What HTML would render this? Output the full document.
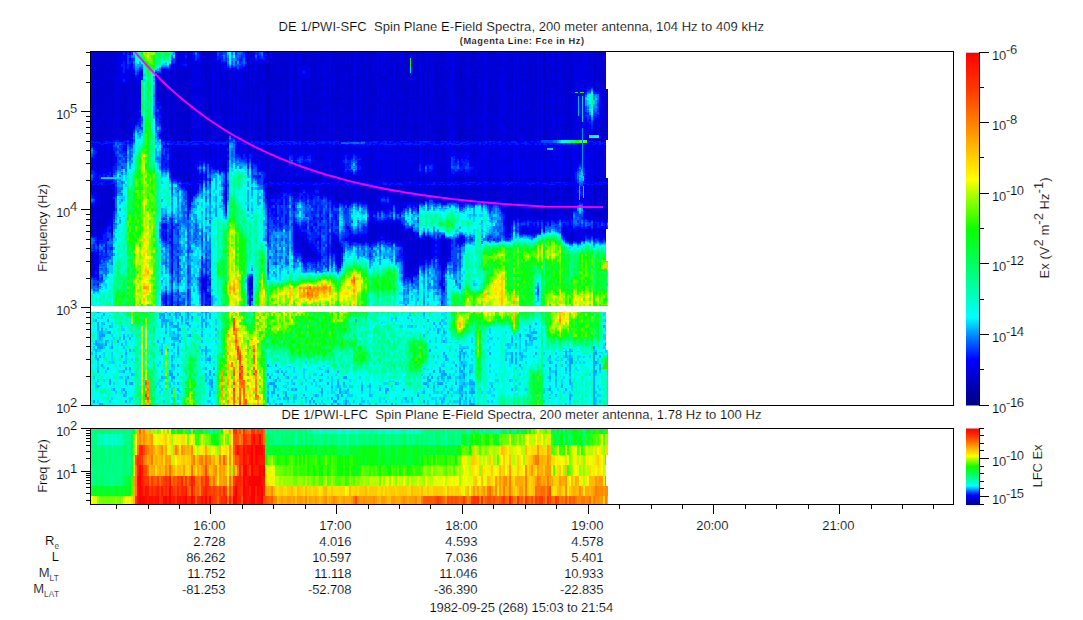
<!DOCTYPE html>
<html><head><meta charset="utf-8"><title>DE 1/PWI Spectra</title>
<style>
html,body{margin:0;padding:0;background:#fff;}
body{width:1083px;height:620px;overflow:hidden;}
svg{display:block;}
text{font-family:"Liberation Sans",sans-serif;fill:#000;stroke:#fff;stroke-width:0.16px;}
.t12{font-size:12px;}
.sup{font-size:12px;}
.ax{stroke:#000;stroke-width:1;fill:none;shape-rendering:crispEdges;}
</style></head><body>
<svg width="1083" height="620" viewBox="0 0 1083 620">
<defs>
<linearGradient id="cb" x1="0" y1="0" x2="0" y2="1">
<stop offset="0" stop-color="#ff0000"/>
<stop offset="0.1" stop-color="#ff3700"/>
<stop offset="0.2" stop-color="#ff8200"/>
<stop offset="0.3" stop-color="#ffd200"/>
<stop offset="0.36" stop-color="#ffff00"/>
<stop offset="0.4" stop-color="#afff00"/>
<stop offset="0.5" stop-color="#0aff00"/>
<stop offset="0.6" stop-color="#00ff64"/>
<stop offset="0.75" stop-color="#00ffff"/>
<stop offset="0.805" stop-color="#0080ff"/>
<stop offset="0.87" stop-color="#0000ff"/>
<stop offset="1" stop-color="#000080"/>
</linearGradient>
</defs>
<rect width="1083" height="620" fill="#fff"/>

<g fill="none" stroke-width="2" shape-rendering="crispEdges">
<path stroke="#0000a9" d="M268 52v3"/>
<path stroke="#0000bd" d="M98 64v3M98 88v6M98 103v6M98 112v3M98 127v6M98 139v2M98 187v3M98 220v12M112 193v3M112 202v3M126 97v3M162 79v9M162 91v3M164 106v1M164 108v1M172 94v3M172 119v2M172 127v6M178 85v3M178 94v3M178 112v3M178 124v3M178 139v1M184 103v3M188 73v3M188 85v3M188 91v12M188 106v9M188 119v2M188 124v12M188 139v2M188 175v6M188 185v1M206 73v3M206 106v6M206 115v3M206 121v6M206 133v3M210 67v3M210 79v3M210 85v3M210 103v6M210 121v3M210 133v3M252 64v3M252 73v3M252 85v3M252 115v3M268 58v3M268 63v16M268 82v6M268 91v50M268 154v3M268 169v3M268 175v3M268 180v2M268 185v8M270 97v3M338 52v3M338 67v3M338 88v3M338 97v3M338 119v2M338 133v3M338 196v5M350 64v3M370 109v3M370 121v3M370 193v3M392 109v3M396 76v3M418 52v6M424 52v3M424 70v3M442 55v3M442 133v3M444 130v3M460 55v6M460 64v9M460 76v3M460 91v6M460 103v3M460 119v2M460 130v10M460 190v3M460 196v3M474 58v3M474 85v3M474 94v3M474 199v1M544 52v9M544 64v9M544 79v3M544 88v9M544 100v9M544 115v3M544 119v2M544 130v10M544 185v8M544 196v9M544 208v6M544 220v3M570 178v3M594 52v6M594 61v9M594 79v3M594 132v1M594 138v1M594 187v15M594 211v6M594 229v3M594 235v3"/>
<path stroke="#0000d1" d="M94 52v9M94 67v12M94 85v15M94 103v3M94 109v3M94 115v3M94 121v3M94 130v11M94 187v5M94 207v10M94 220v3M94 226v6M94 255v1M94 259v12M96 55v24M96 82v21M96 106v12M96 119v5M96 130v11M96 185v5M96 206v5M96 220v6M96 232v1M98 52v12M98 67v21M98 94v9M98 109v3M98 115v12M98 133v6M98 145v6M98 154v18M98 178v3M98 185v2M98 190v30M98 232v3M100 52v6M100 61v45M100 109v9M100 119v2M100 124v17M100 185v14M100 205v29M102 52v30M102 85v33M102 119v22M102 154v3M102 160v3M102 185v32M102 220v6M104 55v15M104 73v9M104 85v12M104 100v18M104 119v20M104 151v6M104 166v2M104 185v5M104 193v3M104 202v25M106 52v66M106 119v22M106 145v3M106 151v3M106 157v3M106 166v2M106 185v40M108 52v12M108 67v6M108 79v18M108 100v12M108 115v3M108 119v2M108 127v6M108 136v4M108 185v35M110 52v3M110 58v48M110 109v9M110 119v20M110 151v6M110 160v6M110 185v32M112 52v88M112 152v16M112 185v8M112 196v6M112 205v13M114 55v3M114 70v6M114 85v9M114 97v12M114 112v3M114 136v3M116 52v3M116 61v3M116 70v3M116 82v3M116 94v3M116 112v3M116 119v2M116 124v3M116 130v3M118 130v3M120 83v8M120 94v24M120 119v14M120 136v3M122 85v33M122 119v20M124 86v53M126 70v3M126 85v12M126 100v40M128 85v3M128 112v6M130 71v69M132 73v60M134 82v36M134 119v2M140 94v3M158 83v2M158 92v5M160 79v20M162 70v3M162 76v3M162 88v3M162 94v12M162 109v3M162 118v6M162 136v1M164 73v33M164 107v1M164 109v9M164 119v5M164 130v6M166 72v46M166 119v21M168 82v3M168 100v6M168 112v6M170 71v5M170 79v6M170 88v3M170 94v6M170 103v15M170 119v21M172 66v1M172 69v25M172 97v22M172 121v6M172 133v8M172 145v12M172 160v6M172 172v5M174 76v3M174 85v3M174 100v3M174 121v3M174 133v3M174 139v2M176 68v50M176 121v20M176 154v3M176 163v3M176 172v3M178 52v33M178 88v6M178 97v15M178 115v9M178 127v12M178 140v1M178 145v18M178 166v12M180 67v51M180 119v22M180 145v3M180 154v6M180 163v3M180 169v3M180 174v4M182 58v3M182 70v71M182 148v3M182 154v3M182 163v3M182 172v3M184 68v2M184 71v32M184 106v35M184 148v3M184 154v3M184 160v3M184 166v3M184 172v10M186 71v47M186 119v14M186 136v5M186 157v3M186 173v2M186 179v3M188 52v21M188 76v9M188 88v3M188 103v3M188 115v4M188 121v3M188 136v3M188 145v30M188 181v1M188 186v7M190 52v9M190 67v15M190 85v33M190 119v8M190 130v11M190 157v3M190 163v3M190 172v3M190 178v4M190 185v17M192 63v1M192 88v3M192 97v3M192 103v3M194 67v3M194 79v3M194 91v3M194 103v3M194 109v3M194 127v3M194 178v3M196 88v3M196 121v3M196 130v6M198 64v3M198 85v6M198 94v3M198 119v2M198 130v3M200 76v3M200 91v3M200 103v3M202 52v89M202 145v9M202 157v3M202 176v1M202 178v2M202 277v13M204 52v3M204 61v9M204 73v3M204 88v6M204 97v3M204 106v3M204 115v3M206 52v21M206 76v30M206 112v3M206 118v3M206 127v6M206 136v5M206 145v16M206 280v3M206 298v3M208 52v21M208 76v65M208 151v3M210 52v15M210 70v9M210 82v3M210 88v15M210 109v12M210 124v9M210 136v5M210 145v15M212 52v3M212 64v3M212 91v3M212 109v3M212 115v3M214 61v3M214 97v3M216 62v14M216 79v39M216 121v15M216 139v2M216 151v3M220 63v55M220 119v11M220 133v8M220 154v3M220 163v5M220 169v3M222 76v15M222 97v3M222 103v15M222 119v2M222 124v17M224 71v2M224 79v9M224 91v3M224 100v6M224 109v9M224 119v8M224 130v3M224 136v5M226 70v71M226 151v12M226 166v2M226 185v17M228 71v20M228 94v9M228 106v12M228 124v3M228 133v3M232 71v47M232 119v13M234 82v3M234 88v3M236 71v5M236 79v21M236 103v15M236 119v17M238 112v3M240 71v2M240 91v9M240 112v6M240 121v12M240 136v5M242 76v3M242 82v3M242 88v3M242 100v6M242 109v3M242 124v6M242 136v3M244 71v8M244 88v3M244 94v3M244 100v3M244 106v3M244 112v6M244 119v2M244 130v9M246 71v5M246 79v6M246 88v12M246 103v3M246 112v3M246 119v14M246 136v4M246 148v3M248 52v3M248 58v83M248 145v3M248 151v3M250 67v3M250 94v3M250 280v3M252 52v3M252 58v6M252 67v6M252 76v9M252 88v27M252 118v23M252 145v9M252 160v3M252 283v3M254 70v3M254 76v3M254 85v21M254 109v3M254 124v6M254 133v8M256 73v3M256 82v9M256 97v3M256 115v3M256 121v9M256 133v3M256 139v1M258 62v56M258 119v22M258 148v6M258 157v5M260 64v9M260 76v30M260 112v3M260 119v11M260 136v5M262 64v3M262 79v6M262 121v3M262 127v3M264 63v28M264 94v6M264 103v12M264 121v6M264 130v9M264 151v3M266 62v79M266 148v3M266 157v3M266 163v3M266 169v3M266 185v1M268 61v2M268 79v3M268 88v3M268 145v9M268 157v12M268 172v3M268 178v2M268 193v12M268 211v1M270 62v35M270 100v18M270 119v22M270 148v9M270 175v3M270 179v3M270 185v10M272 60v31M272 94v24M272 119v17M272 154v3M272 177v5M272 185v8M274 52v39M274 94v6M274 103v15M274 119v22M274 151v3M274 172v10M274 185v8M276 52v66M276 119v22M276 145v21M276 169v13M276 185v9M278 52v6M278 61v3M278 67v3M278 73v6M278 82v12M278 97v3M278 109v3M278 115v3M278 119v14M278 166v3M278 190v2M280 52v89M280 163v6M280 172v6M280 180v2M280 185v8M282 52v18M282 73v45M282 119v22M282 163v3M282 172v3M282 178v4M282 185v2M284 58v27M284 88v3M284 100v6M284 185v1M286 52v89M286 148v3M286 154v6M286 163v3M286 175v7M288 52v39M288 94v47M288 172v3M288 181v1M292 61v3M292 70v3M292 76v6M292 100v3M292 106v6M292 181v1M292 187v5M294 52v66M294 119v22M294 145v8M294 163v3M294 169v13M294 185v11M296 55v3M296 61v21M296 85v33M296 119v22M296 178v4M296 185v9M296 235v3M298 52v6M298 64v3M298 76v3M298 88v3M298 94v15M298 115v3M298 121v6M298 130v3M298 136v3M298 175v7M298 187v6M298 231v1M298 235v6M302 52v13M302 79v9M302 91v24M302 121v9M302 133v8M302 175v6M302 238v12M304 52v13M304 79v39M304 119v22M304 169v3M304 178v4M304 238v20M306 52v14M306 79v9M306 91v50M306 145v3M306 151v2M306 167v2M306 178v4M306 185v1M306 243v15M308 52v9M308 64v1M308 79v3M308 88v3M308 94v3M308 100v12M308 115v3M308 119v2M308 124v3M308 130v6M308 178v4M308 247v3M308 256v1M310 55v3M310 61v6M310 70v6M310 79v18M310 100v27M310 130v3M310 136v5M310 181v1M310 187v6M310 247v9M312 52v66M312 119v22M312 169v3M312 174v8M312 185v1M312 187v1M312 250v9M314 52v3M314 58v42M314 103v15M314 121v20M314 164v2M314 175v7M314 253v5M316 52v45M316 100v18M316 119v22M316 148v3M316 154v6M316 172v10M316 255v3M318 58v3M318 79v3M318 85v9M318 100v12M318 115v3M318 119v5M318 136v5M318 181v1M320 52v66M320 119v22M320 148v21M320 172v10M320 185v2M320 190v3M322 55v9M322 67v3M322 76v6M322 85v6M322 97v6M322 106v3M322 112v3M322 124v3M322 130v3M322 139v2M322 157v3M322 169v3M322 175v3M322 190v3M324 55v3M324 61v3M324 73v3M324 91v3M324 97v3M324 103v3M324 112v3M324 127v6M324 185v2M324 190v3M326 58v3M326 64v3M326 76v6M326 88v3M326 100v6M326 112v3M326 121v9M326 136v5M326 151v3M326 185v8M328 52v89M328 145v6M328 163v6M328 175v7M328 185v8M330 100v3M332 52v66M332 119v8M332 130v11M332 151v3M332 160v3M332 166v6M332 175v7M332 185v12M332 247v2M334 52v15M334 70v6M334 85v6M334 94v15M334 112v3M334 133v3M334 190v3M334 241v6M336 52v89M336 145v6M336 157v6M336 169v3M336 175v7M336 185v16M336 242v8M338 55v12M338 70v18M338 91v6M338 100v19M338 121v12M338 136v5M338 145v15M338 163v19M338 185v11M338 201v1M338 244v9M338 256v2M338 259v3M340 52v6M340 61v3M340 67v6M340 76v6M340 85v6M340 94v12M340 112v3M340 119v2M340 127v14M340 181v1M340 185v5M340 196v4M340 247v3M340 253v12M342 52v21M342 79v9M342 91v9M342 103v6M342 112v6M342 121v3M342 130v3M342 136v5M342 178v4M342 185v16M344 52v30M344 88v21M344 112v6M344 119v22M344 178v4M344 185v16M346 52v6M346 64v9M346 79v12M346 94v3M346 103v9M346 115v3M346 119v8M346 139v2M346 181v1M346 190v9M348 52v66M348 119v22M348 145v3M348 176v6M348 185v16M350 52v9M350 67v51M350 119v22M350 148v3M350 176v6M350 185v17M352 52v21M352 76v15M352 94v24M352 119v22M352 176v6M352 185v16M352 239v1M354 100v3M356 76v3M356 82v6M356 119v8M356 139v2M356 199v1M358 52v89M358 148v3M358 175v7M358 187v14M358 238v3M360 52v3M360 58v3M360 67v6M360 76v3M360 103v3M360 109v3M360 119v2M360 124v6M360 181v1M360 187v6M360 196v3M360 239v2M362 52v81M362 136v5M362 177v5M362 185v16M362 239v2M364 52v3M364 58v57M364 119v22M364 154v9M364 172v3M364 181v1M364 185v8M364 196v3M364 239v2M366 64v3M366 82v3M366 88v3M366 97v3M366 109v9M366 127v3M366 139v2M366 163v3M366 178v3M366 196v3M366 239v1M368 52v89M368 157v3M368 166v3M368 175v3M368 179v3M368 185v19M368 232v9M370 52v57M370 112v6M370 119v2M370 124v17M370 145v3M370 151v31M370 185v8M370 196v15M370 219v1M370 222v22M372 52v89M372 145v6M372 154v6M372 169v3M372 173v9M372 185v11M372 199v12M372 221v21M374 52v3M374 58v6M374 73v24M374 100v12M374 115v3M374 119v5M374 127v14M374 169v3M374 181v1M374 190v12M374 222v4M374 229v12M376 55v3M376 61v15M376 79v3M376 88v15M376 106v12M376 121v3M376 127v3M376 133v3M376 139v2M376 172v3M376 178v4M376 185v8M376 196v9M376 208v2M376 223v6M376 232v3M376 238v3M378 73v3M378 97v3M378 130v3M378 190v3M378 229v3M380 52v89M380 148v3M380 163v6M380 172v10M380 185v10M380 205v5M380 223v11M382 70v9M382 82v6M382 94v3M382 103v3M382 118v3M382 124v3M382 136v3M382 185v2M382 223v3M382 229v4M384 61v6M384 76v9M384 103v6M384 112v3M384 124v6M384 136v3M384 181v1M384 187v6M384 226v3M386 55v15M386 73v21M386 97v21M386 119v14M386 136v4M386 176v6M386 185v8M386 207v2M386 223v15M388 70v9M388 82v3M388 94v6M388 109v3M388 119v8M388 136v3M388 229v3M390 52v3M390 58v6M390 67v9M390 79v3M390 85v6M390 100v6M390 112v6M390 119v8M390 130v6M390 139v2M390 187v3M390 229v11M392 52v57M392 112v6M392 119v22M392 163v3M392 173v2M392 178v4M392 185v15M392 223v18M394 58v3M394 85v3M394 91v3M394 100v3M394 106v6M394 190v3M394 232v3M396 52v24M396 79v62M396 145v9M396 157v25M396 185v19M396 220v22M398 55v3M398 61v33M398 97v21M398 124v6M398 133v8M398 145v3M398 178v3M398 185v17M398 205v1M398 223v18M400 55v3M400 64v12M400 79v12M400 97v6M400 106v3M400 112v21M400 136v5M400 169v6M400 179v3M400 185v8M400 199v6M400 208v1M400 226v9M400 238v3M402 61v6M402 70v3M402 76v18M402 97v3M402 103v3M402 112v3M402 121v15M402 177v1M402 181v1M402 185v2M402 196v3M402 232v6M404 52v51M404 106v35M404 145v6M404 157v12M404 178v4M404 185v18M404 231v13M404 250v3M406 52v66M406 119v22M406 173v2M406 185v16M406 232v24M406 262v11M408 52v6M408 61v57M408 119v2M408 124v6M408 139v2M408 151v3M408 172v3M408 178v4M408 185v8M408 199v3M408 231v25M408 259v14M410 58v6M410 73v3M410 79v3M410 85v3M410 97v3M410 103v3M410 121v3M410 133v3M410 179v2M410 187v3M410 232v3M410 265v3M412 52v89M412 148v3M412 154v6M412 163v3M412 169v3M412 175v7M412 185v17M412 231v43M414 58v6M414 67v9M414 85v15M414 103v12M414 119v22M414 145v3M414 163v3M414 175v7M414 185v16M414 237v1M414 241v6M414 250v18M416 52v18M416 73v33M416 109v9M416 119v22M416 145v6M416 176v2M416 181v1M416 187v3M416 193v8M416 238v3M416 244v18M418 58v83M418 145v37M418 185v18M418 239v29M422 52v18M422 73v12M422 88v30M422 119v14M422 136v5M422 178v4M422 185v5M422 193v8M422 239v2M422 244v13M424 55v15M424 73v68M424 145v16M424 172v10M424 185v16M424 239v20M426 97v3M428 52v89M428 148v9M428 160v1M428 174v1M428 176v6M428 185v11M428 238v21M430 55v3M430 61v3M430 67v6M430 76v3M430 85v3M430 91v3M430 106v12M430 119v5M430 133v8M430 185v2M430 240v7M430 253v3M432 79v3M432 85v3M432 97v6M432 112v3M432 119v5M432 130v6M432 190v3M434 52v89M434 148v3M434 157v3M434 175v7M434 185v11M436 52v63M436 119v22M436 151v3M436 157v3M436 169v3M436 177v5M436 185v16M438 52v39M438 94v24M438 119v22M438 148v3M438 154v3M438 163v6M438 172v3M438 178v4M438 185v16M440 52v6M440 61v3M440 67v12M440 82v6M440 91v12M440 106v12M440 119v22M440 181v1M440 185v11M440 199v1M442 52v3M442 58v75M442 136v5M442 145v15M442 163v19M442 185v16M442 239v28M442 268v1M444 52v12M444 67v63M444 133v8M444 148v3M444 154v28M444 185v16M444 240v21M444 262v1M446 52v3M446 58v9M446 70v15M446 88v9M446 100v9M446 112v6M446 119v22M446 174v1M446 178v4M446 185v16M446 241v3M446 247v3M446 253v4M446 259v2M448 70v3M448 97v3M448 103v3M448 112v3M448 130v3M448 187v3M448 193v3M448 240v1M448 250v6M450 55v3M450 61v3M450 67v3M450 73v6M450 88v3M450 94v3M450 100v3M450 106v12M450 124v3M450 187v9M454 61v3M454 67v3M454 73v3M454 79v15M454 97v3M454 109v9M454 119v2M454 124v3M454 139v2M454 180v2M454 190v3M454 196v3M456 52v89M456 145v3M456 175v7M456 185v16M458 55v3M458 61v3M458 67v33M458 103v15M458 121v20M458 148v4M458 176v2M458 179v3M458 185v2M458 190v11M460 52v3M460 61v3M460 73v3M460 79v12M460 97v6M460 106v13M460 121v9M460 140v1M460 145v6M460 154v2M460 157v3M460 174v8M460 185v5M460 193v3M460 199v6M460 239v2M462 52v89M462 145v3M462 175v7M462 185v16M464 52v89M464 151v1M464 175v7M464 185v17M466 52v18M466 73v6M466 82v3M466 88v3M466 94v9M466 106v3M466 112v6M466 119v5M466 127v14M466 187v3M466 193v8M468 79v3M468 88v3M468 97v12M468 112v3M468 130v11M468 181v1M468 196v4M470 52v39M470 94v47M470 151v1M470 176v6M470 185v16M472 52v15M472 70v48M472 119v2M472 124v17M472 145v3M472 151v6M472 175v7M472 185v16M474 52v6M474 61v24M474 88v6M474 97v21M474 119v22M474 145v17M474 172v10M474 185v14M474 200v2M476 52v12M476 67v6M476 76v42M476 119v11M476 133v8M476 178v3M476 185v5M476 199v2M478 61v12M478 76v6M478 88v9M478 100v6M478 109v3M478 115v3M478 119v5M478 127v3M478 133v3M478 174v1M478 181v1M478 185v14M480 58v12M480 73v6M480 97v6M480 109v9M480 124v6M480 133v8M480 181v1M480 187v6M480 199v2M482 52v39M482 94v24M482 119v22M482 145v3M482 154v3M482 169v3M482 175v7M482 185v16M486 67v6M486 97v3M486 106v3M486 119v2M488 52v18M488 76v21M488 100v12M488 115v3M488 119v2M488 124v17M488 160v3M488 166v3M488 175v7M488 185v16M490 52v27M490 82v36M490 119v22M490 148v3M490 154v3M490 166v3M490 173v9M490 185v16M492 52v78M492 133v8M492 151v3M492 172v3M492 178v4M492 185v16M494 52v6M494 61v3M494 67v3M494 73v3M494 79v9M494 91v24M494 119v20M494 178v4M494 185v2M494 190v10M496 55v42M496 100v18M496 119v2M496 124v15M496 148v3M496 154v6M496 175v3M496 185v16M498 52v3M498 58v9M498 70v6M498 79v3M498 85v3M498 91v12M498 106v9M498 119v2M498 130v3M498 136v5M498 178v4M498 185v5M498 193v8M500 55v3M500 64v3M500 70v3M500 91v3M500 97v3M500 121v3M500 136v5M500 185v5M500 193v6M502 64v3M502 73v3M502 97v3M502 119v2M504 106v3M504 115v3M504 119v5M504 187v3M506 55v21M506 79v15M506 97v6M506 109v9M506 119v11M506 133v8M506 151v3M506 160v3M506 173v2M506 178v4M506 185v23M506 211v3M508 55v3M508 61v9M508 73v12M508 88v6M508 106v3M508 115v3M508 124v17M508 174v1M508 178v4M508 187v3M508 199v6M508 208v24M510 52v12M510 67v63M510 133v8M510 145v3M510 157v6M510 169v3M510 175v7M510 185v23M510 211v6M510 220v1M512 52v42M512 97v21M512 119v22M512 148v3M512 154v3M512 173v9M512 185v34M514 199v3M516 52v9M516 64v63M516 130v11M516 173v9M516 185v5M516 193v24M520 52v36M520 91v27M520 119v14M520 136v3M520 145v3M520 151v6M520 177v5M520 185v33M520 231v2M522 52v30M522 88v6M522 100v3M522 106v3M522 112v6M522 119v14M522 139v1M522 154v3M522 177v1M522 180v2M522 187v3M522 193v3M522 199v3M522 208v9M522 230v2M524 73v3M524 79v3M524 100v3M524 127v3M526 52v6M526 64v12M526 79v27M526 109v15M526 127v3M526 133v3M526 139v2M526 178v4M526 187v21M526 214v3M526 231v1M528 52v3M528 58v9M528 70v9M528 82v3M528 91v3M528 97v3M528 106v12M528 119v2M528 124v17M528 185v8M528 196v3M528 205v3M528 231v1M530 52v54M530 109v9M530 119v22M530 145v3M530 154v3M530 166v3M530 177v5M530 187v3M530 193v25M530 231v1M532 52v66M532 119v22M532 151v3M532 166v3M532 178v4M532 185v32M532 230v3M534 52v6M534 61v27M534 91v18M534 115v3M534 119v2M534 124v6M534 154v3M534 175v6M534 185v20M534 208v10M534 230v2M536 52v89M536 145v3M536 151v3M536 157v6M536 174v1M536 177v5M536 185v32M536 231v2M538 88v3M538 109v3M538 193v3M538 208v6M540 52v9M540 64v66M540 133v6M540 151v6M540 163v3M540 172v3M540 181v1M540 185v5M540 193v25M542 58v3M544 61v3M544 73v6M544 82v6M544 97v3M544 109v6M544 118v1M544 121v9M544 145v37M544 193v3M544 205v3M544 214v6M544 223v1M546 58v3M546 64v3M546 70v30M546 103v9M546 115v3M546 119v21M546 175v7M546 185v2M546 190v6M546 202v15M548 55v6M548 64v6M548 76v3M548 82v3M548 91v3M548 106v3M548 112v3M548 121v3M548 136v4M548 190v3M548 196v9M550 52v6M550 64v30M550 97v3M550 103v15M550 119v14M550 136v4M550 151v3M550 163v3M550 175v7M550 185v2M550 193v24M552 61v3M552 70v3M552 82v3M552 91v3M552 136v3M552 187v3M552 202v3M554 55v3M554 61v12M554 79v6M554 97v3M554 106v12M554 127v3M554 136v4M554 185v2M554 196v3M554 208v3M554 214v3M556 52v63M556 119v21M556 174v8M556 185v29M558 61v3M558 67v6M558 82v3M558 88v3M558 94v3M558 103v15M558 127v3M558 133v3M558 173v2M558 179v3M558 187v12M558 217v1M562 52v3M562 58v24M562 85v12M562 100v6M562 109v6M562 119v2M562 124v12M562 139v1M562 174v1M562 178v4M562 185v5M562 193v21M562 231v1M564 55v9M564 67v15M564 85v9M564 103v12M564 119v2M564 124v6M564 133v3M564 139v1M564 178v3M564 187v6M564 196v15M564 231v2M566 52v57M566 112v28M566 148v3M566 154v6M566 169v3M566 178v4M566 185v32M566 231v4M568 52v6M568 61v6M568 70v9M568 82v9M568 94v3M568 100v6M568 109v9M568 119v11M568 136v4M568 178v3M568 185v14M568 202v3M568 208v3M568 214v4M568 231v1M568 235v6M570 52v88M570 148v3M570 154v21M570 181v1M570 185v26M570 214v2M570 229v12M572 52v36M572 91v18M572 112v28M572 181v1M572 185v24M572 231v10M576 55v3M576 61v3M576 67v3M576 112v3M576 127v3M576 232v3M578 55v12M578 79v3M578 91v6M578 100v6M578 112v3M578 119v2M578 133v6M578 231v1M578 235v5M580 55v3M580 61v3M580 121v3M580 199v2M584 67v9M584 82v6M584 120v1M584 130v3M584 136v3M584 197v2M584 231v2M588 55v3M588 61v6M588 70v3M588 79v3M588 199v3M588 208v6M588 231v2M590 52v15M590 70v3M590 76v8M590 131v4M590 138v1M590 178v4M590 185v8M590 196v3M590 202v15M590 231v2M594 58v3M594 70v9M594 82v8M594 91v1M594 121v11M594 133v2M594 139v2M594 145v37M594 185v2M594 202v9M594 217v6M594 226v3M594 232v2M596 52v32M596 127v8M596 138v3M596 151v3M596 157v6M596 169v3M596 176v6M596 185v33M598 52v3M598 61v3M598 67v19M598 130v3M598 138v3M598 163v3M598 173v2M598 178v3M598 185v8M598 196v3M598 211v6M598 232v2M600 52v9M600 64v15M600 82v7M600 116v2M600 120v21M600 151v6M600 160v3M600 166v16M600 185v34M600 230v3M602 52v6M602 61v6M602 70v23M602 100v3M602 110v2M602 121v20M602 154v3M602 175v3M602 181v1M602 185v8M602 196v21M602 230v3M604 52v66M604 119v22M604 157v3M604 166v3M604 174v1M604 176v6M604 185v34M604 230v3M606 52v18M606 73v45M606 119v22M606 145v3M606 157v9M606 172v10M606 185v32M606 228v1M606 230v3"/>
<path stroke="#0000e6" d="M92 52v89M92 163v5M92 185v8M92 206v14M92 223v11M92 254v21M94 61v6M94 79v6M94 100v3M94 106v3M94 112v3M94 118v3M94 124v6M94 160v8M94 185v2M94 192v2M94 205v2M94 217v3M94 223v3M94 232v3M94 253v2M94 256v3M94 271v4M96 52v3M96 79v3M96 103v3M96 118v1M96 124v6M96 145v3M96 159v13M96 180v2M96 190v6M96 199v7M96 211v9M96 226v6M96 233v2M96 254v15M96 274v2M98 151v3M98 172v2M98 175v3M98 181v1M98 235v6M98 251v15M98 268v6M100 58v3M100 106v3M100 118v1M100 121v3M100 145v26M100 181v1M100 199v6M100 234v2M102 82v3M102 118v1M102 145v9M102 157v3M102 163v7M102 181v1M102 217v3M102 226v8M104 52v3M104 70v3M104 82v3M104 97v3M104 118v1M104 139v2M104 145v6M104 157v9M104 168v1M104 190v3M104 196v6M104 227v3M106 118v1M106 148v3M106 154v3M106 160v6M106 168v4M106 179v3M106 225v3M106 244v3M108 64v3M108 73v6M108 97v3M108 112v3M108 118v1M108 121v6M108 133v3M108 140v1M108 146v2M108 149v21M108 181v1M108 220v6M110 55v3M110 106v3M110 118v1M110 139v1M110 145v6M110 157v3M110 166v6M110 179v3M110 217v4M110 229v3M112 140v1M112 148v4M112 168v9M112 179v3M112 218v4M112 223v3M112 229v5M114 52v3M114 58v12M114 76v9M114 94v3M114 109v3M114 115v21M114 139v1M114 190v3M116 55v6M116 64v6M116 73v9M116 85v9M116 97v15M116 115v4M116 121v3M116 127v3M116 133v7M118 52v78M118 133v6M120 52v3M120 58v9M120 70v13M120 91v3M120 118v1M120 133v3M120 139v2M122 67v3M122 80v2M122 83v2M122 118v1M122 139v1M124 83v3M124 139v2M126 61v3M126 76v9M126 140v1M126 145v1M128 79v6M128 88v24M128 118v21M130 64v7M130 140v1M132 71v2M132 133v2M134 74v8M134 118v1M134 121v6M136 79v45M138 80v29M140 75v1M140 78v1M140 84v4M140 91v3M140 97v6M156 82v9M156 92v14M158 74v2M158 78v5M158 85v7M158 97v3M160 75v4M160 99v2M160 109v3M162 69v1M162 73v3M162 106v3M162 112v6M162 124v3M162 131v5M162 137v4M164 72v1M164 118v1M164 124v6M164 136v2M164 139v1M166 71v1M166 118v1M166 140v1M166 226v3M166 294v1M166 296v5M166 304v2M168 71v11M168 85v15M168 106v6M168 118v22M170 70v1M170 76v3M170 85v3M170 91v3M170 100v3M170 118v1M170 140v1M170 145v3M170 151v3M170 160v12M172 63v3M172 67v2M172 157v3M172 166v6M172 177v4M172 223v3M172 232v3M172 244v6M172 256v3M172 265v6M172 296v5M172 304v3M174 66v1M174 69v7M174 79v6M174 88v12M174 103v18M174 124v9M174 136v3M174 145v32M176 55v3M176 60v8M176 118v3M176 145v9M176 157v6M176 166v6M176 175v2M178 163v3M178 178v1M180 52v15M180 118v1M180 148v6M180 160v3M180 166v3M180 172v2M180 178v3M182 52v3M182 65v5M182 145v3M182 151v3M182 157v6M182 166v6M182 175v7M184 52v3M184 58v6M184 67v1M184 70v1M184 145v3M184 151v3M184 157v3M184 163v3M184 169v3M184 185v2M186 68v3M186 118v1M186 133v3M186 145v12M186 160v13M186 175v4M186 185v1M186 187v1M188 193v15M190 61v6M190 82v3M190 118v1M190 127v3M190 145v12M190 160v3M190 166v6M190 175v3M190 202v2M192 59v4M192 64v24M192 91v6M192 100v3M192 106v35M192 145v27M192 175v7M192 185v9M194 58v9M194 70v9M194 82v9M194 94v9M194 106v3M194 112v15M194 130v11M194 145v33M194 181v1M194 185v9M196 62v26M196 91v30M196 124v6M196 136v5M196 145v15M196 166v16M196 185v8M198 61v3M198 67v18M198 91v3M198 97v22M198 121v9M198 133v8M198 145v16M198 174v7M200 59v17M200 79v12M200 94v9M200 106v35M200 145v15M200 175v3M202 154v3M202 160v5M202 170v2M202 173v3M202 177v1M202 180v1M202 272v2M202 275v2M202 290v4M202 295v3M204 55v6M204 70v3M204 76v12M204 94v3M204 100v6M204 109v6M204 118v23M204 145v15M206 161v5M206 175v3M206 275v5M206 283v6M206 295v3M206 304v2M208 73v3M208 145v6M208 154v9M210 160v7M210 295v3M210 301v3M212 55v9M212 67v24M212 94v15M212 112v3M212 118v23M212 145v16M214 52v9M214 64v33M214 100v41M214 145v23M216 52v10M216 76v3M216 118v3M216 136v3M216 145v6M216 154v15M218 61v80M218 148v3M218 154v3M218 166v3M220 61v2M220 118v1M220 130v3M220 145v9M220 157v6M220 168v1M222 65v11M222 91v6M222 100v3M222 118v1M222 121v3M222 145v23M224 68v3M224 73v6M224 88v3M224 94v6M224 106v3M224 118v1M224 127v3M224 133v3M224 145v24M226 69v1M226 145v6M226 163v3M226 168v3M226 178v4M226 202v5M226 208v2M228 70v1M228 91v3M228 103v3M228 118v6M228 127v6M228 136v4M230 70v24M230 97v37M232 70v1M232 118v1M232 132v2M234 71v11M234 85v3M234 91v27M234 119v16M236 68v3M236 76v3M236 100v3M236 118v1M236 136v4M236 148v3M238 71v41M238 115v26M238 145v3M238 151v1M240 69v2M240 73v18M240 100v12M240 118v3M240 133v3M240 145v8M242 70v6M242 79v3M242 85v3M242 91v9M242 106v3M242 112v12M242 130v6M242 139v2M242 145v8M244 69v2M244 79v9M244 91v3M244 97v3M244 103v3M244 109v3M244 118v1M244 121v9M244 139v2M244 145v8M246 64v7M246 76v3M246 85v3M246 100v3M246 106v6M246 115v4M246 133v3M246 140v1M246 145v3M246 151v3M248 55v3M248 148v3M248 154v2M248 283v3M250 52v15M250 70v24M250 97v44M250 145v8M250 279v1M250 283v22M252 55v3M252 154v4M252 163v1M254 58v12M254 73v3M254 79v6M254 106v3M254 112v12M254 130v3M254 145v9M254 157v3M256 62v11M256 76v6M256 91v6M256 100v15M256 118v3M256 130v3M256 136v3M256 140v1M256 145v17M258 60v2M258 118v1M258 145v3M258 154v3M258 162v7M260 62v2M260 73v3M260 106v6M260 115v4M260 130v6M260 145v20M262 61v3M262 67v12M262 85v36M262 124v3M262 130v11M262 145v23M264 61v2M264 91v3M264 100v3M264 115v6M264 127v3M264 139v2M264 145v6M264 154v17M266 58v4M266 145v3M266 151v6M266 160v3M266 166v3M266 172v10M266 186v4M266 193v1M266 196v3M268 55v3M268 205v4M268 212v5M268 223v3M270 57v5M270 118v1M270 145v3M270 157v18M270 178v1M270 195v3M272 52v8M272 91v3M272 118v1M272 136v5M272 145v9M272 157v20M272 193v2M272 196v2M272 202v3M274 91v3M274 100v3M274 118v1M274 145v6M274 154v18M274 193v3M276 118v1M276 166v3M276 194v5M278 58v3M278 64v3M278 70v3M278 79v3M278 94v3M278 100v9M278 112v3M278 118v1M278 133v8M278 148v18M278 169v13M278 185v5M278 192v3M278 196v3M280 145v18M280 169v3M280 178v2M280 193v3M282 70v3M282 118v1M282 145v18M282 166v6M282 175v3M282 187v6M284 52v6M284 85v3M284 91v9M284 106v35M284 145v3M284 151v31M284 186v2M286 145v3M286 151v3M286 160v3M286 166v9M286 185v4M286 190v2M286 220v3M288 91v3M288 145v15M288 163v9M288 175v6M288 185v2M290 52v39M290 94v15M290 112v6M290 119v5M290 130v11M290 145v3M290 168v14M290 185v2M292 52v9M292 64v6M292 73v3M292 82v18M292 103v3M292 112v29M292 145v8M292 166v15M292 185v2M292 192v3M294 118v1M294 153v7M294 161v2M294 166v3M294 196v1M294 199v3M294 226v3M294 231v7M294 241v6M296 52v3M296 58v3M296 82v3M296 118v1M296 145v9M296 165v13M296 194v2M296 230v5M296 238v11M298 58v6M298 67v9M298 79v9M298 91v3M298 109v6M298 118v3M298 127v3M298 133v3M298 139v2M298 145v9M298 167v8M298 185v2M298 193v1M298 228v3M298 232v3M298 241v10M300 52v15M300 70v3M300 76v65M300 145v8M300 167v15M300 185v5M300 231v4M300 237v14M302 65v4M302 76v3M302 88v3M302 115v6M302 130v3M302 145v9M302 165v1M302 167v8M302 181v1M302 185v2M302 235v3M302 250v6M304 65v5M304 75v4M304 118v1M304 145v11M304 163v6M304 172v6M304 185v5M304 234v1M304 236v2M304 258v4M306 66v3M306 70v9M306 88v3M306 148v3M306 153v4M306 163v4M306 169v9M306 186v5M306 202v1M306 238v5M306 258v3M308 61v3M308 65v4M308 70v9M308 82v6M308 91v3M308 97v3M308 112v3M308 118v1M308 121v3M308 127v3M308 136v5M308 145v8M308 167v11M308 185v5M308 243v4M308 250v6M308 257v2M310 52v3M310 58v3M310 67v3M310 76v3M310 97v3M310 127v3M310 133v3M310 145v8M310 168v13M310 185v2M310 193v2M310 245v2M310 256v3M312 118v1M312 145v11M312 160v9M312 172v2M312 186v1M312 188v5M312 196v1M312 245v5M312 259v1M314 55v3M314 100v3M314 118v3M314 145v9M314 157v3M314 162v2M314 166v9M314 185v3M314 190v3M314 217v3M314 223v3M314 251v2M314 258v1M316 97v3M316 118v1M316 145v3M316 151v3M316 160v12M316 185v3M316 249v6M316 258v2M318 52v6M318 61v18M318 82v3M318 94v6M318 112v3M318 118v1M318 124v12M318 145v24M318 172v9M318 185v2M318 256v1M320 118v1M320 145v3M320 169v3M320 187v3M320 193v3M320 244v3M322 52v3M322 64v3M322 70v6M322 82v3M322 91v6M322 103v3M322 109v3M322 115v9M322 127v3M322 133v6M322 145v12M322 160v9M322 172v3M322 178v4M322 185v5M322 193v2M322 196v1M324 52v3M324 58v3M324 64v9M324 76v15M324 94v3M324 100v3M324 106v6M324 115v12M324 133v8M324 145v37M324 187v3M324 193v1M326 52v6M326 61v3M326 67v9M326 82v6M326 91v9M326 106v6M326 115v6M326 130v6M326 145v6M326 154v28M326 193v1M328 151v12M328 169v6M328 193v6M328 244v3M330 52v48M330 103v38M330 148v12M330 166v16M330 185v10M332 118v1M332 127v3M332 145v6M332 154v6M332 163v3M332 172v3M332 197v4M332 202v2M332 236v11M332 249v1M334 67v3M334 76v9M334 91v3M334 109v3M334 115v18M334 136v5M334 145v37M334 185v5M334 193v10M334 236v5M334 247v5M336 151v6M336 163v6M336 172v3M336 201v3M336 235v7M336 250v4M336 256v3M338 160v3M338 202v4M338 239v5M338 253v3M338 258v1M338 262v5M340 58v3M340 64v3M340 73v3M340 82v3M340 91v3M340 106v6M340 115v4M340 121v6M340 145v36M340 190v6M340 200v2M340 244v3M340 250v3M340 265v2M342 73v6M342 88v3M342 100v3M342 109v3M342 118v3M342 124v6M342 133v3M342 145v12M342 169v9M342 201v1M344 82v6M344 109v3M344 118v1M344 145v9M344 174v4M344 201v2M346 58v6M346 73v6M346 91v3M346 97v6M346 112v3M346 118v1M346 127v12M346 145v9M346 175v6M346 185v5M346 199v5M348 118v1M348 148v8M348 157v1M348 174v2M348 201v6M348 236v2M350 61v3M350 118v1M350 145v3M350 151v5M350 157v2M350 173v3M350 202v1M350 235v7M352 73v3M352 91v3M352 118v1M352 145v10M352 174v2M352 201v1M352 237v2M352 240v2M354 52v21M354 76v24M354 103v15M354 119v22M354 145v3M354 151v1M354 176v6M354 185v16M354 238v3M356 52v24M356 79v3M356 88v31M356 127v12M356 145v8M356 176v6M356 185v14M356 200v2M356 237v4M358 145v3M358 151v4M358 173v2M358 185v2M358 201v1M358 235v3M358 241v1M360 55v3M360 61v6M360 73v3M360 79v24M360 106v3M360 112v7M360 121v3M360 130v11M360 145v8M360 175v6M360 185v2M360 193v3M360 199v3M360 238v1M360 241v1M362 133v3M362 145v8M362 154v12M362 169v8M362 201v1M362 236v3M362 241v1M364 55v3M364 115v4M364 145v9M364 163v9M364 175v6M364 193v3M364 199v4M364 236v3M364 241v2M366 52v12M366 67v15M366 85v3M366 91v6M366 100v9M366 118v9M366 130v9M366 145v18M366 166v12M366 181v1M366 185v11M366 199v3M366 237v2M366 240v1M368 145v12M368 160v6M368 169v6M368 178v1M368 204v4M368 226v6M368 241v1M370 118v1M370 148v3M370 211v8M370 220v2M370 244v1M372 151v3M372 160v9M372 172v1M372 196v3M372 211v4M372 217v4M372 242v2M374 55v3M374 64v9M374 97v3M374 112v3M374 118v1M374 124v3M374 145v24M374 172v9M374 185v5M374 202v10M374 220v2M374 226v3M374 241v1M376 52v3M376 58v3M376 76v3M376 82v6M376 103v3M376 118v3M376 124v3M376 130v3M376 136v3M376 145v27M376 175v3M376 193v3M376 205v3M376 210v2M376 221v2M376 229v3M376 235v3M376 241v1M378 52v21M378 76v21M378 100v30M378 133v8M378 145v3M378 151v3M378 157v9M378 169v3M378 173v9M378 185v5M378 193v16M378 223v6M378 232v7M380 145v3M380 151v12M380 169v3M380 195v3M380 199v6M380 210v1M380 222v1M380 234v5M382 52v18M382 79v3M382 88v6M382 97v6M382 106v12M382 121v3M382 127v9M382 139v2M382 145v37M382 187v7M382 205v4M382 222v1M382 226v3M382 233v2M384 52v9M384 67v9M384 85v18M384 109v3M384 115v9M384 130v6M384 139v2M384 145v36M384 185v2M384 193v3M384 203v7M384 222v4M384 229v8M386 52v3M386 70v3M386 94v3M386 118v1M386 133v3M386 140v1M386 145v31M386 193v4M386 202v5M386 209v1M386 221v2M386 238v3M388 52v18M388 79v3M388 85v9M388 100v9M388 112v7M388 127v9M388 139v2M388 145v37M388 185v10M388 205v5M388 220v9M388 232v9M390 55v3M390 64v3M390 76v3M390 82v3M390 91v9M390 106v6M390 118v1M390 127v3M390 136v3M390 145v37M390 185v2M390 190v7M390 222v7M390 240v1M392 118v1M392 145v18M392 166v7M392 175v3M392 200v6M392 208v1M392 218v2M392 221v2M392 241v1M394 52v6M394 61v24M394 88v3M394 94v6M394 103v3M394 112v29M394 145v38M394 185v5M394 193v10M394 222v10M394 235v6M396 154v3M396 204v2M396 208v2M396 211v1M396 242v2M398 52v3M398 58v3M398 94v3M398 118v6M398 130v3M398 148v30M398 181v1M398 202v3M398 206v4M398 211v1M398 222v1M398 241v2M400 52v3M400 58v6M400 76v3M400 91v6M400 103v3M400 109v3M400 133v3M400 145v24M400 175v4M400 193v6M400 205v3M400 209v2M400 221v5M400 235v3M400 241v3M402 52v9M402 67v3M402 73v3M402 94v3M402 100v3M402 106v6M402 115v6M402 136v5M402 145v32M402 178v3M402 187v9M402 199v11M402 227v5M402 238v6M404 103v3M404 151v6M404 169v9M404 203v5M404 228v3M404 244v6M404 253v6M404 262v3M406 118v1M406 145v28M406 175v7M406 201v3M406 231v1M406 256v6M406 273v3M408 58v3M408 118v1M408 121v3M408 130v9M408 142v1M408 145v6M408 154v18M408 175v3M408 193v6M408 202v2M408 230v1M408 256v3M408 273v4M410 52v6M410 64v9M410 76v3M410 82v3M410 88v9M410 100v3M410 106v15M410 124v9M410 136v5M410 145v15M410 163v16M410 181v1M410 185v2M410 190v12M410 231v1M410 235v30M410 268v7M412 145v3M412 151v3M412 160v3M412 166v3M412 172v3M412 202v4M412 229v2M412 274v6M414 52v6M414 64v3M414 76v9M414 100v3M414 115v4M414 148v15M414 166v9M414 184v1M414 201v3M414 233v4M414 238v3M414 247v3M414 268v6M416 70v3M416 106v3M416 118v1M416 151v25M416 178v3M416 185v2M416 190v3M416 201v4M416 237v1M416 241v3M416 262v8M418 203v2M418 236v3M418 268v3M420 52v12M420 67v24M420 94v24M420 119v22M420 177v5M420 185v16M420 239v11M420 253v9M422 70v3M422 85v3M422 118v1M422 133v3M422 145v18M422 172v6M422 182v1M422 190v3M422 201v1M422 237v2M422 241v3M422 257v6M424 161v8M424 171v1M424 201v2M424 236v3M424 259v6M426 52v45M426 100v41M426 145v16M426 176v6M426 185v11M426 239v19M428 145v3M428 157v3M428 161v2M428 169v5M428 175v1M428 196v6M428 235v3M428 259v3M430 52v3M430 58v3M430 64v3M430 73v3M430 79v6M430 88v3M430 94v12M430 118v1M430 124v9M430 145v15M430 174v8M430 187v9M430 238v2M430 247v6M430 256v4M432 52v27M432 82v3M432 88v9M432 103v9M432 115v4M432 124v6M432 136v5M432 145v17M432 175v7M432 185v5M432 193v6M432 244v3M432 256v1M434 145v3M434 151v6M434 160v7M434 169v6M434 196v4M436 115v4M436 145v6M436 154v3M436 160v9M436 172v5M436 201v1M438 91v3M438 118v1M438 145v3M438 151v3M438 157v6M438 169v3M438 175v3M438 201v1M438 250v7M440 58v3M440 64v3M440 79v3M440 88v3M440 103v3M440 118v1M440 145v36M440 196v3M440 200v1M440 240v10M440 253v6M442 160v3M442 201v2M442 236v3M442 267v1M442 269v5M442 277v12M444 64v3M444 145v3M444 151v3M444 201v2M444 239v1M444 261v1M444 263v5M446 55v3M446 67v3M446 85v3M446 97v3M446 109v3M446 118v1M446 145v29M446 175v3M446 201v1M446 239v2M446 244v3M446 250v3M446 257v2M446 261v1M448 52v18M448 73v24M448 100v3M448 106v6M448 115v15M448 133v8M448 145v15M448 163v19M448 185v2M448 190v3M448 196v6M448 239v1M448 241v9M448 256v2M450 52v3M450 58v3M450 64v3M450 70v3M450 79v9M450 91v3M450 97v3M450 103v3M450 118v6M450 127v14M450 145v10M450 160v3M450 171v11M450 185v2M450 196v5M450 240v4M450 247v9M452 52v89M452 175v7M452 185v16M454 52v9M454 64v3M454 70v3M454 76v3M454 94v3M454 100v9M454 118v1M454 121v3M454 127v12M454 145v8M454 175v5M454 185v5M454 193v3M454 199v2M456 148v8M456 173v2M456 201v1M458 52v3M458 58v3M458 64v3M458 100v3M458 118v3M458 145v3M458 152v2M458 174v2M458 178v1M458 187v3M458 201v1M458 240v2M460 151v3M460 156v1M460 171v3M460 205v1M460 236v3M460 241v2M460 244v2M462 148v9M462 172v3M462 201v1M462 239v3M464 145v6M464 152v2M464 170v2M464 173v2M466 70v3M466 79v3M466 85v3M466 91v3M466 103v3M466 109v3M466 118v1M466 124v3M466 145v8M466 173v9M466 185v2M466 190v3M466 201v1M468 52v27M468 82v6M468 91v6M468 109v3M468 115v15M468 148v5M468 175v6M468 185v11M468 200v2M470 91v3M470 145v6M470 152v14M470 173v3M470 201v1M472 67v3M472 118v1M472 121v3M472 148v3M472 157v6M472 172v3M472 201v2M474 118v1M474 162v4M474 169v3M474 202v1M476 64v3M476 73v3M476 118v1M476 130v3M476 145v24M476 173v5M476 181v1M476 190v9M476 201v1M478 52v9M478 73v3M478 82v6M478 97v3M478 106v3M478 112v3M478 118v1M478 124v3M478 130v3M478 136v5M478 145v29M478 175v6M478 199v2M480 52v6M480 70v3M480 79v18M480 103v6M480 118v6M480 130v3M480 145v36M480 185v2M480 193v6M480 201v1M482 91v3M482 118v1M482 148v6M482 157v12M482 172v3M482 201v1M484 52v66M484 119v22M484 145v3M484 151v3M484 160v3M484 169v3M484 174v1M484 178v4M484 185v16M486 52v15M486 73v24M486 100v6M486 109v10M486 121v20M486 145v37M486 185v17M488 70v6M488 97v3M488 112v3M488 118v1M488 121v3M488 145v15M488 163v3M488 169v6M488 201v2M490 79v3M490 118v1M490 145v3M490 151v3M490 157v9M490 169v4M490 201v4M492 130v3M492 145v6M492 154v18M492 175v3M492 201v1M494 58v3M494 64v3M494 70v3M494 76v3M494 88v3M494 115v4M494 139v2M494 145v33M494 187v3M494 200v2M496 52v3M496 97v3M496 118v1M496 121v3M496 139v2M496 145v3M496 151v3M496 160v15M496 178v4M496 201v1M498 55v3M498 67v3M498 76v3M498 82v3M498 88v3M498 103v3M498 115v4M498 121v9M498 133v3M498 145v33M498 190v3M498 201v1M500 52v3M500 58v6M500 67v3M500 73v18M500 94v3M500 100v21M500 124v12M500 145v9M500 157v25M500 190v3M500 199v5M502 52v12M502 67v6M502 76v21M502 100v19M502 121v20M502 148v21M502 172v10M502 185v25M504 52v54M504 109v6M504 118v1M504 124v17M504 145v21M504 172v10M504 185v2M504 190v20M506 52v3M506 76v3M506 94v3M506 103v6M506 118v1M506 130v3M506 145v6M506 154v6M506 163v10M506 175v3M506 184v1M506 208v3M506 214v21M508 52v3M508 58v3M508 70v3M508 85v3M508 94v12M508 109v6M508 118v6M508 145v29M508 175v3M508 185v2M508 190v9M508 205v3M508 232v3M510 64v3M510 130v3M510 148v9M510 163v6M510 172v3M510 208v3M510 217v3M510 221v11M512 94v3M512 118v1M512 145v3M512 151v3M512 157v16M512 219v6M514 52v89M514 151v3M514 157v3M514 163v3M514 169v3M514 175v3M514 181v1M514 185v14M514 202v16M516 61v3M516 127v3M516 145v28M516 190v3M516 217v3M518 52v89M518 145v12M518 173v5M518 179v3M518 185v32M520 88v3M520 118v1M520 133v3M520 139v2M520 148v3M520 157v20M520 182v1M520 218v3M520 228v3M520 233v1M522 82v6M522 94v6M522 103v3M522 109v3M522 118v1M522 133v6M522 140v1M522 145v9M522 157v20M522 178v2M522 185v2M522 190v3M522 196v3M522 202v6M522 217v2M522 228v2M522 232v1M524 52v21M524 76v3M524 82v18M524 103v24M524 130v11M524 145v37M524 185v34M524 228v5M526 58v6M526 76v3M526 106v3M526 124v3M526 130v3M526 136v3M526 145v33M526 185v2M526 208v6M526 217v3M526 227v4M526 232v1M528 55v3M528 67v3M528 79v3M528 85v6M528 94v3M528 100v6M528 118v1M528 121v3M528 145v37M528 193v3M528 199v6M528 208v11M528 229v2M528 232v1M530 106v3M530 118v1M530 148v6M530 157v9M530 169v8M530 185v2M530 190v3M530 218v2M530 225v1M530 229v2M530 232v1M532 118v1M532 145v6M532 154v12M532 169v9M532 217v3M532 226v4M532 233v1M534 58v3M534 88v3M534 109v6M534 118v1M534 121v3M534 130v11M534 145v9M534 157v18M534 181v1M534 205v3M534 218v2M534 226v4M534 232v1M536 148v3M536 154v3M536 163v11M536 175v2M536 217v3M536 227v4M538 52v36M538 91v18M538 112v29M538 145v21M538 169v13M538 185v8M538 196v12M538 214v5M538 230v3M540 61v3M540 130v3M540 139v2M540 145v6M540 157v6M540 166v6M540 175v6M540 190v3M540 218v2M540 227v5M542 52v6M542 61v79M542 148v6M542 157v3M542 169v3M542 175v7M542 185v34M544 224v3M546 52v6M546 61v3M546 67v3M546 100v3M546 112v3M546 118v1M546 145v30M546 187v3M546 196v6M546 217v2M548 52v3M548 61v3M548 70v6M548 79v3M548 85v6M548 94v12M548 109v3M548 115v6M548 124v12M548 145v3M548 150v32M548 185v5M548 193v3M548 205v13M550 58v6M550 94v3M550 100v3M550 118v1M550 133v3M550 145v3M550 150v1M550 154v9M550 166v9M550 187v6M550 217v6M552 52v9M552 64v6M552 73v9M552 85v6M552 94v42M552 139v1M552 145v3M552 150v32M552 185v2M552 190v12M552 205v13M554 52v3M554 58v3M554 73v6M554 85v12M554 100v6M554 118v9M554 130v6M554 145v37M554 187v9M554 199v9M554 211v3M554 217v2M556 115v4M556 145v29M556 214v5M558 52v9M558 64v3M558 73v9M558 85v3M558 91v3M558 97v6M558 118v9M558 130v3M558 136v4M558 145v28M558 175v4M558 185v2M558 199v18M558 218v2M560 52v88M560 163v3M560 174v1M560 177v5M560 185v32M562 55v3M562 82v3M562 97v3M562 106v3M562 115v4M562 121v3M562 136v3M562 145v29M562 175v3M562 190v3M562 214v6M562 229v2M562 232v2M564 52v3M564 64v3M564 82v3M564 94v9M564 115v4M564 121v3M564 130v3M564 136v3M564 145v33M564 181v1M564 185v2M564 193v3M564 211v8M564 228v3M564 233v2M566 109v3M566 145v3M566 151v3M566 160v9M566 172v6M566 217v3M566 227v4M566 235v3M568 58v3M568 67v3M568 79v3M568 91v3M568 97v3M568 106v3M568 118v1M568 130v6M568 145v33M568 181v1M568 199v3M568 205v3M568 211v3M568 218v2M568 229v2M568 232v3M570 145v3M570 151v3M570 175v3M570 211v3M570 216v5M570 225v4M570 241v1M572 88v3M572 109v3M572 145v36M572 209v4M572 214v3M572 227v4M572 241v1M574 55v48M574 106v6M574 115v21M574 139v1M574 163v3M574 178v3M574 185v5M574 193v16M574 231v10M576 52v3M576 58v3M576 64v3M576 70v42M576 115v12M576 130v10M576 145v24M576 185v5M576 194v10M576 231v1M576 235v6M578 52v3M578 67v12M578 82v9M578 97v3M578 106v6M578 115v4M578 121v12M578 139v1M578 145v20M578 195v8M578 229v2M578 232v3M578 240v2M580 52v3M580 58v3M580 64v54M580 119v2M580 124v16M580 145v18M580 197v2M580 201v1M580 229v12M582 52v54M582 107v33M582 151v3M582 197v5M582 229v9M584 52v15M584 76v6M584 88v6M584 100v3M584 108v1M584 112v8M584 121v9M584 133v3M584 139v1M584 145v6M584 157v8M584 186v5M584 194v3M584 199v5M584 229v2M584 233v3M584 238v2M586 52v35M586 88v1M586 123v1M586 127v13M586 148v3M586 154v3M586 166v3M586 185v23M586 211v7M586 230v3M588 52v3M588 58v3M588 67v3M588 73v6M588 82v5M588 125v16M588 145v24M588 172v10M588 185v14M588 202v6M588 214v5M588 228v3M588 233v3M590 67v3M590 73v3M590 84v3M590 128v3M590 139v2M590 145v33M590 193v3M590 199v3M590 217v3M590 227v4M590 233v2M592 52v33M592 130v5M592 138v3M592 145v3M592 160v9M592 175v7M592 185v34M592 230v4M594 90v1M594 92v1M594 116v2M594 223v3M594 234v1M594 238v3M596 84v5M596 121v6M596 145v6M596 154v3M596 163v6M596 172v4M596 218v2M596 230v8M598 55v6M598 64v3M598 86v5M598 118v3M598 124v6M598 133v2M598 145v18M598 166v7M598 175v3M598 181v1M598 193v3M598 199v12M598 217v3M598 229v3M598 234v2M600 61v3M600 79v3M600 89v6M600 97v3M600 103v13M600 118v2M600 145v6M600 157v3M600 163v3M600 219v2M600 229v1M600 233v5M602 58v3M602 67v3M602 93v7M602 103v7M602 112v9M602 145v9M602 157v18M602 178v3M602 193v3M602 217v3M602 228v2M602 233v4M604 118v1M604 145v12M604 160v6M604 169v5M604 175v1M604 219v2M604 228v2M604 233v5M606 70v3M606 118v1M606 148v9M606 166v6M606 217v4M606 226v2M606 229v1M606 233v4M606 238v1M608 52v15M608 76v24M608 103v12M608 119v2M608 124v17M608 145v3M608 175v3M608 180v2M608 185v14M608 202v3M608 208v3M608 231v3"/>
<path stroke="#0000fa" d="M92 143v1M92 145v1M92 158v5M92 168v2M92 181v4M92 193v2M92 204v2M92 220v3M92 234v2M92 252v2M92 275v2M94 141v1M94 143v7M94 155v2M94 158v2M94 168v3M94 178v6M94 194v5M94 203v2M94 235v2M94 249v1M94 251v2M94 275v3M96 141v1M96 143v2M96 148v3M96 154v5M96 172v2M96 175v5M96 183v2M96 196v3M96 235v2M96 241v2M96 252v2M96 269v2M96 276v1M98 141v1M98 143v2M98 174v1M98 182v2M98 241v5M98 249v2M98 266v2M98 274v6M98 283v2M100 141v2M100 144v1M100 171v4M100 179v2M100 182v1M100 184v1M100 236v4M100 241v1M102 141v3M102 170v7M102 179v2M102 234v6M102 241v1M104 141v2M104 144v1M104 169v5M104 179v3M104 183v2M104 230v4M106 144v1M106 172v2M106 175v2M106 182v3M106 228v4M106 247v6M108 142v1M108 144v2M108 148v1M108 170v5M108 179v2M108 182v3M108 226v1M108 238v3M110 140v2M110 143v2M110 182v3M110 221v5M112 141v1M112 143v5M112 182v1M112 184v1M112 222v1M112 226v3M112 234v1M114 140v1M114 151v15M114 184v6M114 193v4M114 199v12M116 157v6M118 139v1M120 55v3M120 67v3M120 141v1M122 52v12M122 70v10M122 82v1M122 140v2M124 55v6M124 73v6M124 82v1M124 145v6M126 52v9M126 64v6M126 73v3M126 142v2M126 146v5M128 69v10M128 139v1M130 52v3M130 58v3M130 141v3M132 63v8M132 135v3M132 139v2M134 70v4M134 127v2M136 77v2M136 124v1M138 75v5M138 109v13M140 71v4M140 76v2M140 79v5M140 88v3M140 103v7M140 112v6M142 70v6M142 79v1M156 76v6M156 91v1M156 112v5M156 118v3M158 73v1M158 76v2M158 100v2M158 103v6M160 73v2M160 101v5M160 112v3M160 118v2M160 121v2M160 132v1M160 134v3M162 68v1M162 127v4M162 141v1M162 143v1M162 154v3M162 160v9M162 224v5M162 232v3M162 298v3M164 69v3M164 138v1M164 140v1M164 145v3M164 159v1M164 223v6M164 235v4M166 69v2M166 142v1M166 144v4M166 151v6M166 163v3M166 223v3M166 232v9M166 293v1M166 295v1M166 301v3M166 306v1M168 69v2M168 140v1M168 145v3M170 66v1M170 68v2M170 142v1M170 148v3M170 154v6M170 172v2M170 175v2M170 235v3M170 241v3M170 307v2M172 61v2M172 141v2M172 226v6M172 235v9M172 250v6M172 262v3M172 271v3M172 292v4M172 301v3M174 64v2M174 67v2M174 141v1M174 143v2M174 177v2M176 52v3M176 58v2M176 141v3M176 177v2M178 179v3M178 262v6M178 304v3M180 142v1M182 55v3M182 61v4M182 141v3M182 182v1M182 185v3M184 55v3M184 65v2M184 143v1M184 182v1M184 184v1M186 52v3M186 58v6M186 66v2M186 142v1M186 183v2M186 186v1M186 188v2M188 141v1M188 182v1M188 184v1M188 208v8M188 289v6M190 141v1M190 143v2M190 182v2M190 204v3M192 52v7M192 143v1M192 172v3M192 182v3M192 194v5M194 55v3M194 142v1M194 182v3M194 194v2M196 61v1M196 142v1M196 160v6M196 182v3M196 193v1M198 58v3M198 142v1M198 161v5M198 170v4M198 181v2M198 184v6M200 52v7M200 142v3M200 160v1M200 163v1M200 178v2M200 181v2M202 142v3M202 165v1M202 169v1M202 172v1M202 181v5M202 258v1M202 262v3M202 271v1M202 274v1M202 294v1M202 298v8M204 142v1M204 144v1M204 160v1M204 278v12M206 141v2M206 166v1M206 170v5M206 178v3M206 184v3M206 274v1M206 289v6M206 306v1M208 141v1M208 143v1M208 279v1M208 294v4M210 142v3M210 167v5M210 178v3M210 283v2M210 304v1M212 141v1M212 144v1M212 161v6M214 143v2M214 168v1M216 141v2M216 144v1M216 169v1M218 60v1M218 141v1M218 145v3M218 151v3M218 157v9M220 58v3M220 142v1M220 144v1M220 172v1M222 62v3M222 141v1M222 144v1M222 168v3M224 63v5M224 141v1M224 169v2M224 193v3M226 62v7M226 171v7M226 182v1M226 207v1M226 210v1M228 68v2M228 140v2M228 143v5M228 151v3M228 157v3M230 94v3M230 134v1M232 66v1M232 68v2M232 134v4M234 68v3M234 118v1M234 135v1M236 67v1M236 140v1M236 145v3M236 151v3M238 70v1M238 142v3M238 148v3M238 152v2M240 67v2M240 142v3M240 153v3M242 66v1M242 68v2M242 142v1M242 144v1M242 153v6M244 67v2M244 153v1M246 52v9M246 141v2M246 154v3M248 141v1M248 156v7M248 166v2M248 289v1M250 141v2M250 153v1M250 278v1M252 143v1M252 158v2M252 164v4M252 277v6M252 286v3M252 292v2M254 52v6M254 141v2M254 154v3M254 160v3M256 60v2M256 143v2M256 162v2M258 56v4M258 142v1M258 144v1M258 169v3M258 178v1M260 59v3M260 141v1M260 143v2M260 165v7M260 175v3M262 59v2M262 141v1M262 168v3M264 52v6M264 60v1M264 141v2M264 144v1M264 171v1M264 178v6M266 52v3M266 56v2M266 142v3M266 182v1M266 190v3M266 194v2M268 141v1M268 143v1M268 182v3M268 209v2M268 217v3M268 226v3M268 232v11M270 52v5M270 141v2M270 183v2M270 198v10M272 141v2M272 144v1M272 182v1M272 184v1M272 195v1M272 198v1M272 208v6M274 141v1M274 143v1M274 182v3M274 196v3M274 202v3M274 208v3M274 214v3M274 220v3M276 142v1M276 182v3M276 199v3M276 205v12M276 223v1M278 141v1M278 143v1M278 145v3M278 182v1M278 184v1M278 195v1M280 144v1M280 182v2M280 196v3M280 202v3M280 217v3M280 223v4M282 142v2M282 182v3M282 193v4M282 199v6M282 211v3M282 223v1M284 142v3M284 148v3M284 183v2M284 188v5M286 141v1M286 143v2M286 182v3M286 189v1M286 192v1M286 196v9M286 214v6M288 142v1M288 144v1M288 160v3M288 182v1M288 184v1M288 187v7M290 91v3M290 109v3M290 118v1M290 124v6M290 142v1M290 148v7M290 166v2M290 182v3M290 187v6M292 143v2M292 153v2M292 182v3M292 195v1M294 160v1M294 182v1M294 184v1M294 197v2M294 205v6M294 217v9M294 229v2M294 238v3M294 247v3M294 253v3M296 141v1M296 144v1M296 154v6M296 161v4M296 182v3M296 196v3M296 224v6M296 249v4M298 141v2M298 144v1M298 154v4M298 163v4M298 182v2M298 194v3M298 226v2M298 251v2M300 67v3M300 73v3M300 153v3M300 166v1M300 182v3M300 190v3M300 229v2M300 235v2M300 251v2M302 69v7M302 141v4M302 154v2M302 163v2M302 166v1M302 182v1M302 184v1M302 187v6M302 196v3M302 225v4M302 232v3M302 256v2M302 259v2M304 70v1M304 73v2M304 141v2M304 144v1M304 156v4M304 161v2M304 182v3M304 193v3M304 226v3M304 232v2M304 235v1M304 262v2M306 69v1M306 142v3M306 157v2M306 161v2M306 182v3M306 191v7M306 199v2M306 203v2M306 224v5M306 232v6M306 261v2M308 69v1M308 142v1M308 144v1M308 153v3M308 162v5M308 182v3M308 190v4M308 239v4M308 259v3M310 141v2M310 153v2M310 163v5M310 182v3M310 195v4M310 220v3M310 226v3M310 243v2M310 259v2M312 142v1M312 144v1M312 156v4M312 182v3M312 193v3M312 197v3M312 211v3M312 226v6M312 241v4M312 260v2M314 141v1M314 154v3M314 160v2M314 182v2M314 188v2M314 193v2M314 196v1M314 244v7M314 259v3M316 141v4M316 182v1M316 188v2M316 193v3M316 205v3M316 223v3M316 238v6M316 247v2M316 260v4M316 265v2M318 142v1M318 144v1M318 169v3M318 182v3M318 187v3M318 193v3M318 238v3M318 252v1M318 254v2M318 257v3M320 141v1M320 143v2M320 182v2M320 196v3M320 211v6M320 220v3M320 226v6M320 235v9M320 247v3M320 253v9M322 144v1M322 182v1M322 184v1M322 195v1M322 197v2M322 217v3M324 144v1M324 182v1M324 184v1M324 194v2M326 141v1M326 143v2M326 182v3M326 194v3M328 142v3M328 182v1M328 184v1M328 199v3M328 205v3M328 214v3M328 220v3M328 226v3M328 235v9M328 247v12M330 144v4M330 160v6M330 182v3M330 195v5M332 141v1M332 143v2M332 182v3M332 201v1M332 204v7M332 217v3M332 223v3M332 229v7M332 250v8M334 182v3M334 203v2M334 234v2M334 252v1M336 143v2M336 182v3M336 204v4M336 214v6M336 229v3M336 254v2M336 259v6M338 142v1M338 144v1M338 183v2M338 206v2M338 237v2M338 267v1M340 141v3M340 182v3M340 202v1M340 243v1M340 267v1M342 141v1M342 144v1M342 157v12M342 182v3M342 202v2M342 247v6M344 141v1M344 144v1M344 154v6M344 163v11M344 182v3M344 203v3M346 141v1M346 154v1M346 172v3M346 182v1M346 184v1M346 204v1M346 238v3M348 156v1M348 158v2M348 163v3M348 170v4M348 183v1M348 207v1M348 226v3M348 235v1M348 238v3M350 144v1M350 156v1M350 159v1M350 171v2M350 183v2M350 203v2M350 230v5M350 242v3M352 141v1M352 144v1M352 155v3M352 172v2M352 182v3M352 202v1M352 234v3M352 242v1M354 73v3M354 118v1M354 148v3M354 152v2M354 175v1M354 182v1M354 184v1M354 201v1M354 236v2M354 241v1M356 153v3M356 172v4M356 182v3M356 235v2M356 241v1M358 141v1M358 144v1M358 155v4M358 160v13M358 183v2M358 202v2M358 234v1M358 242v1M360 141v1M360 153v5M360 160v6M360 170v5M360 182v1M360 184v1M360 234v1M360 236v2M360 242v1M362 153v1M362 166v3M362 182v1M362 184v1M362 202v2M362 234v2M362 242v1M364 182v1M364 184v1M364 203v2M364 233v3M364 243v1M366 141v1M366 143v2M366 182v3M366 202v2M366 234v3M366 241v1M368 141v3M368 182v2M368 208v5M368 217v3M368 221v5M368 242v1M370 141v1M370 182v3M370 245v2M372 141v1M372 143v2M372 182v2M372 215v2M374 143v1M374 182v3M374 212v2M374 217v3M374 242v1M376 144v1M376 182v3M376 212v3M376 218v3M376 242v1M378 142v3M378 148v3M378 154v3M378 166v3M378 172v1M378 182v3M378 209v2M378 221v2M378 239v2M380 141v2M380 182v3M380 198v1M380 211v2M380 214v1M380 221v1M380 239v2M382 141v1M382 144v1M382 182v3M382 194v4M382 203v2M382 209v1M382 221v1M382 235v2M382 238v2M384 142v1M384 196v1M384 202v1M384 210v2M384 220v2M384 237v3M386 182v1M386 197v2M386 210v4M386 220v1M386 241v2M388 141v3M388 182v3M388 195v2M388 203v2M388 210v3M388 217v3M388 241v1M390 143v1M390 182v2M390 197v13M390 219v3M390 241v1M392 142v2M392 182v1M392 184v1M392 206v2M392 209v2M392 217v1M392 220v1M392 242v2M394 141v2M394 183v2M394 203v2M394 221v1M394 241v1M396 141v2M396 182v2M396 206v2M396 210v1M396 212v2M396 218v2M396 244v2M398 141v1M398 143v2M398 182v1M398 184v1M398 210v1M398 212v2M398 220v2M398 243v3M400 141v2M400 182v1M400 211v2M400 214v3M400 220v1M400 244v2M400 250v3M402 142v3M402 182v2M402 210v1M402 224v3M402 244v3M402 253v3M404 142v1M404 144v1M404 182v3M404 226v2M404 259v3M404 265v14M404 280v1M406 142v1M406 182v3M406 204v4M406 230v1M406 276v1M408 141v1M408 182v3M408 204v1M408 229v1M410 141v1M410 160v3M410 183v2M410 202v2M410 229v2M410 275v3M412 141v2M412 144v1M412 182v3M412 206v3M412 227v2M412 280v3M414 141v3M414 182v2M414 204v1M414 232v1M414 274v2M416 142v1M416 182v3M416 205v2M416 234v3M416 270v5M418 141v3M418 182v3M418 205v6M418 233v3M418 271v3M420 64v3M420 91v3M420 118v1M420 145v19M420 172v5M420 182v2M420 201v2M420 238v1M420 250v3M420 262v3M422 142v1M422 144v1M422 163v9M422 183v2M422 202v1M422 235v2M422 263v2M424 143v1M424 169v2M424 182v3M424 203v1M424 233v3M424 268v1M426 143v2M426 161v4M426 174v2M426 182v3M426 196v5M426 237v2M426 258v2M428 143v2M428 163v2M428 166v3M428 182v2M428 262v3M430 142v1M430 144v1M430 160v5M430 172v2M430 182v3M430 196v1M430 237v1M430 260v2M432 141v4M432 162v2M432 170v5M432 182v2M432 239v5M432 247v9M432 257v2M434 142v1M434 167v2M434 200v2M434 239v19M434 259v1M436 141v3M436 182v3M436 202v1M436 241v3M436 247v3M436 253v3M438 141v3M438 182v3M438 236v14M438 257v2M438 262v1M440 141v4M440 182v2M440 201v1M440 239v1M440 250v3M440 259v6M440 283v3M442 142v1M442 183v2M442 203v2M442 235v1M442 274v3M442 301v3M444 142v1M444 144v1M444 182v2M444 203v2M444 236v3M444 268v3M444 286v4M446 143v2M446 182v3M446 202v2M446 262v5M448 141v2M448 160v3M448 182v2M448 238v1M448 258v4M450 144v1M450 155v5M450 163v8M450 182v2M450 201v1M450 239v1M450 244v3M450 256v2M450 259v1M452 141v2M452 145v12M452 173v2M452 182v1M452 184v1M454 142v1M454 153v3M454 171v1M454 174v1M454 182v2M454 201v1M456 141v1M456 143v1M456 156v7M456 172v1M456 183v2M456 238v4M456 244v3M458 142v2M458 154v5M458 171v3M458 182v2M458 202v1M458 238v2M458 242v2M460 141v2M460 160v7M460 170v1M460 182v3M460 206v1M460 235v1M460 243v1M460 246v1M462 141v1M462 144v1M462 157v2M462 163v3M462 171v1M462 182v3M462 202v2M462 205v1M462 236v3M462 242v2M464 141v1M464 143v1M464 154v7M464 169v1M464 172v1M464 182v1M464 184v1M464 202v2M464 237v1M464 239v3M466 141v1M466 143v1M466 153v6M466 172v1M466 183v2M466 202v1M468 142v1M468 145v3M468 153v3M468 157v3M468 171v4M468 182v2M468 202v1M470 141v2M470 144v1M470 166v1M470 170v3M470 183v1M470 202v1M472 141v1M472 143v2M472 163v4M472 169v3M472 183v2M472 203v1M474 141v2M474 144v1M474 166v3M474 183v2M474 203v1M476 141v1M476 143v2M476 169v4M476 182v3M476 202v1M478 141v4M478 182v2M478 201v1M480 141v1M480 182v1M480 184v1M482 141v4M482 182v3M482 202v1M484 118v1M484 141v1M484 143v1M484 148v3M484 154v6M484 163v6M484 172v2M484 175v3M484 182v3M484 201v1M486 144v1M486 183v2M486 202v1M488 141v4M488 182v3M488 203v2M490 143v1M490 182v3M490 205v1M492 142v3M492 182v3M492 202v2M492 205v1M494 142v1M494 144v1M494 182v1M494 184v1M494 202v2M494 239v1M496 141v4M496 182v3M496 202v1M498 141v1M498 143v2M498 182v3M498 202v2M500 143v1M500 154v3M500 182v3M500 204v3M502 141v7M502 169v3M502 182v3M502 210v2M504 141v2M504 144v1M504 166v6M504 182v1M504 184v1M504 210v4M504 220v6M506 141v4M506 183v1M506 235v3M508 141v1M508 143v2M508 182v2M508 235v2M510 141v2M510 182v1M510 184v1M510 232v2M510 235v3M512 143v2M512 183v2M512 225v1M514 143v8M514 154v3M514 160v3M514 166v3M514 172v3M514 178v3M514 182v3M514 218v2M516 183v2M516 220v3M516 229v2M518 141v2M518 157v16M518 178v1M518 182v3M518 217v2M520 141v4M520 183v2M520 221v2M520 226v2M520 234v1M522 141v2M522 144v1M522 182v3M522 219v3M522 226v2M522 233v1M524 141v1M524 144v1M524 182v3M524 219v2M524 226v2M524 233v1M526 182v3M526 220v2M526 225v2M526 233v1M528 141v2M528 144v1M528 182v1M528 184v1M528 219v1M528 227v2M528 233v1M530 141v3M530 182v2M530 220v1M530 223v2M530 226v3M530 233v1M532 142v3M532 182v1M532 184v1M532 220v2M532 223v3M532 234v1M534 141v4M534 182v1M534 184v1M534 220v2M534 233v1M534 235v1M536 141v2M536 182v3M536 220v2M536 223v4M536 233v1M538 143v2M538 166v3M538 183v2M538 219v1M538 228v2M540 142v1M540 182v3M540 220v7M540 232v1M542 143v5M542 154v3M542 160v9M542 172v3M542 182v3M542 219v1M544 182v1M544 184v1M544 227v5M546 143v1M546 182v1M546 184v1M546 219v3M546 223v2M548 143v2M548 182v3M548 218v3M550 182v2M550 223v3M552 183v1M552 218v2M554 143v2M554 182v2M554 219v2M556 143v1M556 183v2M556 219v4M558 183v2M558 220v1M560 144v19M560 166v8M560 175v2M560 183v2M560 217v2M562 144v1M562 182v3M562 220v2M562 227v2M562 234v1M564 183v2M564 219v1M564 223v5M564 235v2M566 143v2M566 182v2M566 220v2M566 225v2M566 238v2M568 182v3M568 220v1M568 226v3M568 241v1M570 182v3M570 221v4M570 242v1M572 143v2M572 182v3M572 213v1M572 217v3M572 225v2M572 242v1M574 52v3M574 103v3M574 112v3M574 136v3M574 145v18M574 166v12M574 181v4M574 190v3M574 209v2M574 229v2M576 143v1M576 169v3M576 180v1M576 182v3M576 190v4M576 204v3M576 208v2M576 228v3M576 241v1M578 144v1M578 165v3M578 184v6M578 193v2M578 203v2M578 226v3M578 242v1M580 118v1M580 144v1M580 163v1M580 187v2M580 196v1M580 227v2M580 241v1M582 106v1M582 143v8M582 154v10M582 187v2M582 190v1M582 196v1M582 202v1M582 238v2M584 94v6M584 103v5M584 109v3M584 143v1M584 151v6M584 165v3M584 175v3M584 180v1M584 184v2M584 191v3M584 204v16M584 227v2M584 236v2M584 240v1M586 87v1M586 89v3M586 118v5M586 124v3M586 143v1M586 145v3M586 151v3M586 157v9M586 169v9M586 179v4M586 184v1M586 208v3M586 218v1M586 229v1M586 233v3M588 87v2M588 122v3M588 141v1M588 143v2M588 169v3M588 182v2M588 219v1M588 226v2M588 236v2M590 87v2M590 119v2M590 124v4M590 142v3M590 182v3M590 220v2M590 226v1M590 235v3M592 85v2M592 129v1M592 142v3M592 148v12M592 169v6M592 182v2M592 219v1M592 229v1M592 234v2M594 93v1M594 115v1M594 120v1M594 141v1M594 143v1M594 182v3M596 89v3M596 118v3M596 141v2M596 144v1M596 182v1M596 184v1M596 220v2M596 223v7M598 91v3M598 111v1M598 115v3M598 121v3M598 142v3M598 182v3M598 220v2M598 228v1M598 236v2M600 95v2M600 100v3M600 183v1M600 221v5M600 227v2M600 238v3M602 141v2M602 144v1M602 182v3M602 220v1M602 226v2M602 237v3M604 141v1M604 143v2M604 183v2M604 221v2M604 226v2M606 141v1M606 143v1M606 182v3M606 221v5M606 237v1M606 239v2M608 67v9M608 100v3M608 115v4M608 121v3M608 141v1M608 148v27M608 178v2M608 182v1M608 184v1M608 199v3M608 205v3M608 211v8M608 229v2M608 234v1"/>
<path stroke="#001fff" d="M92 141v2M92 144v1M92 146v2M92 157v1M92 170v4M92 180v1M92 195v3M92 202v2M92 236v2M92 249v1M92 251v1M92 277v1M94 142v1M94 150v5M94 157v1M94 171v7M94 184v1M94 201v2M94 237v1M94 244v5M94 250v1M94 278v2M94 283v3M96 142v1M96 151v3M96 174v1M96 182v1M96 237v4M96 243v1M96 249v3M96 271v3M96 277v3M98 142v1M98 184v1M98 246v3M98 280v1M98 285v1M100 143v1M100 175v4M100 183v1M100 240v1M100 242v2M100 252v1M100 255v9M102 144v1M102 182v3M102 240v1M102 242v4M102 250v9M102 277v3M104 143v1M104 174v3M104 182v1M104 234v10M104 247v3M104 256v2M104 259v2M106 141v3M106 174v1M106 232v12M106 253v5M108 141v1M108 143v1M108 227v5M108 256v1M110 142v1M110 172v5M110 226v3M110 232v1M110 247v3M112 142v1M112 183v1M112 235v3M112 247v3M114 141v4M114 147v4M114 166v7M114 180v1M114 182v2M114 197v2M114 211v8M116 140v2M116 148v3M116 154v3M116 163v7M116 183v1M116 187v9M118 140v2M120 145v3M120 151v3M120 157v3M122 64v3M122 142v1M122 145v9M122 166v3M124 52v3M124 61v12M124 79v3M124 141v4M124 151v2M124 154v3M126 141v1M126 144v1M126 151v5M126 157v6M128 52v3M128 64v5M128 140v1M128 142v2M130 55v3M130 61v3M130 144v3M132 52v3M132 58v5M132 138v1M132 141v3M134 68v2M134 129v3M136 75v2M136 125v1M138 72v3M138 122v3M140 68v3M140 110v2M140 118v9M142 69v1M142 76v3M156 72v1M156 74v2M156 106v6M156 117v1M156 121v3M158 102v1M158 112v6M160 72v1M160 106v3M160 115v3M160 120v1M160 123v2M160 130v2M160 133v1M160 137v2M162 67v1M162 142v1M162 144v1M162 148v6M162 157v3M162 169v1M162 223v1M162 229v3M162 235v6M162 295v3M164 68v1M164 141v1M164 155v4M164 160v8M164 219v1M164 229v6M164 239v2M164 295v9M166 68v1M166 141v1M166 143v1M166 148v3M166 157v6M166 166v4M166 229v3M166 241v2M166 244v1M166 292v1M168 68v1M168 141v2M168 148v6M168 160v8M170 65v1M170 67v1M170 141v1M170 143v2M170 174v1M170 177v1M170 218v2M170 229v6M170 250v3M170 295v12M170 309v1M172 60v1M172 143v2M172 181v2M172 218v5M172 259v3M172 274v4M172 280v3M172 289v3M172 307v3M174 63v1M174 142v1M174 179v2M174 226v3M176 144v1M176 179v2M176 224v2M176 294v1M178 141v4M178 182v1M178 184v1M178 223v3M178 229v6M178 250v3M178 256v6M178 271v3M178 277v6M178 290v2M178 298v6M178 310v2M180 141v1M180 143v2M180 181v1M180 184v2M182 144v1M182 183v2M182 188v2M184 64v1M184 141v2M184 144v1M184 183v1M184 187v2M184 190v1M186 55v3M186 64v2M186 141v1M186 143v2M186 182v1M186 190v1M188 142v3M188 183v1M188 216v4M188 229v3M188 235v3M188 241v3M188 250v3M188 265v9M188 280v3M188 295v6M188 304v3M188 310v2M190 142v1M190 184v1M190 207v3M192 141v2M192 144v1M192 199v3M194 52v3M194 141v1M194 143v2M196 57v1M196 59v2M196 141v1M196 143v2M196 194v1M198 52v6M198 141v1M198 143v2M198 166v1M198 169v1M198 183v1M198 190v3M200 141v1M200 161v2M200 164v2M200 173v2M200 180v1M200 183v1M200 277v6M202 141v1M202 166v1M202 186v3M202 238v3M202 256v2M202 260v2M202 265v6M202 306v1M204 141v1M204 143v1M204 161v2M204 174v6M204 276v2M204 290v3M206 143v2M206 167v3M206 181v3M206 253v3M206 258v4M206 263v11M206 301v3M206 310v1M208 142v1M208 144v1M208 163v1M208 276v3M208 280v2M208 283v3M208 292v2M208 298v7M208 310v1M210 141v1M210 172v2M210 181v3M210 273v1M210 275v2M210 280v3M210 285v1M210 292v3M210 298v3M210 305v2M212 142v2M212 167v2M214 141v2M214 169v1M216 143v1M216 170v2M218 56v4M218 142v3M218 169v1M220 52v6M220 141v1M220 143v1M220 173v1M222 52v3M222 56v6M222 142v2M222 171v1M224 61v2M224 142v3M224 171v2M224 184v3M224 190v3M224 196v8M226 57v5M226 141v4M226 183v2M226 211v2M228 66v2M228 142v1M228 148v3M228 154v3M228 160v8M228 169v2M230 68v2M230 135v1M232 65v1M232 67v1M232 138v3M234 67v1M234 136v3M236 52v3M236 61v3M236 66v1M236 141v4M236 154v4M238 69v1M238 141v1M238 154v3M240 58v6M240 65v2M240 141v1M240 156v2M242 55v6M242 64v2M242 67v1M242 141v1M242 143v1M242 159v1M244 52v3M244 66v1M244 141v4M244 154v6M246 61v3M246 143v2M246 157v2M246 160v1M248 142v3M248 163v3M248 168v1M248 278v5M248 286v3M248 290v2M250 143v2M250 154v5M250 276v2M250 305v1M252 141v2M252 144v1M252 168v7M252 276v1M252 289v3M252 294v1M252 298v3M254 143v2M254 163v2M254 175v2M256 52v3M256 58v2M256 141v2M256 164v3M256 175v3M258 52v4M258 141v1M258 143v1M258 172v6M258 179v5M260 55v4M260 142v1M262 58v1M262 142v3M262 171v3M264 58v2M264 143v1M264 172v6M264 184v8M266 55v1M266 141v1M266 183v2M266 199v5M268 142v1M268 144v1M268 220v3M268 229v3M268 243v1M268 262v3M268 268v3M270 143v2M270 182v1M270 208v5M270 214v3M272 143v1M272 183v1M272 199v3M272 205v3M272 214v6M274 142v1M274 144v1M274 199v3M274 211v3M274 217v3M274 223v2M274 226v2M276 141v1M276 143v2M276 202v3M276 217v6M276 224v2M276 229v2M276 250v3M278 142v1M278 144v1M278 183v1M278 199v6M278 214v3M278 220v3M280 141v3M280 184v1M280 199v3M280 205v12M280 220v3M280 227v2M282 141v1M282 144v1M282 197v2M282 208v3M282 214v3M282 224v4M282 229v1M284 141v1M284 182v1M284 193v2M284 196v3M286 142v1M286 193v3M286 205v6M286 223v2M286 229v2M288 141v1M288 143v1M288 183v1M288 194v11M288 208v18M290 141v1M290 143v2M290 155v2M290 161v5M290 193v3M292 141v2M292 155v5M292 163v3M292 196v2M292 199v3M292 205v3M292 223v3M292 247v1M294 141v4M294 183v1M294 202v3M294 214v3M294 250v3M294 259v3M296 142v2M296 160v1M296 199v3M296 222v2M296 253v6M298 143v1M298 158v2M298 161v2M298 184v1M298 197v5M298 224v2M298 253v3M300 141v4M300 156v2M300 163v3M300 193v6M300 226v3M300 253v3M302 156v3M302 160v3M302 183v1M302 193v3M302 199v3M302 222v3M302 229v3M302 258v1M302 261v1M304 71v2M304 143v1M304 160v1M304 190v2M304 196v6M304 222v4M304 229v3M304 264v3M306 141v1M306 159v2M306 198v1M306 201v1M306 214v3M306 221v3M306 229v3M306 263v4M306 268v1M308 141v1M308 143v1M308 156v3M308 160v2M308 194v5M308 234v5M310 143v2M310 155v4M310 161v2M310 199v6M310 223v3M310 229v3M310 235v3M310 240v3M310 261v2M312 141v1M312 143v1M312 200v8M312 214v3M312 220v3M312 232v9M312 262v2M314 142v3M314 184v1M314 195v1M314 197v2M314 205v12M314 220v3M314 229v15M314 262v2M314 265v3M316 183v2M316 190v3M316 196v9M316 208v6M316 217v6M316 226v3M316 232v6M316 244v3M316 264v1M316 267v1M318 141v1M318 143v1M318 190v3M318 202v3M318 217v3M318 229v3M318 235v3M318 244v3M318 249v3M318 253v1M318 260v2M320 142v1M320 184v1M320 199v12M320 217v3M320 232v3M320 250v3M320 262v4M322 141v3M322 183v1M322 199v1M322 205v9M322 226v3M322 256v3M324 141v3M324 183v1M324 196v2M324 226v3M324 232v3M324 244v3M324 253v3M324 262v3M326 142v1M326 197v2M326 211v9M326 241v3M326 247v9M326 265v2M328 141v1M328 183v1M328 202v3M328 208v6M328 217v3M328 223v3M328 229v6M328 259v12M330 141v3M330 200v2M330 233v2M330 244v9M332 142v1M332 211v3M332 220v3M332 226v3M332 258v8M334 141v4M334 205v2M334 211v9M334 232v2M334 253v2M336 141v2M336 211v3M336 220v6M336 233v2M338 141v1M338 143v1M338 182v1M338 211v3M338 220v6M338 229v8M338 268v2M340 144v1M340 203v1M340 241v2M342 204v1M342 236v5M342 243v4M342 253v9M344 160v3M344 206v2M344 211v3M344 235v7M346 144v1M346 155v4M346 163v6M346 170v2M346 183v1M346 208v6M346 223v15M348 141v1M348 144v1M348 160v3M348 166v4M348 182v1M348 184v1M348 229v6M348 241v2M350 141v1M350 160v5M350 166v3M350 170v1M350 182v1M350 205v1M350 227v3M350 245v1M352 158v2M352 170v2M352 203v1M352 231v3M352 243v2M354 141v1M354 144v1M354 154v2M354 174v1M354 183v1M354 202v1M354 234v2M354 242v1M356 141v1M356 144v1M356 156v4M356 163v2M356 171v1M356 202v1M356 234v1M356 242v1M356 244v1M358 159v1M358 182v1M358 204v2M358 228v6M358 243v1M360 144v1M360 158v2M360 166v4M360 183v1M360 202v2M360 232v2M360 235v1M360 243v1M362 141v1M362 144v1M362 183v1M362 204v3M362 228v1M362 231v3M362 243v3M364 141v1M364 144v1M364 183v1M364 226v7M364 244v1M366 142v1M366 204v1M366 227v7M366 242v1M368 144v1M368 184v1M368 213v1M368 220v1M368 243v2M370 142v3M370 253v4M372 142v1M372 184v1M372 244v2M372 247v3M374 141v2M374 144v1M374 214v1M374 243v2M376 141v3M376 215v3M376 243v2M378 141v1M378 211v1M378 220v1M378 241v1M380 143v2M380 213v1M380 215v2M380 219v2M380 241v4M382 142v2M382 198v1M382 201v2M382 210v1M382 220v1M382 237v1M382 240v1M384 141v1M384 143v2M384 182v3M384 197v2M384 201v1M384 212v2M384 218v2M384 240v2M386 141v4M386 183v2M386 199v3M386 214v3M386 218v2M386 243v1M388 144v1M388 197v2M388 202v1M388 213v2M388 242v1M388 244v1M390 141v2M390 144v1M390 184v1M390 210v2M390 217v2M390 242v1M390 244v1M392 141v1M392 144v1M392 183v1M392 211v1M392 214v3M392 244v2M394 143v2M394 220v1M394 242v1M396 143v2M396 184v1M396 214v4M396 246v1M396 259v3M398 142v1M398 183v1M398 219v1M398 246v1M398 256v2M398 259v1M400 143v2M400 183v2M400 213v1M400 218v2M400 246v1M400 253v6M402 141v1M402 184v1M402 211v1M402 222v2M402 247v6M402 256v5M404 141v1M404 143v1M404 208v2M404 225v1M404 279v1M404 281v2M406 141v1M406 143v2M406 228v2M406 277v2M408 143v2M408 205v2M408 208v1M408 228v1M408 277v5M410 142v3M410 182v1M410 204v3M410 228v1M410 278v2M412 143v1M412 209v4M412 226v1M414 144v1M414 205v2M414 208v1M414 276v1M416 141v1M416 143v2M416 207v1M416 232v2M416 275v2M418 144v1M418 211v1M418 232v1M418 274v1M420 141v4M420 164v5M420 170v2M420 184v1M420 203v1M420 265v1M422 141v1M422 143v1M422 203v1M422 265v1M424 141v2M424 144v1M424 204v1M424 232v1M424 265v3M424 269v2M426 141v2M426 165v1M426 172v2M426 236v1M426 260v3M428 141v2M428 165v1M428 184v1M428 202v2M428 233v2M428 265v2M430 141v1M430 143v1M430 165v1M430 169v3M430 197v3M430 236v1M430 262v3M432 164v6M432 184v1M432 199v1M432 237v2M434 141v1M434 143v2M434 182v3M434 202v1M434 234v5M434 258v1M434 260v8M436 144v1M436 203v1M436 239v2M436 244v3M436 250v3M436 256v3M438 144v1M438 202v2M438 235v1M438 259v3M438 263v6M440 184v1M440 202v1M440 238v1M440 265v6M440 280v3M442 141v1M442 143v2M442 182v1M442 289v6M444 141v1M444 143v1M444 184v1M444 235v1M444 271v4M444 277v6M444 290v2M446 141v2M446 204v1M446 238v1M446 267v3M448 143v2M448 184v1M448 202v1M450 141v3M450 184v1M450 202v1M450 258v1M450 260v2M452 143v2M452 169v4M452 183v1M452 201v2M452 240v4M452 247v3M452 256v1M454 141v1M454 143v2M454 156v3M454 160v6M454 169v2M454 172v2M454 184v1M454 202v1M454 262v9M456 142v1M456 144v1M456 163v3M456 171v1M456 182v1M456 202v1M456 242v2M456 265v2M458 141v1M458 144v1M458 159v2M458 163v1M458 169v2M458 184v1M458 203v1M460 143v2M460 167v3M460 207v3M460 234v1M460 247v1M460 250v3M460 256v3M462 142v2M462 159v4M462 166v5M462 204v1M462 206v1M462 235v1M462 244v1M464 142v1M464 144v1M464 161v8M464 183v1M464 204v3M464 236v1M464 238v1M464 242v1M466 142v1M466 144v1M466 159v7M466 169v3M466 182v1M466 203v1M468 141v1M468 143v2M468 156v1M468 160v3M468 169v2M468 184v1M468 203v1M470 143v1M470 167v3M470 182v1M470 184v1M470 203v1M470 237v1M470 239v1M472 142v1M472 167v2M472 182v1M472 204v1M472 239v1M474 143v1M474 182v1M474 204v2M476 142v1M476 203v1M478 184v1M478 202v1M480 142v3M480 183v1M480 202v1M482 203v2M484 142v1M484 144v1M484 202v1M486 141v3M486 182v1M486 203v1M488 205v1M488 238v3M490 141v2M490 144v1M490 206v7M490 236v2M492 141v1M492 204v1M492 206v2M494 141v1M494 143v1M494 183v1M494 204v1M494 238v1M494 240v1M496 203v2M498 142v1M498 204v2M498 238v2M500 141v2M500 144v1M500 207v3M502 212v3M504 143v1M504 183v1M504 214v6M504 226v10M506 182v1M506 238v2M508 142v1M508 184v1M508 237v3M510 143v2M510 183v1M510 234v1M512 141v2M512 182v1M512 226v7M514 141v2M514 220v1M516 141v4M516 182v1M516 223v6M516 231v1M518 143v2M518 219v3M520 223v3M522 143v1M522 222v1M522 225v1M522 234v1M524 142v2M524 221v2M524 225v1M526 141v4M526 222v3M526 234v1M528 143v1M528 183v1M528 220v2M528 225v2M528 234v1M530 144v1M530 184v1M530 221v2M530 234v1M532 141v1M532 183v1M532 222v1M532 235v1M534 183v1M534 222v4M534 234v1M534 236v1M536 143v2M536 222v1M536 234v1M538 141v2M538 182v1M538 220v2M538 225v3M538 233v1M540 141v1M540 143v2M540 233v1M542 220v2M544 143v2M544 183v1M546 144v1M546 183v1M546 222v1M546 225v1M548 221v2M550 143v2M550 184v1M552 143v2M552 182v1M552 184v1M552 220v2M554 184v1M554 221v2M556 144v1M556 182v1M556 223v1M556 226v1M558 143v2M558 182v1M558 221v3M560 143v1M560 182v1M560 219v1M562 143v1M562 222v5M562 235v1M564 143v2M564 182v1M564 220v2M564 237v2M566 184v1M566 222v3M566 240v2M568 143v2M568 221v5M570 143v2M570 243v1M572 220v5M572 243v1M574 143v2M574 211v1M574 227v2M574 241v1M576 144v1M576 172v8M576 181v1M576 207v1M576 210v3M576 226v2M578 143v1M578 168v3M578 183v1M578 190v3M578 220v3M578 243v1M580 143v1M580 164v2M580 186v1M580 189v2M580 194v2M580 202v2M580 216v1M580 223v4M580 242v1M582 164v4M582 186v1M582 189v1M582 191v5M582 203v1M582 217v2M582 227v2M582 240v1M584 144v1M584 168v6M584 178v2M584 181v3M584 220v7M586 92v2M586 112v3M586 116v2M586 144v1M586 178v1M586 183v1M586 219v1M586 227v2M586 236v2M588 89v2M588 113v2M588 117v1M588 119v3M588 142v1M588 184v1M588 220v2M588 238v1M590 89v1M590 116v3M590 121v3M590 141v1M590 222v1M590 238v2M592 87v1M592 123v1M592 125v4M592 141v1M592 184v1M592 220v1M592 225v1M592 228v1M592 236v1M594 111v1M594 113v2M594 118v2M594 142v1M594 144v1M594 241v1M596 92v2M596 114v1M596 116v2M596 143v1M596 183v1M596 222v1M596 238v1M598 103v3M598 109v2M598 114v1M598 141v1M598 222v6M598 238v2M600 141v4M600 182v1M600 184v1M600 226v1M600 241v1M602 143v1M602 221v2M602 240v2M604 142v1M604 182v1M604 223v3M604 238v2M606 142v1M606 144v1M608 142v3M608 183v1M608 219v3M608 228v1M608 235v2"/>
<path stroke="#0048ff" d="M92 154v3M92 174v1M92 177v3M92 198v1M92 244v5M92 250v1M92 278v2M94 199v2M94 238v2M94 241v3M94 280v3M94 289v1M96 244v5M96 280v6M98 281v2M98 286v2M100 250v2M100 253v2M100 264v1M100 268v1M100 278v4M102 246v1M102 259v1M102 262v2M102 265v1M102 268v2M102 274v3M102 280v1M104 252v4M104 258v1M104 261v2M104 265v1M106 258v3M106 268v3M108 175v2M108 232v6M108 244v6M108 253v3M108 257v3M110 233v6M110 244v3M110 250v3M110 256v3M112 238v3M112 244v3M112 253v3M114 145v2M114 173v2M114 179v1M114 181v1M114 219v3M114 223v1M116 146v2M116 151v3M116 170v2M116 180v3M116 184v3M116 196v2M116 208v3M118 142v3M118 148v3M118 154v12M120 142v2M120 148v3M120 163v3M122 143v2M122 154v2M122 157v6M122 172v1M124 153v1M124 157v1M124 160v3M126 156v1M126 169v2M128 55v9M128 141v1M128 144v1M130 147v3M130 151v9M132 144v4M134 58v3M134 64v4M134 132v2M134 136v1M134 139v3M136 72v1M136 74v1M136 126v2M138 70v2M138 125v2M138 130v2M140 67v1M140 127v2M142 67v2M142 118v3M142 127v3M156 71v1M156 73v1M156 124v6M158 71v2M158 109v3M158 118v8M158 132v5M160 69v1M160 71v1M160 125v2M160 129v1M160 229v3M160 235v1M162 145v3M162 170v2M162 218v2M162 221v2M162 294v1M162 301v4M164 67v1M164 142v3M164 148v7M164 168v2M164 217v2M164 241v2M164 293v2M164 304v3M166 67v1M166 170v2M166 215v2M166 218v2M166 221v2M166 243v1M166 245v2M166 262v2M166 265v1M166 291v1M166 307v1M166 310v1M168 67v1M168 143v2M168 154v6M168 168v2M168 224v5M168 232v12M168 295v6M168 304v3M170 64v1M170 178v1M170 217v1M170 220v9M170 238v3M170 244v6M170 253v20M170 293v2M172 57v3M172 183v12M172 212v6M172 278v2M172 283v6M174 59v4M174 181v1M174 244v6M174 253v3M174 259v3M174 301v3M176 181v2M176 223v1M176 226v9M176 244v9M176 256v3M176 271v3M176 292v2M176 301v5M176 307v5M178 183v1M178 185v2M178 190v2M178 216v1M178 220v3M178 235v12M178 268v3M178 274v3M178 289v1M178 292v6M180 182v1M180 186v2M180 295v3M180 301v6M182 205v3M182 301v3M184 189v1M184 191v2M184 196v3M184 211v12M184 294v1M184 298v7M186 191v9M186 202v3M186 211v3M188 223v6M188 232v3M188 238v3M188 244v6M188 253v6M188 274v6M188 283v3M188 301v3M190 210v3M190 247v3M192 205v1M194 196v1M194 232v3M194 238v2M196 55v2M196 58v1M196 195v2M196 223v9M196 235v3M196 241v1M198 167v2M198 193v1M198 278v2M200 170v3M200 184v3M200 190v1M200 283v8M200 292v1M202 167v2M202 189v2M202 230v8M202 241v6M202 259v1M202 307v4M204 163v1M204 172v2M204 180v1M204 264v4M204 274v2M204 293v12M206 187v3M206 196v3M206 217v3M206 235v6M206 246v4M206 256v2M206 262v1M206 307v3M206 311v1M208 164v1M208 166v1M208 178v3M208 259v3M208 268v3M208 274v2M208 282v1M208 286v3M208 305v2M208 311v1M210 174v4M210 184v3M210 193v3M210 220v3M210 250v3M210 259v9M210 271v2M210 274v1M210 278v2M210 286v6M210 307v3M212 169v2M212 172v1M214 170v3M218 52v4M218 170v1M220 174v1M222 55v1M224 52v3M224 59v2M224 173v2M224 178v3M224 182v2M224 187v3M224 204v1M226 52v5M226 213v3M228 64v2M228 168v1M228 171v1M228 184v3M230 67v1M230 139v3M232 61v4M232 141v1M232 151v6M232 160v1M234 66v1M234 139v1M234 142v1M236 55v3M236 64v2M236 158v3M238 58v3M238 65v4M238 157v2M240 55v3M240 64v1M240 158v4M242 52v3M242 61v3M242 160v2M244 55v3M244 64v2M244 160v2M246 159v1M246 161v2M248 277v1M248 292v3M248 298v6M250 159v3M250 275v1M252 175v5M252 274v2M252 295v1M254 165v4M254 177v1M256 57v1M256 167v5M256 178v2M260 52v3M260 178v7M262 56v2M262 174v11M264 192v4M264 199v3M266 204v4M268 244v3M268 250v3M268 259v3M268 265v3M268 271v3M270 213v1M270 217v8M270 226v3M270 232v3M270 241v1M270 244v3M270 256v3M272 220v12M274 205v3M274 225v1M274 228v1M274 244v3M274 262v3M276 226v3M276 231v1M276 238v3M276 262v3M278 205v9M278 223v5M280 229v2M280 244v3M280 256v6M282 205v3M282 217v6M282 228v1M282 230v2M282 238v3M284 195v1M284 199v27M286 211v3M286 225v4M286 231v1M286 238v6M286 256v9M288 205v3M288 226v5M288 247v4M288 253v2M288 262v2M290 157v4M292 161v2M292 198v1M292 202v3M292 208v6M292 217v3M292 232v9M292 248v2M294 211v3M294 256v3M294 265v3M296 202v3M296 208v3M296 218v4M296 259v3M298 160v1M298 222v2M298 256v2M300 158v5M300 199v1M300 225v1M300 256v2M300 259v2M302 159v1M302 220v2M302 262v1M304 192v1M304 202v2M304 205v1M304 211v3M304 218v4M304 267v2M306 205v2M306 208v6M306 220v1M306 267v1M306 269v2M308 159v1M308 199v1M308 202v2M308 205v3M308 211v6M308 223v3M308 229v5M308 262v2M308 265v3M310 159v2M310 208v12M310 232v3M310 238v2M310 263v2M312 217v3M312 223v3M312 264v6M314 199v6M314 226v3M314 264v1M316 214v3M316 229v3M316 268v4M318 196v6M318 205v9M318 220v9M318 232v3M318 241v3M318 247v2M318 262v2M318 268v3M320 223v3M320 266v5M322 200v5M322 214v3M322 220v6M322 229v6M322 238v18M322 259v5M322 265v4M324 198v2M324 202v6M324 214v6M324 223v3M324 229v3M324 241v3M324 250v3M324 256v3M326 199v6M326 208v3M326 220v21M326 256v8M326 267v1M330 202v6M330 223v6M330 232v1M330 235v9M330 253v3M332 214v3M332 266v2M334 207v4M334 220v12M334 255v3M334 259v2M336 208v3M336 226v3M336 232v1M336 265v2M336 268v3M338 208v3M338 214v6M338 226v3M338 270v2M340 204v2M340 239v2M340 268v1M342 142v1M342 205v2M342 232v4M342 241v2M342 262v2M344 208v3M344 214v6M344 226v3M344 232v3M344 242v11M346 142v1M346 159v4M346 169v1M346 205v2M346 214v9M346 241v2M348 142v1M348 208v18M348 243v2M348 247v1M350 142v2M350 165v1M350 169v1M350 206v2M350 223v4M350 246v2M352 143v1M352 160v2M352 163v1M352 169v1M352 204v3M352 221v2M352 228v3M352 245v1M354 156v3M354 160v1M354 172v2M354 203v1M354 233v1M354 243v2M356 160v2M356 165v1M356 170v1M356 203v1M356 229v5M356 243v1M356 245v1M358 206v1M358 222v1M358 226v2M358 244v2M358 247v3M360 142v2M360 204v1M360 231v1M360 244v1M362 207v1M362 223v5M362 229v2M362 246v4M364 143v1M364 205v2M364 224v2M364 245v1M364 253v3M366 205v2M366 226v1M366 243v2M368 214v1M368 245v2M370 247v1M370 250v3M370 257v3M372 246v1M372 256v1M374 215v2M374 245v2M376 245v1M378 212v1M378 218v2M378 242v1M380 217v2M380 245v2M380 250v3M382 199v2M382 211v1M382 219v1M382 241v3M384 199v2M384 214v4M384 242v3M386 217v1M386 244v1M388 199v3M388 215v2M388 243v1M388 245v1M390 212v3M390 243v1M390 245v2M392 212v2M392 246v4M392 259v1M394 205v2M394 243v1M396 250v9M398 218v1M398 250v6M398 258v1M398 260v2M400 217v1M400 247v3M400 259v3M402 212v2M402 218v4M402 261v4M402 271v3M404 210v3M404 217v8M404 283v3M406 208v1M406 226v2M406 279v2M408 207v1M408 209v2M408 225v3M408 282v2M408 289v2M410 207v1M410 226v2M410 280v1M412 213v1M412 225v1M412 283v3M414 207v1M414 209v2M414 231v1M414 277v1M414 280v3M416 208v3M416 231v1M416 277v2M416 280v1M416 283v2M418 212v2M418 217v2M418 220v3M418 275v5M418 283v3M420 169v1M420 204v1M420 237v1M420 266v1M422 204v2M422 266v5M424 271v3M426 166v1M426 169v3M426 201v1M426 235v1M426 263v2M428 204v3M428 208v1M428 232v1M428 267v2M428 271v3M430 166v3M430 200v3M430 235v1M432 200v3M432 235v2M432 259v2M432 262v1M434 203v1M434 205v1M434 232v2M436 204v2M436 238v1M436 262v2M436 268v6M438 233v2M438 269v2M438 274v15M440 203v1M440 233v2M440 236v2M440 271v9M440 286v3M442 205v2M442 234v1M442 295v6M442 304v3M444 234v1M444 275v2M444 283v3M444 292v1M444 295v3M446 270v3M448 203v1M448 262v2M450 203v1M450 205v1M450 238v1M450 262v3M450 268v1M452 157v9M452 168v1M452 203v1M452 239v1M452 244v3M452 250v6M452 257v5M454 159v1M454 166v3M454 203v1M454 239v23M454 271v3M456 166v5M456 203v1M456 205v1M456 247v18M456 267v4M456 280v3M458 161v2M458 164v2M458 204v1M458 236v2M458 244v2M458 247v1M458 250v3M458 259v3M460 210v1M460 233v1M460 248v2M460 253v3M460 259v9M462 207v2M462 234v1M462 245v2M464 207v1M464 235v1M464 243v3M466 166v3M466 204v2M466 238v3M468 163v6M468 204v1M470 204v2M470 236v1M470 238v1M470 240v2M472 205v1M472 238v1M472 240v1M474 206v1M476 204v1M478 203v1M480 203v1M482 205v2M482 241v1M484 203v1M486 204v1M488 206v3M488 236v2M490 213v1M490 235v1M490 238v2M492 208v3M492 235v3M492 239v1M494 205v2M496 205v1M496 238v3M498 206v2M498 211v1M498 220v3M498 229v3M498 236v2M498 240v2M500 210v2M500 214v2M500 226v3M500 232v9M502 215v8M502 232v3M504 236v4M506 240v1M508 240v1M510 238v2M512 233v4M514 221v2M516 232v2M518 222v1M518 226v3M518 230v2M520 235v1M522 223v2M522 235v1M524 223v2M524 234v1M528 222v3M528 235v1M530 235v1M532 236v1M534 237v1M536 235v1M538 222v3M538 289v6M540 234v1M542 140v3M542 222v7M544 140v3M544 232v1M546 140v3M546 226v1M548 140v3M548 223v5M550 140v3M550 226v1M552 140v3M552 222v3M554 223v2M554 226v1M556 224v2M556 227v2M558 224v8M560 220v2M560 227v2M560 231v2M562 236v2M564 222v1M564 239v1M566 242v1M568 242v1M574 212v1M574 224v3M574 242v1M576 213v7M576 225v1M576 242v1M578 171v2M578 179v4M578 205v2M578 211v6M578 224v2M580 166v1M580 169v1M580 185v1M580 191v3M580 204v1M580 214v2M580 217v6M580 243v1M582 168v1M582 183v3M582 204v1M582 213v4M582 219v1M582 224v3M584 174v1M584 241v1M586 94v1M586 106v6M586 115v1M586 220v2M586 226v1M586 238v2M588 91v1M588 112v1M588 115v2M588 118v1M588 222v4M588 239v1M590 90v2M590 115v1M590 223v3M590 240v1M592 88v1M592 121v2M592 124v1M592 221v1M592 223v2M592 226v2M592 237v2M594 109v2M594 112v1M594 242v1M596 112v2M596 115v1M596 239v3M598 100v3M598 106v3M598 112v2M598 240v1M600 242v1M602 223v3M602 242v1M604 240v2M606 241v1M608 222v1M608 226v2M608 237v2"/>
<path stroke="#0071ff" d="M92 148v2M92 151v3M92 175v2M92 199v3M92 238v6M92 280v9M94 240v1M94 286v3M94 290v1M96 286v2M96 289v2M98 288v3M98 311v1M100 244v2M100 247v3M100 265v2M100 269v2M100 274v4M100 282v1M100 286v1M102 247v3M102 260v2M102 264v1M102 266v2M102 270v1M102 281v2M104 244v3M104 250v2M104 263v2M104 266v8M106 261v7M106 271v4M108 241v3M108 250v3M108 260v2M108 271v1M110 239v5M110 253v3M112 241v3M112 250v3M112 262v3M114 222v1M114 224v5M116 142v4M116 172v3M116 179v1M116 198v10M116 211v3M116 223v2M118 145v3M118 151v3M118 166v4M118 187v6M120 144v1M120 154v3M120 160v3M120 166v5M120 175v2M120 180v1M120 187v5M120 193v1M120 220v1M122 156v1M122 163v3M122 173v2M122 181v3M122 187v3M122 193v3M122 199v2M124 158v2M124 163v6M126 163v6M126 171v1M128 145v2M128 148v1M130 150v1M130 160v2M130 163v3M132 55v3M132 148v1M132 151v2M132 154v3M134 57v1M134 61v3M134 134v2M134 137v2M134 142v1M136 70v2M136 73v1M136 128v2M138 68v2M138 127v3M138 132v1M140 66v1M140 129v1M140 133v1M142 65v2M142 116v2M142 121v3M154 94v3M154 106v9M156 70v1M156 130v3M156 136v2M156 158v2M158 126v1M158 130v2M158 137v3M158 157v3M160 68v1M160 70v1M160 127v2M160 157v6M160 166v3M160 224v2M160 232v3M160 236v2M162 66v1M162 172v2M162 216v2M162 220v1M162 241v2M162 244v1M162 250v3M162 262v3M162 292v2M162 305v2M164 66v1M164 170v2M164 221v2M164 243v4M164 262v2M164 292v1M164 307v3M166 66v1M166 172v1M166 214v1M166 217v1M166 220v1M166 247v15M166 264v1M166 266v4M166 286v3M166 290v1M166 308v2M166 311v1M168 170v2M168 222v2M168 229v3M168 244v1M168 247v1M168 301v3M168 307v3M170 179v1M170 273v3M170 280v3M170 291v2M172 55v2M172 195v2M172 199v1M172 202v3M172 211v1M172 310v2M174 58v1M174 182v1M174 218v2M174 221v5M174 229v15M174 250v3M174 256v3M174 262v9M174 277v3M174 293v2M174 296v5M174 304v2M176 183v1M176 187v3M176 235v9M176 253v3M176 259v12M176 274v3M176 295v6M176 306v1M178 187v2M178 192v1M178 196v9M178 208v3M178 214v2M178 217v3M178 226v3M178 247v3M178 253v3M178 283v3M180 183v1M180 188v2M180 220v10M180 235v3M180 244v12M180 259v3M180 265v6M180 274v3M180 280v2M180 307v1M182 190v1M182 193v3M182 202v3M182 208v6M182 217v6M182 250v3M182 292v3M182 298v3M182 304v3M184 193v3M184 199v3M184 205v6M184 223v2M184 292v2M184 305v2M186 200v2M186 205v3M186 217v10M188 220v3M188 259v6M188 286v3M188 307v3M190 213v1M190 217v3M190 223v6M190 232v9M190 244v3M190 250v3M190 265v18M190 289v18M192 202v2M192 206v2M192 250v3M194 197v4M194 205v3M194 214v1M194 223v3M194 229v3M194 235v3M194 240v3M196 52v3M196 197v1M196 219v4M196 232v3M196 238v2M196 242v3M198 194v2M198 225v1M198 229v6M198 238v2M198 277v1M198 283v3M200 166v1M200 169v1M200 187v3M200 191v2M200 235v3M200 268v9M200 291v1M200 293v2M200 298v3M200 307v3M202 191v2M202 196v1M202 228v2M202 247v6M202 311v1M204 164v2M204 171v1M204 181v2M204 262v2M204 273v1M204 305v3M204 310v1M206 190v1M206 199v3M206 208v3M206 227v2M206 232v3M206 241v5M206 250v3M208 165v1M208 167v8M208 187v1M208 242v2M208 250v6M208 262v6M208 290v2M210 187v6M210 196v9M210 211v3M210 229v3M210 238v12M210 253v6M210 268v3M210 277v1M212 171v1M212 173v2M214 173v1M216 172v1M216 175v1M216 214v2M218 171v2M222 172v1M222 181v6M222 193v3M222 199v3M224 56v3M224 175v3M224 181v1M224 205v2M224 208v6M226 216v1M228 58v3M228 62v2M228 172v1M228 180v4M228 187v8M228 196v4M230 66v1M230 136v2M230 142v1M232 52v3M232 58v3M232 142v1M232 148v3M232 157v3M232 161v3M234 65v1M234 140v2M234 143v15M236 58v3M236 161v4M236 166v1M238 52v6M238 64v1M238 159v2M238 163v1M240 52v3M240 162v2M240 166v3M242 162v1M244 58v6M244 162v2M246 163v1M248 169v6M248 208v3M248 275v2M248 295v3M250 162v2M250 274v1M250 306v1M252 180v4M252 187v3M252 269v2M252 296v2M252 304v1M254 169v6M254 178v1M256 55v2M256 172v3M256 180v1M258 184v2M258 187v3M260 172v3M260 185v4M262 52v4M262 185v4M264 196v3M264 238v3M266 208v7M266 223v3M266 229v3M266 235v6M268 247v3M268 253v6M268 274v2M270 225v1M270 229v3M270 235v6M270 242v2M270 247v3M272 232v3M274 229v2M274 235v6M274 247v3M274 253v6M274 271v3M276 241v3M276 247v3M276 253v9M278 217v3M278 228v4M280 231v1M280 238v6M280 250v3M280 268v1M282 235v3M282 247v6M282 256v3M282 265v3M284 226v3M286 232v3M286 247v6M288 231v16M288 251v2M288 255v1M288 259v3M288 264v1M290 196v2M290 202v3M290 208v3M290 217v3M290 226v3M292 160v1M292 214v3M292 220v3M292 226v6M292 241v6M292 250v2M294 262v3M296 205v3M296 211v3M296 217v1M296 262v1M298 202v1M298 211v3M298 219v3M298 258v1M298 262v1M300 200v2M300 222v3M300 258v1M300 261v1M302 202v4M302 263v4M304 204v1M304 206v5M304 217v1M304 269v3M306 207v1M306 218v2M306 271v1M308 200v2M308 204v1M308 208v3M308 219v4M308 226v3M308 264v1M308 268v1M310 205v3M310 265v2M310 268v1M312 208v3M312 270v1M314 268v2M316 272v1M318 214v3M318 264v4M320 271v1M322 235v3M322 264v1M322 269v3M324 200v2M324 208v6M324 220v3M324 235v6M324 247v3M324 259v3M324 265v1M326 205v3M326 244v3M326 264v1M330 208v6M330 217v6M330 256v3M334 258v1M334 261v1M336 267v1M338 272v1M340 206v1M340 234v5M340 269v2M342 143v1M342 207v4M342 230v2M342 264v2M344 142v2M344 220v6M344 229v3M346 143v1M346 207v1M346 243v4M348 143v1M348 245v2M348 248v2M350 208v2M350 211v2M350 214v9M350 248v2M352 142v1M352 162v1M352 164v2M352 207v1M352 220v1M352 226v2M352 246v3M354 142v2M354 159v1M354 161v2M354 166v1M354 168v1M354 171v1M354 230v3M354 245v1M356 142v2M356 162v1M356 166v4M356 204v3M356 246v1M358 142v2M358 207v3M358 220v2M358 224v2M358 246v1M358 250v8M360 205v1M360 229v2M360 245v1M362 142v2M362 211v2M364 142v1M364 207v3M364 223v1M364 246v7M366 207v2M366 223v3M366 245v1M368 215v2M368 247v10M370 248v2M370 260v4M370 265v1M372 250v6M372 257v2M374 250v3M376 246v1M376 253v3M378 213v5M378 243v1M378 247v1M380 247v3M380 253v3M380 259v1M382 212v1M382 214v1M382 217v2M384 245v2M384 256v3M386 245v5M388 246v1M390 215v2M390 256v2M392 250v3M392 256v1M392 260v2M394 207v5M394 219v1M396 247v3M396 262v2M398 214v4M398 247v3M402 214v1M402 217v1M402 265v6M402 277v4M404 213v3M404 289v6M404 298v3M406 209v2M406 221v2M406 225v1M406 281v4M406 304v1M408 211v2M408 223v2M408 284v5M408 291v3M410 281v2M412 224v1M412 286v1M414 214v1M414 224v2M414 228v1M414 230v1M414 278v2M414 283v1M414 286v3M416 211v2M416 229v2M416 279v1M416 281v2M416 285v1M418 219v1M418 227v5M418 280v3M418 286v4M418 292v1M420 236v1M420 267v1M422 206v1M422 234v1M422 271v2M424 205v1M424 231v1M424 274v4M424 301v3M426 167v2M426 202v1M426 265v3M428 207v1M428 209v2M428 231v1M428 269v2M428 274v3M428 280v3M428 286v3M430 203v2M430 234v1M430 265v3M430 283v3M432 203v2M432 261v1M432 263v3M434 204v1M434 206v1M434 208v1M434 230v2M434 268v2M434 277v12M436 206v1M436 232v6M436 259v1M436 264v4M436 274v3M436 280v3M436 286v3M436 292v1M438 204v2M438 230v3M438 271v3M438 289v2M438 292v3M440 204v1M440 232v1M440 235v1M442 207v1M442 233v1M442 307v3M444 205v1M444 233v1M444 293v2M444 298v8M446 205v1M446 237v1M446 273v1M446 283v3M446 292v3M446 307v2M448 204v1M448 237v1M448 264v1M448 268v1M450 204v1M450 206v1M450 237v1M450 265v1M450 269v5M452 166v2M452 204v1M452 238v1M452 262v3M452 268v3M454 204v1M454 237v2M454 274v4M456 204v1M456 206v1M456 237v1M456 271v3M458 166v3M458 205v2M458 235v1M458 246v1M458 248v2M458 262v4M460 232v1M460 268v3M460 277v3M460 283v6M462 209v2M462 233v1M464 246v1M466 206v1M466 237v1M466 241v2M468 237v1M468 239v3M470 206v1M470 235v1M470 242v2M472 206v2M472 237v1M472 241v1M474 207v1M474 235v3M474 239v2M478 204v1M480 204v1M482 207v1M482 236v2M482 242v2M484 204v1M484 238v3M486 205v2M486 235v5M488 209v2M488 235v1M490 214v3M490 234v1M490 240v2M492 217v3M492 232v3M492 238v1M492 240v1M494 207v7M494 226v6M494 233v5M496 206v2M496 223v6M496 236v2M496 241v1M498 208v3M498 212v2M498 226v3M498 235v1M500 212v2M500 216v1M500 220v6M500 229v3M502 223v9M502 235v3M504 240v1M510 240v1M512 237v2M514 223v2M516 234v2M518 223v3M518 229v1M518 232v1M520 236v1M522 236v1M524 235v1M526 235v1M528 236v1M530 236v1M532 237v2M536 236v1M538 234v1M538 286v3M546 227v4M548 228v2M550 227v5M552 225v4M554 140v3M554 225v1M554 227v2M556 140v3M556 229v3M560 222v1M560 225v2M560 229v2M562 238v1M564 240v1M568 243v1M570 244v1M572 244v1M574 213v2M574 217v7M576 220v5M576 243v1M578 173v6M578 207v1M578 217v3M578 223v1M578 244v1M580 167v1M580 170v2M580 182v3M582 181v2M582 205v2M582 211v2M582 220v2M582 223v1M582 241v1M584 242v1M586 95v2M586 222v4M586 240v1M588 92v1M588 107v2M588 110v2M588 240v1M590 92v1M590 241v1M592 89v1M592 120v1M592 222v1M592 239v1M594 94v2M594 97v3M594 106v3M594 243v2M596 94v1M596 104v2M596 108v4M596 242v1M598 94v6M598 241v1M600 243v1M602 243v1M604 242v1M606 242v1M608 225v1M608 239v1"/>
<path stroke="#009fff" d="M92 150v1M94 291v2M94 400v3M96 288v1M96 291v1M96 319v3M96 340v6M96 349v3M96 355v3M98 291v1M98 310v1M98 312v1M98 322v9M98 343v6M98 358v3M98 370v3M98 381v1M98 385v3M100 246v1M100 267v1M100 271v3M100 283v2M100 287v2M100 331v9M100 343v6M100 355v3M100 403v2M102 271v3M102 328v9M102 343v6M102 364v3M102 403v2M104 280v2M104 313v3M104 324v1M104 334v3M106 275v2M106 340v6M108 262v1M108 268v3M108 272v2M108 319v3M108 331v3M108 340v1M108 367v3M110 259v1M110 262v3M110 325v3M110 331v3M110 379v6M112 256v6M112 346v3M114 175v2M114 229v3M114 235v3M114 247v3M114 253v3M114 388v3M116 175v2M116 214v6M116 225v4M118 170v2M118 179v2M118 182v5M118 193v3M118 340v3M120 171v3M120 179v1M120 181v6M120 192v1M120 194v2M120 202v1M120 208v3M120 217v1M120 221v2M122 169v2M122 184v3M122 201v1M122 343v3M122 355v3M124 181v3M124 334v6M124 361v3M124 370v3M124 388v3M124 394v3M126 172v3M126 352v3M126 367v3M126 379v6M126 391v3M126 400v3M128 147v1M128 149v2M128 154v5M128 160v1M128 376v3M130 162v1M130 166v3M130 337v3M130 349v3M130 367v3M130 382v3M132 149v2M132 153v1M132 157v1M132 160v3M132 373v3M132 382v3M134 55v2M134 143v2M136 66v4M136 130v1M138 64v4M138 133v2M140 62v4M140 130v2M140 134v3M142 64v1M142 124v3M142 130v3M154 76v3M154 80v2M154 85v9M154 97v9M154 115v3M156 133v3M156 138v2M156 142v1M156 148v10M156 160v2M158 69v2M158 140v2M158 156v1M158 160v3M158 340v3M160 67v1M160 139v1M160 142v1M160 151v6M160 163v3M160 169v1M160 222v2M160 226v3M160 238v1M160 241v1M160 313v6M162 65v1M162 174v2M162 199v3M162 208v8M162 243v1M162 245v3M162 256v6M162 271v3M162 280v3M162 290v2M162 307v3M162 313v3M162 319v9M162 349v2M162 352v3M162 376v3M164 65v1M164 172v1M164 214v3M164 220v1M164 253v3M164 259v3M164 264v1M164 291v1M164 313v9M164 337v3M166 63v1M166 65v1M166 173v2M166 209v5M166 270v4M166 289v1M166 312v1M166 319v9M166 331v3M168 66v1M168 216v1M168 220v2M168 245v2M168 248v5M168 256v3M168 262v2M168 265v3M168 293v2M168 310v1M168 319v3M168 349v1M170 180v2M170 216v1M170 276v4M170 283v8M170 310v2M170 313v3M170 322v4M170 370v6M172 197v2M172 200v2M172 205v6M172 322v3M172 337v3M172 343v3M172 355v6M172 364v3M172 373v9M172 391v3M174 52v3M174 183v1M174 214v4M174 220v1M174 271v6M174 280v1M174 292v1M174 295v1M174 306v3M174 325v3M174 331v3M174 337v3M174 343v3M174 376v3M176 190v3M176 217v3M176 277v9M176 289v3M176 312v7M176 325v3M176 337v3M178 189v1M178 193v3M178 205v3M178 211v3M178 286v3M178 312v1M178 322v9M178 334v6M178 346v9M178 364v3M178 373v3M178 382v3M178 388v3M180 211v3M180 217v3M180 230v5M180 238v3M180 271v3M180 277v3M180 282v1M180 292v3M180 298v3M180 308v4M180 313v3M180 328v3M180 340v3M182 191v2M182 196v6M182 214v3M182 223v4M182 232v3M182 247v3M182 253v3M182 268v3M182 274v6M182 295v3M182 316v6M184 202v3M184 225v3M184 229v9M184 244v6M184 253v3M184 262v6M184 271v6M184 296v2M184 307v1M186 208v3M186 214v3M186 227v2M186 241v3M186 250v3M186 256v6M186 292v9M186 310v2M186 319v2M186 322v2M188 312v7M188 322v3M190 214v3M190 220v3M190 229v3M190 241v3M190 256v9M190 283v6M190 307v3M190 325v2M190 334v3M192 204v1M192 208v2M192 211v3M192 220v3M192 226v3M192 235v9M192 259v3M192 277v3M192 283v3M192 310v2M192 316v3M194 201v4M194 215v5M194 226v3M194 243v1M194 274v3M194 289v3M196 198v1M196 205v3M196 214v5M196 240v1M196 245v2M196 277v3M198 196v1M198 202v3M198 223v2M198 226v3M198 235v3M198 240v7M198 261v4M198 280v3M198 286v5M198 292v1M200 167v2M200 193v2M200 229v3M200 238v6M200 259v3M200 295v3M200 301v3M202 193v3M202 197v2M202 211v3M202 223v5M202 253v3M202 312v1M202 316v12M202 331v2M202 334v3M202 340v3M202 349v3M204 166v1M204 169v2M204 183v1M204 250v3M204 259v3M204 268v5M204 308v2M204 311v1M204 319v3M206 191v5M206 211v6M206 226v1M206 312v7M206 322v6M206 346v9M206 359v2M206 367v3M206 373v3M206 379v3M208 175v3M208 181v6M208 188v2M208 226v3M208 241v1M208 244v6M208 256v3M208 271v3M208 289v1M208 307v3M208 312v1M208 358v3M210 205v6M210 214v5M210 223v1M210 226v3M210 235v3M210 313v6M210 355v6M210 370v6M210 379v6M210 391v6M212 175v6M212 296v10M212 307v3M212 379v9M214 174v4M214 307v1M214 367v3M214 373v3M216 173v1M216 176v14M216 196v6M216 205v9M216 216v1M216 328v3M218 173v1M220 175v1M220 205v3M222 173v1M222 175v6M222 190v3M222 205v2M224 55v1M224 207v1M224 214v2M226 217v2M228 55v3M228 61v1M228 173v7M228 195v1M228 200v2M230 65v1M230 138v1M230 143v2M230 148v12M232 55v3M232 143v5M232 164v4M234 58v7M234 158v5M236 165v1M236 167v2M238 61v3M238 161v2M238 164v2M240 164v2M242 163v5M244 164v2M246 164v2M248 175v3M248 181v6M248 190v12M248 205v3M248 274v1M248 304v1M250 164v3M252 190v6M252 208v3M252 268v1M252 301v3M254 179v2M256 181v3M256 187v2M258 186v1M258 193v12M260 189v1M260 196v3M260 202v2M262 189v1M264 202v8M264 220v6M266 215v8M266 232v3M266 244v2M268 276v4M268 364v3M268 373v3M268 385v3M268 391v3M268 397v6M270 376v3M270 382v3M272 235v9M272 247v6M272 256v9M272 382v3M272 391v3M274 231v4M274 241v3M274 250v3M274 259v3M274 382v12M276 232v6M276 244v3M276 265v3M276 274v3M276 364v3M276 379v3M276 385v3M276 403v2M278 232v3M278 238v6M278 250v3M278 256v3M278 262v3M278 370v3M278 378v1M278 394v3M280 232v6M280 253v3M280 262v3M280 269v5M280 403v2M282 232v3M282 241v6M282 253v3M282 371v2M282 403v2M284 232v9M284 244v3M284 262v2M284 373v3M284 397v3M286 235v3M286 244v3M286 253v3M286 265v2M286 372v1M286 387v1M286 391v6M288 256v3M288 265v1M288 271v3M288 376v3M288 397v3M290 198v4M290 211v6M290 220v6M290 229v2M290 241v3M292 252v3M292 265v1M292 388v3M294 268v3M294 383v2M294 397v3M296 214v3M296 263v5M296 388v3M298 203v2M298 208v3M298 217v2M298 259v1M298 263v4M300 202v1M300 208v3M300 217v5M302 206v11M302 218v2M302 267v5M304 214v3M304 272v1M304 394v2M306 217v1M306 272v1M306 397v1M308 217v2M308 269v3M310 267v1M310 269v3M310 400v3M312 271v1M312 397v3M314 270v2M314 379v3M314 400v3M316 394v3M316 403v2M320 272v1M320 379v3M322 272v1M322 374v2M322 388v6M324 266v4M324 271v1M326 268v1M326 271v1M328 271v1M328 370v3M328 382v3M330 214v3M330 229v3M330 259v6M332 268v4M332 386v2M332 397v3M332 403v2M334 262v2M334 400v3M336 271v1M336 400v3M338 273v1M338 371v2M338 379v9M338 394v6M338 403v2M340 207v1M340 211v3M340 232v2M340 388v6M342 211v5M342 217v1M342 226v4M342 266v2M342 394v3M344 253v3M344 259v1M344 376v3M344 382v3M346 247v2M346 376v3M346 391v3M346 400v5M348 250v1M348 389v2M350 210v1M350 213v1M350 250v2M350 253v1M352 166v3M352 208v2M352 211v2M352 219v1M352 249v2M354 167v1M354 170v1M354 204v2M354 229v1M354 246v1M356 207v3M356 226v3M356 247v1M356 250v3M356 319v3M358 210v1M358 223v1M358 258v1M360 206v1M360 222v7M360 246v2M360 250v6M360 403v2M362 208v3M362 213v1M362 220v3M362 250v7M362 385v6M364 210v4M364 220v3M366 209v2M366 221v2M366 246v2M366 250v3M366 256v2M368 257v2M370 264v1M370 266v2M370 385v3M370 394v3M372 259v2M372 262v1M374 247v1M374 256v2M374 259v3M376 247v1M376 250v3M378 244v2M378 248v2M380 256v3M380 260v5M380 388v3M382 213v1M382 215v2M382 244v1M384 247v1M384 253v3M386 250v6M386 388v6M388 247v3M388 253v4M388 388v3M390 247v1M390 250v6M390 258v1M392 253v3M392 257v2M392 403v2M394 212v2M394 217v2M394 244v1M394 247v3M396 264v1M396 318v1M396 382v3M398 262v1M400 262v12M400 277v3M402 215v2M402 274v3M402 281v2M404 216v1M404 286v2M404 295v3M404 301v3M404 389v2M406 211v1M406 220v1M406 223v2M406 285v3M406 289v6M406 298v3M406 305v2M406 397v3M408 213v2M408 294v1M408 298v6M408 318v1M410 208v1M410 283v1M410 286v1M410 315v1M412 217v3M412 223v1M412 287v4M412 295v3M412 325v3M412 397v3M414 211v1M414 215v2M414 220v4M414 226v2M414 229v1M414 284v2M416 213v2M416 220v3M416 227v2M416 286v3M418 214v2M418 223v4M418 290v2M418 293v2M418 298v3M418 394v3M420 205v1M420 235v1M420 268v2M422 207v1M422 233v1M422 273v3M424 206v1M424 208v1M424 228v3M424 278v11M424 292v9M424 304v3M424 313v3M424 334v2M424 382v3M424 391v3M424 400v3M426 203v1M426 233v2M426 268v2M426 382v3M428 229v2M428 277v3M428 283v3M428 289v2M428 295v3M428 304v1M428 319v3M428 376v6M428 385v3M430 205v4M430 232v2M430 268v1M430 274v3M430 286v3M430 349v3M430 379v3M432 233v2M432 266v8M432 277v3M432 286v3M432 376v3M434 207v1M434 209v2M434 227v3M434 270v7M434 289v1M434 292v6M434 322v3M434 370v3M434 385v3M436 207v1M436 260v2M436 277v3M436 283v3M436 293v2M438 206v1M438 229v1M438 291v1M438 328v6M438 378v1M438 382v3M440 205v1M440 208v1M440 289v6M440 298v3M440 322v3M440 367v6M440 382v3M442 208v1M442 232v1M442 319v3M442 373v6M442 382v3M442 400v3M444 206v1M444 208v1M444 232v1M444 306v2M444 331v3M444 340v3M444 352v3M444 370v6M444 397v3M446 206v1M446 208v1M446 236v1M446 277v2M446 280v3M446 286v6M446 295v12M446 309v1M446 355v6M446 373v3M446 385v3M448 205v1M448 265v1M448 269v2M448 376v3M448 391v3M450 207v1M450 236v1M450 266v2M450 274v1M450 376v3M452 237v1M452 265v3M452 271v3M454 205v1M454 235v2M454 278v2M456 207v1M456 231v1M456 234v1M456 236v1M456 274v6M456 283v3M456 364v3M456 382v3M458 207v1M458 234v1M458 253v6M458 266v5M458 283v3M460 211v1M460 227v2M460 271v6M460 348v1M460 351v10M460 367v6M460 376v3M460 385v9M460 397v8M462 232v1M462 247v6M462 256v3M462 265v1M462 349v3M462 361v3M462 370v3M462 385v6M462 394v3M464 208v2M464 211v1M464 234v1M464 247v5M464 348v1M464 352v6M464 364v6M464 373v6M464 382v3M466 207v2M466 234v1M466 236v1M466 243v1M466 391v3M466 397v3M468 205v2M468 236v1M468 238v1M468 242v1M470 207v1M470 214v2M470 217v1M470 234v1M470 370v3M470 379v6M470 391v3M470 400v5M472 235v2M472 242v1M472 381v1M472 383v2M472 388v6M472 403v2M474 208v8M474 238v1M474 241v1M474 283v3M474 382v3M474 391v3M474 403v2M478 205v1M482 208v3M482 220v3M482 229v3M482 234v2M482 239v1M484 205v1M486 207v2M486 240v1M488 211v3M488 233v2M488 241v1M490 217v2M490 220v2M490 229v5M490 242v1M490 352v3M492 211v6M492 220v3M492 226v6M492 385v3M494 217v3M494 232v1M496 208v6M496 217v3M496 229v7M496 242v1M498 214v6M498 223v3M498 232v3M498 242v1M500 217v3M500 241v1M502 238v2M506 241v1M506 358v3M508 241v1M508 343v3M510 241v1M510 379v3M512 239v1M512 337v6M512 352v11M512 388v3M514 225v2M514 229v3M516 236v2M516 343v3M516 352v3M516 358v6M518 233v1M520 237v1M520 334v3M520 352v3M520 364v3M522 237v1M522 355v3M524 236v1M526 236v1M526 340v6M528 237v1M528 334v3M530 237v2M530 325v3M530 335v6M532 239v1M532 332v2M532 340v1M534 331v3M534 337v3M536 237v1M536 287v2M536 292v3M536 323v2M536 331v3M536 337v3M536 352v3M538 283v3M538 295v2M538 298v3M542 229v3M544 233v1M546 231v2M548 230v2M550 232v1M550 355v3M550 361v3M550 367v3M550 376v3M550 388v3M554 229v2M556 364v3M556 370v6M556 379v3M556 394v1M558 140v3M558 232v1M560 223v2M560 233v1M562 239v1M562 385v3M564 241v1M566 243v1M566 351v7M566 361v3M566 367v4M566 388v3M570 245v1M570 349v3M570 355v17M570 373v3M570 379v6M570 394v6M572 245v1M572 351v1M572 358v6M574 215v2M574 243v1M578 208v3M578 245v1M580 168v1M580 172v3M580 177v1M580 180v2M580 205v2M580 213v1M580 244v1M582 169v2M582 178v3M582 207v4M582 222v1M584 243v1M586 100v6M588 93v1M588 105v2M588 109v1M588 241v1M590 93v1M590 112v3M590 242v1M592 90v1M592 117v3M592 240v1M594 96v1M594 104v2M594 245v1M594 346v3M594 352v53M596 95v3M596 100v4M596 106v2M596 243v1M596 352v3M596 361v3M596 370v3M598 242v1M600 244v1M600 355v3M600 364v6M604 243v1M604 325v3M606 243v1M606 343v3M608 223v2M608 240v1"/>
<path stroke="#00cfff" d="M92 289v2M92 352v3M94 293v1M94 319v3M94 343v2M94 346v5M94 376v3M96 310v3M96 352v3M96 358v2M96 382v6M98 292v2M98 317v2M98 331v12M98 349v3M98 361v9M98 379v2M98 400v3M100 285v1M100 311v2M100 340v3M100 349v3M100 385v2M102 177v2M102 283v1M102 286v2M102 289v1M102 315v4M102 322v6M102 337v6M104 177v2M104 274v6M104 282v4M104 322v2M104 331v3M104 343v6M104 352v6M104 367v2M104 379v3M106 177v2M106 277v3M106 283v6M106 328v6M106 370v3M108 177v2M108 263v5M108 277v1M108 341v2M110 177v2M110 260v2M110 265v8M110 315v1M110 346v3M110 361v3M110 400v3M112 177v2M112 265v9M112 322v6M112 334v3M112 340v6M112 352v12M112 388v3M112 397v3M114 177v2M114 232v3M114 238v6M114 337v3M114 361v3M114 382v3M116 177v2M116 220v3M116 232v1M116 238v3M116 391v3M118 172v2M118 178v1M118 181v1M118 199v1M118 214v3M118 223v2M120 174v1M120 177v2M120 196v6M120 203v2M120 218v2M120 223v1M120 337v3M120 364v3M120 370v3M120 376v3M122 171v1M122 175v6M122 190v3M122 196v3M122 325v6M122 370v3M122 376v3M122 388v6M124 172v3M124 196v5M124 215v2M124 328v3M124 346v3M126 175v6M126 184v3M126 340v6M126 349v3M126 355v9M126 376v3M126 394v3M128 151v3M128 159v1M128 161v2M128 334v3M130 370v3M130 397v6M132 158v2M132 163v1M132 334v3M132 358v3M132 397v3M134 52v3M134 145v9M134 349v3M134 373v3M136 63v3M136 131v2M138 135v4M140 61v1M140 132v1M140 137v2M142 133v3M144 74v2M144 79v3M154 79v1M154 82v3M154 118v1M156 69v1M156 140v2M156 143v2M156 162v1M156 385v3M158 68v1M158 127v3M158 142v6M158 151v5M158 163v6M158 364v3M158 382v3M160 140v2M160 143v2M160 148v3M160 170v1M160 221v1M160 239v2M160 242v2M160 294v1M160 346v6M160 361v3M160 379v3M160 385v3M160 391v3M162 64v1M162 176v2M162 181v3M162 248v2M162 253v3M162 265v6M162 274v3M162 283v3M162 289v1M162 310v2M162 316v3M162 343v6M162 351v1M162 370v3M162 379v3M162 388v3M164 63v2M164 173v4M164 208v6M164 247v1M164 250v3M164 256v3M164 277v3M164 286v5M164 310v1M164 322v3M164 340v4M164 376v3M164 400v3M166 62v1M166 64v1M166 175v2M166 206v3M166 277v9M166 328v3M168 65v1M168 172v2M168 214v2M168 218v2M168 253v3M168 259v3M168 264v1M168 268v6M168 290v3M168 311v1M168 313v6M168 350v2M170 60v1M170 63v1M170 182v2M170 187v3M170 213v3M170 319v3M170 326v11M170 382v6M172 52v3M172 312v1M172 316v6M172 325v3M172 331v6M172 349v3M172 361v3M172 367v6M172 388v3M172 397v3M172 403v2M174 56v2M174 187v3M174 193v3M174 281v2M174 289v3M174 309v3M174 313v3M174 334v3M174 340v3M174 346v3M174 352v6M174 364v6M174 382v3M176 184v1M176 193v4M176 208v9M176 221v2M176 286v3M176 319v3M176 334v3M176 340v2M178 307v3M178 313v6M178 331v3M178 340v2M178 343v3M178 355v3M178 394v6M178 403v2M180 190v1M180 196v3M180 202v9M180 214v3M180 241v3M180 256v3M180 262v3M180 283v3M180 312v1M180 334v3M180 391v2M182 227v5M182 235v6M182 244v3M182 256v9M182 283v3M182 307v2M182 322v3M182 337v3M184 228v1M184 238v6M184 250v3M184 268v3M184 280v3M184 289v3M184 295v1M184 308v2M186 229v3M186 235v3M186 247v3M186 262v3M186 268v24M186 301v6M186 312v7M186 321v1M186 324v1M188 319v2M188 325v1M188 328v3M188 334v3M190 253v3M190 310v2M190 313v3M190 327v1M192 210v1M192 214v3M192 223v3M192 229v6M192 244v1M192 247v3M192 253v6M192 265v3M192 274v3M192 280v3M192 298v3M192 304v3M192 312v1M192 319v3M194 208v6M194 220v3M194 244v2M194 247v6M194 256v18M194 277v6M194 286v3M194 304v3M196 199v6M196 208v3M196 247v3M196 256v9M196 268v6M196 280v6M196 331v1M198 197v2M198 219v4M198 250v11M198 265v3M198 272v5M198 291v1M198 293v2M198 307v3M198 313v3M198 325v3M200 195v3M200 220v3M200 228v1M200 244v6M200 262v6M200 304v3M200 310v2M200 313v3M200 346v3M202 202v6M202 214v9M202 313v3M202 328v3M202 333v1M202 352v3M202 358v3M204 167v2M204 184v4M204 193v3M204 232v6M204 241v9M204 253v3M204 257v2M204 312v1M204 349v3M204 367v3M206 202v6M206 220v6M206 229v3M206 319v3M206 355v4M206 361v3M206 376v3M208 193v6M208 205v9M208 217v3M208 229v6M208 322v3M208 349v3M208 357v1M208 376v3M208 382v3M208 400v3M210 219v1M210 224v2M210 232v3M210 310v2M210 325v3M210 334v3M210 349v3M210 361v3M210 385v6M210 400v3M212 205v3M212 211v3M212 217v3M212 279v1M212 289v3M212 295v1M212 306v1M212 376v3M212 388v3M212 403v2M214 190v3M214 196v6M214 208v6M214 295v9M214 308v2M214 361v3M214 391v3M216 174v1M216 193v3M216 202v3M216 298v3M216 319v6M216 334v3M216 340v3M218 174v1M220 176v5M220 184v3M220 190v6M220 202v3M222 174v1M222 187v3M222 196v3M222 202v3M222 207v3M224 216v3M226 219v1M228 52v3M228 202v3M230 64v1M230 145v3M230 160v7M232 168v4M234 52v3M242 168v1M244 166v3M246 166v5M246 172v1M246 202v3M246 279v4M248 202v3M248 214v3M248 273v1M248 305v2M250 167v2M250 175v3M250 273v1M250 307v1M252 184v3M252 196v3M252 202v6M252 211v3M252 217v2M252 265v3M252 273v1M252 305v1M254 181v2M254 187v3M256 184v2M256 189v1M258 190v3M258 205v1M258 208v1M260 190v3M260 204v1M262 193v6M264 210v7M264 226v12M266 226v3M266 241v1M266 246v1M268 382v3M268 388v3M268 394v3M270 250v6M270 259v10M270 271v3M270 277v3M270 366v1M270 403v2M272 244v3M272 253v3M272 265v6M272 274v3M272 373v3M272 394v4M274 265v2M274 268v1M274 274v3M274 379v3M274 400v3M276 268v6M276 277v3M276 370v3M278 235v3M278 244v6M278 253v3M278 259v3M278 376v2M278 388v3M278 398v2M280 247v3M280 265v3M280 274v7M280 368v2M280 379v3M280 398v2M282 259v6M282 268v3M282 370v1M284 229v1M284 241v3M284 250v12M284 264v4M284 385v3M284 391v3M286 267v3M286 370v2M286 376v3M286 382v1M286 385v2M286 397v3M288 266v5M288 366v1M288 382v3M288 388v3M288 400v3M290 205v3M290 231v10M290 244v5M290 250v1M290 366v1M292 255v1M292 259v3M292 266v2M292 379v6M294 271v2M294 367v6M294 376v3M294 382v1M294 388v3M294 394v3M294 400v3M296 268v2M296 376v3M296 394v6M298 205v2M298 214v3M298 260v2M298 267v1M300 203v2M300 262v1M300 265v2M302 217v1M302 272v1M302 382v3M302 397v2M304 273v1M304 368v11M304 396v1M306 361v3M306 369v1M306 379v3M306 385v6M306 398v5M308 272v1M310 272v1M310 376v3M310 403v2M312 272v1M312 382v3M314 272v1M314 373v3M314 394v3M316 273v1M316 373v3M316 382v5M318 394v3M320 367v3M320 375v1M320 385v3M320 391v2M320 403v2M322 369v1M322 373v1M322 379v2M322 394v3M322 400v3M324 270v1M324 365v2M324 403v2M326 269v2M326 272v1M326 370v3M328 363v1M328 367v3M328 376v3M328 391v3M328 397v3M330 265v2M330 268v1M332 272v1M332 376v10M332 388v6M334 264v3M334 268v2M334 271v1M334 391v3M336 272v1M336 374v2M336 385v6M336 394v3M338 274v1M338 370v1M340 208v3M340 214v3M340 220v1M340 226v3M340 230v2M340 271v1M340 385v3M340 403v2M342 216v1M342 218v4M342 223v3M342 391v3M344 256v2M344 260v2M344 385v3M344 389v5M344 400v5M346 249v3M346 385v3M346 390v1M346 397v3M348 251v7M348 388v1M348 391v6M348 400v3M350 252v1M350 254v2M350 379v3M350 385v3M350 394v3M350 403v2M352 210v1M352 213v2M352 217v2M352 223v3M352 251v2M352 385v3M352 394v3M354 163v3M354 169v1M354 206v1M354 208v1M354 226v3M354 400v3M356 210v3M356 214v1M356 248v2M356 253v3M358 211v1M358 217v3M358 259v1M360 207v1M360 211v3M360 220v2M360 248v2M360 256v1M360 376v3M362 214v6M362 257v1M362 259v1M362 382v3M362 391v3M362 397v8M364 214v1M364 218v2M364 256v2M364 400v3M366 211v3M366 220v1M366 248v2M366 253v3M366 258v1M368 259v1M368 385v3M368 400v3M370 268v1M370 383v2M370 388v6M370 403v2M372 261v1M372 263v3M372 394v3M374 248v2M374 253v3M374 258v1M376 248v2M376 256v2M376 403v2M378 246v1M378 253v4M378 259v3M380 385v3M380 397v6M382 245v2M382 250v6M382 259v1M382 322v2M384 248v5M384 322v1M384 382v3M384 397v3M386 256v3M386 382v3M386 400v3M388 250v3M388 257v2M390 248v2M390 259v2M390 380v2M392 262v2M392 317v5M392 381v1M392 385v3M394 214v3M394 245v2M394 250v6M394 381v1M396 265v1M396 316v2M396 319v3M396 397v3M396 403v2M398 263v5M398 382v3M400 274v3M400 280v2M400 292v3M400 301v3M400 325v3M402 283v3M402 292v3M402 301v3M402 325v3M402 400v3M404 288v1M404 304v2M404 388v1M404 397v3M406 212v1M406 214v1M406 288v1M406 295v3M406 301v3M406 400v3M408 215v2M408 219v1M408 222v1M408 295v3M408 316v2M408 325v3M408 400v3M410 209v1M410 211v1M410 222v1M410 225v1M410 284v2M410 287v4M410 307v2M410 313v2M410 325v3M412 214v3M412 220v3M412 291v2M412 298v3M412 319v3M412 400v3M414 212v2M414 217v3M414 292v3M416 215v2M416 223v4M416 289v1M416 292v15M416 325v3M418 216v1M418 295v3M418 318v1M418 392v2M420 206v2M420 270v1M420 274v1M422 208v2M422 230v3M422 276v1M422 280v3M422 374v2M422 391v3M424 207v1M424 209v2M424 225v1M424 227v1M424 289v3M424 307v6M424 316v3M424 325v3M424 336v2M424 366v1M424 368v2M424 376v3M424 388v3M426 204v1M426 232v1M426 270v4M428 228v1M428 291v4M428 301v3M428 305v4M428 331v3M428 369v1M428 382v3M428 400v5M430 209v1M430 231v1M430 269v3M430 277v6M430 289v3M430 328v3M430 340v3M430 373v3M430 394v3M432 205v2M432 232v1M432 274v3M432 397v3M434 226v1M434 290v2M434 298v3M434 328v3M434 355v3M434 382v3M434 388v6M434 397v3M436 208v2M436 231v1M436 289v3M436 325v3M436 337v6M436 346v3M436 361v3M436 381v1M436 391v3M436 397v8M438 207v2M438 295v6M438 304v2M438 307v3M438 355v3M438 376v2M438 379v3M438 385v3M438 391v3M438 403v2M440 206v1M440 209v2M440 295v3M440 301v6M440 310v2M440 328v3M440 376v1M440 397v3M442 209v2M442 310v1M442 313v3M442 325v3M442 334v9M442 363v4M442 370v3M442 379v2M442 391v3M442 397v3M442 403v2M444 207v1M444 209v3M444 308v4M444 313v3M444 319v6M444 328v3M444 334v3M444 355v3M444 361v6M444 376v6M444 388v3M444 394v3M444 400v3M446 207v1M446 209v1M446 274v3M446 279v1M446 310v3M446 316v3M446 322v3M446 331v3M446 337v6M446 382v2M446 394v3M448 206v1M448 208v1M448 236v1M448 266v2M448 274v1M448 298v3M448 304v3M448 358v3M448 379v3M448 403v2M450 275v4M450 342v1M450 349v3M450 373v3M450 388v3M450 400v3M452 205v1M452 236v1M452 277v3M452 367v3M452 385v6M452 394v3M454 206v1M454 234v1M454 286v2M454 361v3M454 373v3M454 391v3M454 400v3M456 208v2M456 211v2M456 229v2M456 232v2M456 235v1M456 342v1M456 349v3M456 370v3M456 376v6M456 391v3M456 400v3M458 208v1M458 229v3M458 233v1M458 271v12M458 286v3M458 355v3M458 376v3M458 388v6M458 400v3M460 212v1M460 226v1M460 231v1M460 280v3M460 289v1M460 344v4M460 349v2M460 361v6M460 373v3M460 379v6M460 394v3M462 211v2M462 253v3M462 259v6M462 266v2M462 274v3M462 280v2M462 346v3M462 352v3M462 364v3M462 373v12M462 391v3M462 397v3M464 210v1M464 212v2M464 233v1M464 252v3M464 271v3M464 346v2M464 358v6M464 370v3M464 379v3M464 385v3M464 391v3M464 400v5M466 209v2M466 232v2M466 235v1M466 244v1M466 346v3M466 351v4M466 361v6M466 373v3M466 382v6M466 394v3M466 400v5M468 207v1M468 214v3M468 235v1M468 243v1M468 346v3M468 355v3M468 382v3M470 208v3M470 216v1M470 218v2M470 232v2M470 244v1M470 364v6M470 373v3M470 385v6M470 397v3M472 214v3M472 234v1M472 243v2M472 337v6M472 349v6M472 358v3M472 364v9M472 379v2M472 382v1M472 385v3M472 394v3M474 216v6M474 229v6M474 242v4M474 280v3M474 381v1M474 385v6M474 397v6M476 205v1M476 214v3M476 283v3M478 206v1M480 205v1M480 214v3M480 223v2M482 211v2M482 214v3M482 223v6M482 232v2M482 238v1M482 240v1M482 391v3M484 206v2M484 231v1M486 209v2M486 232v3M488 214v3M488 220v1M488 225v1M488 227v6M488 335v2M488 340v3M488 349v3M488 391v3M488 400v3M490 219v1M490 222v1M490 226v3M490 328v6M490 337v3M490 346v3M490 364v3M490 370v3M490 382v3M490 388v6M492 223v3M492 241v1M492 337v3M492 382v3M492 394v3M492 400v3M494 214v3M494 220v3M494 241v1M494 343v3M494 388v3M494 394v3M496 214v3M496 220v3M496 373v3M496 379v3M498 337v3M498 379v3M502 240v2M506 331v3M506 343v3M506 349v9M508 346v3M508 352v3M510 343v6M510 352v3M510 358v9M512 240v1M512 335v2M512 343v3M512 363v1M512 379v3M514 227v2M516 238v1M516 335v5M516 346v3M516 355v3M516 364v1M516 367v3M516 379v3M516 385v6M516 394v1M518 234v3M520 238v1M520 333v1M520 337v15M520 355v6M520 373v3M520 382v3M522 352v3M522 358v3M522 367v3M524 237v2M524 349v3M524 355v3M526 237v2M526 329v2M526 334v3M526 346v6M526 355v3M526 361v3M526 388v3M528 238v1M528 343v3M530 239v1M530 328v7M530 341v5M532 240v1M532 331v1M532 334v6M532 341v5M534 238v1M534 328v3M534 355v3M534 361v1M536 286v1M536 301v2M536 322v1M536 346v3M538 235v1M538 282v1M538 297v1M538 301v1M542 232v1M544 234v1M544 352v3M544 364v3M544 388v6M544 400v3M548 148v2M548 358v3M548 376v3M548 388v3M550 148v2M550 358v3M550 370v6M550 379v3M550 385v3M550 394v2M550 397v2M552 148v2M552 229v2M552 361v3M552 370v3M552 391v3M554 231v1M554 370v3M556 232v1M556 352v3M556 358v3M556 367v3M556 376v3M556 382v6M556 395v2M558 233v1M558 356v2M558 360v1M558 388v3M560 140v3M560 234v1M562 240v1M562 358v3M562 364v3M562 379v6M564 242v1M564 348v1M564 351v1M564 355v3M564 376v3M564 391v3M566 349v2M566 371v3M566 403v2M568 244v1M568 351v1M568 355v6M568 364v3M570 247v2M570 348v1M570 352v3M570 372v1M570 376v3M570 391v3M570 400v5M572 246v1M572 349v2M572 355v3M572 382v9M572 394v3M576 244v1M576 361v3M576 367v3M578 246v2M578 351v1M578 355v6M578 370v1M580 175v2M580 178v2M580 207v1M580 210v3M580 245v1M580 355v3M580 361v3M582 171v7M582 242v1M582 244v1M584 356v2M584 361v3M586 97v3M586 241v1M588 94v1M588 97v1M588 100v5M588 242v1M590 104v5M590 110v2M590 243v1M590 355v3M590 373v3M592 91v1M592 115v2M592 241v1M594 100v4M594 246v2M594 349v3M596 98v2M596 350v2M596 364v2M596 373v3M596 391v3M596 397v8M598 243v1M598 358v6M598 385v3M598 394v3M600 245v1M600 352v1M600 370v3M600 388v3M600 394v3M600 400v3M602 244v1M602 352v2M604 244v1M604 313v3M604 319v3M604 334v6M604 343v6M606 244v1M606 312v1M606 319v3M606 325v6M606 334v6M606 349v4"/>
<path stroke="#00ffff" d="M92 291v2M92 325v6M92 343v3M92 364v3M92 385v3M92 397v3M94 294v1M94 298v6M94 322v3M94 328v3M94 337v3M94 345v1M94 351v1M94 364v6M94 385v3M94 391v3M94 397v3M96 292v1M96 315v1M96 322v9M96 337v3M96 346v3M96 360v1M96 393v4M96 400v3M98 294v10M98 306v1M98 313v4M98 319v3M98 355v3M98 382v3M98 391v9M98 403v2M100 310v1M100 313v3M100 319v6M100 352v3M100 358v6M100 387v1M100 398v5M102 284v2M102 288v1M102 290v2M102 313v2M102 319v3M102 349v3M102 358v6M102 373v3M104 286v5M104 310v3M104 316v6M104 337v2M104 361v3M104 369v2M104 376v3M104 385v3M104 394v3M106 280v3M106 289v3M106 295v3M106 311v2M106 322v6M106 337v3M106 361v6M108 274v1M108 278v5M108 310v3M108 326v2M108 346v3M108 370v6M108 382v6M110 273v3M110 307v3M110 313v2M110 317v5M110 324v1M110 328v3M110 343v3M110 355v3M110 364v3M110 385v3M110 397v3M112 274v2M112 277v1M112 295v3M112 301v3M112 313v3M112 319v3M112 331v3M112 337v3M112 364v9M112 376v3M112 382v3M112 394v3M114 244v3M114 250v3M114 256v3M114 352v3M114 370v3M114 391v3M114 400v3M116 229v3M116 233v5M116 244v3M116 250v3M116 328v6M116 355v3M116 388v3M116 400v3M118 174v4M118 196v1M118 200v5M118 208v6M118 225v2M118 326v2M118 361v6M118 397v6M120 205v3M120 211v6M120 224v2M120 232v3M120 343v6M120 361v3M120 367v3M120 373v3M120 388v3M120 397v3M120 403v2M122 202v4M122 209v2M122 212v8M122 334v6M122 349v3M122 358v3M122 364v3M122 373v3M122 379v9M122 394v3M124 169v3M124 175v3M124 184v3M124 190v6M124 201v2M124 212v3M124 217v2M124 331v3M124 352v9M124 367v3M124 373v3M124 382v6M124 397v3M126 181v3M126 190v1M126 199v2M126 328v3M126 335v5M126 385v3M126 397v3M126 403v2M128 163v2M128 166v1M128 333v1M128 370v3M130 169v2M130 172v2M130 175v3M130 319v3M130 340v9M130 355v3M130 385v12M130 403v2M132 164v2M132 169v1M132 361v3M132 385v9M134 154v2M134 355v6M134 385v3M136 61v2M136 133v4M138 60v1M138 63v1M140 60v1M140 139v1M140 142v1M142 136v1M144 73v1M144 82v3M150 355v3M152 106v3M154 72v1M154 74v2M154 119v10M156 68v1M156 145v3M156 163v1M156 166v2M156 328v12M156 361v3M156 388v3M156 400v3M158 67v1M158 169v2M158 226v3M158 235v2M158 322v3M158 367v6M160 66v1M160 145v3M160 171v2M160 219v2M160 244v1M160 262v3M160 292v2M160 295v15M160 319v3M160 328v3M160 334v3M160 340v3M160 355v3M160 367v9M162 63v1M162 178v1M162 184v3M162 190v3M162 196v3M162 277v3M162 286v3M162 312v1M162 328v3M162 334v9M162 358v3M162 367v3M162 382v6M162 397v2M164 62v1M164 177v4M164 204v1M164 248v2M164 265v2M164 311v1M164 325v3M164 344v3M164 349v3M164 382v3M166 61v1M166 177v3M166 204v2M166 313v6M166 340v5M168 64v1M168 174v3M168 178v1M168 211v3M168 217v1M168 274v3M168 289v1M168 312v1M168 331v3M168 337v3M170 59v1M170 62v1M170 184v3M170 193v2M170 206v7M170 312v1M170 340v3M170 346v3M170 352v3M170 376v3M170 400v3M172 313v3M172 328v3M172 340v3M172 346v3M172 352v3M172 382v3M172 394v3M172 400v3M174 55v1M174 184v3M174 190v3M174 196v3M174 209v2M174 283v6M174 316v3M174 328v3M174 361v3M174 373v3M174 385v2M176 185v2M176 197v2M176 202v3M176 220v1M176 322v3M176 328v6M176 342v10M176 367v6M176 379v15M176 397v3M178 319v3M178 342v1M178 358v3M178 367v6M178 379v3M178 385v3M178 391v3M178 400v3M180 191v5M180 199v3M180 286v3M180 291v1M180 316v6M180 325v3M180 331v3M180 337v3M180 346v3M180 358v6M180 367v9M180 379v3M180 393v1M182 241v3M182 265v3M182 271v3M182 280v3M182 286v3M182 309v3M182 343v3M184 277v3M184 283v6M184 319v2M186 232v3M186 238v3M186 244v3M186 265v3M186 307v3M188 321v1M188 326v2M188 331v3M188 340v6M190 322v3M190 331v3M192 217v3M192 245v2M192 262v3M192 268v3M192 286v9M192 301v3M192 313v3M192 325v2M194 246v1M194 253v3M194 283v3M194 292v9M194 307v3M194 322v3M196 211v3M196 250v6M196 274v3M196 286v4M196 313v3M196 322v6M196 332v2M198 199v3M198 205v14M198 247v3M198 268v4M198 295v12M198 310v2M198 331v3M200 198v1M200 211v3M200 223v5M200 232v3M200 250v6M200 258v1M200 312v1M200 319v3M200 325v3M200 331v3M200 349v3M202 199v3M202 355v3M202 361v6M202 370v1M204 188v3M204 202v3M204 230v2M204 256v1M204 313v6M204 322v3M204 340v3M206 328v3M206 334v3M206 340v3M206 364v3M206 370v3M206 385v6M206 394v3M206 400v3M208 190v3M208 199v6M208 214v3M208 220v3M208 238v3M208 313v3M208 319v3M208 325v8M208 355v2M208 361v15M208 391v3M208 403v2M210 312v1M210 319v3M210 328v3M210 340v9M210 352v3M210 364v6M210 376v3M210 397v3M210 403v2M212 181v8M212 199v6M212 208v3M212 214v3M212 250v3M212 262v3M212 274v5M212 283v6M212 292v3M212 316v3M212 322v6M212 334v6M212 343v3M212 352v3M212 361v3M212 367v3M212 391v12M214 178v9M214 193v3M214 202v6M214 214v4M214 232v3M214 259v3M214 292v3M214 340v6M214 370v3M214 403v2M216 190v3M216 217v2M216 223v3M216 229v6M216 241v3M216 288v1M216 290v2M216 295v3M216 301v4M216 310v1M216 331v3M216 346v3M216 367v2M218 175v1M218 190v3M220 181v3M220 187v3M220 196v6M220 208v9M222 210v9M224 219v1M228 205v1M228 208v3M230 52v12M230 167v2M232 172v2M234 55v3M234 163v1M236 169v1M236 191v3M238 166v2M240 169v1M240 199v2M242 169v2M242 196v3M244 169v1M244 184v3M246 171v1M246 173v2M246 180v1M246 187v3M246 205v3M246 278v1M246 283v3M248 178v3M248 187v3M248 211v3M248 217v2M248 270v1M248 272v1M248 307v1M250 169v6M250 178v2M250 205v3M250 271v2M250 308v1M252 199v3M252 214v2M252 219v2M252 261v1M252 264v1M252 271v2M252 306v1M254 183v4M254 208v1M254 276v1M254 280v9M256 186v1M256 190v3M258 206v2M258 209v4M258 220v6M260 193v3M260 199v2M260 208v1M260 211v2M260 232v6M262 190v1M262 199v1M262 202v1M262 232v3M264 217v3M264 241v1M266 242v2M266 247v3M268 280v1M268 351v1M268 358v3M268 362v2M268 367v6M268 376v6M270 269v2M270 364v2M270 367v9M270 379v3M270 385v3M270 391v9M272 271v2M272 370v3M272 385v6M272 398v2M274 267v1M274 269v2M274 277v4M274 366v1M274 373v3M274 394v6M274 403v2M276 280v1M276 373v3M276 378v1M276 391v7M278 265v5M278 271v3M278 385v3M278 397v1M278 400v3M280 366v2M280 373v6M280 394v4M282 277v3M282 368v2M282 373v3M282 379v6M282 388v3M282 394v9M284 230v2M284 247v3M284 271v3M284 365v2M284 403v2M286 270v2M286 274v2M286 373v3M286 383v2M286 388v3M288 364v2M288 369v7M288 385v3M288 391v2M290 249v1M290 251v11M290 364v2M290 383v2M290 400v3M292 256v3M292 262v3M292 268v2M292 368v11M292 385v1M292 391v3M292 403v2M294 273v7M294 373v3M294 385v3M296 270v2M296 382v6M296 403v2M298 207v1M298 382v3M298 394v3M298 403v2M300 205v2M300 211v6M300 263v2M300 267v1M300 373v6M300 388v3M302 273v1M302 367v3M302 394v3M302 399v1M304 274v1M304 365v3M304 382v3M304 388v6M304 400v5M306 273v1M306 365v4M306 373v3M306 382v3M306 391v3M308 385v6M308 394v3M310 367v3M310 388v3M310 398v2M312 273v1M312 379v3M312 385v3M312 400v5M314 273v1M314 366v1M314 376v3M314 382v3M314 388v3M314 403v2M316 364v3M316 370v3M316 380v2M316 387v4M316 400v3M318 271v1M318 403v2M320 273v2M320 370v5M320 382v3M320 388v3M320 393v5M320 400v3M322 367v2M322 370v3M322 381v4M324 272v1M324 364v1M324 376v2M324 379v1M324 382v3M324 388v3M324 394v3M326 365v2M326 373v3M326 391v6M328 272v1M328 361v2M328 366v1M328 379v3M328 385v6M328 403v2M330 267v1M330 269v2M330 382v3M330 388v12M332 370v3M332 394v3M332 400v3M334 267v1M334 270v1M334 272v1M334 382v3M334 386v5M334 394v6M336 273v1M336 373v1M336 382v3M336 391v3M336 397v3M336 403v2M338 388v6M338 400v3M340 217v3M340 221v2M340 229v1M340 272v1M340 394v3M342 222v1M342 385v3M342 400v5M344 258v1M344 262v1M344 388v1M344 394v3M346 252v4M346 375v1M346 379v3M346 388v2M346 394v3M348 258v1M348 376v6M348 385v3M350 256v4M350 368v2M350 376v3M350 400v3M352 215v2M352 253v2M352 256v3M352 373v6M352 403v2M354 207v1M354 209v2M354 225v1M354 247v3M356 213v1M356 215v2M356 219v1M356 223v3M356 256v1M356 373v3M356 382v3M356 388v6M358 212v5M358 260v1M358 328v3M358 372v1M358 374v2M358 379v3M358 394v3M358 400v5M360 208v3M360 257v1M360 337v3M360 382v3M360 391v6M362 258v1M362 260v2M362 394v3M364 215v3M364 258v1M364 372v1M364 376v3M364 382v3M364 388v12M366 214v6M366 259v1M366 391v3M366 400v5M368 260v3M368 316v3M368 382v3M368 388v3M368 397v3M370 269v2M370 322v3M370 328v3M370 340v3M370 378v1M370 382v1M370 397v3M372 266v2M372 334v3M372 355v3M372 376v3M372 380v5M372 388v3M372 403v2M374 262v3M374 325v3M374 385v6M374 394v3M374 403v2M376 258v5M376 379v3M376 397v3M378 250v3M378 257v2M378 262v1M378 394v3M380 265v3M380 378v1M380 391v3M380 403v2M382 247v3M382 256v3M382 260v2M382 317v2M382 324v1M382 382v3M382 400v3M384 259v2M384 262v2M384 316v3M384 323v2M384 377v2M384 388v9M386 259v5M386 319v2M386 379v3M388 259v3M388 379v3M388 400v5M390 261v1M390 314v2M390 318v1M390 379v1M390 388v3M390 394v6M392 264v2M392 316v1M392 340v3M392 379v2M392 391v9M394 256v2M394 319v3M394 379v2M394 394v3M394 403v2M396 266v2M396 298v6M396 322v2M396 385v9M398 268v1M398 301v3M398 318v6M398 367v3M398 385v9M400 282v3M400 286v3M400 295v6M400 310v3M400 379v3M400 385v9M400 400v3M402 286v6M402 298v3M402 304v2M402 318v4M402 374v2M402 382v3M402 394v3M404 306v3M404 318v1M404 322v3M404 328v2M404 373v3M404 382v3M404 394v3M404 403v2M406 213v1M406 215v5M406 307v1M406 317v2M406 325v3M406 390v1M406 403v2M408 217v2M408 220v2M408 304v1M408 322v3M408 334v2M408 391v3M408 403v2M410 210v1M410 212v4M410 220v2M410 223v2M410 291v3M410 304v1M410 309v1M410 328v3M410 403v2M412 293v2M412 301v5M412 322v3M412 328v1M412 390v7M412 403v2M414 289v3M414 295v1M414 298v6M414 318v1M414 320v2M414 331v1M416 217v3M416 290v2M416 328v1M416 394v6M416 403v2M418 304v2M418 316v2M418 325v4M418 337v1M418 389v3M418 403v2M420 233v2M420 271v1M420 275v2M420 318v1M422 210v3M422 228v2M422 277v3M422 283v15M422 304v2M422 307v3M422 325v6M422 373v1M422 376v6M422 388v3M424 223v2M424 226v1M424 319v6M424 328v6M424 367v1M424 372v1M424 379v3M426 205v1M426 230v2M426 277v2M426 313v3M426 373v3M426 379v3M428 211v1M428 226v2M428 298v3M428 309v1M428 316v3M428 325v3M428 337v2M428 340v2M428 365v4M428 372v1M428 388v6M430 210v2M430 230v1M430 272v2M430 295v1M430 298v6M430 331v3M430 337v3M430 358v3M430 364v9M430 376v3M430 382v2M430 391v3M432 207v1M432 231v1M432 280v6M432 292v3M432 328v3M432 334v3M432 343v3M432 349v3M432 391v6M434 211v1M434 225v1M434 301v6M434 325v3M434 367v3M434 373v3M434 379v3M434 394v3M434 400v5M436 210v1M436 229v2M436 298v9M436 310v2M436 322v3M436 334v3M436 349v3M436 355v6M436 367v6M436 379v2M436 385v3M436 394v3M438 209v4M438 228v1M438 301v3M438 306v1M438 310v3M438 322v3M438 334v3M438 343v6M438 361v3M438 370v6M438 388v1M438 394v3M440 207v1M440 231v1M440 312v4M440 346v3M440 352v3M440 361v6M440 377v2M440 385v3M440 394v3M440 400v3M442 211v3M442 231v1M442 311v2M442 322v3M442 343v3M442 352v3M442 358v5M442 367v3M442 381v1M442 388v3M442 394v3M444 212v3M444 231v1M444 312v1M444 325v3M444 337v3M444 346v3M444 358v3M444 382v3M446 210v1M446 234v2M446 349v6M446 361v3M446 370v3M446 384v1M446 391v3M446 397v3M446 403v2M448 207v1M448 209v1M448 235v1M448 271v3M448 275v2M448 290v2M448 293v5M448 301v3M448 307v6M448 331v6M448 343v3M448 349v3M448 355v3M448 364v3M448 371v5M448 382v6M450 208v1M450 234v2M450 279v1M450 283v3M450 340v2M450 353v2M450 358v3M450 370v3M450 382v3M450 397v3M450 403v2M452 206v1M452 235v1M452 274v2M452 358v3M452 364v3M454 232v2M454 280v6M454 288v1M454 358v3M454 364v9M454 379v6M454 397v3M456 210v1M456 213v1M456 225v1M456 286v4M456 340v2M456 346v3M456 355v3M456 361v3M456 373v3M456 385v6M456 397v1M458 209v1M458 232v1M458 349v3M458 361v3M458 367v6M458 379v9M458 394v3M458 403v2M460 213v3M460 217v3M460 224v2M460 229v2M460 343v1M462 213v1M462 230v2M462 268v6M462 277v3M462 282v1M462 355v6M462 367v3M462 400v5M464 214v2M464 217v3M464 227v2M464 230v3M464 255v1M464 262v3M464 274v3M464 349v3M464 388v3M464 394v6M466 211v6M466 231v1M466 245v4M466 250v1M466 349v2M466 355v6M466 367v6M466 376v6M468 208v6M468 244v2M468 343v3M468 349v3M468 358v3M468 370v3M468 379v3M468 385v12M468 403v2M470 211v3M470 227v2M470 230v2M470 245v1M470 336v28M470 394v3M472 211v3M472 231v3M472 245v1M472 343v3M472 355v3M472 361v3M472 373v6M472 397v6M474 222v1M474 226v3M474 246v1M474 256v3M474 272v2M474 379v2M474 394v3M476 206v1M476 208v6M476 217v3M476 226v3M476 279v1M476 388v3M476 400v3M478 214v3M480 206v1M480 211v3M480 225v1M482 213v1M482 217v3M482 244v2M482 385v6M482 397v3M484 208v3M484 229v2M484 232v6M484 241v1M486 211v3M486 241v1M486 340v3M486 388v3M488 217v3M488 221v4M488 226v1M488 242v1M488 331v4M488 343v6M488 352v3M488 361v9M488 373v3M488 382v3M488 388v3M488 394v6M488 403v2M490 243v1M490 334v3M490 340v6M490 349v3M490 358v3M490 373v9M490 394v11M492 242v1M492 331v6M492 340v15M492 364v3M492 370v12M492 388v3M492 397v3M494 223v3M494 331v3M494 340v3M494 346v3M494 352v3M494 361v6M494 373v3M494 400v3M496 243v1M496 328v3M496 337v3M496 343v6M496 352v6M496 364v3M496 370v3M496 391v6M498 243v1M498 334v3M498 352v18M500 242v1M500 385v3M502 385v3M504 328v3M504 343v3M506 242v1M506 327v4M506 334v3M506 346v3M506 364v3M506 373v3M506 388v8M508 242v1M508 340v3M508 355v15M508 391v3M510 242v1M510 333v1M510 335v8M510 349v3M510 355v3M510 367v3M510 376v3M510 382v3M510 388v6M512 241v1M512 334v1M512 346v6M512 364v12M512 382v6M512 391v5M514 352v3M516 239v2M516 334v1M516 340v3M516 349v3M516 365v2M516 370v9M516 382v3M516 395v2M518 237v1M518 355v3M520 239v1M520 324v1M520 329v4M520 361v3M520 379v3M520 391v2M522 238v1M522 332v2M522 337v9M522 349v3M522 361v3M522 391v2M524 239v1M524 340v9M524 352v3M524 358v3M526 239v1M526 326v3M526 337v3M526 358v3M526 370v3M526 382v3M528 239v1M528 327v4M528 337v6M528 352v11M528 364v3M530 240v1M530 349v6M530 361v2M532 328v3M532 346v3M532 358v3M534 239v1M534 321v1M534 325v3M534 334v3M534 343v12M534 358v3M534 362v2M536 238v1M536 289v3M536 295v2M536 298v3M536 303v1M536 319v3M536 325v6M536 334v3M536 340v6M536 349v3M536 358v3M538 280v2M538 302v4M538 325v3M540 235v1M540 325v7M540 343v3M540 355v3M542 233v1M544 327v1M544 331v6M544 343v6M544 361v3M544 367v6M544 379v9M544 394v3M546 233v1M546 376v3M548 232v1M548 385v3M550 233v1M550 350v5M550 364v3M550 382v3M550 391v3M550 396v1M550 399v1M550 403v2M552 231v2M552 364v6M552 373v3M552 379v3M554 352v6M554 361v9M554 373v3M554 379v18M554 400v3M556 233v1M556 350v2M556 355v3M556 361v3M556 388v6M556 397v8M558 234v1M558 352v4M558 358v2M558 364v12M558 382v6M558 391v5M558 397v3M562 140v3M562 352v6M562 367v12M562 388v6M564 346v2M564 349v2M564 352v3M564 358v6M564 367v6M564 385v3M564 394v3M564 403v2M566 360v1M566 364v3M566 374v14M566 391v3M566 400v3M568 245v1M568 349v2M568 352v3M568 370v3M568 382v9M568 397v3M570 246v1M570 249v1M570 347v1M570 385v6M572 247v2M572 364v4M572 370v2M572 373v6M572 397v6M574 244v1M576 364v3M578 248v1M578 347v4M578 352v3M578 361v8M578 371v2M578 376v3M578 385v3M580 208v2M580 246v1M580 358v3M580 367v2M580 370v3M580 394v3M580 403v2M582 243v1M584 244v1M584 355v1M584 358v3M584 364v1M584 382v3M584 397v3M586 242v1M586 364v2M588 95v2M588 98v2M588 243v1M588 356v5M588 364v2M590 94v1M590 103v1M590 109v1M590 135v3M590 244v1M590 352v3M590 361v1M590 364v6M590 376v3M590 385v6M590 394v6M590 403v2M592 92v1M592 110v2M592 113v2M592 135v3M592 242v1M594 135v3M594 248v1M594 344v2M596 135v3M596 244v1M596 348v2M596 355v6M596 366v4M596 376v15M598 135v3M598 244v1M598 350v2M598 355v3M598 364v3M598 370v3M600 246v1M600 344v2M600 353v2M600 382v3M600 391v3M602 245v1M602 349v3M602 354v1M604 245v1M604 312v1M604 316v3M604 322v3M604 340v3M604 349v3M606 245v1M606 311v1M606 313v3M606 322v3M606 331v3M606 353v1M608 241v1"/>
<path stroke="#00ffe9" d="M92 293v1M92 307v3M92 316v3M92 341v2M92 346v6M92 355v3M92 373v3M92 388v3M92 394v3M92 403v2M94 295v3M94 304v9M94 316v3M94 325v3M94 331v3M94 340v3M94 352v12M94 370v3M94 388v3M94 394v3M94 403v2M96 293v5M96 307v3M96 313v2M96 316v3M96 331v6M96 364v3M96 377v5M96 391v2M96 397v3M96 403v2M98 304v2M98 307v3M98 352v3M100 289v2M100 328v3M100 367v1M100 370v1M100 378v1M100 381v1M100 397v1M102 292v2M102 307v6M102 352v5M102 367v4M102 382v5M102 396v1M102 400v3M104 291v2M104 306v1M104 325v6M104 339v1M104 349v3M104 364v3M104 371v2M104 400v3M106 309v2M106 313v9M106 346v3M106 352v3M106 376v3M106 382v3M106 388v2M106 394v3M108 275v2M108 283v9M108 314v2M108 325v1M108 328v3M108 337v3M108 343v3M108 349v6M108 358v3M108 364v3M108 376v6M110 276v1M110 286v3M110 316v1M110 322v2M110 334v9M110 358v3M110 370v9M110 391v3M112 276v1M112 278v5M112 286v3M112 298v3M112 328v3M112 373v3M112 379v3M112 385v3M112 403v2M114 259v6M114 321v1M114 324v1M114 334v3M114 343v6M114 364v6M114 379v3M116 241v3M116 247v3M116 256v1M116 327v1M116 343v6M116 358v6M116 367v3M116 379v3M116 385v3M116 394v6M118 197v2M118 205v3M118 220v3M118 227v2M118 238v3M118 325v1M118 331v6M118 346v3M118 352v6M118 373v9M118 385v6M118 394v3M118 403v2M120 229v2M120 238v3M120 253v5M120 312v1M120 328v6M120 340v3M120 349v3M120 379v9M120 394v3M122 206v3M122 211v1M122 223v9M122 235v3M122 313v3M122 331v3M122 340v3M122 346v3M122 352v3M122 361v3M122 367v3M122 403v2M124 178v3M124 203v2M124 211v1M124 219v3M124 324v1M124 340v6M124 349v3M124 376v6M124 391v3M124 400v5M126 187v3M126 191v2M126 196v3M126 201v1M126 326v2M126 334v1M126 364v3M126 370v6M126 388v3M128 165v1M128 167v4M128 331v2M128 349v3M128 355v3M128 364v6M128 379v3M128 388v9M130 171v1M130 174v1M130 322v3M130 331v3M130 358v3M130 364v3M130 373v9M132 166v3M132 170v2M132 337v3M132 343v6M132 352v6M132 370v3M132 376v3M132 403v2M134 156v1M134 160v3M134 166v3M134 340v3M136 57v1M136 137v8M136 148v5M138 59v1M138 61v2M138 139v2M140 59v1M140 140v2M140 143v2M140 355v3M140 382v3M142 63v1M142 137v4M144 76v3M144 85v9M144 97v3M150 343v3M152 76v3M152 84v1M152 88v3M152 97v9M152 109v3M154 71v1M154 73v1M154 129v7M156 67v1M156 164v2M156 168v1M156 325v3M156 340v3M156 349v3M156 355v6M156 367v3M156 391v3M158 148v3M158 171v1M158 223v3M158 229v3M158 237v1M158 304v3M158 309v1M158 312v1M158 316v6M158 343v6M158 355v9M158 373v6M158 385v9M160 65v1M160 173v1M160 218v1M160 245v2M160 274v6M160 291v1M160 322v3M160 358v3M160 397v2M162 62v1M162 179v2M162 187v3M162 193v3M162 202v6M162 331v3M162 355v3M162 361v6M162 373v3M162 391v3M162 399v1M162 403v2M164 61v1M164 184v3M164 193v3M164 199v5M164 205v3M164 267v1M164 271v6M164 280v6M164 312v1M164 328v3M164 334v3M164 347v2M164 352v3M164 379v3M164 388v3M166 180v2M166 184v6M166 200v4M166 274v3M166 337v3M168 63v1M168 177v1M168 179v2M168 277v9M168 288v1M168 322v4M168 328v3M168 340v3M168 346v3M168 352v3M168 385v3M170 57v2M170 61v1M170 190v2M170 195v1M170 199v3M170 205v1M170 337v3M170 343v3M170 349v3M170 355v12M170 379v3M170 391v3M170 397v3M170 403v2M174 202v7M174 211v3M174 312v1M174 322v3M174 349v3M176 199v3M176 205v3M176 352v3M176 361v6M176 373v3M176 400v3M178 361v3M178 376v3M180 289v2M180 322v3M180 343v3M180 352v6M180 388v3M180 400v5M182 289v3M182 312v4M182 325v3M182 340v3M182 346v3M182 352v3M182 361v3M182 373v3M182 388v3M184 256v6M184 310v1M184 316v3M184 321v3M184 355v3M186 253v3M186 325v3M188 337v3M190 312v1M190 316v3M190 337v2M192 271v3M192 295v3M192 307v3M192 327v4M194 310v2M194 313v3M194 319v3M196 265v3M196 290v3M196 298v9M198 312v1M198 328v3M200 217v3M200 256v2M200 316v3M200 334v2M200 358v3M200 364v3M200 373v3M202 208v3M202 343v6M202 367v3M202 371v3M202 403v2M204 191v2M204 205v9M204 223v7M204 238v3M204 325v3M204 331v6M204 343v3M204 352v3M204 358v6M204 370v3M204 400v3M206 331v3M206 337v3M206 343v3M206 382v3M206 397v3M208 223v3M208 235v3M208 316v3M208 333v4M208 343v6M208 354v1M208 385v6M208 397v3M210 322v3M210 331v3M210 337v3M212 189v1M212 193v6M212 220v3M212 235v3M212 244v6M212 253v9M212 265v9M212 280v3M212 310v2M212 313v3M212 328v6M212 346v3M214 187v3M214 218v5M214 226v3M214 250v6M214 271v3M214 277v3M214 304v2M214 310v2M214 313v9M214 331v6M214 346v6M214 358v3M214 364v3M214 379v9M214 397v6M216 219v1M216 226v3M216 235v3M216 244v3M216 253v6M216 275v2M216 280v3M216 286v2M216 289v1M216 305v5M216 311v5M216 325v3M216 352v3M216 358v3M216 363v1M216 369v1M218 176v2M218 199v3M218 205v3M220 217v1M220 256v1M220 280v3M220 286v3M220 298v3M222 219v1M226 220v1M228 206v2M228 211v3M230 169v3M230 190v3M232 174v1M234 164v2M234 169v2M236 170v2M236 190v1M236 194v2M238 168v1M238 196v3M240 170v1M240 188v5M240 196v3M240 201v1M242 171v1M242 187v3M242 199v3M244 170v1M244 180v1M244 187v6M246 178v2M246 184v3M246 190v12M246 208v1M246 277v1M246 286v3M248 219v2M248 250v3M248 268v2M248 271v1M248 308v1M250 180v1M250 184v3M250 196v3M250 208v6M250 263v2M250 269v2M252 216v1M252 221v5M252 232v3M252 238v9M252 253v3M252 259v2M252 262v2M254 190v18M254 209v2M254 258v1M254 271v5M254 279v1M254 289v1M256 196v3M258 213v1M258 235v9M260 201v1M260 205v3M260 209v2M260 213v4M260 226v3M260 238v3M262 191v2M262 200v2M262 203v5M262 223v3M262 238v2M264 242v3M264 247v2M266 250v2M266 253v1M268 281v1M268 350v1M268 355v3M268 361v1M268 403v2M270 388v3M270 400v3M272 273v1M272 277v3M272 367v3M272 376v6M272 400v3M274 364v2M274 367v6M276 281v1M276 367v3M276 376v2M276 398v5M278 270v1M278 274v7M278 355v3M278 362v5M278 373v3M278 382v3M278 391v3M278 403v2M280 281v1M280 364v2M280 370v3M280 382v6M280 392v2M280 400v3M282 271v2M282 274v3M282 367v1M282 385v3M284 268v2M284 274v1M284 364v1M284 367v6M284 376v3M284 382v3M284 388v3M284 400v3M286 272v2M286 276v1M286 366v1M286 379v1M286 403v2M288 361v3M288 367v2M288 379v3M288 393v2M290 262v4M290 370v3M290 379v4M290 385v6M292 270v3M292 365v3M292 386v2M292 397v3M294 379v3M296 272v2M296 365v8M296 379v3M296 391v3M296 400v3M298 268v3M298 274v2M298 367v6M298 376v3M298 385v6M298 397v6M300 207v1M300 268v4M300 370v3M300 397v6M302 362v2M302 370v3M302 375v4M302 385v6M304 362v3M304 385v3M306 274v1M306 360v1M306 364v1M306 371v2M306 376v3M306 394v3M308 273v1M308 367v9M308 379v3M308 391v3M308 399v6M310 273v1M310 379v6M310 391v7M312 359v2M312 366v7M312 376v3M312 391v6M314 274v1M314 364v2M314 367v6M314 391v3M314 397v3M316 274v1M316 367v3M316 376v4M316 391v3M316 397v3M318 272v1M318 363v1M318 366v1M318 370v6M318 379v6M318 388v6M320 366v1M320 376v3M320 398v2M322 273v1M322 363v1M322 366v1M322 376v3M322 403v2M324 363v1M324 368v2M324 373v3M324 378v1M324 380v2M324 391v3M324 400v3M326 364v1M326 376v5M326 382v3M326 386v5M326 397v2M328 364v2M328 373v3M328 394v3M328 400v3M330 271v1M330 369v1M330 373v6M330 386v2M330 403v2M332 273v1M332 374v2M334 273v1M334 371v2M334 376v3M334 385v1M336 376v6M338 275v1M338 364v3M338 373v6M340 223v3M340 273v1M340 374v2M340 382v3M340 400v3M342 268v1M342 376v6M342 397v3M344 263v3M344 379v3M344 397v3M346 256v2M346 358v3M346 373v2M348 259v2M348 372v1M348 374v2M348 382v3M348 397v3M348 403v2M350 260v2M350 351v1M350 367v1M350 371v2M350 388v6M350 397v3M352 255v1M352 259v3M352 364v3M352 382v3M352 388v6M354 211v2M354 218v2M354 222v3M354 250v2M354 253v3M354 382v3M354 388v12M356 217v2M356 220v3M356 257v1M356 385v3M356 400v5M358 261v1M358 337v3M358 370v2M358 373v1M358 376v3M358 382v3M358 388v6M358 397v3M360 214v3M360 258v1M360 373v3M360 379v3M360 385v6M360 397v3M362 325v3M362 373v3M364 259v1M364 262v1M364 370v2M364 375v1M364 379v3M364 385v3M364 403v2M366 260v1M366 371v2M366 374v2M366 382v9M366 394v6M368 263v2M368 319v3M368 334v3M368 391v6M370 271v2M370 295v3M370 301v6M370 310v3M370 334v3M370 364v3M370 376v2M370 381v1M370 400v3M372 268v2M372 325v3M372 349v3M372 374v2M372 379v1M372 397v3M374 379v6M374 397v3M376 263v3M376 322v3M376 373v6M376 382v3M376 388v6M378 263v2M378 318v1M378 379v6M378 388v3M378 400v5M380 268v1M380 310v6M380 319v3M380 376v2M380 382v3M382 265v2M382 316v1M382 325v2M382 388v3M384 261v1M384 264v1M384 376v1M384 381v1M384 403v2M386 264v1M386 321v1M386 378v1M386 385v3M386 403v2M388 262v2M388 334v3M388 372v4M388 385v3M390 262v1M390 313v1M390 316v2M390 322v1M390 337v3M390 373v3M390 391v3M390 403v2M392 266v1M392 296v2M392 301v6M392 325v1M392 378v1M392 400v3M394 258v1M394 262v2M394 385v3M394 391v3M394 397v3M396 324v1M396 328v3M396 337v3M396 367v3M396 377v2M396 381v1M396 394v3M398 269v2M398 280v2M398 316v2M398 324v5M398 394v3M398 400v5M400 285v1M400 289v3M400 304v1M400 307v2M400 315v7M400 334v2M400 346v3M400 355v3M400 369v1M400 375v1M402 306v1M402 316v2M402 322v3M402 331v2M402 373v1M402 376v3M402 386v2M402 403v2M404 309v2M404 314v4M404 325v3M404 330v3M404 386v2M404 400v3M406 308v1M406 310v1M406 315v2M406 319v3M406 388v2M406 391v6M408 305v1M408 307v2M408 310v2M408 314v2M408 319v3M408 328v3M408 336v1M408 394v3M410 216v1M410 218v2M410 294v4M410 301v3M410 305v2M410 319v3M412 306v1M412 318v1M412 329v2M412 387v3M414 296v2M414 304v3M414 316v2M414 319v1M414 332v2M414 394v3M414 400v3M416 307v1M416 310v1M416 315v1M416 322v3M416 329v2M416 376v3M416 391v3M416 400v3M418 301v3M418 306v1M418 319v6M418 329v3M418 338v1M418 388v1M418 397v6M420 208v4M420 231v2M420 272v2M420 286v3M420 316v2M420 325v6M420 391v3M420 397v3M422 213v1M422 217v3M422 226v2M422 298v3M422 306v1M422 310v3M422 319v6M422 331v2M422 334v2M422 382v6M422 400v5M424 211v4M424 338v1M424 365v1M424 370v2M424 385v2M424 394v3M426 206v3M426 229v1M426 274v3M426 279v1M426 283v3M426 289v2M426 292v1M426 370v3M426 388v6M426 397v8M428 212v2M428 217v6M428 310v1M428 322v3M428 328v3M428 334v3M428 339v1M428 342v1M428 363v2M428 370v2M428 374v2M428 394v6M430 212v1M430 227v3M430 292v3M430 296v2M430 304v1M430 307v1M430 320v2M430 343v6M430 352v3M430 361v3M430 384v1M430 388v3M430 397v8M432 230v1M432 289v2M432 295v9M432 314v2M432 319v9M432 361v3M432 370v3M432 379v9M432 400v5M434 212v2M434 223v2M434 307v15M434 331v9M434 343v12M434 358v9M434 376v3M436 211v2M436 227v2M436 295v3M436 312v1M436 316v6M436 328v3M436 343v3M436 364v3M436 373v3M436 378v1M436 383v2M438 213v1M438 226v2M438 337v6M438 349v3M438 364v6M438 389v2M438 397v3M440 211v2M440 230v1M440 307v2M440 316v6M440 325v3M440 331v12M440 349v3M440 358v3M440 379v3M440 388v3M440 403v2M442 214v2M442 230v1M442 316v3M442 331v3M442 346v6M442 355v3M442 385v3M444 215v2M444 228v1M444 230v1M444 343v3M444 349v3M444 367v3M444 385v3M444 403v2M446 211v1M446 233v1M446 325v3M446 334v3M446 343v6M446 364v3M446 376v6M446 388v3M448 210v2M448 234v1M448 277v1M448 286v4M448 292v1M448 325v3M448 337v3M448 361v3M448 367v4M450 209v1M450 233v1M450 280v3M450 286v6M450 301v3M450 334v6M450 343v3M450 352v1M450 364v3M452 207v1M452 234v1M452 276v1M452 286v3M452 349v6M452 370v3M452 376v6M452 391v3M454 207v2M454 289v1M454 341v8M454 352v3M454 385v6M454 394v3M456 223v2M456 290v1M456 344v2M456 352v3M456 358v3M456 398v2M458 210v2M458 289v1M458 345v1M458 347v2M458 358v3M458 364v3M458 373v3M458 397v3M460 216v1M460 223v1M460 290v1M460 342v1M462 214v1M462 217v3M462 229v1M462 345v1M464 216v1M464 220v1M464 225v2M464 229v1M464 256v3M464 265v5M464 344v2M466 217v2M466 227v4M466 249v1M466 251v2M466 341v2M466 388v3M468 231v1M468 233v2M468 246v2M468 338v5M468 352v3M468 364v3M468 376v3M468 397v6M470 226v1M470 229v1M470 246v1M470 250v3M470 334v2M470 376v3M472 208v3M472 217v1M472 227v4M472 246v1M472 334v3M472 346v3M474 223v3M474 250v3M474 262v3M474 268v4M474 277v3M474 359v2M474 367v3M474 373v3M474 378v1M476 207v1M476 239v1M476 241v3M476 277v2M476 280v3M476 385v3M476 391v3M476 397v3M476 403v2M478 207v7M478 217v8M478 226v1M478 278v5M478 286v2M480 207v4M480 220v3M480 229v3M480 397v3M482 246v1M482 361v3M482 378v1M482 384v1M482 394v3M482 400v5M484 211v1M484 223v6M484 242v1M484 346v3M486 214v2M486 217v3M486 227v5M486 242v1M486 337v3M486 343v3M486 361v3M486 370v6M486 400v3M488 330v1M488 358v3M488 370v3M488 379v3M490 223v3M490 327v1M490 355v3M490 367v3M490 385v3M492 327v4M492 355v9M492 367v3M492 403v2M494 242v1M494 328v3M494 334v6M494 349v3M494 355v6M494 367v3M494 376v6M494 385v3M494 391v3M494 403v2M496 331v6M496 340v3M496 349v3M496 361v3M496 367v3M496 382v9M496 397v8M498 327v1M498 331v3M498 340v6M498 349v3M498 370v3M498 376v3M498 385v9M500 328v9M500 340v3M500 349v6M500 358v9M500 370v3M500 376v3M500 382v3M500 388v3M502 242v1M502 337v3M502 370v3M504 241v1M504 331v3M504 337v6M504 346v3M504 355v3M504 361v6M504 376v3M504 382v3M504 391v3M506 326v1M506 340v3M506 361v3M506 367v3M506 376v6M506 385v3M506 396v1M508 327v10M508 349v3M508 370v6M508 379v12M510 243v1M510 332v1M510 334v1M510 370v6M510 385v3M510 394v1M512 333v1M512 376v3M512 396v1M514 232v4M514 337v3M514 349v3M514 355v6M514 364v2M516 333v1M516 391v1M518 340v3M518 346v6M520 240v1M520 322v2M520 328v1M520 367v6M520 376v3M520 385v6M520 393v2M522 239v1M522 324v1M522 328v4M522 334v3M522 346v3M522 364v3M522 370v6M522 385v6M522 393v1M524 240v1M524 325v3M524 331v9M524 361v2M524 373v3M526 240v1M526 325v1M526 331v3M526 352v3M526 364v6M526 373v9M526 391v4M528 241v1M528 325v2M528 331v3M528 346v6M528 363v1M530 346v3M530 355v6M530 363v3M532 349v9M532 361v1M534 240v1M534 319v2M534 322v3M534 340v3M536 283v3M536 297v1M536 315v1M536 317v2M536 355v3M536 361v2M538 236v1M538 279v1M538 306v1M538 319v6M538 328v3M538 334v2M538 340v3M538 349v3M540 236v1M540 282v7M540 295v2M540 322v3M540 332v2M540 340v3M540 349v3M544 235v1M544 325v2M544 328v3M544 337v6M544 349v3M544 355v6M544 376v3M544 403v2M546 358v3M546 364v6M546 382v6M546 400v5M548 233v1M548 353v2M548 361v6M548 370v6M548 379v6M550 234v1M550 346v4M552 233v1M552 357v4M552 376v3M552 382v9M552 403v2M554 232v1M554 359v2M554 376v3M554 397v3M554 403v2M556 349v1M558 235v1M558 348v1M558 350v2M558 376v3M558 396v1M558 400v3M560 382v3M562 241v1M562 361v3M562 394v4M564 140v3M564 243v1M564 364v3M564 373v3M564 379v6M564 388v3M564 397v6M566 244v1M566 348v1M566 358v2M566 394v3M568 347v2M568 361v3M568 367v3M568 376v6M568 394v3M568 400v5M570 344v3M572 249v1M572 352v3M572 368v2M572 372v1M572 391v3M572 403v2M574 245v1M574 355v3M576 245v1M576 247v2M576 347v2M576 352v9M576 370v3M576 376v6M578 249v1M578 346v1M578 369v1M578 382v3M578 388v3M578 397v3M580 247v1M580 352v3M580 364v3M580 369v1M580 373v2M580 376v6M580 400v3M582 245v1M582 355v3M582 373v3M584 245v1M584 349v3M584 365v5M584 376v6M584 385v3M584 391v6M584 403v2M586 243v1M586 358v5M586 366v1M588 355v1M588 366v13M588 382v3M588 391v3M588 397v6M590 95v1M590 97v1M590 347v2M590 358v3M590 362v2M590 370v3M590 379v3M590 400v3M592 93v1M592 109v1M592 112v1M592 361v4M592 397v3M594 249v1M594 342v2M596 245v1M596 247v1M596 346v2M596 394v3M598 245v1M598 347v3M598 352v3M598 376v9M598 388v3M598 397v8M600 343v1M600 346v6M600 358v3M600 373v9M600 385v3M600 397v3M602 246v1M602 355v1M602 391v3M602 403v2M604 246v1M604 311v1M604 328v6M604 379v3M606 246v1M606 316v3M606 340v3M606 346v3M606 354v1M608 242v1"/>
<path stroke="#00ffd4" d="M92 294v1M92 304v3M92 313v3M92 319v3M92 331v3M92 337v4M92 358v3M92 367v3M92 379v6M92 391v3M92 400v3M94 334v3M94 382v3M96 301v6M96 361v3M96 367v10M98 373v1M98 376v3M98 388v3M100 291v1M100 295v1M100 306v1M100 308v2M100 316v3M100 325v3M100 364v3M100 368v2M100 371v2M100 376v2M100 379v2M100 382v3M100 394v3M102 294v1M102 306v1M102 357v1M102 371v2M102 381v1M102 387v1M102 394v2M102 397v3M104 293v2M104 304v2M104 307v3M104 340v3M104 373v3M104 382v3M104 391v1M104 393v1M106 292v2M106 298v3M106 305v4M106 334v3M106 349v3M106 355v3M106 367v3M106 373v3M106 385v3M106 390v1M106 403v2M108 313v1M108 322v3M108 334v3M108 355v3M108 388v2M108 391v3M108 400v5M110 277v6M110 298v3M110 312v1M110 352v3M110 367v3M110 388v2M110 394v3M112 289v6M112 304v6M112 318v1M112 349v3M112 391v3M112 400v3M114 319v2M114 322v2M114 328v3M114 349v3M114 394v6M114 403v2M116 253v3M116 257v5M116 325v2M116 334v6M116 349v6M116 370v6M116 382v3M116 403v2M118 217v3M118 229v1M118 232v3M118 241v3M118 247v3M118 321v1M118 358v3M118 367v3M118 382v3M118 391v3M120 226v3M120 231v1M120 244v3M120 258v1M120 310v2M120 327v1M120 355v3M120 391v3M120 400v3M122 220v3M122 238v3M122 247v3M122 253v3M122 259v3M122 268v5M122 324v1M122 397v6M124 187v3M124 205v1M124 222v2M124 229v3M124 235v3M124 241v3M124 250v3M124 265v3M124 316v3M124 321v3M124 327v1M126 193v3M126 202v1M126 211v3M126 247v3M126 262v3M126 325v1M126 331v3M126 346v3M128 171v1M128 328v3M128 337v9M128 352v3M128 361v3M128 382v6M128 400v5M130 178v7M130 335v2M130 352v3M132 333v1M132 340v3M132 364v6M132 379v3M132 394v3M132 400v3M134 326v2M134 330v1M134 334v6M134 343v3M134 352v3M134 364v3M134 370v3M134 376v3M134 382v3M134 388v3M134 397v3M134 403v2M136 52v5M136 58v3M136 145v3M136 153v1M138 58v1M138 141v3M138 145v2M138 355v3M138 361v3M138 373v3M140 58v1M140 343v6M140 358v3M140 367v3M140 373v6M142 62v1M142 141v1M144 69v1M144 71v2M144 94v3M144 103v3M144 112v3M144 349v3M148 331v6M148 343v3M148 364v3M150 340v3M150 364v3M152 79v5M152 86v2M152 94v3M152 112v3M152 121v3M152 127v2M152 157v3M154 154v3M154 349v3M156 66v1M156 169v2M156 311v2M156 319v3M156 343v3M156 352v3M156 364v3M156 373v3M156 379v3M156 397v3M158 66v1M158 221v2M158 241v1M158 293v2M158 298v6M158 307v2M158 310v2M158 328v12M158 352v3M158 379v3M158 394v1M158 400v3M160 64v1M160 174v1M160 190v6M160 208v10M160 268v3M160 280v3M160 286v5M160 310v2M160 325v3M160 331v3M160 343v3M160 376v3M160 382v3M160 388v3M160 394v1M160 399v1M160 403v2M162 59v3M162 394v1M164 181v3M164 187v3M164 268v3M164 331v3M164 385v3M164 397v3M166 60v1M166 182v2M166 193v3M166 199v1M166 334v3M166 390v1M168 62v1M168 181v1M168 190v3M168 206v5M168 286v2M168 326v2M168 334v3M168 361v12M168 376v2M168 379v3M168 388v3M170 55v2M170 192v1M170 196v2M170 202v3M170 367v3M170 388v3M170 394v3M174 199v3M174 319v3M174 358v3M174 370v3M174 379v3M176 376v3M176 394v3M180 349v3M180 385v3M182 331v6M182 370v3M182 379v3M182 385v3M184 311v5M184 324v3M184 343v6M184 352v3M184 373v3M186 328v3M186 340v1M186 376v2M188 346v6M190 319v3M190 328v3M190 339v3M190 343v1M190 346v3M192 322v3M192 337v3M194 301v3M194 312v1M194 331v2M194 340v3M196 293v5M196 328v2M196 343v3M198 316v3M198 322v3M198 340v3M198 346v3M198 355v3M198 361v3M198 382v3M198 394v3M200 199v9M200 214v3M200 322v3M200 328v3M200 336v1M200 361v3M202 374v2M202 388v3M202 394v3M202 400v3M204 196v6M204 214v9M204 328v2M204 337v3M204 346v3M204 355v3M204 379v3M206 391v3M206 403v2M208 337v6M208 352v2M208 379v3M208 394v3M212 190v3M212 229v6M212 238v6M212 312v1M212 319v3M212 340v3M212 349v3M212 355v3M212 359v2M212 370v6M214 229v3M214 256v3M214 265v6M214 280v6M214 291v1M214 306v1M214 312v1M214 322v3M214 328v3M214 352v3M214 376v3M216 220v1M216 238v3M216 247v6M216 259v3M216 268v3M216 274v1M216 278v2M216 283v3M216 292v3M216 316v3M216 337v3M216 349v3M216 355v3M216 361v2M218 178v12M218 193v6M218 202v3M218 211v5M218 217v1M218 325v3M218 340v3M220 218v5M220 226v3M220 232v3M220 238v3M220 244v3M220 253v3M220 257v1M220 289v6M220 301v3M220 319v6M220 328v3M220 340v6M220 349v3M224 220v1M226 221v1M226 223v1M230 187v3M232 175v6M232 187v6M234 166v3M234 171v2M236 172v1M236 186v1M236 188v2M238 169v1M238 191v2M240 171v1M240 187v1M240 193v3M240 202v2M240 220v3M242 172v1M242 181v3M242 190v6M242 202v5M242 208v2M244 171v2M244 178v2M244 183v1M244 193v17M246 181v3M246 209v7M246 289v2M248 221v2M248 226v8M248 244v3M248 259v3M248 263v5M248 309v2M250 181v3M250 187v9M250 199v6M250 262v1M250 265v4M250 309v2M252 229v3M252 235v3M252 247v6M252 256v3M254 211v3M254 217v3M254 256v2M254 277v2M254 290v2M256 193v3M256 202v6M256 211v2M258 214v6M258 226v6M258 244v2M260 217v3M260 223v3M260 229v3M262 214v3M262 220v3M262 226v6M262 235v3M262 240v3M264 245v2M264 249v1M266 252v1M266 254v14M266 271v2M266 391v2M268 282v2M268 349v1M268 352v3M270 274v3M270 350v2M270 358v3M270 363v1M272 280v1M272 365v2M272 403v2M274 281v1M274 355v3M274 362v2M274 376v3M276 355v3M276 362v2M276 382v3M276 388v3M278 361v1M278 367v3M280 362v2M280 388v4M282 273v1M282 361v3M282 376v3M282 391v3M284 270v1M284 275v5M284 358v3M284 379v3M284 394v2M286 352v3M286 364v2M286 380v2M286 400v3M288 274v4M288 358v3M288 395v2M288 403v2M290 266v2M290 391v2M290 394v3M290 403v2M292 273v1M292 364v1M292 400v3M294 363v1M294 365v2M294 391v3M294 403v2M296 362v3M296 373v3M298 271v2M298 276v1M298 359v2M298 362v2M298 365v2M298 379v3M298 391v3M300 272v2M300 366v1M300 385v3M300 391v6M302 274v1M302 361v1M302 373v2M302 379v3M302 391v3M304 275v1M304 361v1M304 379v3M304 397v3M306 275v1M306 358v2M306 370v1M306 403v2M308 362v2M308 376v3M308 382v3M308 397v2M310 274v1M310 365v2M310 370v3M310 385v3M312 274v1M312 358v1M312 362v4M312 373v3M312 388v3M314 275v1M314 385v3M316 357v1M318 274v1M318 361v2M318 364v2M318 376v3M318 385v3M318 397v3M320 275v1M320 362v4M322 361v2M322 364v2M322 387v1M322 397v3M324 273v1M324 361v2M324 367v1M324 370v3M324 387v1M324 397v3M326 273v1M326 362v2M326 367v3M326 381v1M326 385v1M326 399v4M328 273v1M330 272v1M330 367v2M330 370v3M330 379v3M330 385v1M330 400v3M332 368v2M332 373v1M334 370v1M334 373v3M334 403v2M336 274v1M336 358v3M336 369v1M336 371v2M338 276v2M338 361v3M338 369v1M340 274v1M340 352v3M340 369v1M340 372v2M340 379v3M340 397v3M342 269v1M342 271v1M342 361v3M342 369v1M342 375v1M342 382v3M342 388v3M344 266v1M344 355v3M344 364v3M344 371v2M344 374v2M346 258v3M346 361v3M346 382v3M348 261v3M348 367v5M348 373v1M350 350v1M350 358v3M350 370v1M350 373v3M350 382v3M352 318v1M352 355v3M352 369v1M352 371v2M352 379v3M352 397v6M354 213v1M354 217v1M354 220v2M354 252v1M354 374v8M354 385v3M354 403v2M356 258v1M356 376v6M356 394v3M358 262v1M358 331v3M360 217v3M360 372v1M360 400v3M362 319v3M362 328v3M362 371v2M362 376v6M364 260v2M364 263v1M364 366v1M364 373v2M366 261v1M366 343v1M366 370v1M366 373v1M366 379v3M368 265v2M368 268v1M368 340v3M368 373v3M368 379v3M370 273v1M370 294v1M370 298v3M370 319v3M370 325v3M370 346v3M370 361v3M370 373v3M370 379v2M372 270v1M372 301v6M372 310v3M372 328v3M372 337v3M372 343v3M372 364v3M372 371v3M372 385v3M372 391v3M374 322v3M374 369v1M374 400v3M376 266v4M376 334v3M376 340v3M376 349v3M376 358v3M376 364v3M376 385v3M376 394v3M376 400v3M378 316v2M378 355v3M378 361v3M378 374v2M378 385v3M378 391v3M378 397v3M380 269v2M380 298v6M380 307v3M380 318v1M380 322v3M380 337v3M380 364v12M380 394v3M382 262v2M382 267v1M382 319v2M382 327v1M382 361v3M382 385v3M382 391v9M382 403v2M384 265v2M384 304v3M384 314v2M384 319v3M384 379v2M384 385v3M384 400v3M386 265v1M386 312v1M386 318v1M386 322v2M386 331v3M386 337v3M386 367v3M386 373v5M386 397v3M388 264v1M388 317v5M388 358v3M388 367v5M388 391v9M390 263v3M390 319v3M390 323v2M390 352v3M390 385v3M392 267v1M392 295v1M392 298v3M392 322v2M392 326v2M392 352v3M392 370v8M392 382v3M394 259v2M394 264v1M394 325v2M394 358v3M394 382v3M394 400v3M396 268v1M396 294v4M396 304v3M396 331v3M396 340v3M396 349v3M396 364v3M396 376v1M396 379v2M396 400v3M398 277v3M398 282v2M398 292v9M398 304v2M398 310v3M398 329v8M398 349v3M398 376v6M398 397v3M400 305v2M400 309v1M400 313v2M400 322v3M400 336v1M400 367v2M400 371v4M400 376v3M400 394v6M402 295v3M402 328v2M402 333v4M402 358v3M402 372v1M402 379v3M402 385v1M402 388v3M402 397v3M404 311v3M404 319v3M404 333v1M404 340v3M404 346v3M404 352v3M404 367v3M404 376v3M404 385v1M404 391v3M406 309v1M406 311v4M406 322v3M406 328v3M406 337v3M406 373v3M406 385v3M408 306v1M408 309v1M408 312v2M408 331v1M408 387v1M408 389v2M410 217v1M410 298v3M410 317v2M410 322v3M410 390v10M412 307v1M412 310v1M412 316v2M412 334v1M412 379v3M412 385v2M414 307v2M414 328v3M414 390v1M414 397v3M414 403v2M416 308v2M416 311v4M416 318v1M416 331v1M416 334v2M416 379v6M416 387v1M418 307v2M418 332v3M418 339v1M418 375v1M418 379v3M420 212v2M420 229v2M420 277v9M420 315v1M420 394v3M420 403v2M422 214v1M422 220v2M422 301v3M422 316v3M422 333v1M422 336v1M422 369v1M422 394v6M424 215v8M424 339v1M424 364v1M424 387v1M424 403v2M426 209v1M426 211v1M426 228v1M426 280v3M426 286v3M426 291v1M426 293v2M426 298v6M426 316v3M426 366v1M426 385v3M426 394v3M428 214v1M428 224v2M428 311v2M428 343v3M428 358v5M428 373v1M430 213v1M430 226v1M430 305v2M430 308v2M430 316v4M430 322v3M430 334v3M432 208v2M432 211v2M432 228v2M432 291v1M432 304v2M432 310v1M432 313v1M432 317v2M432 331v3M432 340v3M432 364v6M432 388v3M434 340v3M436 213v1M436 225v2M436 307v3M436 313v3M436 331v3M436 376v2M436 382v1M436 388v3M438 214v4M438 313v6M438 325v3M438 352v3M438 400v3M440 213v1M440 229v1M440 309v1M440 343v3M440 355v3M440 373v3M442 216v2M442 228v2M444 217v1M444 227v1M444 229v1M444 391v3M446 212v3M446 232v1M446 319v3M446 328v3M446 367v3M446 400v3M448 212v2M448 233v1M448 278v8M448 313v3M448 319v6M448 328v3M448 340v3M448 352v3M448 388v3M448 397v6M450 210v3M450 231v1M450 292v6M450 307v3M450 333v1M450 355v3M450 361v3M450 367v3M450 379v3M450 394v3M452 208v1M452 232v2M452 280v6M452 289v1M452 340v9M452 355v3M452 373v3M452 382v3M452 397v3M454 209v2M454 230v2M454 290v1M454 339v2M454 349v3M454 376v3M454 403v2M456 214v3M456 227v2M456 343v1M456 367v3M456 394v3M456 403v2M458 212v1M458 224v2M458 290v1M458 343v2M458 346v1M458 352v3M460 220v3M460 291v2M460 341v1M462 215v2M462 223v3M462 227v2M462 283v3M462 341v4M464 221v4M464 259v3M464 270v1M464 277v4M464 339v1M464 342v2M466 219v1M466 225v2M466 271v3M466 338v3M466 343v3M468 217v3M468 229v2M468 232v1M468 248v2M468 336v2M468 367v3M468 373v3M470 247v3M470 253v6M470 268v3M472 218v2M472 225v2M472 250v3M472 283v5M472 333v1M474 247v3M474 253v3M474 259v3M474 289v1M474 340v3M474 346v3M474 352v3M474 358v1M474 361v6M474 376v2M476 220v6M476 232v3M476 238v1M476 240v1M476 256v6M476 268v3M476 274v3M476 286v3M476 394v3M478 225v1M478 227v2M478 277v1M478 283v3M478 288v1M480 217v3M480 226v3M480 238v3M480 280v3M480 400v3M482 247v1M482 274v3M482 280v2M482 334v3M482 359v2M482 367v6M482 376v2M482 379v5M484 212v2M484 243v1M484 343v3M484 367v3M484 373v3M484 391v3M486 216v1M486 220v3M486 225v2M486 335v2M486 346v3M486 352v3M486 358v3M486 364v3M486 376v3M486 382v6M486 394v6M486 403v2M488 243v2M488 328v2M488 337v3M488 355v3M488 376v3M490 244v1M490 361v3M492 243v1M492 391v3M494 327v1M494 370v3M494 397v3M496 327v1M496 358v3M496 376v3M498 326v1M498 328v3M498 346v3M498 373v3M498 382v3M498 394v3M500 243v1M500 327v1M500 337v3M500 343v6M500 355v3M500 373v3M500 379v3M500 391v4M502 327v10M502 343v3M502 355v6M502 364v6M502 382v3M502 391v1M504 327v1M504 352v3M504 358v3M504 367v9M504 379v3M504 388v3M506 243v2M506 325v1M506 337v3M506 370v3M506 382v3M506 400v5M508 243v1M508 326v1M508 337v3M508 376v3M508 394v1M510 329v3M510 395v2M512 242v1M512 332v1M512 397v1M514 236v4M514 336v1M514 340v3M514 346v3M514 361v3M514 366v1M514 391v2M516 332v1M516 392v2M518 332v5M518 352v3M518 358v6M518 367v3M518 391v2M520 325v3M520 395v2M522 240v2M522 322v2M522 326v2M522 376v9M522 394v2M524 324v1M524 328v3M524 363v3M524 370v3M524 379v9M524 391v3M526 323v2M526 385v3M526 395v2M528 240v1M528 242v1M528 324v1M528 367v5M530 322v3M530 366v1M532 241v1M532 323v5M532 362v2M534 241v1M534 364v1M536 239v1M536 279v4M536 304v1M536 307v2M536 314v1M536 316v1M536 363v2M536 367v2M538 237v1M538 276v1M538 278v1M538 331v1M538 336v1M538 343v6M538 355v5M538 361v1M540 238v1M540 278v4M540 292v3M540 297v3M540 301v4M540 317v2M540 334v6M540 346v3M540 352v3M540 358v5M540 364v1M542 234v1M544 236v1M544 397v3M546 234v1M546 350v8M546 373v3M546 391v3M548 350v3M548 367v3M548 391v6M548 403v2M550 345v1M550 400v3M552 351v1M552 355v2M552 394v5M552 400v3M554 233v1M554 358v1M556 234v1M556 348v1M558 236v1M558 346v2M558 349v1M558 361v3M558 379v3M558 403v2M560 235v1M560 361v3M560 367v6M560 379v3M560 388v3M560 400v3M562 345v1M562 348v1M562 350v2M562 398v7M566 140v3M566 245v1M566 345v3M566 397v3M568 246v1M568 346v1M568 373v3M568 391v3M570 343v1M572 345v1M572 348v1M572 379v3M574 246v1M574 347v2M574 352v3M574 358v3M574 367v3M574 373v3M574 394v6M576 246v1M576 249v1M576 346v1M576 350v2M576 388v3M576 394v6M576 403v2M578 379v3M578 391v3M578 403v2M580 248v1M580 347v2M580 350v2M580 375v1M580 385v6M582 246v1M582 351v4M582 361v2M582 367v6M582 388v6M584 246v1M584 370v3M584 388v3M584 400v3M586 355v3M586 363v1M586 376v6M586 388v3M586 397v8M588 349v3M588 353v2M588 361v3M588 379v3M588 385v3M588 394v3M588 403v2M590 96v1M590 98v5M590 245v1M590 346v1M590 351v1M590 391v3M592 94v1M592 243v2M592 357v1M592 365v5M592 373v6M594 340v2M596 246v1M596 248v2M598 246v1M598 346v1M598 367v3M598 373v3M598 391v3M600 247v1M600 341v2M600 361v3M600 403v2M602 312v4M602 342v1M602 345v4M602 356v1M602 365v2M602 370v3M602 379v3M602 385v3M604 247v1M604 352v1M604 370v6M604 385v3M604 391v3M604 397v3M606 310v1M606 376v3M606 388v3M608 312v1M608 319v3"/>
<path stroke="#00ffbe" d="M92 295v9M92 310v3M92 322v3M92 336v1M92 370v3M92 376v3M94 313v3M94 379v3M98 374v2M100 292v1M100 296v2M100 301v5M100 307v1M100 373v2M100 388v2M100 393v1M102 295v11M102 377v4M102 388v2M104 298v6M104 358v3M104 392v1M104 398v2M106 294v1M106 304v1M106 379v3M106 397v6M108 292v2M108 298v3M108 306v4M108 316v3M108 361v3M108 390v1M110 283v3M110 289v1M110 292v3M110 310v2M110 349v3M110 390v1M110 403v2M112 283v3M112 316v2M114 265v3M114 271v4M114 314v2M114 325v3M114 355v3M114 373v6M114 385v3M116 268v3M116 315v1M116 340v3M116 364v3M116 376v3M118 230v2M118 235v3M118 250v6M118 316v5M118 337v3M118 349v3M118 370v3M120 235v3M120 241v3M120 247v6M120 259v2M120 325v2M120 334v3M120 352v3M122 232v3M122 241v6M122 250v3M122 256v3M122 262v6M122 273v1M122 321v3M124 206v2M124 209v2M124 224v2M124 232v3M124 253v9M124 268v3M124 319v2M124 325v2M126 203v3M126 208v3M126 214v3M126 226v3M126 246v1M126 253v6M126 323v2M128 175v3M128 317v2M128 322v6M128 358v3M128 373v3M128 397v3M130 185v1M130 317v2M130 334v1M130 361v3M132 172v2M132 175v1M132 181v3M132 331v2M132 349v3M134 157v3M134 163v3M134 325v1M134 328v2M134 346v3M134 367v3M134 379v3M134 391v6M136 331v3M136 337v9M136 400v3M138 57v1M138 144v1M138 147v1M138 349v6M138 370v3M138 397v6M140 327v1M140 331v3M140 337v6M140 349v3M140 364v3M140 370v3M142 61v1M142 142v1M144 67v2M144 70v1M144 100v3M144 109v3M144 115v3M144 334v3M146 76v3M148 340v3M148 346v3M148 352v9M150 334v6M150 361v3M152 85v1M152 91v3M152 115v1M152 124v3M152 129v3M152 358v6M152 367v3M154 70v1M154 139v3M154 157v3M154 322v3M154 340v3M154 358v3M156 65v1M156 171v3M156 223v6M156 232v3M156 310v1M156 316v3M156 376v3M156 394v2M158 65v1M158 220v1M158 232v3M158 238v3M158 242v3M158 271v3M158 292v1M158 313v3M158 325v3M158 395v4M160 63v1M160 178v12M160 196v6M160 205v3M160 250v3M160 259v3M160 271v3M160 283v3M160 312v1M160 337v3M160 364v3M160 395v2M162 58v1M162 395v2M164 196v3M164 355v9M164 367v9M164 394v3M164 403v2M166 190v3M166 196v3M166 391v6M166 400v3M168 61v1M168 182v1M168 187v3M168 193v3M168 205v1M168 343v3M168 355v6M168 378v1M170 198v1M170 316v3M172 385v3M176 355v6M180 364v3M180 376v3M180 382v3M180 394v3M182 328v3M182 355v3M182 367v3M182 391v5M184 327v10M184 349v3M184 364v3M184 376v3M186 331v9M186 341v2M186 352v3M186 358v2M186 378v1M188 355v1M190 342v1M190 344v2M192 343v1M192 352v2M194 316v3M194 325v6M194 333v4M194 352v1M196 307v5M196 316v6M196 330v1M196 361v3M196 376v3M196 397v3M198 319v3M198 334v2M198 352v3M198 364v6M198 373v6M198 403v2M200 208v3M200 337v6M200 355v3M200 370v3M200 400v3M202 337v3M202 397v3M204 330v1M204 364v3M204 373v2M204 376v3M204 385v3M204 394v6M204 403v2M212 223v6M212 358v1M212 364v3M214 235v15M214 274v3M214 286v5M214 325v3M214 355v3M214 388v3M214 394v3M216 221v2M216 262v3M216 273v1M216 277v1M216 343v3M216 364v3M216 370v3M216 376v3M216 382v3M216 388v3M216 394v11M218 208v3M218 216v1M218 218v3M218 295v3M218 307v3M218 319v6M218 328v3M220 223v3M220 235v3M220 241v3M220 247v6M220 258v1M220 283v3M220 295v3M220 304v3M220 310v6M220 325v3M220 331v6M222 220v2M224 221v2M226 222v1M226 224v1M226 226v1M228 214v1M228 217v1M230 172v1M230 175v1M230 177v1M230 179v2M230 184v3M232 184v3M232 193v1M234 173v2M236 173v5M236 181v5M236 187v1M236 196v5M236 202v2M238 170v1M238 190v1M238 193v3M240 172v1M240 181v3M240 185v2M240 204v2M242 173v1M242 184v3M242 207v1M242 210v1M244 173v1M244 181v2M244 210v1M244 226v3M244 283v3M246 175v3M246 216v1M246 223v3M246 291v2M246 298v3M246 304v1M248 223v3M248 234v4M248 256v3M248 262v1M248 311v2M250 214v4M250 311v1M252 226v3M252 307v1M254 223v3M254 250v3M254 265v3M254 269v2M256 199v3M256 208v2M256 213v1M256 226v3M256 244v3M256 271v3M256 277v3M258 232v3M258 246v4M258 256v3M260 220v3M260 241v1M260 247v2M262 208v3M262 217v3M262 243v2M266 268v3M266 273v3M266 350v2M266 370v3M266 393v1M266 403v2M268 284v1M270 280v1M270 349v1M270 361v2M272 281v1M272 360v1M272 363v2M274 283v1M274 361v1M276 282v1M276 361v1M278 281v1M278 352v3M278 379v3M280 282v1M280 351v1M280 355v7M282 280v1M282 352v3M282 358v3M282 365v2M284 280v1M284 355v3M284 396v1M286 277v2M286 280v1M286 362v2M286 367v3M288 278v2M288 356v2M290 268v3M290 368v2M290 373v6M290 393v1M292 277v2M292 363v1M292 394v3M294 361v2M294 364v1M296 274v2M296 277v2M296 359v3M298 273v1M298 358v1M298 361v1M298 364v1M298 373v3M300 363v3M300 367v3M300 379v6M300 403v2M302 275v1M302 366v1M304 276v1M306 276v1M308 274v1M308 361v1M308 365v2M310 363v2M310 373v3M312 275v1M312 361v1M316 275v1M316 356v1M318 273v1M318 368v2M318 400v3M320 359v3M322 385v2M324 360v1M324 385v2M326 361v1M326 403v2M328 274v1M330 365v2M332 274v1M332 360v1M332 363v1M332 367v1M334 369v1M336 275v1M336 355v3M336 361v3M336 367v2M336 370v1M338 278v1M338 351v1M338 355v3M338 367v2M340 355v3M340 361v8M340 370v2M340 376v3M342 270v1M342 272v1M342 358v3M342 367v2M342 373v2M344 267v1M344 370v1M344 373v1M346 261v1M346 337v1M346 355v3M346 369v1M348 264v1M348 337v1M350 262v2M350 319v3M350 333v4M350 349v1M350 355v3M350 364v3M352 262v2M352 316v2M352 325v6M352 337v1M352 351v1M352 367v2M352 370v1M354 214v3M354 256v1M354 373v1M356 259v2M356 371v2M356 397v3M358 263v1M358 334v3M358 343v2M358 385v3M360 259v2M360 262v1M360 317v2M360 370v2M362 337v7M362 369v2M364 264v1M364 319v3M364 328v3M364 334v6M364 343v1M364 365v1M366 265v1M366 322v3M366 344v2M366 376v3M368 267v1M368 269v2M368 322v3M368 328v3M368 337v3M368 343v9M368 377v2M368 403v2M370 293v1M370 307v3M370 313v3M370 331v3M370 337v3M370 349v3M370 367v3M372 271v1M372 294v7M372 319v6M372 352v3M372 358v6M372 369v2M372 400v3M374 265v2M374 268v1M374 346v3M374 358v3M374 364v5M374 376v3M374 391v3M376 270v1M376 298v3M376 316v3M376 355v3M376 371v2M378 265v2M378 268v1M378 319v2M378 322v3M378 349v3M378 364v3M378 371v3M378 377v2M380 271v1M380 294v1M380 304v3M380 316v2M380 325v1M380 349v3M380 379v3M382 264v1M382 268v1M382 321v1M382 331v3M382 352v3M382 364v3M382 378v1M384 267v1M384 301v3M384 313v1M384 343v3M384 358v3M384 374v2M386 266v1M386 295v3M386 301v3M386 307v5M386 315v3M386 324v2M386 328v3M386 334v3M386 346v18M386 394v3M388 265v1M388 315v2M388 322v2M388 331v3M390 266v1M390 310v3M390 331v3M390 349v3M390 355v3M390 382v3M390 400v3M392 314v2M392 324v1M392 328v3M392 349v3M392 355v3M392 369v1M392 388v3M394 261v1M394 312v1M394 327v4M394 337v3M394 361v3M396 269v2M396 283v3M396 292v2M396 310v3M396 315v1M396 325v1M396 334v1M396 355v6M396 370v3M398 271v6M398 284v3M398 290v2M398 306v2M398 314v2M398 346v3M398 352v3M398 358v3M398 373v3M400 331v1M400 370v1M400 382v3M400 403v2M402 310v1M402 330v1M402 340v9M402 352v3M402 361v3M402 370v2M402 391v3M404 334v1M404 337v3M404 343v3M404 349v3M404 355v3M404 372v1M404 379v3M406 331v1M406 334v3M406 340v3M408 332v2M408 337v1M408 385v2M408 388v1M408 397v3M410 316v1M410 334v2M410 337v1M410 379v3M410 387v3M410 400v3M412 308v2M412 311v2M412 331v2M412 335v2M412 375v4M412 382v3M414 309v1M414 322v6M414 382v3M414 388v2M416 316v2M416 319v3M416 332v2M416 336v1M416 385v2M418 309v1M418 315v1M418 335v2M418 373v2M420 227v2M420 289v3M420 295v6M420 310v5M420 319v6M420 331v2M420 375v1M420 382v3M420 388v3M422 215v2M422 222v1M422 368v1M422 371v2M424 375v1M424 397v3M426 210v1M426 212v1M426 227v1M426 295v3M426 304v5M426 310v3M426 319v15M426 337v1M426 340v1M426 365v1M426 376v3M428 215v2M428 223v1M428 313v3M428 346v9M430 214v1M430 314v2M430 325v3M430 355v3M430 385v3M432 210v1M432 213v3M432 227v1M432 306v1M432 311v2M432 316v1M432 337v3M432 346v3M432 352v9M432 373v3M434 214v2M434 217v3M436 217v8M436 352v3M438 218v4M438 225v1M438 319v3M438 358v3M440 214v1M440 228v1M440 391v3M442 218v1M442 227v1M442 328v3M444 218v2M444 226v1M444 316v3M446 215v1M446 231v1M448 316v3M448 346v3M448 394v3M450 213v1M450 229v2M450 232v1M450 298v3M450 304v3M450 316v6M450 331v2M450 346v3M450 385v3M450 391v3M452 209v2M452 230v2M452 290v1M452 338v2M452 400v5M454 211v2M454 224v2M454 228v2M454 337v2M454 356v2M456 226v1M456 291v1M458 213v2M458 220v4M458 227v2M458 342v1M460 293v1M460 340v1M462 226v1M462 286v2M462 338v3M464 281v4M464 286v2M464 336v1M464 338v1M464 341v1M466 220v2M466 223v2M466 337v1M468 227v2M468 334v2M468 361v3M470 220v2M470 223v3M470 259v6M470 271v3M470 280v3M470 333v1M472 220v2M472 223v2M472 247v3M472 256v9M472 271v3M472 277v6M472 288v1M472 329v4M474 265v3M474 274v3M474 286v3M474 290v1M474 327v1M474 334v6M474 370v3M476 235v3M476 244v2M476 271v3M476 289v1M476 381v1M478 235v3M478 244v6M478 262v3M478 273v1M478 289v1M478 385v3M478 394v3M480 232v6M480 247v2M480 271v3M480 275v2M480 278v2M480 382v6M480 391v6M480 403v2M482 248v2M482 269v2M482 273v1M482 277v3M482 282v1M482 340v12M482 357v2M482 364v3M482 373v3M484 217v3M484 244v1M484 335v2M484 352v3M484 364v3M484 385v6M484 394v9M486 223v2M486 243v1M486 329v6M486 349v3M486 355v3M486 367v3M486 391v3M488 327v1M488 385v3M490 326v1M492 244v1M492 326v1M494 243v2M494 382v3M496 326v1M498 325v1M498 397v8M500 326v1M500 367v3M500 395v4M502 243v1M502 326v1M502 340v3M502 349v6M502 361v3M502 376v6M502 388v3M502 392v2M504 242v1M504 326v1M504 334v3M504 349v3M504 385v3M504 394v1M506 397v2M508 325v1M508 395v4M510 328v1M510 400v3M512 243v2M512 398v2M512 403v2M514 240v2M514 335v1M514 343v3M514 367v3M514 373v3M514 379v12M514 393v1M516 241v1M516 403v2M518 238v1M518 331v1M518 337v3M518 343v3M518 364v3M518 373v3M518 382v6M518 393v1M520 241v1M520 321v1M520 397v2M522 242v1M522 325v1M522 396v1M522 400v3M524 320v4M524 366v4M524 376v3M524 388v3M526 241v1M526 322v1M526 403v2M528 322v2M528 372v1M530 241v1M530 318v1M530 320v2M530 367v2M532 244v1M532 320v3M532 364v4M534 289v3M534 318v1M534 365v3M536 240v2M536 277v2M536 305v2M536 309v2M536 313v1M536 365v2M536 369v1M538 275v1M538 277v1M538 318v1M538 332v2M538 337v3M538 352v3M538 360v1M538 362v2M540 237v1M540 275v3M540 289v3M540 300v1M540 305v2M540 316v1M540 320v2M540 363v1M540 365v3M544 373v3M546 235v1M546 340v3M546 349v1M546 361v3M546 370v3M546 379v3M546 394v6M548 234v1M548 349v1M548 355v3M548 397v6M550 235v1M550 343v2M552 234v1M552 347v4M552 354v1M552 399v1M554 344v2M554 348v1M554 350v2M556 235v1M556 342v1M556 344v4M560 236v1M560 352v6M560 364v3M560 373v6M560 391v3M560 397v1M562 242v1M562 342v3M562 346v2M562 349v1M564 345v1M566 344v1M570 250v1M570 341v2M572 250v1M572 344v1M572 347v1M574 247v1M574 346v1M574 349v3M574 370v3M574 376v3M574 382v9M574 403v2M576 250v1M576 349v1M576 373v3M576 382v6M576 400v3M578 373v3M578 394v3M578 400v3M580 249v1M580 346v1M580 349v1M580 382v3M580 391v3M580 397v3M582 349v2M582 358v3M582 363v4M582 379v9M582 400v3M584 247v1M584 348v1M584 352v3M584 373v3M586 244v1M586 347v5M586 353v2M586 367v6M588 352v1M588 388v3M590 246v1M590 349v2M590 382v3M592 95v1M592 105v1M592 108v1M592 245v1M592 351v1M592 353v4M592 358v3M592 370v3M592 379v9M592 391v3M592 400v3M594 253v2M594 339v1M596 345v1M600 248v2M600 340v1M602 311v1M602 319v6M602 328v3M602 337v5M602 343v2M602 357v1M602 364v1M602 367v3M602 373v6M602 382v3M602 388v3M602 394v6M604 248v1M604 310v1M604 353v1M604 367v3M604 376v3M604 394v3M604 400v3M606 247v1M606 309v1M606 367v9M606 385v3M606 394v11M608 243v2M608 311v1M608 322v3M608 331v3M608 346v3"/>
<path stroke="#00ffa9" d="M92 334v2M94 373v3M96 298v3M96 388v1M100 293v2M100 375v1M100 390v3M102 376v1M102 390v1M104 388v2M104 397v1M104 403v2M106 301v3M106 391v3M108 294v4M108 301v5M108 394v3M110 290v2M110 295v1M110 301v3M112 310v3M114 268v3M114 275v4M114 280v3M114 312v2M114 317v2M114 331v3M114 340v3M114 358v3M116 262v1M116 265v3M116 311v4M116 319v3M116 323v2M118 244v3M118 256v2M118 313v3M118 323v2M118 343v3M120 261v1M120 265v8M120 313v9M120 324v1M122 311v2M122 319v2M124 208v1M124 226v3M124 238v3M124 244v3M124 262v3M124 271v2M124 311v5M124 364v3M126 206v2M126 217v1M126 223v1M126 229v3M126 244v2M126 250v3M126 259v3M126 265v6M126 274v1M126 311v2M126 316v3M126 320v3M128 172v1M128 316v1M128 319v3M128 346v3M130 186v1M130 316v1M130 325v3M130 329v2M132 174v1M132 176v5M132 325v6M134 169v2M134 333v1M134 400v3M136 154v1M136 364v3M136 379v6M136 391v3M136 403v2M138 52v5M138 148v2M138 337v12M138 376v3M138 388v3M138 403v2M140 52v3M140 56v2M140 145v1M140 326v1M140 328v3M140 352v3M140 361v3M140 379v3M140 385v1M142 60v1M142 143v1M142 324v2M144 63v1M144 106v3M144 124v1M144 326v8M144 346v3M144 358v6M144 367v3M148 327v4M148 349v3M150 321v1M150 324v1M150 327v1M150 346v3M150 358v3M152 72v1M152 74v2M152 116v3M152 132v4M152 139v3M152 151v6M152 160v3M152 313v3M152 323v2M152 328v3M152 334v3M152 346v3M152 364v3M154 136v3M154 142v12M154 160v2M154 163v1M154 316v3M154 334v3M154 346v3M154 370v3M154 379v3M154 391v3M156 64v1M156 174v1M156 190v6M156 214v9M156 229v3M156 235v3M156 295v3M156 301v3M156 305v2M156 309v1M156 322v3M156 346v3M156 382v3M156 396v1M158 172v1M158 178v3M158 196v3M158 214v3M158 218v2M158 245v3M158 283v3M158 289v3M158 295v3M158 349v3M158 399v1M158 403v2M160 61v2M160 175v3M160 202v3M160 247v3M160 253v6M160 265v3M160 352v3M160 400v3M162 400v3M164 190v3M164 391v3M166 59v1M166 403v2M168 60v1M168 183v4M168 196v3M168 200v2M168 391v9M168 403v2M176 403v2M180 397v3M182 358v3M182 364v3M182 376v3M182 382v3M182 396v2M184 337v6M184 358v6M184 379v6M186 360v1M188 352v2M188 356v2M188 361v3M190 349v3M192 331v5M192 340v2M192 344v8M192 354v1M194 337v3M194 346v6M194 353v2M196 312v1M196 337v3M196 367v3M196 379v3M196 388v6M198 336v1M198 343v3M198 358v3M198 370v3M198 379v3M198 388v6M198 400v3M200 343v3M200 352v3M200 367v3M200 379v3M200 385v3M202 379v9M202 391v3M204 375v1M204 382v3M214 223v3M214 262v3M214 337v3M216 265v3M216 271v2M216 373v1M218 221v2M218 304v3M218 313v6M218 346v8M220 229v3M220 337v3M220 346v3M222 222v6M222 232v3M222 247v3M226 225v1M226 227v1M228 215v2M228 218v1M230 173v2M230 176v1M230 178v1M230 181v3M232 181v3M232 194v1M234 175v3M234 188v2M234 193v1M236 201v1M236 204v1M238 171v2M238 199v4M238 205v1M240 173v1M240 180v1M240 184v1M240 206v4M240 214v6M240 223v1M242 174v1M242 178v3M242 217v3M242 223v2M244 174v2M244 177v1M244 211v1M244 214v2M244 229v3M244 286v2M246 217v5M246 235v1M246 275v2M246 293v2M246 305v2M246 319v2M248 238v2M248 241v3M248 247v3M248 253v3M250 218v3M250 247v3M250 261v1M250 312v4M250 319v2M252 308v1M252 313v3M254 214v2M254 226v3M254 232v18M254 259v3M254 263v2M254 268v1M254 292v2M254 295v3M254 301v3M256 210v1M256 214v1M256 232v3M256 247v3M256 268v3M256 280v3M258 265v3M258 271v3M260 242v5M260 249v1M262 211v3M262 245v2M264 250v1M266 276v1M266 349v1M266 360v1M266 379v9M266 397v1M268 285v1M268 340v3M270 281v1M270 355v3M272 358v2M272 361v2M274 282v1M276 283v1M276 351v4M276 358v3M280 350v1M282 355v3M282 364v1M284 363v1M286 279v1M286 355v7M288 355v1M290 271v3M290 367v1M290 397v3M292 274v2M292 279v1M292 361v2M296 276v1M296 279v2M296 358v1M298 277v1M300 274v1M300 359v4M302 276v1M302 364v2M302 400v5M304 277v1M308 360v1M308 364v1M310 275v1M310 361v2M314 276v1M314 359v2M314 363v1M316 276v2M316 355v1M316 360v1M316 363v1M318 275v1M318 367v1M320 276v1M320 357v2M324 359v1M326 274v1M326 357v1M326 360v1M330 273v1M330 361v4M332 358v2M332 361v2M332 365v2M334 274v1M334 350v2M334 367v2M334 379v3M336 351v4M338 348v3M338 352v3M338 358v3M340 275v1M342 273v1M342 351v4M342 371v2M344 268v1M344 351v4M344 358v3M344 367v3M346 262v2M346 333v4M346 338v1M346 367v2M348 338v2M348 348v1M348 352v15M350 264v1M350 331v2M350 361v3M352 264v1M352 319v3M352 334v2M352 338v1M352 350v1M352 352v3M352 361v3M354 257v3M354 319v3M354 331v3M354 371v2M356 261v1M356 325v12M356 370v1M358 264v1M358 322v6M358 340v3M358 345v1M358 369v1M360 261v1M360 263v1M360 316v1M360 320v2M360 325v12M360 343v1M360 368v2M362 262v2M362 265v1M362 322v3M362 344v1M362 365v2M362 368v1M364 265v1M364 318v1M364 325v3M364 331v3M364 344v2M364 364v1M364 368v2M366 266v1M366 328v3M366 337v6M368 325v3M368 331v3M368 364v3M368 370v3M368 376v1M370 274v1M370 292v1M370 343v3M370 352v3M370 370v3M372 272v2M372 293v1M372 307v3M372 313v6M372 331v3M372 340v3M372 367v2M374 267v1M374 269v4M374 295v3M374 301v3M374 307v9M374 334v3M374 343v3M374 355v3M374 370v6M376 271v1M376 296v2M376 301v3M376 307v3M376 313v3M376 343v3M376 361v3M376 368v3M378 267v1M378 269v2M378 304v3M378 314v2M378 321v1M378 337v3M378 367v4M378 376v1M380 272v3M380 292v2M380 295v3M380 326v11M380 343v6M380 355v3M382 269v2M382 298v3M382 304v3M382 314v2M382 328v3M382 358v3M382 367v3M382 373v5M382 380v2M384 268v1M384 307v3M384 328v3M384 337v3M384 346v6M384 364v3M384 370v4M386 267v2M386 304v3M386 313v2M386 326v2M386 340v6M386 364v3M386 370v3M388 296v2M388 301v3M388 307v3M388 313v2M388 324v1M388 337v3M388 346v3M388 376v3M390 267v1M390 304v6M390 328v3M390 340v3M390 358v3M390 364v3M390 369v4M390 376v3M392 268v1M392 291v1M392 294v1M392 307v7M392 331v3M392 343v3M392 367v2M394 265v1M394 310v2M394 315v1M394 317v2M394 322v3M394 334v3M394 349v6M394 370v6M394 388v3M396 271v3M396 277v6M396 291v1M396 307v3M396 313v2M396 326v2M396 335v2M396 343v6M396 352v3M396 361v3M396 373v3M398 287v3M398 308v2M398 313v1M398 337v3M398 343v3M398 355v3M398 361v3M398 371v2M400 328v3M400 332v2M400 340v6M400 352v3M402 307v2M402 311v2M402 314v2M402 337v3M402 349v3M404 335v2M404 358v3M404 364v3M404 370v2M406 332v2M406 343v3M406 355v3M406 361v3M406 370v3M406 379v3M408 338v2M408 358v3M408 367v3M408 379v3M410 331v2M410 336v1M410 338v2M410 375v4M410 385v2M412 333v1M412 374v1M414 334v2M414 379v3M414 386v2M414 391v3M416 337v2M416 375v1M416 389v2M418 310v5M418 372v1M418 376v3M418 387v1M420 214v1M420 217v3M420 225v2M420 292v3M420 304v6M420 333v1M420 374v1M420 376v6M420 387v1M420 400v3M422 223v3M422 313v3M422 367v1M422 370v1M424 373v2M426 213v1M426 226v1M426 309v1M426 334v3M426 338v1M426 341v1M426 363v2M426 367v3M428 355v3M430 215v8M430 225v1M430 313v1M432 216v1M432 226v1M434 216v1M438 222v3M440 215v2M440 227v1M442 219v2M442 226v1M446 216v2M446 230v1M446 313v3M448 214v1M448 232v1M450 214v1M450 228v1M450 310v1M450 313v3M450 322v6M452 211v1M452 229v1M452 291v1M452 337v1M452 361v3M454 213v4M454 223v1M454 226v2M454 291v1M454 355v1M456 217v6M456 338v2M458 215v2M458 226v1M458 291v1M458 340v2M462 220v3M462 288v2M462 337v1M464 285v1M464 288v1M464 335v1M464 337v1M464 340v1M466 222v1M466 253v2M466 259v3M466 268v3M466 274v6M466 335v2M468 220v2M468 226v1M468 250v4M468 256v9M468 268v3M468 277v5M470 222v1M470 265v3M470 274v3M470 283v5M470 331v2M472 222v1M472 253v3M472 268v3M472 274v3M472 328v1M474 325v2M474 331v3M474 343v3M474 355v3M476 229v3M476 246v10M476 265v3M476 380v1M476 383v2M478 229v1M478 232v3M478 241v3M478 253v9M478 265v8M478 275v2M478 383v2M478 397v6M480 241v5M480 249v1M480 259v3M480 274v1M480 277v1M480 283v1M480 286v2M482 250v1M482 268v1M482 271v2M482 286v1M482 331v3M482 355v2M484 214v3M484 220v3M484 245v1M484 334v1M484 337v6M484 349v3M484 361v3M484 370v3M484 376v9M484 403v2M486 244v1M486 328v1M486 379v3M488 245v1M490 245v1M494 326v1M496 244v1M496 324v2M500 325v1M500 399v6M502 325v1M502 346v3M502 373v3M502 394v1M504 325v1M504 395v4M506 245v1M506 399v1M508 244v1M508 399v1M508 403v2M510 244v1M510 327v1M510 397v3M510 403v2M512 331v1M512 400v3M514 334v1M514 370v3M514 394v2M516 242v1M516 331v1M516 397v2M516 400v3M518 239v1M518 370v3M518 376v6M518 388v3M518 394v2M518 397v1M520 242v1M520 318v3M520 399v6M522 321v1M522 397v2M522 403v2M524 241v1M524 319v1M524 394v1M526 242v1M526 321v1M526 397v1M528 243v1M528 320v2M528 376v12M528 391v1M530 242v1M530 316v2M530 319v1M530 369v1M532 242v1M532 245v1M532 319v1M532 368v2M534 242v1M534 292v3M534 316v2M534 368v2M536 275v2M536 311v2M538 238v1M538 274v1M538 307v1M538 310v1M538 315v3M538 364v2M540 239v1M540 274v1M540 307v2M540 314v2M540 319v1M540 368v2M540 373v1M542 235v1M542 326v2M542 349v3M542 361v3M544 237v2M544 268v6M544 321v1M544 323v2M546 337v3M546 343v6M546 388v3M548 235v1M548 347v2M550 236v1M552 235v1M552 346v1M552 352v2M554 234v1M554 343v1M554 346v2M554 349v1M556 340v2M556 343v1M558 237v1M558 342v1M558 345v1M560 237v1M560 350v2M560 359v2M560 385v3M560 394v1M560 398v2M560 403v2M562 243v1M562 341v1M564 244v1M564 343v2M566 246v2M566 342v2M568 140v3M568 247v1M568 342v1M570 251v2M570 340v1M572 251v1M572 343v1M572 346v1M574 248v1M574 250v1M574 361v6M574 391v3M576 251v2M576 391v3M580 250v1M582 247v1M582 348v1M582 394v3M582 403v2M584 248v2M584 342v1M584 346v2M586 245v1M586 346v1M586 352v1M586 382v6M586 391v3M588 244v1M588 347v2M590 247v1M592 96v1M592 103v2M592 106v2M592 246v1M592 349v2M592 352v1M592 388v3M592 394v3M592 403v2M594 250v1M594 255v1M594 337v2M596 341v2M596 344v1M598 247v1M600 322v3M600 328v3M600 334v3M600 338v2M602 316v3M602 325v3M602 331v6M604 249v2M604 309v1M604 354v2M604 363v1M604 366v1M604 382v3M604 388v3M606 248v1M606 308v1M606 379v6M606 391v3M608 245v1M608 313v3M608 328v3M608 334v9M608 349v4"/>
<path stroke="#00ff93" d="M92 361v3M96 389v2M100 298v3M102 391v3M104 295v3M104 390v1M106 358v3M108 397v3M110 296v2M110 304v3M114 279v1M114 283v3M114 310v2M114 316v1M116 263v2M116 271v6M116 283v3M116 310v1M116 316v3M116 322v1M118 258v1M118 262v3M118 322v1M118 328v3M120 262v3M120 273v1M120 286v3M120 322v2M120 358v3M122 274v1M122 310v1M122 316v3M124 247v3M124 273v2M124 310v1M126 218v3M126 224v2M126 232v3M126 240v1M126 271v3M126 275v2M126 310v1M126 319v1M128 173v2M128 178v8M130 187v1M130 312v1M130 328v1M132 184v1M132 193v3M134 171v2M134 331v2M134 361v3M136 155v2M136 328v3M136 355v3M136 361v3M136 367v6M136 385v3M138 150v1M138 328v9M138 358v3M138 364v6M138 379v6M138 391v1M140 55v1M140 146v1M140 148v1M140 325v1M140 334v3M140 386v4M140 394v3M142 59v1M142 144v2M142 323v1M144 62v1M144 65v2M144 118v6M144 125v5M144 325v1M144 340v6M144 355v3M144 364v3M144 382v2M146 79v6M146 88v3M148 326v1M148 337v3M148 361v3M150 76v6M150 91v6M150 118v3M150 146v2M150 157v3M150 319v2M150 322v2M150 325v2M150 328v6M150 349v6M150 367v2M150 373v2M152 71v1M152 73v1M152 119v2M152 136v3M152 142v3M152 148v3M152 163v1M152 322v1M152 331v3M152 337v6M152 349v3M154 162v1M154 164v2M154 313v3M154 319v3M154 325v3M154 337v3M154 352v3M154 373v6M154 394v3M154 400v3M156 58v3M156 63v1M156 178v3M156 199v3M156 238v3M156 247v3M156 253v9M156 274v6M156 289v6M156 304v1M156 308v1M156 313v3M156 370v3M158 64v1M158 173v1M158 175v3M158 184v12M158 199v3M158 205v9M158 217v1M158 248v8M158 280v3M158 288v1M160 60v1M162 52v3M162 57v1M164 60v1M164 364v3M166 58v1M166 397v3M168 59v1M168 199v1M168 202v3M168 373v3M168 400v3M170 52v3M182 349v3M182 398v7M184 367v6M184 385v8M184 394v1M186 343v3M186 349v3M186 355v1M186 361v6M186 373v3M188 354v1M188 370v3M190 352v1M192 336v1M192 342v1M192 373v3M194 355v1M194 367v6M194 376v3M194 388v3M196 334v3M196 340v3M196 346v3M196 352v6M196 370v3M196 385v3M198 337v3M198 397v3M200 376v3M200 382v3M200 388v3M200 397v3M200 403v2M202 376v3M204 388v6M216 374v2M216 379v3M216 391v3M218 223v3M218 241v12M218 256v1M218 259v1M218 279v1M218 292v3M218 298v6M218 310v3M218 334v6M218 354v1M220 278v2M220 307v3M220 316v3M220 355v1M222 228v1M222 310v3M222 322v3M224 223v2M224 226v1M224 310v3M226 228v1M228 219v1M230 193v2M230 196v1M232 195v1M234 181v3M234 187v1M234 190v2M234 194v2M236 178v3M236 214v3M238 173v1M238 188v2M238 203v2M238 206v2M240 174v6M240 210v4M240 224v2M242 175v1M242 177v1M242 211v1M242 214v3M242 225v1M244 176v1M244 212v2M244 216v1M244 223v3M244 232v1M244 280v3M244 288v1M246 222v1M246 226v7M246 236v2M246 273v2M246 295v1M246 307v1M246 321v1M248 240v1M248 319v1M250 221v2M250 226v6M250 253v3M250 258v3M250 321v2M252 309v2M254 216v1M254 220v3M254 229v3M254 262v1M254 294v1M254 298v3M256 215v8M256 229v3M256 235v3M256 241v3M256 253v6M256 262v6M256 274v3M256 283v3M258 250v6M258 259v3M258 268v3M258 274v2M264 251v1M264 253v2M266 280v1M266 355v5M266 361v3M266 376v3M266 388v3M266 394v3M266 398v2M268 286v1M268 348v1M270 282v2M270 352v3M272 282v1M272 351v7M274 284v1M274 350v5M276 350v1M278 282v1M278 351v1M280 283v1M280 349v1M280 352v3M282 281v1M282 340v3M282 351v1M284 281v1M284 361v2M286 281v1M286 351v1M288 280v1M288 351v1M288 354v1M290 274v1M290 360v1M290 363v1M292 276v1M292 360v1M294 280v1M294 359v2M296 357v1M298 278v2M300 275v2M300 358v1M302 354v1M302 357v1M302 360v1M304 359v2M306 277v1M308 275v1M308 359v1M310 360v1M312 276v2M314 358v1M314 361v2M316 278v1M316 358v2M316 361v2M318 360v1M320 355v2M322 274v1M324 274v1M324 358v1M326 356v1M326 358v2M328 275v1M328 357v1M328 360v1M330 359v2M332 275v1M332 351v1M332 357v1M332 364v1M334 275v1M334 349v1M334 352v6M334 361v3M336 276v2M336 350v1M336 364v3M338 279v1M338 346v2M340 276v1M340 351v1M340 358v3M342 350v1M342 370v1M344 269v1M344 271v1M344 334v4M344 349v2M344 361v3M346 264v3M346 332v1M346 339v1M346 350v5M346 364v3M346 371v2M348 265v1M348 335v2M348 347v1M348 350v2M350 265v1M350 322v6M350 340v1M350 348v1M350 352v3M352 322v3M352 331v3M352 336v1M352 339v1M352 349v1M352 358v3M354 260v2M354 318v1M354 337v2M354 370v1M356 262v2M356 318v1M356 365v2M358 368v1M360 264v1M360 319v1M360 322v3M360 340v3M360 344v2M360 365v3M362 264v1M362 266v1M362 317v2M362 331v6M362 345v2M362 364v1M362 367v1M364 266v2M364 317v1M364 322v3M364 340v3M364 362v2M364 367v1M366 262v1M366 267v1M366 325v3M366 331v6M366 346v2M366 366v1M366 368v2M368 271v2M368 296v2M368 310v3M368 314v2M368 361v3M368 367v3M370 275v1M370 280v3M370 291v1M370 316v3M370 358v3M372 274v1M372 292v1M372 346v3M374 273v1M374 298v3M374 316v6M374 340v3M374 361v3M376 272v4M376 294v2M376 304v3M376 319v3M376 325v3M376 331v3M376 337v3M376 346v3M376 352v3M376 367v1M378 271v2M378 313v1M378 325v6M378 334v3M378 343v6M378 352v3M380 275v1M380 290v2M380 340v3M382 301v3M382 313v1M382 334v3M382 340v9M382 355v3M382 379v1M384 269v1M384 271v1M384 294v1M384 296v5M384 312v1M384 325v1M384 331v6M384 340v3M384 355v3M384 369v1M386 269v1M386 298v3M388 266v1M388 295v1M388 304v3M388 325v1M388 328v3M388 343v3M388 349v6M388 361v6M390 295v9M390 325v1M390 334v3M390 346v3M390 367v2M392 269v1M392 290v1M392 293v1M392 334v6M392 358v9M394 266v1M394 298v3M394 304v3M394 313v2M394 316v1M394 331v3M394 378v1M396 274v3M396 286v3M396 290v1M398 364v3M398 370v1M400 337v3M400 358v9M402 309v1M402 313v1M402 355v3M402 364v3M406 346v6M406 358v3M406 364v3M406 376v3M406 382v3M408 346v9M408 373v3M408 382v3M410 310v1M410 333v1M410 373v2M412 314v2M412 373v1M414 310v3M414 314v2M414 336v1M414 374v5M414 385v1M416 339v1M416 374v1M416 388v1M418 371v1M418 382v5M420 215v2M420 220v1M420 223v2M420 301v3M420 373v1M420 385v2M422 337v1M422 366v1M424 340v1M424 363v1M426 214v2M426 217v3M426 225v1M426 339v1M426 342v1M426 362v1M430 223v2M432 217v3M432 224v2M432 307v2M434 220v3M436 214v1M440 217v1M442 221v1M444 220v2M446 218v1M446 229v1M448 215v1M450 215v1M450 217v1M450 227v1M450 311v2M452 212v1M452 292v1M452 335v2M454 217v3M454 292v1M454 336v1M456 292v1M456 336v2M458 217v3M458 292v1M458 339v1M460 294v1M460 336v1M460 339v1M462 290v1M464 334v1M466 255v1M466 262v6M466 280v1M466 334v1M468 222v1M468 254v2M468 265v3M468 271v6M468 282v2M468 332v2M470 277v3M470 288v1M470 327v1M470 330v1M472 265v3M472 289v1M472 327v1M474 291v1M474 324v1M474 349v3M476 262v3M476 290v1M476 377v3M476 382v1M478 230v2M478 238v3M478 250v3M478 274v1M478 290v1M478 382v1M478 388v6M478 403v2M480 246v1M480 250v3M480 270v1M480 284v2M480 288v1M480 380v2M480 388v3M482 251v3M482 287v1M482 328v3M482 337v3M484 246v1M484 272v2M484 330v1M484 333v1M484 355v6M486 245v1M486 327v1M488 247v1M488 326v1M490 325v1M492 245v1M492 325v1M494 245v1M494 325v1M496 245v1M496 323v1M498 244v1M498 324v1M500 324v1M502 244v1M502 395v2M502 400v3M504 243v2M504 399v1M504 403v2M506 324v1M508 324v1M508 400v3M510 245v1M510 326v1M512 245v1M514 242v1M514 376v3M514 396v2M516 243v2M516 330v1M516 399v1M518 240v2M518 396v1M518 398v2M520 244v1M520 317v1M522 243v1M522 318v3M522 399v1M524 242v1M524 395v2M524 403v2M526 243v1M526 319v2M526 398v2M528 318v2M528 373v3M528 392v4M530 243v2M532 243v1M532 318v1M534 243v1M534 282v1M534 287v2M534 295v3M534 301v2M534 315v1M534 370v1M536 242v1M536 269v2M536 274v1M536 370v1M538 308v1M538 311v2M538 314v1M538 366v1M540 240v1M540 309v5M540 374v2M540 394v3M542 236v1M542 324v2M542 328v3M542 334v3M542 346v3M542 352v6M544 263v5M544 283v3M544 312v1M544 319v2M544 322v1M546 236v1M546 331v3M546 335v2M548 236v1M548 341v2M548 345v2M550 339v1M552 344v2M554 235v1M556 236v1M558 238v1M558 341v1M558 343v2M560 238v1M560 348v2M560 358v1M560 395v2M562 244v1M562 340v1M564 245v1M566 248v1M566 341v1M568 248v1M568 341v1M570 140v3M570 253v1M570 262v13M572 252v3M572 259v3M572 339v1M572 342v1M574 249v1M574 251v2M574 345v1M574 379v3M574 400v3M576 344v2M578 250v1M578 345v1M580 251v1M580 345v1M582 248v1M582 346v2M582 376v3M582 397v3M584 340v2M584 344v2M586 246v1M586 373v3M586 394v3M588 245v1M588 247v1M588 346v1M590 248v1M590 342v1M590 344v2M592 97v6M592 247v1M592 344v2M594 251v1M594 265v3M594 280v3M594 316v3M594 334v3M596 250v1M596 340v1M596 343v1M598 248v1M598 344v2M600 250v2M600 312v4M600 337v1M602 247v1M602 250v1M602 310v1M602 400v3M604 251v1M604 356v1M604 362v1M604 364v2M604 403v2M606 249v3M606 355v1M608 246v1M608 310v1M608 316v3M608 325v3M608 343v3"/>
<path stroke="#00ff7e" d="M114 289v3M114 295v3M114 306v4M116 280v3M116 289v1M116 309v1M118 259v2M118 277v12M120 274v3M120 280v6M120 308v2M122 275v2M122 280v3M122 309v1M124 275v2M124 309v1M126 221v2M126 235v5M126 241v3M126 286v6M126 309v1M126 315v1M128 186v1M130 188v2M130 310v2M130 315v1M132 185v3M132 324v1M134 173v2M134 324v1M136 157v2M136 163v3M136 327v1M136 334v3M136 349v6M136 373v6M136 394v6M138 151v1M138 326v2M138 385v1M138 392v2M140 147v1M140 149v1M140 151v1M140 324v1M140 390v1M142 58v1M142 146v1M142 322v1M144 61v1M144 64v1M144 133v3M144 139v3M144 337v3M144 352v3M144 376v6M144 384v1M146 68v8M146 94v9M146 106v3M148 325v1M148 367v2M148 370v2M150 73v3M150 82v3M150 102v11M150 121v1M150 145v1M150 151v3M150 160v6M150 316v3M150 369v1M150 375v1M152 69v2M152 145v3M152 164v2M152 352v6M152 373v1M152 376v3M152 388v3M152 394v1M152 400v3M154 69v1M154 309v1M154 311v2M154 331v3M154 343v3M154 364v3M154 382v6M154 403v2M156 57v1M156 61v2M156 175v3M156 181v6M156 196v3M156 202v6M156 211v3M156 241v3M156 262v12M156 280v6M156 298v3M156 307v1M158 63v1M158 174v1M158 181v3M158 202v3M158 256v15M158 274v6M158 286v2M160 56v4M162 56v1M164 59v1M166 57v1M168 57v2M168 382v3M184 393v1M184 395v2M186 356v2M186 367v3M186 379v2M186 385v3M188 373v3M190 353v2M192 355v2M194 356v2M194 361v3M196 364v3M196 373v3M196 394v3M196 403v2M198 385v3M200 391v6M216 385v3M218 226v9M218 238v3M218 253v3M218 257v1M218 260v2M218 277v2M218 280v12M218 343v3M220 262v1M220 277v1M220 352v1M220 356v1M222 229v2M222 235v3M222 241v3M222 280v3M222 295v3M222 301v6M222 325v4M222 349v3M224 225v1M224 227v1M224 244v3M226 277v3M228 220v1M230 195v1M230 197v2M232 196v1M232 208v3M234 178v3M234 184v3M234 192v1M234 196v2M236 205v1M236 208v6M236 217v3M236 223v2M238 174v1M238 181v3M238 186v2M238 211v3M240 226v2M242 176v1M242 212v2M242 220v3M244 217v3M244 233v1M244 279v1M246 233v2M246 267v1M246 269v4M246 296v2M246 301v3M246 308v2M248 320v2M250 223v1M250 235v6M250 256v2M250 323v1M252 311v2M254 253v3M254 304v1M256 223v3M256 238v3M256 250v3M256 259v3M256 286v5M258 262v3M258 276v4M260 250v1M262 247v2M262 250v1M264 252v1M264 255v7M264 265v6M266 277v2M266 281v1M266 352v3M266 364v6M266 373v3M268 287v1M268 292v1M268 346v2M270 284v1M270 345v1M270 348v1M272 348v1M272 350v1M274 349v1M274 358v3M276 284v1M276 347v3M278 347v2M278 350v1M278 358v3M282 282v1M282 345v1M282 348v3M284 348v1M284 350v5M286 348v3M288 349v2M288 352v2M290 275v3M290 354v1M290 357v3M290 361v2M292 357v3M294 358v1M296 281v1M296 354v1M296 356v1M298 280v1M300 277v1M302 277v1M302 353v1M302 355v2M302 358v2M304 278v1M304 356v3M306 278v1M306 357v1M308 276v1M308 358v1M310 276v2M310 358v2M314 277v1M314 357v1M318 276v1M318 357v1M318 359v1M322 356v2M322 360v1M326 355v1M328 356v1M328 358v2M330 358v1M332 276v1M332 349v2M332 355v2M334 276v1M336 348v2M338 280v2M338 337v3M340 277v1M340 350v1M342 274v1M342 349v1M342 355v3M344 270v1M344 272v1M344 338v2M346 267v1M346 331v1M346 340v1M346 348v2M346 370v1M348 266v1M348 334v1M348 343v4M348 349v1M350 266v1M350 318v1M350 341v1M350 347v1M352 265v1M354 317v1M354 328v3M354 339v1M354 365v2M354 368v2M356 264v1M356 317v1M356 346v3M356 362v3M356 368v2M358 265v1M358 317v2M358 349v1M358 366v2M360 364v1M362 267v1M362 316v1M362 347v1M364 316v1M364 349v1M364 361v1M366 263v2M366 315v1M366 318v1M366 348v3M366 365v1M366 367v1M368 273v2M368 294v2M368 298v9M368 313v1M368 352v3M368 358v3M370 276v1M370 283v3M370 289v2M370 355v3M372 275v1M374 294v1M374 304v3M374 328v6M374 337v3M374 349v6M376 276v1M376 293v1M376 310v3M376 328v3M378 273v1M378 301v3M378 307v3M378 340v3M380 276v1M380 289v1M380 352v3M380 358v6M382 271v2M382 294v1M382 296v2M382 307v6M382 349v3M382 370v3M384 270v1M384 272v1M384 293v1M384 295v1M384 310v2M384 326v2M384 361v3M384 367v2M386 270v1M386 293v2M388 267v1M388 298v3M388 326v2M388 355v3M390 268v1M390 294v1M390 326v2M390 343v3M390 361v3M392 270v1M392 289v1M392 292v1M392 346v3M394 267v1M394 294v1M394 301v3M394 307v3M394 340v6M394 367v3M394 376v2M396 289v1M398 340v3M400 349v3M402 367v3M404 361v3M406 352v3M406 367v3M408 340v2M408 343v3M408 361v3M408 371v2M408 376v3M410 311v2M410 340v1M410 371v2M412 313v1M412 337v2M412 372v1M414 313v1M414 371v3M416 343v3M416 373v1M418 370v1M420 221v2M420 334v2M420 337v1M422 338v1M422 365v1M424 341v1M424 349v3M424 358v3M424 362v1M426 216v1M426 223v2M426 361v1M430 310v3M432 220v4M432 309v1M436 215v2M440 218v2M440 226v1M442 222v1M444 222v1M446 219v1M446 228v1M448 216v2M450 216v1M450 218v2M450 226v1M452 213v3M452 220v2M452 227v2M452 293v1M452 332v3M454 220v3M454 333v1M454 335v1M456 293v1M456 335v1M458 293v1M458 337v2M460 295v1M460 298v3M460 337v2M462 291v1M464 289v1M466 256v3M466 281v1M468 223v3M468 284v2M468 331v1M470 326v1M470 328v2M472 290v1M472 326v1M474 322v2M474 328v3M476 291v1M476 359v2M476 364v3M476 376v1M478 380v2M480 256v3M480 268v2M480 289v1M480 373v3M480 379v1M482 254v2M482 283v2M482 288v1M482 324v1M482 352v3M484 271v1M484 274v6M484 327v3M484 331v2M488 246v1M488 248v1M490 246v1M492 324v1M494 324v1M496 321v2M500 244v1M500 323v1M502 397v2M504 324v1M506 246v1M506 323v1M508 245v1M508 323v1M510 325v1M512 246v1M514 243v1M514 398v5M516 245v1M518 242v1M518 330v1M520 243v1M520 245v1M520 316v1M522 244v1M522 317v1M524 243v1M524 397v2M524 400v3M526 400v3M528 317v1M528 388v3M528 396v3M528 400v5M530 245v1M530 370v1M530 373v2M530 376v6M530 388v3M530 394v2M532 246v1M532 317v1M534 274v8M534 283v4M534 298v3M534 303v2M534 307v3M534 314v1M534 371v1M536 243v1M536 267v2M536 273v1M536 371v1M538 239v1M538 273v1M538 309v1M538 313v1M538 367v2M540 269v2M540 273v1M542 322v2M542 331v3M542 337v9M542 358v3M542 367v2M542 370v1M544 239v1M544 241v1M544 261v2M544 280v3M544 309v3M546 237v1M546 334v1M548 340v1M548 343v2M550 237v1M550 338v1M550 342v1M552 236v1M552 342v2M556 237v1M556 338v2M558 239v1M558 340v1M560 239v1M560 346v2M562 245v1M564 342v1M566 249v1M566 340v1M568 249v2M568 340v1M568 344v2M570 254v1M570 256v6M570 275v2M570 339v1M572 255v1M572 262v6M572 274v2M572 338v1M572 341v1M574 253v2M574 344v1M576 253v1M576 342v2M578 251v1M578 342v1M578 344v1M580 252v1M580 344v1M584 250v1M584 343v1M588 246v1M588 248v1M588 342v1M588 344v2M590 249v2M590 340v2M590 343v1M592 248v1M592 343v1M594 252v1M594 256v3M594 271v3M594 277v3M594 283v3M594 289v1M594 313v3M594 328v6M596 251v1M596 339v1M598 249v1M598 342v2M600 252v2M600 311v1M600 316v3M600 325v3M602 248v2M602 251v1M602 358v1M602 361v3M604 252v1M604 308v1M604 357v1M604 361v1M606 252v1M606 307v1M606 356v1M606 366v1M608 353v1M608 376v3M608 394v6"/>
<path stroke="#00ff68" d="M114 286v3M114 298v3M114 304v2M116 286v3M116 290v2M116 306v3M118 261v1M118 265v6M118 274v3M118 308v2M118 312v1M120 277v1M120 292v1M120 307v1M122 283v3M122 289v3M122 306v3M124 277v2M124 286v3M124 301v3M124 306v3M126 277v2M126 280v6M126 298v3M126 307v2M126 313v2M128 187v1M128 256v3M130 190v2M130 196v3M130 205v3M130 248v2M130 256v3M130 262v6M130 280v3M130 286v3M130 295v3M130 313v2M132 188v3M132 208v1M132 277v3M134 187v2M134 316v3M134 321v3M136 159v4M136 166v4M136 326v1M136 358v3M136 388v3M138 152v4M138 325v1M138 386v2M138 394v3M140 150v1M140 152v1M140 323v1M140 391v1M140 400v3M142 316v3M144 130v3M144 136v3M144 142v3M146 67v1M146 85v3M146 91v3M146 112v1M148 100v3M148 106v3M148 311v2M148 324v1M148 369v1M148 372v1M150 71v2M150 85v3M150 97v5M150 113v5M150 122v2M150 139v6M150 154v3M150 313v3M150 370v2M150 379v3M152 166v4M152 316v6M152 343v3M152 370v1M152 374v2M152 382v6M152 395v2M154 68v1M154 166v2M154 308v1M154 310v1M154 355v3M156 52v5M156 187v3M156 244v3M156 250v3M156 286v3M156 403v2M158 57v1M158 61v2M160 55v1M162 55v1M164 52v3M164 57v2M166 56v1M168 56v1M184 397v1M186 346v3M186 370v3M186 381v1M188 358v1M190 355v2M192 357v1M192 361v6M192 376v1M194 343v3M194 358v1M194 364v3M196 349v3M196 358v3M196 400v3M198 349v3M218 235v3M218 258v1M218 355v1M218 358v2M218 364v3M218 370v2M220 259v1M220 263v2M220 275v2M220 353v1M220 357v1M222 231v1M222 238v3M222 244v3M222 250v7M222 279v1M222 283v3M222 292v3M222 307v3M222 313v6M222 329v2M222 340v6M222 352v2M222 355v2M224 228v1M224 253v6M224 307v3M226 229v1M226 262v9M226 274v3M226 304v3M228 221v2M230 199v5M232 197v1M234 198v1M236 206v2M236 220v3M236 225v1M238 178v3M238 184v2M238 208v3M238 214v9M240 228v3M242 226v6M244 220v3M244 234v1M244 276v3M244 289v1M246 241v6M246 256v3M246 265v2M246 268v1M246 313v3M248 316v3M248 322v2M250 224v2M250 241v6M250 250v3M250 316v3M250 324v1M254 305v1M254 307v1M256 291v1M258 280v2M260 251v4M260 262v3M262 249v1M262 251v1M262 346v3M264 271v2M264 346v6M264 355v3M264 361v2M266 279v1M266 282v1M266 400v3M268 288v3M268 293v1M268 337v3M270 285v1M270 343v2M270 346v2M272 283v1M272 346v2M272 349v1M274 285v1M276 285v1M276 344v3M278 283v1M278 346v1M278 349v1M280 284v1M280 348v1M282 343v2M282 347v1M284 282v1M284 336v1M284 347v1M284 349v1M286 282v1M286 347v1M288 281v1M288 336v1M290 278v2M290 352v2M290 355v2M292 280v1M292 356v1M294 281v1M294 328v6M294 343v3M294 354v1M294 357v1M296 353v1M296 355v1M298 356v2M300 278v1M302 278v1M302 352v1M304 279v1M304 325v6M304 355v1M306 354v3M308 277v1M308 334v3M310 354v1M310 357v1M312 278v1M312 313v3M312 354v1M314 343v3M314 356v1M316 279v1M316 322v3M318 356v1M318 358v1M320 277v1M320 319v3M322 275v1M322 346v3M322 355v1M322 359v1M324 275v1M326 275v1M326 311v2M326 346v3M328 276v1M328 312v1M328 353v3M330 274v1M330 354v1M330 357v1M332 277v1M332 352v3M334 327v1M334 358v3M336 278v1M336 328v3M336 347v1M338 282v2M338 331v6M338 345v1M340 340v3M340 347v3M342 275v1M342 364v3M344 348v1M346 341v1M346 345v1M346 347v1M348 267v2M348 322v3M348 329v2M350 317v1M350 337v1M350 342v1M350 346v1M352 348v1M354 262v2M354 316v1M354 322v6M354 352v3M354 362v3M354 367v1M356 265v1M356 316v1M356 322v3M356 337v2M356 340v3M356 355v3M356 361v1M356 367v1M358 316v1M358 319v3M358 350v1M358 364v2M362 268v1M362 348v1M364 346v2M364 350v1M366 313v2M366 317v1M366 320v2M366 351v1M366 355v3M366 362v3M368 275v2M368 292v2M368 355v3M370 277v1M372 276v1M372 291v1M374 274v1M374 293v1M376 292v1M378 298v3M378 310v3M378 331v3M380 283v3M382 273v2M382 292v2M382 295v1M382 337v3M384 273v1M384 291v2M384 352v3M386 291v2M388 294v1M388 310v3M388 340v3M388 382v3M390 269v1M390 291v3M392 271v3M392 280v6M394 293v1M394 295v3M394 346v3M408 342v1M408 355v3M408 364v3M408 370v1M410 341v2M410 355v6M410 370v1M410 382v3M412 339v2M412 352v6M412 371v1M414 337v1M414 370v1M416 372v1M418 340v1M418 369v1M420 336v1M420 338v1M420 368v2M420 372v1M422 339v1M422 364v1M424 342v2M424 361v1M426 220v3M440 220v2M444 225v1M446 220v1M446 227v1M448 218v1M448 231v1M450 220v1M450 328v3M452 216v3M452 222v1M452 226v1M452 294v1M452 298v3M452 316v6M452 329v3M454 293v1M454 330v1M454 332v1M454 334v1M456 333v2M458 294v1M460 296v2M460 304v1M460 335v1M462 292v1M464 290v2M464 333v1M466 282v2M466 333v1M468 329v2M470 325v1M472 325v1M476 346v3M476 356v3M476 361v3M476 367v9M478 291v1M478 379v1M480 253v3M480 264v4M480 326v4M480 360v1M480 377v2M482 256v3M482 264v1M482 267v1M482 285v1M482 322v2M482 327v1M484 326v1M486 246v1M486 271v3M486 326v1M488 249v1M488 271v3M488 325v1M490 247v1M492 246v2M494 246v1M496 246v1M496 320v1M498 245v1M498 323v1M500 322v1M502 245v1M502 324v1M502 399v1M502 403v2M504 245v1M504 323v1M504 400v3M506 322v1M508 322v1M510 246v1M514 403v2M516 246v1M516 329v1M518 329v1M518 400v3M520 246v1M520 315v1M522 245v1M522 316v1M524 318v1M524 399v1M526 244v1M526 318v1M528 244v1M528 316v1M528 399v1M530 246v2M530 371v2M530 375v1M530 391v3M530 396v4M530 403v2M532 316v1M532 370v2M532 373v1M534 268v3M534 305v2M534 313v1M534 372v1M536 265v2M536 271v2M536 372v3M536 394v3M538 240v1M538 270v1M538 272v1M538 369v2M540 268v1M540 271v2M540 370v2M540 385v3M540 391v3M540 397v3M540 403v2M542 237v1M542 320v2M542 369v1M542 371v4M542 376v3M544 240v1M544 242v3M544 260v1M544 274v6M544 286v3M544 305v2M544 308v1M544 313v6M546 325v6M548 237v1M548 338v2M550 316v3M550 337v1M550 341v1M552 237v1M552 341v1M554 236v1M554 342v1M556 238v1M556 337v1M558 338v2M562 339v1M564 246v1M564 340v2M566 250v1M566 256v3M566 280v3M568 251v2M568 343v1M570 255v1M570 277v1M570 283v3M570 289v2M570 335v2M570 338v1M572 140v3M572 268v6M572 276v1M572 337v1M572 340v1M574 255v1M574 259v3M574 265v3M574 343v1M576 254v1M576 256v6M576 265v3M576 271v2M576 340v2M578 252v1M578 341v1M578 343v1M580 342v2M582 249v1M582 342v1M582 344v2M584 251v1M584 338v2M586 247v1M586 339v1M586 342v1M588 249v1M588 340v2M588 343v1M590 251v1M590 339v1M592 249v1M592 347v2M594 259v6M594 268v3M594 274v3M594 286v3M594 290v2M596 252v2M596 338v1M598 250v1M598 341v1M600 254v3M600 309v2M600 319v3M600 331v3M602 252v2M602 309v1M602 359v2M604 272v2M604 307v1M604 358v1M606 253v1M606 286v2M606 357v1M606 365v1M608 354v1M608 379v6M608 388v6M608 400v3"/>
<path stroke="#02ff53" d="M114 292v3M114 301v3M116 277v3M116 292v2M116 304v2M118 271v3M118 307v1M118 310v2M120 278v2M120 289v2M120 293v2M120 298v3M120 306v1M122 277v1M122 286v3M122 305v1M124 279v4M124 298v3M124 305v1M126 279v1M126 292v3M126 306v1M128 188v2M128 193v6M128 265v3M128 309v1M128 312v1M130 192v4M130 199v6M130 208v2M130 246v2M130 268v6M130 289v6M130 304v3M132 191v2M132 196v6M132 209v3M132 223v3M132 253v3M132 268v6M132 310v2M134 178v6M134 189v1M134 314v2M134 319v2M136 170v1M136 323v3M136 346v3M138 156v2M138 313v3M140 153v1M140 316v3M140 321v2M140 392v2M140 397v3M140 403v2M142 57v1M142 109v3M142 147v2M144 60v1M144 145v1M144 370v2M144 373v3M146 66v1M146 103v3M146 109v3M146 113v4M146 312v1M148 74v8M148 88v3M148 94v6M148 103v3M148 112v1M148 310v1M148 313v6M148 322v2M148 376v3M150 70v1M150 88v3M150 124v6M150 148v3M150 166v2M150 169v1M150 372v1M150 376v3M150 382v9M150 397v2M152 68v1M152 170v1M152 325v3M152 371v2M152 379v3M152 397v1M154 168v1M154 307v1M154 361v3M154 367v3M154 397v3M156 208v3M158 52v5M158 60v1M160 52v3M164 56v1M166 55v1M168 52v4M184 398v1M188 359v2M188 364v3M188 376v3M190 357v1M190 361v3M192 367v3M192 377v2M194 359v2M194 397v3M196 382v3M218 275v2M218 331v3M218 356v2M218 360v4M218 372v1M218 388v3M218 400v3M220 260v2M220 268v3M220 274v1M220 354v1M220 361v3M222 257v1M222 275v4M222 286v6M222 298v3M222 319v3M222 337v3M222 346v3M222 354v1M222 357v1M224 229v2M224 232v3M224 241v3M224 247v3M224 259v1M224 280v1M224 295v9M224 319v3M224 325v3M224 349v3M226 230v1M226 232v9M226 247v3M226 253v6M226 271v3M226 296v2M226 310v3M230 204v1M230 208v3M230 214v2M232 198v7M232 217v1M234 199v2M236 226v2M238 175v3M238 223v2M238 226v1M240 231v1M242 232v2M242 310v3M244 235v1M244 275v1M244 290v2M246 238v2M246 247v9M246 260v5M246 310v1M248 313v3M248 324v1M250 232v3M250 325v2M252 316v3M254 306v1M254 308v2M256 292v1M258 282v7M260 255v4M260 265v6M262 252v1M262 343v3M264 262v3M264 273v2M264 363v1M266 283v1M266 340v3M266 344v2M266 347v2M268 291v1M268 294v7M268 330v1M268 336v1M270 337v6M272 344v2M274 347v2M276 343v1M280 340v3M280 347v1M282 283v1M282 346v1M284 334v2M284 346v1M286 340v3M286 345v2M288 334v2M288 347v2M290 280v1M290 351v1M292 355v1M294 334v3M294 352v2M294 356v1M296 282v1M296 349v4M298 281v1M298 318v1M298 322v3M298 355v1M300 279v1M300 357v1M302 279v1M302 340v3M302 349v3M304 337v3M304 349v3M304 354v1M306 279v1M306 331v6M306 353v1M308 278v1M308 322v3M310 278v1M310 337v3M310 352v2M310 356v1M312 279v1M312 353v1M312 357v1M314 278v1M314 322v3M314 337v3M314 355v1M316 313v6M316 353v2M318 355v1M320 316v3M320 325v3M320 354v1M322 334v3M322 358v1M324 357v1M326 310v1M326 337v3M326 354v1M328 310v2M328 328v3M328 340v3M328 346v3M328 352v1M330 337v3M330 352v2M330 355v2M332 340v3M332 347v2M334 326v1M334 347v2M334 364v3M336 279v1M336 345v2M338 284v2M338 343v2M340 278v1M340 337v3M340 346v1M342 324v1M342 327v1M342 333v4M344 273v1M344 345v3M346 268v1M346 342v3M346 346v1M348 269v1M348 318v4M348 325v4M348 332v2M350 267v1M350 316v1M350 328v3M350 338v1M352 266v1M352 315v1M352 340v2M352 347v1M354 264v1M354 315v1M354 334v2M354 348v1M354 351v1M354 358v4M356 266v1M356 339v1M356 343v3M356 349v2M358 266v1M358 314v2M358 351v1M358 363v1M360 265v1M360 311v2M360 315v1M360 352v3M360 363v1M362 269v1M362 315v1M362 349v1M362 362v2M364 268v1M364 315v1M364 348v1M364 351v1M366 268v2M366 316v1M366 319v1M366 358v4M368 277v1M368 307v3M370 278v1M372 277v1M372 290v1M374 275v2M374 292v1M376 291v1M378 294v4M378 358v3M380 277v1M380 280v3M382 275v1M384 290v1M386 271v1M386 277v2M386 290v1M388 268v1M388 291v1M388 293v1M390 270v1M390 277v3M390 290v1M392 286v3M394 268v1M394 292v1M394 355v3M394 364v3M410 352v3M412 341v1M412 343v1M412 361v6M412 370v1M414 338v3M414 368v2M416 340v1M416 352v6M416 370v2M418 341v1M418 343v1M418 346v3M418 367v2M420 339v1M420 367v1M420 371v1M422 340v1M422 343v1M422 346v3M422 363v1M424 344v2M424 352v3M426 346v3M426 352v3M440 222v1M440 225v1M442 225v1M444 223v2M446 221v1M446 225v2M448 219v1M448 228v1M448 230v1M450 221v2M450 224v2M452 219v1M452 301v9M452 328v1M454 294v1M454 329v1M454 331v1M456 294v2M456 332v1M458 295v3M458 336v1M460 301v3M460 305v1M460 334v1M462 293v1M462 336v1M464 292v1M464 332v1M466 284v2M466 332v1M468 286v2M468 328v1M470 289v1M472 291v1M472 323v2M476 292v1M476 321v4M476 355v1M478 377v2M480 262v2M480 290v1M480 325v1M480 330v1M480 340v3M480 358v2M480 361v6M480 370v3M480 376v1M482 259v5M482 265v2M482 289v1M482 321v1M482 325v2M484 247v1M484 280v2M484 283v1M484 325v1M486 247v1M486 274v2M486 277v3M486 325v1M488 264v1M490 248v1M490 268v3M490 324v1M492 248v1M492 323v1M494 323v1M496 319v1M498 322v1M500 245v1M502 323v1M506 247v1M508 246v1M508 321v1M512 274v12M512 330v1M516 247v6M516 328v1M518 243v1M518 327v2M518 403v2M520 262v3M520 277v3M520 314v1M522 246v1M522 289v3M522 295v3M522 312v1M524 244v1M524 315v1M524 317v1M526 245v1M526 247v1M526 265v3M526 317v1M528 245v1M528 314v2M530 248v2M530 277v3M530 312v1M530 314v2M530 382v6M530 400v3M532 289v3M532 304v3M532 315v1M532 372v1M532 374v1M532 379v3M532 397v6M534 244v1M534 310v3M536 244v1M536 375v1M536 379v6M536 388v3M536 397v3M538 269v1M538 271v1M538 371v1M540 372v1M540 379v3M540 388v3M542 238v1M542 283v3M542 318v2M542 364v3M542 375v1M542 382v3M542 388v3M542 394v6M544 245v2M544 257v3M544 289v1M544 292v1M544 304v1M544 307v1M546 313v3M548 337v1M550 274v3M550 340v1M552 340v1M554 237v2M554 341v1M556 239v1M556 286v3M558 240v3M558 337v1M560 240v2M560 344v2M562 246v1M562 337v2M564 247v1M564 250v2M564 339v1M566 251v2M566 339v1M568 338v2M570 278v5M570 291v1M570 333v2M570 337v1M572 256v3M574 140v3M574 256v3M574 262v3M574 271v2M576 255v1M576 262v3M576 268v3M576 273v1M576 322v3M578 253v1M578 256v6M578 271v2M578 340v1M580 341v1M582 250v1M582 341v1M582 343v1M584 252v1M584 337v1M586 248v1M586 250v1M586 338v1M586 341v1M586 344v2M590 252v2M590 268v3M590 328v3M590 338v1M592 342v1M592 346v1M594 308v2M594 311v2M594 319v3M596 254v1M596 274v3M596 331v3M596 337v1M598 251v1M598 340v1M600 257v5M600 270v4M600 277v3M600 289v1M600 308v1M602 254v2M602 308v1M604 253v2M604 271v1M604 283v3M604 359v2M606 254v1M606 274v3M606 280v3M606 288v2M606 363v2M608 367v3M608 385v3M608 403v2"/>
<path stroke="#04ff3f" d="M116 294v4M116 301v3M118 289v1M120 291v1M120 304v2M122 278v2M122 292v1M122 301v4M124 304v1M126 295v3M126 301v5M128 190v1M128 199v6M128 208v3M128 243v1M128 253v3M128 274v2M128 307v2M128 310v2M128 315v1M130 210v3M130 244v2M130 253v3M130 259v3M130 274v6M130 283v3M132 202v3M132 212v2M132 250v3M132 256v3M132 267v1M132 274v2M132 298v3M132 307v3M134 175v3M134 184v3M134 271v4M134 313v1M136 171v1M136 313v3M136 322v1M138 158v5M138 166v2M138 324v1M140 175v3M140 208v3M140 311v2M140 319v2M142 55v2M142 100v3M142 112v3M142 149v1M142 313v3M144 59v1M144 146v1M144 313v6M144 321v1M144 372v1M144 385v2M144 388v1M144 397v1M146 63v3M146 117v1M146 127v3M146 311v1M146 316v2M148 72v2M148 82v3M148 91v3M148 113v2M148 154v6M148 162v1M148 166v3M148 321v1M148 373v1M148 379v1M150 130v9M150 168v1M150 170v1M150 311v2M150 391v2M150 399v1M152 67v1M152 171v1M152 311v2M152 391v3M152 398v2M154 67v1M154 388v3M158 58v2M164 55v1M166 52v3M184 399v1M186 394v1M188 367v3M188 379v12M190 358v2M190 370v3M194 373v3M194 382v2M194 394v1M218 262v1M218 273v2M218 373v1M220 265v3M222 258v3M222 265v3M222 274v1M222 331v6M224 231v1M224 238v3M224 260v5M224 275v2M224 278v2M224 281v3M224 294v1M224 304v3M224 313v3M224 322v3M224 331v1M226 231v1M226 241v6M226 259v3M226 280v1M226 295v1M226 301v3M226 316v3M226 325v3M228 223v2M228 226v2M230 211v3M230 216v1M232 211v6M232 218v2M234 201v1M234 214v2M236 228v1M238 225v1M238 227v1M240 232v2M240 238v1M242 234v2M244 236v1M244 238v1M244 274v1M244 292v1M244 304v3M244 313v3M246 240v1M246 259v1M246 311v2M248 340v3M250 327v1M252 319v3M256 293v2M258 289v2M258 295v3M260 271v4M262 253v1M262 349v3M264 275v3M264 338v2M264 342v4M264 352v3M264 364v3M264 379v3M264 394v1M266 284v2M266 337v3M266 343v1M266 346v1M268 329v1M268 334v2M270 286v1M270 336v1M272 284v1M272 286v1M272 337v3M272 343v1M274 346v1M276 340v3M278 284v1M278 345v1M280 285v1M280 332v2M280 346v1M282 335v2M284 283v1M286 333v1M286 343v2M288 282v1M288 329v2M288 340v3M288 345v2M290 349v2M292 281v1M292 327v1M292 334v3M294 282v1M294 327v1M294 337v3M294 346v3M294 355v1M296 283v1M296 340v3M298 317v1M298 331v3M298 340v3M300 280v1M300 322v6M300 356v1M302 319v6M302 328v3M302 337v3M302 346v3M304 343v3M304 353v1M306 319v3M306 337v3M306 343v6M306 352v1M310 279v1M310 312v1M310 349v3M310 355v1M312 311v2M312 319v6M312 343v3M312 352v1M312 355v2M314 279v1M314 346v3M314 354v1M316 308v2M316 311v2M316 328v15M316 349v4M318 277v1M318 313v3M318 328v3M320 278v1M320 311v2M320 328v3M320 337v3M320 343v3M320 353v1M322 276v1M322 313v9M322 354v1M324 322v3M324 328v3M324 356v1M326 276v1M326 353v1M328 277v1M328 316v3M328 331v3M328 343v3M330 275v1M330 322v3M332 278v1M332 343v4M334 277v1M334 325v1M334 345v2M336 327v1M336 334v3M336 340v5M338 326v2M338 340v3M340 279v1M340 327v1M340 331v6M342 276v1M342 322v2M342 325v2M342 329v4M342 347v2M344 333v1M344 343v2M346 269v1M346 271v1M346 322v6M348 270v1M348 317v1M348 331v1M348 340v1M350 312v1M350 339v1M352 267v2M352 314v1M352 342v1M352 346v1M354 265v1M354 314v1M354 336v1M354 343v5M354 349v2M356 315v1M356 351v4M358 267v2M358 311v3M358 346v1M358 358v5M360 266v1M360 310v1M360 313v2M360 361v2M362 270v1M362 314v1M362 350v2M362 361v1M364 269v1M364 295v3M364 307v6M364 314v1M366 270v2M366 296v2M366 307v3M366 352v3M368 278v2M370 279v1M370 286v3M372 278v1M372 280v6M372 288v2M374 277v1M374 286v3M374 291v1M376 277v1M376 288v1M376 290v1M378 274v2M378 293v1M380 278v2M380 286v3M382 276v1M384 274v2M384 288v2M386 272v5M386 279v1M386 289v1M388 269v1M388 290v1M388 292v1M390 274v3M390 289v1M392 277v3M394 269v1M394 290v2M410 346v3M412 342v1M412 344v8M412 369v1M414 341v1M414 343v1M414 367v1M416 341v2M416 346v3M416 364v3M418 342v1M418 344v2M418 349v3M418 355v3M418 361v3M420 340v1M420 366v1M420 370v1M422 341v1M422 344v2M422 362v1M440 224v1M442 223v2M446 222v3M448 220v1M448 226v2M448 229v1M450 223v1M452 225v1M452 295v1M452 310v6M454 316v3M454 328v1M456 296v2M456 301v3M458 301v3M458 335v1M460 306v1M462 294v1M462 298v3M462 304v1M462 333v1M462 335v1M464 293v1M466 327v1M466 330v2M468 288v1M470 290v1M470 292v1M470 318v1M470 323v2M472 321v2M474 292v1M474 318v1M474 320v2M476 319v2M476 325v6M476 340v6M478 292v1M478 319v3M478 376v1M480 291v1M482 290v1M482 319v2M484 248v3M484 282v1M484 284v1M486 248v1M486 250v1M486 270v1M486 276v1M486 280v2M486 324v1M488 262v2M488 265v3M490 249v1M490 265v3M490 271v2M492 249v1M494 247v1M494 322v1M496 247v1M498 246v2M498 318v1M500 246v1M502 246v1M502 322v1M504 246v1M504 322v1M506 248v2M506 321v1M508 250v3M510 247v1M510 256v3M510 262v9M510 274v12M510 321v1M510 324v1M512 247v1M512 250v3M512 259v3M512 268v3M512 286v3M512 329v1M514 244v1M514 333v1M516 253v3M516 259v9M516 271v3M516 277v3M518 244v1M518 325v2M520 247v1M520 265v3M520 289v3M520 298v9M520 310v4M522 247v1M522 292v3M522 310v2M522 315v1M524 245v1M524 314v1M524 316v1M526 246v1M526 248v2M526 286v3M526 298v3M526 304v9M526 315v2M528 246v1M528 304v6M528 313v1M530 264v1M530 268v3M530 280v3M530 286v6M530 310v2M530 313v1M532 268v3M532 286v3M532 301v3M532 310v3M532 314v1M532 375v4M532 385v6M532 394v3M534 245v1M534 265v3M534 273v1M534 373v1M534 379v3M534 391v3M534 397v8M536 245v1M536 376v3M536 385v3M536 403v2M538 241v1M538 268v1M538 372v1M540 241v1M540 267v1M540 400v3M542 280v3M542 286v5M542 292v1M542 313v5M542 379v3M542 385v3M542 403v2M544 247v3M544 256v1M544 290v2M544 293v1M544 295v6M546 238v1M546 241v1M546 311v2M548 277v3M550 238v1M550 268v3M550 277v3M552 339v1M554 239v1M554 283v3M554 339v2M556 263v5M556 280v3M558 243v1M560 342v2M562 247v3M562 256v3M562 274v3M564 248v2M564 252v1M564 280v3M564 338v1M566 253v1M566 259v3M566 268v3M566 274v6M566 286v2M566 338v1M568 253v1M568 277v3M568 336v2M570 286v3M570 331v2M572 277v2M572 331v3M574 268v3M574 273v2M574 341v2M578 254v1M578 265v6M578 273v3M578 280v3M578 286v2M578 339v1M580 253v1M580 340v1M582 251v1M582 340v1M584 253v1M586 249v1M586 251v1M586 337v1M586 340v1M586 343v1M588 250v1M588 339v1M590 254v2M590 271v3M590 277v3M590 283v6M590 316v12M590 337v1M592 250v1M592 340v2M594 292v2M594 307v1M594 310v1M594 322v6M596 255v4M596 271v3M596 277v6M596 289v1M596 312v4M596 328v3M598 252v1M598 265v3M598 331v3M598 338v2M600 267v3M600 280v9M600 290v2M600 307v1M602 271v3M602 286v2M604 255v1M604 277v6M604 286v3M606 255v2M606 270v1M606 272v2M606 277v3M606 290v2M606 362v1M608 247v1M608 373v3"/>
<path stroke="#06ff2a" d="M118 290v1M122 293v2M122 298v3M124 283v3M124 289v3M128 191v2M128 205v3M128 241v2M128 247v3M128 262v3M128 271v2M128 276v1M128 313v2M130 213v1M130 243v1M130 250v3M130 298v6M132 205v3M132 214v3M132 232v3M132 243v1M132 247v3M132 259v3M132 265v2M132 276v1M132 280v3M132 286v3M132 292v6M132 301v6M134 190v1M134 199v3M134 205v6M134 214v3M134 223v3M134 275v2M134 308v2M136 172v1M136 321v1M138 163v3M138 168v3M138 311v2M138 321v3M140 154v3M140 163v3M140 190v3M140 199v3M140 217v3M140 310v1M140 313v3M142 80v5M142 91v3M142 97v3M142 150v1M142 312v1M142 321v1M144 58v1M144 147v1M144 312v1M144 319v2M144 324v1M144 387v1M144 389v1M144 394v3M144 398v2M146 62v1M146 118v4M146 310v1M148 70v2M148 85v3M148 109v3M148 115v3M148 121v1M148 139v3M148 148v3M148 160v2M148 169v2M148 319v2M148 374v2M150 66v1M150 68v2M150 171v1M150 310v1M150 393v3M152 309v2M152 403v2M154 66v1M154 169v1M154 328v3M186 382v3M186 388v4M186 395v2M188 391v1M190 360v1M190 367v3M190 376v2M192 358v2M192 370v3M192 379v2M194 379v2M194 384v1M194 391v3M194 395v2M218 263v5M218 271v2M218 367v2M218 374v2M218 397v3M218 403v2M220 272v2M220 367v3M222 261v3M222 268v3M224 235v3M224 250v3M224 271v4M224 277v1M224 284v2M224 292v2M224 316v3M224 328v2M224 332v4M224 358v3M226 250v3M226 281v2M226 293v2M226 298v3M226 307v3M226 313v3M226 319v3M226 331v1M228 225v1M228 228v1M228 328v1M230 205v3M230 217v1M232 205v3M234 202v12M234 216v1M238 228v3M240 234v2M240 239v2M240 244v3M240 262v2M242 236v2M242 262v3M242 280v6M242 289v1M244 237v1M244 239v2M244 247v9M244 265v3M244 293v1M244 295v3M244 310v3M244 319v2M244 322v1M246 316v3M246 322v2M248 325v1M248 328v2M250 328v1M252 322v2M252 325v2M252 331v2M254 319v2M258 291v1M260 259v3M260 275v4M260 331v3M262 254v1M262 352v3M262 361v1M264 278v2M264 337v1M264 340v2M264 367v12M264 395v2M264 403v2M266 329v2M268 301v6M268 328v1M268 332v2M268 345v1M270 287v1M270 334v2M272 333v1M274 286v1M274 335v5M274 345v1M276 286v1M276 336v4M278 336v1M278 343v2M280 331v1M280 345v1M282 284v1M282 334v1M284 345v1M286 332v1M286 337v3M288 328v1M288 343v2M290 281v1M290 334v9M292 283v1M292 325v2M292 331v3M292 337v3M292 343v3M292 354v1M294 283v1M294 325v2M296 328v3M296 337v3M296 343v6M298 282v2M298 316v1M298 325v6M298 354v1M300 318v1M300 337v3M300 354v2M302 280v1M302 325v3M304 280v1M304 318v1M304 331v3M304 340v3M304 346v3M304 352v1M306 280v1M306 325v3M308 279v1M308 319v3M308 328v3M308 346v6M308 356v2M310 280v1M310 310v2M310 313v3M310 322v3M310 340v6M312 280v1M312 310v1M312 325v6M312 349v3M314 280v1M314 316v6M314 325v6M314 349v3M314 353v1M316 307v1M316 310v1M316 325v3M316 343v3M318 322v6M318 331v3M318 337v6M318 346v3M320 309v2M320 313v3M320 340v3M320 349v4M322 352v2M324 276v2M324 343v9M324 355v1M326 325v3M326 334v3M326 340v3M326 349v4M328 309v1M328 313v3M328 319v9M328 349v3M330 328v3M330 343v3M332 279v1M332 337v3M334 278v1M334 331v3M334 343v2M336 280v1M336 325v2M336 337v3M338 286v1M338 313v3M338 325v1M340 326v1M340 328v3M340 345v1M342 328v1M342 337v3M342 345v2M344 274v1M344 325v3M344 331v2M346 270v1M346 272v1M346 319v3M346 330v1M348 316v1M348 341v1M350 268v1M350 310v2M352 312v2M354 312v2M354 340v2M354 355v3M356 267v1M356 314v1M358 269v1M358 308v3M358 347v1M358 355v3M360 267v2M360 349v2M360 358v3M362 271v1M362 298v3M362 312v2M362 360v1M364 270v3M364 294v1M364 301v3M364 313v1M364 352v3M364 358v3M366 272v3M366 295v1M366 298v6M368 283v3M368 290v2M372 279v1M372 286v2M374 278v1M374 283v3M374 289v2M376 278v1M376 280v3M376 286v2M376 289v1M378 276v1M378 290v3M382 277v2M382 291v1M384 276v2M384 283v5M386 280v3M386 286v3M388 283v3M388 289v1M390 280v3M392 274v3M394 283v3M394 289v1M410 343v3M410 364v3M412 358v3M412 367v2M414 342v1M414 344v2M414 355v3M414 364v3M416 349v3M418 352v3M420 341v5M420 358v3M420 364v2M422 342v1M422 361v1M424 346v3M426 343v3M426 349v3M426 355v6M440 223v1M448 221v1M452 223v2M452 296v2M454 301v3M454 310v3M456 298v3M456 307v3M456 331v1M458 298v3M458 304v1M458 334v1M462 305v2M462 334v1M464 294v1M464 307v2M464 330v2M466 286v2M466 326v1M466 328v2M468 289v1M468 326v2M470 291v1M470 316v2M470 322v1M472 292v1M472 318v1M472 320v1M474 293v1M474 310v3M474 315v1M474 317v1M474 319v1M476 293v1M476 334v1M476 337v3M476 349v3M476 353v2M478 325v3M478 364v3M478 370v3M480 320v2M480 324v1M480 354v4M480 367v3M482 317v2M484 251v1M484 269v2M484 285v2M484 324v1M486 249v1M486 251v2M486 267v1M486 269v1M486 282v1M486 323v1M488 250v1M488 253v1M488 269v2M488 324v1M490 250v1M490 253v1M490 263v2M490 273v1M490 323v1M492 260v2M492 263v2M492 268v4M492 322v1M494 250v1M494 265v2M496 248v2M496 262v3M498 248v1M498 316v2M500 247v1M500 321v1M502 321v1M504 321v1M506 256v3M506 262v3M506 318v1M506 320v1M508 247v1M508 256v3M508 262v6M508 271v3M508 280v3M508 318v1M508 320v1M510 248v5M510 259v3M510 286v3M510 320v1M510 323v1M512 248v2M512 253v6M512 262v6M512 271v3M514 245v1M516 256v3M516 280v3M516 286v2M516 323v2M518 245v1M518 318v1M518 320v2M520 248v5M520 256v6M520 268v9M520 280v3M520 286v3M520 292v6M520 307v3M522 248v3M522 253v3M522 304v6M522 314v1M524 246v1M524 263v2M524 310v4M526 277v3M526 283v3M526 289v9M526 301v3M526 313v2M528 247v1M528 264v1M528 274v3M528 283v3M528 295v3M528 301v3M528 310v3M530 262v2M530 265v3M530 283v3M530 292v9M530 304v3M532 247v1M532 263v5M532 271v6M532 283v3M532 292v9M532 307v3M532 313v1M532 382v3M532 391v3M534 246v1M534 260v2M534 263v2M534 271v2M534 374v2M534 382v9M534 394v3M536 261v1M536 263v2M538 267v1M540 242v1M540 263v4M540 376v3M540 382v3M542 239v1M542 274v6M542 291v1M542 293v2M542 310v3M544 253v3M544 294v1M546 239v1M546 242v2M546 261v1M546 264v1M546 268v3M546 277v6M546 310v1M546 316v6M546 323v2M548 238v1M548 265v3M548 280v3M550 239v1M550 241v2M550 261v1M550 263v5M550 271v3M550 280v8M550 336v1M552 238v1M552 271v3M552 338v1M554 240v1M554 337v2M556 240v1M556 261v2M556 268v3M556 277v3M556 283v3M556 289v1M558 268v3M560 242v1M560 339v1M560 341v1M562 250v3M562 271v3M562 286v2M562 336v1M564 253v2M564 256v3M564 265v3M564 271v9M564 283v3M564 337v1M566 254v2M566 262v6M566 271v3M566 288v1M566 336v2M568 254v1M568 262v15M568 280v3M568 286v3M568 335v1M570 329v2M572 279v1M572 283v6M572 320v2M572 325v3M572 334v3M574 275v2M574 340v1M576 140v3M576 274v2M576 319v3M576 339v1M578 255v1M578 262v3M578 276v1M578 288v1M578 325v3M578 331v3M578 338v1M580 254v1M580 338v2M582 252v1M584 254v1M584 262v3M584 280v6M584 319v3M584 325v3M584 331v6M586 252v1M588 251v1M588 265v6M588 338v1M590 256v12M590 274v3M590 280v3M590 289v1M590 311v2M590 331v6M592 251v1M594 294v1M594 306v1M596 259v6M596 268v3M596 283v3M596 290v1M596 310v2M596 319v9M596 334v3M598 253v2M598 256v6M598 277v3M598 286v3M598 319v3M598 328v3M598 336v2M600 265v2M600 274v3M600 306v1M602 256v1M602 274v12M602 288v1M602 307v1M604 256v1M604 274v3M604 306v1M606 257v1M606 269v1M606 271v1M606 283v3M606 358v1M606 361v1M608 248v1M608 250v1M608 309v1M608 355v1M608 358v1M608 366v1M608 370v3"/>
<path stroke="#08ff15" d="M116 298v3M118 291v3M118 306v1M120 295v3M122 295v3M124 292v6M128 211v2M128 245v2M128 250v3M128 259v3M128 268v3M128 273v1M128 283v3M128 301v3M130 242v1M130 307v3M132 226v3M132 241v2M132 262v3M132 283v3M132 289v3M134 191v5M134 202v3M134 211v3M134 226v6M134 238v4M134 244v3M134 266v2M134 270v1M134 298v3M134 306v2M136 173v1M136 220v3M136 312v1M136 319v2M138 171v3M138 178v3M138 199v3M138 214v3M138 310v1M138 316v5M140 157v1M140 169v3M140 184v6M140 211v3M140 223v6M140 232v1M142 52v3M142 85v3M142 94v3M142 106v3M142 115v1M142 306v1M142 311v1M142 319v2M144 309v1M144 311v1M144 323v1M144 390v2M146 61v1M146 122v4M146 130v3M146 309v1M146 313v3M148 68v2M148 118v3M148 122v5M148 142v6M148 152v2M148 163v3M148 171v1M148 306v1M150 65v1M150 67v1M150 172v1M150 309v1M150 396v1M150 403v2M152 66v1M152 308v1M154 65v1M154 170v2M154 235v3M174 400v5M184 400v3M186 392v1M188 392v4M190 364v3M190 373v3M190 378v1M192 360v1M192 381v3M192 385v6M194 381v1M194 385v3M218 268v3M218 369v1M218 382v3M218 391v3M220 271v1M220 358v1M222 264v1M222 358v2M224 268v3M224 289v3M224 330v1M224 336v1M226 286v1M226 292v1M226 322v3M226 332v2M228 229v1M228 310v3M228 319v3M228 329v1M230 218v2M234 217v1M236 235v3M236 241v1M236 244v9M238 231v1M240 236v2M240 247v3M240 253v3M240 259v3M240 264v1M240 307v3M242 238v1M242 250v9M242 265v2M242 268v2M242 275v2M242 278v2M242 286v3M242 290v3M242 295v1M244 244v3M244 268v3M244 273v1M244 294v1M244 298v3M244 307v3M244 321v1M244 323v2M246 324v1M248 326v2M248 330v1M250 329v3M252 324v1M252 327v1M252 333v1M254 310v1M254 321v4M256 295v3M256 301v3M258 292v2M258 304v1M260 279v1M262 255v1M262 331v3M262 342v1M262 355v3M262 362v4M264 280v2M264 358v3M264 385v8M266 328v1M266 336v1M268 307v3M268 322v3M268 331v1M268 343v2M270 288v3M270 316v3M270 325v3M270 330v1M272 285v1M272 287v1M272 289v2M272 332v1M274 316v3M274 334v1M274 343v2M276 334v2M278 285v1M278 332v4M278 340v3M280 286v1M280 337v3M280 343v2M282 333v1M282 337v3M284 284v1M284 343v2M286 283v1M286 331v1M286 335v2M288 283v1M290 326v2M290 331v3M290 345v1M290 348v1M292 282v1M292 346v6M292 353v1M294 340v3M294 349v3M296 284v1M296 320v2M296 331v3M298 319v3M298 334v6M298 346v3M298 353v1M300 281v1M300 317v1M300 319v3M300 331v3M300 340v3M300 346v3M300 352v2M302 317v2M302 334v3M304 316v2M304 322v3M304 334v3M306 281v1M306 314v2M306 322v3M306 328v3M308 337v3M308 353v3M310 325v6M310 334v3M310 346v3M312 334v3M312 340v3M312 346v3M314 311v5M314 331v3M314 352v1M316 280v1M316 319v3M316 346v3M318 278v1M318 316v6M318 334v3M318 349v3M318 354v1M320 279v1M320 306v1M320 308v1M320 322v3M322 311v2M322 328v3M322 337v6M324 308v2M324 313v3M324 325v3M324 337v3M324 354v1M326 277v1M326 313v3M326 319v6M326 328v3M326 343v3M328 278v1M328 306v3M328 334v6M330 276v2M330 316v6M330 326v2M330 340v3M330 349v3M332 307v3M332 313v3M332 331v3M334 279v3M334 328v3M334 334v6M336 281v1M336 283v1M336 307v3M338 287v2M338 302v5M338 323v2M338 328v3M340 280v1M340 283v1M340 324v2M340 343v2M342 277v1M342 340v2M342 343v2M344 275v1M344 320v2M344 330v1M346 273v1M346 328v2M348 342v1M350 314v2M350 343v3M352 269v1M352 311v1M354 266v1M354 311v1M354 342v1M356 312v2M356 360v1M358 270v1M358 306v2M358 348v1M360 269v1M360 346v2M360 351v1M360 355v3M362 272v4M362 294v4M362 307v5M362 352v8M364 273v1M364 293v1M364 298v3M364 304v3M364 355v3M366 275v1M366 304v3M368 288v2M374 279v4M376 279v1M378 277v1M378 288v2M382 279v1M382 283v3M382 290v1M384 278v2M386 283v3M388 270v7M388 280v3M390 271v1M390 286v3M394 270v1M394 274v3M394 280v3M410 349v3M410 361v3M410 368v2M414 346v6M414 358v6M416 368v2M418 364v3M422 349v3M422 355v3M448 222v1M452 325v3M454 295v1M454 298v3M454 313v3M456 304v3M456 310v3M456 330v1M458 305v3M460 307v2M460 310v1M462 295v3M462 301v3M462 332v1M464 295v6M464 309v3M464 329v1M466 288v1M466 325v1M468 290v1M468 325v1M470 293v1M470 320v2M472 293v1M472 315v1M472 317v1M472 319v1M474 313v2M474 316v1M476 294v1M476 317v2M476 331v3M476 335v2M476 352v1M478 293v1M478 322v3M478 361v3M478 367v3M480 319v1M480 322v2M480 331v3M480 337v3M480 352v2M482 291v1M482 314v3M484 252v1M484 268v1M484 287v1M484 323v1M486 265v2M486 268v1M486 322v1M488 251v1M488 254v1M488 268v1M488 274v2M488 277v1M488 280v2M488 323v1M490 251v2M490 254v2M490 261v2M490 274v1M492 259v1M492 262v1M492 265v3M492 272v2M492 321v1M494 248v2M494 251v1M494 263v2M494 267v1M496 265v2M496 318v1M498 249v1M498 261v1M498 321v1M500 248v1M500 265v1M500 317v2M504 320v1M506 268v3M506 316v2M506 319v1M508 248v2M508 268v3M508 274v6M508 289v2M508 317v1M508 319v1M510 271v3M510 289v1M510 319v1M510 322v1M512 289v1M512 323v2M512 327v2M514 274v3M514 332v1M516 268v3M516 274v3M516 288v2M516 322v1M518 280v3M518 316v2M518 319v1M518 324v1M520 253v3M520 283v3M522 251v2M522 258v1M522 274v3M522 280v9M522 298v3M522 313v1M524 260v3M524 268v3M524 283v3M524 304v3M526 263v2M526 271v3M528 248v1M528 250v1M528 262v2M528 268v3M528 277v6M528 292v3M530 250v1M530 261v1M530 271v6M530 301v3M530 307v3M532 248v1M532 258v1M532 261v2M532 277v6M532 403v2M534 247v1M534 259v1M534 262v1M534 376v3M536 246v1M536 260v1M536 262v1M536 400v3M538 242v1M538 266v1M538 373v2M538 382v6M540 243v1M540 262v1M542 240v1M542 272v2M542 304v6M542 391v3M542 400v3M544 250v3M544 301v3M546 260v1M546 262v2M546 265v3M546 271v6M546 283v5M546 289v2M546 308v2M546 322v1M548 239v1M548 263v2M548 268v3M548 274v3M548 286v3M548 311v2M548 322v5M548 329v2M548 333v1M548 336v1M550 240v1M550 243v1M550 260v1M550 262v1M550 288v1M550 308v2M550 311v2M550 319v1M550 322v1M550 334v2M552 265v6M552 274v6M552 286v3M552 337v1M554 265v6M554 277v6M554 336v1M556 241v1M556 260v1M556 271v3M556 290v4M556 332v2M556 335v2M558 264v4M558 277v3M558 283v3M558 333v1M560 243v1M560 337v2M560 340v1M562 262v6M562 277v9M562 288v3M562 335v1M564 255v1M564 259v6M564 268v3M564 336v1M566 283v3M566 292v1M566 333v1M566 335v1M568 255v7M568 283v3M568 289v1M568 334v1M570 292v2M570 324v1M570 328v1M572 280v3M572 289v1M572 319v1M574 338v2M576 276v1M576 325v3M576 337v2M578 283v3M578 289v1M578 316v9M578 328v3M578 334v4M580 255v1M580 262v3M580 283v3M580 325v6M580 334v4M582 286v2M582 311v2M582 325v3M582 339v1M584 255v1M584 286v2M584 311v2M584 316v3M584 322v3M586 312v1M588 252v3M588 259v3M588 277v3M588 311v2M588 328v3M588 334v4M590 290v2M590 310v1M592 252v1M592 322v3M592 339v1M594 295v9M594 305v1M596 286v3M596 291v1M596 316v3M598 255v1M598 262v3M598 271v6M598 280v3M598 289v1M598 309v1M598 313v3M598 322v6M598 334v2M600 262v1M600 292v1M602 257v1M602 289v2M604 257v1M604 289v2M604 301v3M606 258v1M606 268v1M606 306v1M606 359v2M608 249v1M608 251v1M608 356v1M608 363v3"/>
<path stroke="#0aff00" d="M118 294v4M118 305v1M120 301v3M128 213v1M128 217v3M128 229v3M128 244v1M128 277v3M128 289v3M128 295v3M128 304v3M130 223v3M130 232v10M132 217v6M132 229v3M132 235v6M132 244v3M134 196v3M134 235v3M134 242v2M134 247v3M134 253v3M134 265v1M134 268v2M134 286v3M134 301v5M136 174v4M136 187v3M136 193v3M136 199v3M136 208v3M136 223v3M136 232v3M136 238v3M136 310v2M136 316v3M138 174v4M138 187v3M138 202v3M138 208v6M138 217v3M138 223v3M138 229v5M138 235v3M138 309v1M140 158v5M140 172v3M140 181v3M140 202v6M140 220v3M140 229v3M140 233v2M140 244v3M140 309v1M142 88v3M142 103v3M142 187v3M142 305v1M142 309v2M144 148v1M144 308v1M144 310v1M144 322v1M144 392v2M146 126v1M146 145v3M146 151v3M146 163v6M146 308v1M148 63v1M148 65v3M148 130v9M148 151v1M148 172v1M148 175v3M148 181v3M148 196v3M148 208v1M148 305v1M150 64v1M150 173v2M150 306v1M150 308v1M152 65v1M152 172v2M152 181v3M152 190v3M152 208v3M152 306v2M154 55v9M154 172v1M154 244v3M154 286v3M166 376v3M174 387v1M174 397v3M184 403v2M186 393v1M186 403v2M188 396v1M190 388v3M192 384v1M192 394v2M194 403v2M218 376v6M220 359v2M220 364v3M222 360v1M222 364v3M224 265v3M224 286v3M224 337v9M224 352v3M224 361v3M224 373v3M226 283v2M226 287v2M226 291v1M226 328v1M226 373v3M228 230v1M228 307v3M228 322v1M228 325v3M230 220v2M232 318v4M234 218v4M236 229v1M236 238v3M236 242v2M236 256v3M236 262v3M240 241v3M240 250v3M240 256v3M240 265v1M240 268v1M242 239v11M242 259v3M242 267v1M242 270v1M242 274v1M242 277v1M242 293v2M242 296v2M242 304v3M242 313v3M244 241v3M244 256v3M244 262v3M244 271v2M244 301v3M248 349v1M248 373v3M250 332v2M252 328v1M254 311v8M254 328v1M258 294v1M258 298v6M258 305v2M258 319v3M258 343v3M260 283v3M260 334v1M260 336v1M260 361v2M262 259v6M262 268v3M262 341v1M262 358v3M262 366v1M264 282v2M264 382v3M264 393v1M264 397v3M266 286v1M266 289v2M266 334v2M268 319v3M268 325v3M270 291v2M270 329v1M272 288v1M272 291v1M272 299v2M272 316v3M272 331v1M272 335v2M272 340v3M274 287v1M274 322v3M274 340v3M276 287v1M276 304v3M278 331v1M280 287v1M280 335v2M282 285v2M282 331v2M284 340v3M286 334v1M288 320v2M288 337v3M290 282v1M290 325v1M290 343v2M290 346v2M292 284v1M292 328v3M292 340v3M292 352v1M294 284v1M294 286v1M294 303v1M294 321v1M296 316v4M296 324v4M298 284v1M298 343v3M298 352v1M300 282v1M300 316v1M300 328v3M300 334v3M300 349v3M302 281v1M302 314v3M304 281v1M304 304v6M306 313v1M306 318v1M306 340v3M306 349v3M308 280v1M308 316v3M308 352v1M310 281v1M310 308v2M310 316v3M310 331v3M312 281v1M312 316v3M312 331v3M312 337v3M314 281v1M314 308v3M314 334v3M318 309v1M318 352v2M320 305v1M320 307v1M320 331v6M320 346v3M322 277v1M322 310v1M322 322v6M322 343v3M322 349v3M324 278v1M324 307v1M324 311v2M324 319v3M324 331v6M324 340v3M324 352v2M326 309v1M326 316v3M326 331v3M328 305v1M330 325v1M332 280v1M332 323v2M332 326v5M332 334v3M334 282v1M334 324v1M334 340v3M336 282v1M336 284v1M336 286v1M336 324v1M336 331v3M338 289v1M338 301v1M338 310v3M338 316v3M338 322v1M340 281v1M340 284v1M340 323v1M342 278v1M342 342v1M344 276v1M344 319v1M344 322v3M344 328v2M348 315v1M350 269v1M350 306v1M350 309v1M350 313v1M352 270v1M352 309v2M352 343v3M354 309v2M356 268v1M356 309v3M356 358v2M358 305v1M360 270v1M360 308v2M360 348v1M362 276v1M362 292v2M362 304v3M364 274v2M364 277v2M364 290v3M366 276v1M366 294v1M366 310v3M368 286v2M376 283v3M378 278v1M378 283v5M382 280v3M382 286v4M384 280v3M388 277v3M388 286v3M390 272v2M390 283v3M394 271v1M394 288v1M410 367v1M414 352v3M416 361v3M416 367v1M418 358v3M420 349v3M420 362v2M422 352v3M422 360v1M424 355v3M448 225v1M452 322v3M454 296v2M454 304v3M454 319v9M456 329v1M458 308v2M460 309v1M460 311v1M460 333v1M462 307v2M462 310v2M462 331v1M464 312v1M464 328v1M466 324v1M468 291v1M468 295v1M468 321v1M468 324v1M470 294v1M470 319v1M472 307v3M472 313v2M472 316v1M474 294v7M474 304v6M476 315v2M478 317v2M478 328v1M478 359v2M478 373v3M480 292v1M480 315v1M480 317v2M480 334v3M480 343v9M482 313v1M484 253v1M484 267v1M484 288v1M484 321v2M486 253v1M486 283v1M486 321v1M488 252v1M488 255v1M488 261v1M488 276v1M488 278v2M488 282v1M490 260v1M490 275v1M490 322v1M492 250v1M492 253v2M492 274v2M494 252v1M494 262v1M494 321v1M496 250v2M496 261v1M496 267v1M496 315v3M498 259v2M498 263v3M498 320v1M500 249v1M500 261v1M500 266v2M500 316v1M500 320v1M502 320v1M504 262v3M504 318v2M506 265v3M506 286v3M508 253v3M508 283v6M508 291v1M508 316v1M510 253v3M510 290v1M510 292v2M512 290v1M512 322v1M512 326v1M514 246v1M514 259v3M514 265v3M516 283v3M516 290v1M516 292v1M516 318v1M516 321v1M516 327v1M518 246v1M518 274v3M518 286v3M518 315v1M518 322v2M522 256v2M522 262v9M522 277v3M522 301v3M524 259v1M524 265v3M524 271v9M524 289v6M524 301v3M526 250v1M526 262v1M526 268v3M526 274v3M526 280v3M528 249v1M528 251v2M528 261v1M528 265v3M528 271v3M528 286v6M528 298v3M530 251v2M530 260v1M532 249v1M532 256v2M532 259v2M534 248v3M534 258v1M536 247v1M536 259v1M536 391v3M538 243v1M538 263v3M538 375v1M538 388v6M538 397v3M540 244v1M540 247v1M540 258v1M540 261v1M542 241v1M542 263v2M542 270v2M542 295v1M542 298v5M546 240v1M546 247v1M546 259v1M546 288v1M546 291v2M546 307v1M548 261v2M548 271v3M548 283v3M548 289v1M548 310v1M548 313v6M548 327v2M548 331v2M548 334v2M550 244v1M550 259v1M550 289v2M550 305v3M550 310v1M550 320v2M550 323v2M552 239v1M552 280v3M552 336v1M554 260v2M554 264v1M554 289v2M554 334v2M556 242v2M556 259v1M556 274v3M556 294v1M556 331v1M556 334v1M558 244v1M558 258v1M558 262v2M558 271v6M558 280v3M558 292v1M558 332v1M558 336v1M562 253v3M562 259v3M562 291v1M562 333v2M564 286v5M564 330v1M564 332v2M564 335v1M566 289v2M566 293v3M566 301v3M566 330v3M566 334v1M568 290v1M568 292v1M570 294v1M570 298v6M570 322v2M570 326v2M572 290v1M572 292v1M572 295v1M574 277v1M574 337v1M576 277v2M576 331v3M578 140v3M578 277v3M578 290v2M580 256v6M580 268v3M580 274v3M580 280v3M580 313v3M580 331v3M582 253v1M582 288v1M582 310v1M582 322v3M582 338v1M584 256v6M584 265v3M584 271v3M584 288v3M584 310v1M584 313v3M586 256v3M586 277v3M586 283v3M586 310v2M586 316v3M586 328v3M588 255v4M588 262v3M588 280v6M588 310v1M588 313v3M588 331v3M590 313v3M592 253v1M592 265v3M592 313v3M592 325v3M592 334v3M592 338v1M594 304v1M596 265v3M596 292v2M596 305v2M596 308v2M598 268v3M598 283v3M598 290v1M598 307v2M600 263v2M600 293v2M600 305v1M602 258v1M602 270v1M602 291v1M602 306v1M604 258v2M604 270v1M604 291v3M604 298v3M604 305v1M606 259v1M606 298v3M608 252v1M608 308v1M608 359v2M608 362v1"/>
<path stroke="#2cff00" d="M118 298v7M128 214v3M128 220v1M128 226v3M128 232v6M128 240v1M128 280v3M128 292v3M128 298v3M130 214v1M130 220v3M134 217v6M134 232v3M134 256v3M134 264v1M134 277v1M134 289v3M134 311v2M136 196v3M136 202v6M136 211v6M136 235v3M138 181v6M138 196v3M138 226v3M138 234v1M138 271v2M138 307v2M140 166v3M140 178v3M140 193v6M140 214v3M140 235v3M140 308v1M142 175v3M142 184v3M142 196v3M142 220v3M142 226v6M142 304v1M142 308v1M144 57v1M144 149v1M144 151v2M144 307v1M144 400v3M146 133v2M146 136v9M146 148v3M146 157v3M146 169v1M146 178v3M146 307v1M148 61v2M148 64v1M148 127v3M148 173v1M148 178v3M148 187v3M148 193v3M148 209v2M148 304v1M150 184v3M150 190v3M150 199v9M150 305v1M150 307v1M152 55v3M152 64v1M152 174v7M152 184v6M152 202v3M152 253v3M152 276v1M152 280v1M152 305v1M154 64v1M154 173v1M154 178v6M154 193v3M154 205v6M154 214v3M154 229v6M154 241v3M154 253v6M154 265v12M154 280v3M154 292v3M154 301v3M166 382v3M166 388v2M188 400v3M192 396v3M194 400v3M218 394v3M220 370v1M220 373v1M220 379v3M220 391v3M220 403v2M222 271v3M224 346v3M224 367v2M224 370v3M224 385v3M226 285v1M226 289v2M226 329v2M226 343v3M226 349v3M226 355v3M226 361v3M226 367v3M226 394v3M228 231v1M228 253v3M228 277v3M228 295v9M228 313v3M228 317v2M228 323v2M230 222v1M232 220v2M232 223v1M232 316v2M232 376v3M234 222v2M236 230v2M236 234v1M236 253v3M236 259v3M236 268v1M236 313v1M238 244v3M238 250v3M238 262v2M238 307v3M240 266v2M240 269v5M240 280v3M240 301v6M240 313v3M240 322v3M242 301v3M242 307v3M242 319v2M242 322v2M244 259v3M244 316v3M246 325v1M248 350v2M248 367v3M252 329v2M252 358v3M252 370v1M254 325v1M254 329v2M256 298v3M256 304v1M256 310v1M258 307v3M258 325v3M258 358v3M260 286v2M260 289v1M260 335v1M260 358v3M260 363v2M260 370v3M260 385v3M262 256v3M262 265v3M262 271v1M262 340v1M264 284v4M264 313v3M266 287v2M266 291v2M266 332v2M268 316v3M270 293v2M270 310v6M270 328v1M270 333v1M272 298v1M272 334v1M274 288v1M274 313v3M274 333v1M276 288v2M276 322v3M278 337v3M280 288v1M280 303v1M280 310v3M280 319v3M280 330v1M280 334v1M282 313v3M282 322v3M284 285v1M284 330v1M286 284v1M286 304v3M286 316v6M288 284v1M288 319v1M288 332v2M292 316v3M294 285v1M294 301v2M294 304v3M294 310v3M294 319v2M296 285v1M296 322v2M296 334v3M298 349v3M300 343v3M302 282v1M302 313v1M302 343v3M304 319v3M306 282v1M306 311v2M306 316v2M308 312v1M308 315v1M308 340v6M310 307v1M312 305v2M314 307v1M314 340v3M316 281v1M316 305v2M318 279v1M318 307v2M318 312v1M318 343v3M320 304v1M322 331v3M324 310v1M324 316v3M326 278v1M326 307v2M328 279v2M328 303v2M330 278v1M330 309v1M330 313v3M330 334v3M330 346v3M332 281v2M332 306v1M332 316v3M332 322v1M332 325v1M334 322v2M336 285v1M336 287v1M336 289v1M336 301v6M336 310v3M336 321v1M336 323v1M338 290v3M338 300v1M338 307v3M340 282v1M340 285v1M340 322v1M342 279v1M344 277v1M344 315v1M344 340v2M346 314v2M346 317v2M348 271v1M348 274v1M348 313v2M350 270v2M350 274v1M350 305v1M350 308v1M352 308v1M354 267v1M354 307v2M356 269v1M356 308v1M358 271v1M358 301v4M358 352v3M360 307v1M362 291v1M364 276v1M364 279v4M364 288v2M366 280v3M366 291v3M368 280v3M378 279v4M394 272v2M394 277v3M394 286v2M420 361v1M422 358v2M448 223v2M454 307v3M456 313v2M456 328v1M460 312v2M462 309v1M462 312v1M464 301v6M466 289v2M466 295v3M466 310v3M466 323v1M468 292v2M468 296v2M468 320v1M468 323v1M470 315v1M472 294v2M472 301v3M474 301v3M476 295v1M476 313v2M478 294v1M478 314v3M478 329v1M478 331v1M478 357v2M480 313v2M480 316v1M482 292v1M484 254v1M484 266v1M484 320v1M486 254v1M486 259v3M486 263v2M486 284v2M486 320v1M488 259v2M488 322v1M490 258v2M490 276v1M492 251v2M492 255v1M492 276v1M492 320v1M494 316v3M494 320v1M496 252v2M496 260v1M496 268v1M496 311v4M498 262v1M498 266v2M498 315v1M498 319v1M500 250v2M500 259v2M500 262v3M500 319v1M502 258v1M502 261v1M502 265v1M502 319v1M504 247v1M504 317v1M506 250v6M506 259v3M506 274v3M506 280v3M506 315v1M508 259v3M510 291v1M510 294v1M510 317v2M512 291v1M512 325v1M514 247v6M514 256v3M514 280v8M514 330v1M516 291v1M516 293v2M516 316v2M516 319v2M516 325v2M518 253v3M518 268v3M518 289v1M518 314v1M522 271v3M524 247v2M524 250v1M524 286v3M524 295v6M524 307v3M526 251v1M526 253v1M528 260v1M530 253v2M530 258v2M532 250v1M532 253v1M534 251v2M534 257v1M536 248v5M538 262v1M538 379v3M538 400v3M540 245v1M540 248v2M540 257v1M540 259v2M542 242v1M542 262v1M542 268v2M542 296v2M542 303v1M546 248v2M546 293v1M548 240v1M548 244v1M548 259v2M548 290v1M548 309v1M548 319v3M550 245v1M550 257v2M550 291v2M550 304v1M550 313v3M550 333v1M552 240v1M552 263v2M552 283v3M552 334v2M554 259v1M554 262v2M554 271v6M554 286v3M554 291v2M556 258v1M556 310v2M556 330v1M558 245v1M558 247v3M558 256v2M558 286v4M558 293v2M558 331v1M558 335v1M560 244v1M560 283v5M562 268v3M562 331v2M564 291v1M564 329v1M564 331v1M564 334v1M566 291v1M566 296v5M566 329v1M568 291v1M568 293v1M568 333v1M570 318v1M570 325v1M572 291v1M572 293v1M572 296v2M572 304v3M572 322v3M572 330v1M574 278v1M574 286v2M574 319v12M576 279v1M576 283v5M576 318v1M576 328v3M578 292v2M578 307v3M578 315v1M580 265v3M580 277v3M580 286v5M580 316v9M582 262v3M582 268v3M582 274v3M582 283v3M582 309v1M582 313v6M582 331v3M582 336v2M584 268v3M584 274v6M584 291v1M584 309v1M584 328v3M586 253v1M586 280v3M586 319v6M588 271v6M588 286v2M588 309v1M588 316v12M590 309v1M592 254v1M592 271v3M592 280v6M592 328v3M592 337v1M596 294v1M596 304v1M596 307v1M598 291v2M598 316v3M600 295v3M600 304v1M602 259v1M602 269v1M602 305v1M604 260v1M604 269v1M604 294v1M606 260v1M606 292v2M606 295v3M606 305v1M608 253v2M608 283v3M608 357v1M608 361v1"/>
<path stroke="#4fff00" d="M128 221v5M128 238v2M128 286v3M130 215v5M130 226v6M132 313v3M134 259v5M134 278v2M134 283v3M134 292v6M134 310v1M136 178v3M136 184v3M136 190v3M136 217v3M136 229v3M136 241v1M136 269v4M136 309v1M138 193v3M138 205v3M138 220v3M138 238v2M138 241v1M138 267v1M138 273v1M138 306v1M140 241v3M140 265v3M140 270v1M140 277v3M140 301v3M140 306v2M142 151v1M142 174v1M142 193v3M142 199v3M142 205v12M142 307v1M144 56v1M144 150v1M144 153v1M144 403v2M146 59v2M146 135v1M146 160v3M146 170v2M146 187v9M146 205v6M146 349v3M148 174v1M148 190v3M148 202v6M150 63v1M150 175v3M150 181v3M150 187v3M150 196v3M150 211v3M150 220v3M150 226v3M150 304v1M152 58v6M152 193v6M152 205v3M152 211v2M152 214v3M152 235v15M152 259v3M152 274v2M152 281v2M152 292v3M152 298v3M152 304v1M154 174v1M154 184v9M154 196v9M154 217v12M154 262v3M154 283v3M154 289v3M154 295v6M154 306v1M166 346v3M166 355v6M166 367v3M174 388v9M186 397v1M188 403v2M190 379v1M190 382v1M192 399v1M218 385v3M220 371v1M220 374v1M220 388v3M220 394v3M222 361v3M222 367v2M224 364v3M224 369v1M224 379v3M224 397v3M224 403v2M226 334v2M226 358v3M226 388v3M228 232v6M228 241v12M228 259v3M228 265v3M228 274v3M228 304v3M228 316v1M230 322v1M232 222v1M232 224v2M232 236v2M232 244v2M232 385v3M234 224v3M234 312v1M236 232v2M236 265v1M236 269v2M236 314v2M238 232v6M238 241v3M238 256v3M238 264v2M240 310v3M242 298v3M242 321v1M242 324v1M244 337v3M246 326v1M246 328v3M246 355v3M248 343v5M248 352v3M248 361v3M248 379v3M248 385v3M248 403v2M250 334v1M250 346v3M252 350v2M252 361v3M252 371v2M254 326v2M254 391v3M256 305v3M256 311v2M256 319v3M258 313v3M258 346v3M258 364v2M260 280v1M260 288v1M260 290v2M260 316v3M260 322v3M260 341v11M260 355v3M260 365v2M262 272v2M262 391v3M264 288v1M264 332v2M266 293v2M266 301v6M266 310v3M266 319v6M266 331v1M270 301v3M270 319v6M270 332v1M272 304v6M272 322v6M274 304v3M274 330v1M274 332v1M276 290v4M276 319v3M276 330v1M276 333v1M278 286v1M280 289v1M280 301v2M280 328v2M282 287v1M282 304v3M282 325v3M282 329v2M284 328v2M284 332v2M284 337v3M286 285v1M286 295v3M286 299v2M286 303v1M286 310v3M286 329v2M288 302v2M288 307v3M288 313v3M288 325v3M288 331v1M290 328v3M292 285v1M294 287v1M294 318v1M294 323v2M298 285v1M298 315v1M302 331v3M304 282v1M304 310v3M306 303v4M306 310v1M308 281v1M308 306v1M308 310v2M308 313v2M308 331v3M310 282v1M310 306v1M310 319v3M312 282v1M312 304v1M314 282v2M314 303v1M314 306v1M316 304v1M318 280v1M318 310v2M320 280v1M320 303v1M322 278v1M324 279v1M326 302v2M326 305v2M328 301v2M330 307v2M332 304v2M332 312v1M332 319v3M334 283v1M336 288v1M336 290v2M336 319v2M336 322v1M338 293v7M340 286v1M340 304v6M342 280v2M342 316v3M344 278v1M344 313v2M344 318v1M344 342v1M346 274v1M346 313v1M346 316v1M348 272v1M348 275v1M348 309v1M348 311v2M350 272v1M350 275v1M350 304v1M350 307v1M352 271v1M352 307v1M354 268v1M356 270v1M356 307v1M358 272v2M358 295v6M360 298v3M360 305v2M362 289v2M362 301v3M364 283v5M366 277v2M366 289v2M416 358v3M420 346v3M420 352v6M456 315v2M456 325v3M458 310v1M458 333v1M460 332v1M462 313v2M462 330v1M466 291v2M466 320v3M468 294v1M468 310v3M468 319v1M468 322v1M470 295v1M470 298v3M470 313v2M472 296v2M472 304v3M476 296v2M478 295v1M478 313v1M478 330v1M478 332v4M478 346v3M478 354v1M478 356v1M480 293v1M482 293v1M482 295v1M482 297v1M482 302v11M484 255v11M484 319v1M486 255v4M486 262v1M486 286v1M486 319v1M488 257v2M488 283v2M488 292v1M488 321v1M490 257v1M490 277v2M490 280v1M492 258v1M492 280v1M492 319v1M494 258v1M494 261v1M494 268v2M494 271v1M494 274v1M494 319v1M496 254v2M496 259v1M496 269v2M496 310v1M498 250v2M498 257v2M498 268v2M498 271v2M498 312v3M500 252v1M500 268v2M502 247v1M502 250v1M502 256v2M502 259v2M502 262v3M502 266v1M502 268v1M504 248v1M504 250v3M504 261v1M504 265v1M504 315v2M506 271v3M506 277v2M506 283v3M506 289v1M506 292v1M506 307v3M506 313v2M508 292v1M510 295v6M510 314v3M512 292v1M512 314v2M514 253v3M514 262v3M514 288v1M514 331v1M516 295v3M516 315v1M518 247v1M518 256v3M518 265v3M518 271v3M518 277v3M518 290v5M518 313v1M522 259v3M524 249v1M524 251v2M524 258v1M524 280v3M526 252v1M526 254v1M526 258v1M526 261v1M528 259v1M530 255v1M530 257v1M532 251v2M532 254v2M534 253v4M536 253v3M536 257v2M538 244v1M538 376v3M538 394v3M540 246v1M540 250v3M540 256v1M542 243v1M546 244v2M546 258v1M546 294v1M546 305v2M548 241v1M548 245v1M548 291v2M548 307v2M550 246v1M550 256v1M550 293v1M550 325v1M550 331v2M552 241v1M552 261v2M552 289v1M552 330v1M552 333v1M554 241v1M554 293v2M554 333v1M556 244v1M556 247v6M556 256v2M556 312v1M556 328v2M558 246v1M558 261v1M558 290v1M558 334v1M560 253v3M560 262v9M560 274v3M560 280v3M560 288v1M562 292v1M562 329v2M564 328v1M566 304v1M566 328v1M568 294v1M568 327v1M568 332v1M570 295v3M570 313v5M570 319v3M572 294v1M572 318v1M572 328v2M574 279v1M574 283v3M574 288v1M574 331v3M576 280v3M576 288v2M576 317v1M576 336v1M578 294v1M578 311v4M580 140v3M580 291v1M582 140v3M582 254v1M582 256v3M582 265v3M582 271v3M582 280v3M582 308v1M582 328v3M582 334v2M584 140v3M584 292v2M584 298v3M584 307v2M586 140v3M586 254v1M586 259v6M586 268v3M586 274v3M586 331v3M588 288v2M588 308v1M590 292v1M590 305v4M592 255v4M592 262v3M592 268v3M592 274v6M592 286v2M592 308v2M592 312v1M592 319v3M596 295v1M596 301v3M598 293v1M598 311v2M600 298v3M602 260v3M602 268v1M602 292v1M602 295v1M602 301v3M604 261v1M604 268v1M604 304v1M606 261v1M606 294v1M606 301v3M608 255v2M608 272v5M608 306v1"/>
<path stroke="#71ff00" d="M132 312v1M134 250v3M136 181v3M136 226v3M136 242v1M136 268v1M136 273v3M136 307v2M138 190v3M138 240v1M138 242v2M138 265v2M138 268v3M138 280v3M138 289v3M138 305v1M140 238v2M140 247v3M140 253v6M140 268v2M140 271v5M140 286v6M140 298v3M140 305v1M142 152v1M142 172v2M142 178v6M142 190v3M142 217v3M142 223v3M142 232v2M142 241v3M144 55v1M144 157v3M144 174v1M144 187v3M144 193v3M144 306v1M146 52v3M146 57v2M146 154v3M146 172v3M146 184v3M146 196v3M146 306v1M146 358v3M146 367v3M148 184v3M148 199v3M148 295v6M148 309v1M150 55v8M150 178v3M150 193v3M150 208v2M150 214v3M150 223v3M150 238v12M150 262v2M150 265v1M150 280v2M150 295v3M150 400v3M152 199v3M152 213v1M152 217v6M152 232v3M152 250v3M152 262v4M152 277v3M152 283v1M152 286v6M152 296v2M152 301v3M154 175v3M154 238v3M154 247v3M154 259v3M154 277v3M154 305v1M166 345v1M166 364v3M166 370v3M186 398v1M186 400v3M188 397v1M190 380v2M190 383v2M190 403v2M192 391v1M192 400v3M220 372v1M220 375v4M224 355v3M224 376v3M226 336v7M226 346v3M226 352v3M226 370v3M226 382v6M226 397v6M228 238v3M228 256v3M228 262v3M228 268v6M228 280v1M230 223v1M230 226v2M230 319v3M230 323v2M230 355v3M232 226v3M232 235v1M232 238v3M232 246v1M232 268v3M232 314v2M232 322v3M232 370v6M234 227v2M234 259v3M234 310v2M236 266v2M236 274v1M236 294v1M236 307v3M236 361v3M238 238v3M238 253v3M238 259v3M238 266v1M240 277v3M240 283v12M240 316v1M240 349v1M242 271v3M242 325v1M244 340v3M246 327v1M246 340v3M246 349v1M248 331v3M248 348v1M248 355v6M250 335v5M250 364v3M252 352v3M252 373v3M256 308v2M258 328v2M258 331v6M258 338v2M258 349v3M258 355v3M258 366v4M260 281v2M260 337v4M260 352v3M260 367v3M260 379v3M260 391v3M262 277v1M262 313v3M262 322v3M262 328v3M262 338v2M262 376v3M262 388v3M264 310v3M264 331v1M264 335v2M264 400v3M266 295v6M268 310v6M270 295v3M270 300v1M270 304v3M270 331v1M272 292v2M272 303v1M274 289v2M274 299v2M274 329v1M274 331v1M276 294v1M276 298v3M276 307v6M276 316v3M276 329v1M276 331v2M278 310v3M280 290v2M280 297v4M280 316v3M280 322v3M282 288v1M282 307v3M282 316v6M282 328v1M284 331v1M286 286v1M286 298v1M286 301v2M286 307v3M286 325v4M288 285v2M288 298v4M288 316v3M288 322v3M290 283v1M292 313v3M292 324v1M294 288v1M294 313v5M294 322v1M296 286v1M296 299v2M296 304v3M296 310v3M298 314v1M300 283v1M300 307v3M302 283v1M302 304v6M304 303v1M304 314v2M306 302v1M306 308v2M308 304v2M308 325v3M310 304v2M312 283v1M312 308v2M314 302v1M314 304v2M316 282v2M316 303v1M318 281v1M318 303v1M320 301v2M324 306v1M326 279v1M326 301v1M326 304v1M328 281v1M330 279v1M330 331v3M332 283v2M332 299v2M332 310v2M334 284v1M334 286v1M334 307v3M334 316v3M336 297v1M340 287v2M340 313v3M340 321v1M342 282v1M342 310v3M344 279v4M344 303v4M344 316v2M346 275v1M348 273v1M348 276v2M348 307v2M348 310v1M350 273v1M350 276v1M350 301v3M354 269v1M356 271v1M356 306v1M358 293v2M360 271v1M360 293v5M360 301v4M362 277v2M362 283v6M366 279v1M456 317v8M458 311v1M458 313v1M458 316v1M458 332v1M460 314v1M460 330v2M462 315v1M462 329v1M464 313v2M464 316v2M464 324v1M464 327v1M466 293v2M466 307v3M466 319v1M468 307v3M468 315v1M470 296v2M470 310v3M472 298v3M476 298v6M476 307v6M478 296v2M478 304v3M478 312v1M478 336v4M478 352v2M478 355v1M480 294v2M480 304v3M482 296v1M482 301v1M486 287v1M486 317v2M488 256v1M488 285v3M488 293v2M488 316v3M490 256v1M490 279v1M490 281v2M490 302v3M490 321v1M492 256v2M492 277v1M492 281v2M492 316v3M494 253v2M494 256v2M494 259v2M494 270v1M494 272v2M494 275v2M494 307v3M496 258v1M498 252v1M498 256v1M498 270v1M498 273v1M498 310v2M500 258v1M500 270v1M502 251v1M502 267v1M502 269v2M504 249v1M504 253v1M504 258v3M504 266v3M504 313v2M506 279v1M506 290v2M506 293v2M506 312v1M508 293v8M508 310v3M508 315v1M510 313v1M512 293v1M512 301v3M512 313v1M512 320v2M514 268v6M514 277v3M514 329v1M516 301v3M516 307v8M518 248v5M518 259v6M524 253v2M524 256v2M526 255v1M526 257v1M526 260v1M528 253v1M528 258v1M530 256v1M536 256v1M538 245v1M538 261v1M538 403v2M540 253v3M542 260v2M546 246v1M546 253v3M546 257v1M546 295v10M548 242v2M548 246v1M548 293v1M548 295v3M550 247v6M550 294v10M550 326v2M550 330v1M552 242v2M552 259v2M552 290v1M552 292v1M552 307v16M552 329v1M552 332v1M554 242v3M554 250v3M554 258v1M554 330v3M556 245v2M556 298v9M556 327v1M558 250v3M558 259v2M558 291v1M558 304v3M558 322v3M558 330v1M560 245v1M560 271v3M560 277v3M560 336v1M562 293v1M562 328v1M564 292v1M564 298v3M564 325v3M566 305v2M566 323v2M566 327v1M568 298v6M568 325v2M568 330v2M570 304v2M572 298v6M572 307v1M572 317v1M574 280v3M574 334v3M576 290v1M576 292v2M576 315v2M576 334v2M578 310v1M580 271v3M580 306v1M580 309v1M580 312v1M582 255v1M582 259v3M582 277v3M582 289v2M582 307v1M582 319v3M584 294v2M584 306v1M586 255v1M586 265v3M586 271v3M586 286v4M586 325v3M586 334v3M588 290v2M588 307v1M590 293v2M590 298v3M590 304v1M592 259v3M592 288v3M592 307v1M592 310v2M592 316v3M592 331v3M596 296v2M598 294v1M598 310v1M600 301v3M602 263v2M602 267v1M602 293v2M602 296v5M602 304v1M604 262v1M606 267v1M606 304v1M608 257v1M608 270v2M608 277v6M608 307v1"/>
<path stroke="#94ff00" d="M132 316v3M134 280v3M136 243v1M136 267v1M136 276v3M136 295v3M138 244v2M138 262v3M138 277v2M138 295v3M138 301v4M140 240v1M140 250v3M140 259v3M140 276v1M140 292v3M140 304v1M142 153v4M142 202v3M142 234v2M142 256v3M142 262v3M142 331v3M142 337v3M142 397v3M144 160v3M144 172v2M144 184v3M144 214v3M144 305v1M146 55v2M146 175v3M146 181v3M146 211v4M146 217v9M146 229v3M146 305v1M146 322v6M146 355v3M146 364v3M148 59v2M148 250v6M148 308v1M150 52v3M150 210v1M150 229v6M150 250v6M150 259v3M150 264v1M150 266v2M150 282v1M150 293v2M152 52v3M152 223v3M152 229v3M152 256v3M152 266v2M152 284v2M152 295v1M154 52v3M154 211v3M154 304v1M166 379v3M186 399v1M188 398v2M190 385v3M192 392v2M192 403v2M220 382v6M220 397v6M224 382v3M224 388v6M226 364v3M226 376v3M226 391v3M228 281v1M228 283v1M228 294v1M230 224v1M230 228v1M230 237v1M230 370v3M232 234v1M232 241v2M232 253v3M232 262v6M232 313v1M232 325v2M232 340v3M232 382v3M232 391v3M234 229v1M234 234v1M234 238v4M234 244v1M234 247v3M234 315v1M236 271v2M236 275v4M236 293v1M236 301v6M236 358v3M236 367v3M238 247v3M238 267v3M238 316v1M240 274v3M240 295v3M240 317v2M240 328v3M242 326v2M242 343v6M244 325v1M244 328v3M244 334v3M244 343v1M246 334v1M246 350v2M248 334v3M248 364v3M248 370v2M248 388v3M250 355v6M252 334v1M252 364v3M254 331v1M254 397v3M256 313v3M256 325v3M256 334v1M258 310v1M258 330v1M258 337v1M258 352v3M258 361v3M258 382v3M260 292v1M260 301v3M260 325v3M260 373v3M260 397v2M260 403v2M262 274v2M262 278v1M262 308v2M262 311v2M262 319v3M262 337v1M262 367v3M262 373v3M264 298v9M264 319v3M264 325v6M264 334v1M266 307v3M266 316v3M266 325v3M270 298v2M272 294v1M272 301v2M272 310v3M272 319v3M272 330v1M274 291v2M274 298v1M274 307v3M274 319v3M274 325v4M276 297v1M276 302v2M276 313v3M276 328v1M278 287v1M278 303v1M278 313v3M278 322v6M280 295v2M280 304v6M280 325v3M282 289v1M282 297v1M282 302v2M282 310v3M284 286v1M284 303v7M284 322v6M286 322v3M288 304v3M288 310v3M290 307v3M290 320v2M290 323v2M292 304v3M292 323v1M294 289v3M294 295v3M294 299v2M294 307v3M296 298v1M296 307v3M298 300v1M298 313v1M300 314v2M302 303v1M304 300v1M304 302v1M304 313v1M306 283v1M306 301v1M306 307v1M308 282v1M308 308v2M310 283v1M312 303v1M312 307v1M314 284v1M314 301v1M316 302v1M318 302v1M318 306v1M320 281v1M320 283v1M322 279v1M322 306v1M324 302v2M324 305v1M326 280v1M328 282v2M330 310v3M332 285v2M332 289v6M332 298v1M332 302v2M334 285v1M334 287v4M334 304v3M334 310v6M336 295v2M336 313v6M338 321v1M340 289v1M340 319v2M342 283v3M342 303v1M342 307v3M342 321v1M344 300v3M344 307v3M346 276v2M346 303v4M346 312v1M348 286v3M352 272v1M352 295v3M352 306v1M356 305v1M358 277v3M358 292v1M360 272v2M360 292v1M362 279v1M366 283v6M458 312v1M458 314v2M458 317v1M458 330v1M460 315v1M464 315v1M464 318v1M464 321v3M464 325v2M466 298v6M466 313v6M468 301v6M468 313v2M468 318v1M470 301v9M476 304v3M478 310v2M478 340v3M480 296v2M480 307v6M482 294v1M482 299v2M484 289v1M484 315v1M484 317v2M486 288v1M486 304v3M486 316v1M488 288v3M488 303v3M488 313v3M488 320v1M490 301v1M490 305v2M490 310v1M490 316v3M492 278v2M492 313v3M494 255v1M494 277v2M496 256v2M496 271v2M496 274v3M500 253v1M500 256v2M500 271v1M500 315v1M502 248v2M502 252v1M502 315v1M502 317v2M504 254v4M504 269v2M504 277v3M506 295v1M506 310v2M508 304v6M508 314v1M510 304v3M510 310v3M512 294v2M512 319v1M516 304v3M518 283v3M518 301v3M524 255v1M526 256v1M526 259v1M528 254v2M528 257v1M538 260v1M542 259v1M542 265v3M546 250v3M546 256v1M548 247v3M548 294v1M548 298v3M548 306v1M550 253v3M550 329v1M552 244v1M552 247v1M552 291v1M552 293v1M552 298v3M552 323v3M552 328v1M552 331v1M554 245v5M554 257v1M554 301v3M554 309v8M554 319v3M554 329v1M556 253v3M556 295v1M556 307v3M556 313v2M556 324v3M558 253v3M558 295v6M558 310v3M558 325v3M558 329v1M560 246v1M560 256v6M560 333v1M560 335v1M562 294v4M562 301v3M562 325v3M564 293v3M564 301v3M564 313v3M566 322v1M566 325v2M568 295v3M568 304v1M568 329v1M570 306v3M570 310v1M572 308v2M572 315v2M574 318v1M576 291v1M576 294v1M576 313v2M580 292v1M580 295v1M580 304v2M580 307v2M580 310v2M582 291v2M582 295v1M584 296v2M584 304v2M586 290v1M586 292v1M586 313v3M588 292v1M588 306v1M590 295v3M592 291v2M598 295v3M598 301v3M598 305v2M602 266v1M604 263v2M604 267v1M604 295v3M606 262v1M606 266v1M608 258v1M608 286v2M608 305v1"/>
<path stroke="#b7ff00" d="M132 319v3M136 244v1M136 253v3M136 265v2M136 279v1M136 283v3M136 301v3M136 306v1M138 246v2M138 253v9M138 274v2M138 279v1M138 292v3M138 298v3M140 262v3M140 280v6M142 160v9M142 171v1M142 236v3M142 244v3M142 265v3M142 274v6M142 292v6M142 340v3M142 349v3M142 385v3M142 394v3M142 400v3M144 52v3M144 163v3M144 175v9M144 190v3M144 196v3M144 211v2M144 229v3M144 304v1M146 199v6M146 215v2M146 226v3M146 232v1M146 235v3M146 296v2M146 304v1M146 318v1M146 352v3M148 52v3M148 58v1M148 211v2M148 217v9M148 229v3M148 235v6M148 244v6M148 259v5M148 280v1M148 307v1M150 217v3M150 235v3M150 268v2M150 275v2M150 278v2M150 283v1M150 292v1M150 298v6M152 268v3M154 250v3M166 349v6M166 385v3M190 400v3M224 394v3M226 379v3M228 282v1M228 284v1M228 290v2M228 293v1M230 225v1M230 235v2M230 239v2M230 244v1M230 317v2M230 325v3M230 331v1M230 334v3M230 346v3M230 385v3M232 229v2M232 232v2M232 243v1M232 247v6M232 256v6M232 271v6M232 280v2M232 295v6M232 327v1M232 349v3M232 358v3M234 230v4M234 236v2M234 242v2M234 245v2M234 262v3M234 271v2M234 313v2M234 337v3M234 364v3M236 273v1M236 279v1M236 292v1M236 298v3M236 316v3M236 350v2M238 270v1M238 304v3M238 317v2M238 400v3M240 298v3M240 331v3M240 340v3M242 316v3M242 328v3M242 349v1M244 326v1M244 344v2M244 358v3M244 373v3M246 335v5M246 361v3M248 337v3M248 372v1M248 400v3M250 352v3M250 361v3M250 367v3M252 335v2M252 355v3M252 382v3M252 394v3M252 403v2M254 332v4M256 331v1M256 335v2M258 311v2M258 322v3M258 376v6M258 385v3M258 391v3M260 293v8M260 304v3M260 310v3M260 388v3M260 399v1M262 276v1M262 279v1M262 307v1M262 310v1M262 334v3M262 370v3M262 382v6M262 400v3M264 289v1M264 316v3M266 313v3M270 307v3M272 329v1M274 293v2M274 303v1M276 295v2M276 301v1M276 325v3M278 289v2M278 301v2M278 307v3M278 316v6M278 330v1M280 292v2M280 313v3M282 290v2M282 295v2M282 299v3M284 301v2M284 319v3M286 287v8M286 313v3M288 287v5M290 284v1M290 310v3M290 319v1M290 322v1M292 310v3M292 322v1M294 292v3M294 298v1M296 287v1M296 289v6M296 303v1M296 315v1M298 298v2M298 307v3M300 284v1M300 310v4M302 284v1M302 302v1M302 312v1M304 283v1M304 299v1M308 307v1M312 284v1M312 302v1M316 284v1M316 301v1M318 282v1M318 301v1M318 304v2M320 282v1M320 284v1M320 297v1M320 300v1M322 303v3M322 308v2M324 301v1M324 304v1M326 281v1M326 300v1M328 284v1M328 296v2M330 280v1M332 287v2M332 297v1M332 301v1M334 291v1M334 303v1M336 292v1M336 299v2M338 319v2M340 290v2M340 302v2M340 316v3M342 289v2M342 301v2M342 314v2M342 319v2M344 286v3M344 298v2M344 310v3M346 278v1M346 301v2M346 310v2M348 278v1M348 297v10M350 286v3M350 297v4M352 273v1M352 298v3M352 305v1M354 270v2M356 272v3M356 295v10M360 274v1M360 291v1M458 318v1M458 329v1M458 331v1M460 316v1M460 329v1M462 316v1M462 328v1M464 319v2M466 304v3M468 316v2M472 310v3M478 298v6M478 307v3M478 343v3M480 298v3M482 298v1M484 290v1M484 313v2M484 316v1M486 289v1M486 302v2M488 291v1M488 297v1M488 301v2M488 306v3M488 319v1M490 286v1M490 292v3M490 299v2M490 307v2M490 311v2M490 320v1M492 299v8M492 310v3M494 279v1M494 298v3M494 314v2M496 273v1M496 277v2M496 305v2M496 309v1M498 253v2M498 277v1M498 308v2M500 254v1M500 272v2M500 308v2M500 313v2M502 253v1M502 313v2M502 316v1M504 271v1M504 274v3M504 309v1M504 312v1M506 296v2M506 304v3M508 301v3M508 313v1M510 301v3M510 307v3M512 296v5M512 307v6M514 289v1M514 328v1M516 298v3M518 307v6M528 256v1M538 246v1M538 258v2M542 244v1M542 247v1M542 253v3M542 257v2M548 250v6M548 258v1M548 304v2M550 328v1M552 245v1M552 248v5M552 258v1M552 294v4M552 301v3M552 305v2M552 326v2M554 256v1M554 305v4M554 317v2M554 322v7M556 296v2M556 315v3M556 322v2M558 301v3M558 328v1M560 247v6M560 332v1M560 334v1M562 298v3M562 323v2M564 296v2M564 304v1M564 307v1M566 307v1M568 305v2M568 328v1M570 309v1M570 311v2M572 314v1M574 289v1M574 317v1M576 301v3M576 307v4M576 312v1M578 295v3M580 293v2M580 296v2M580 301v3M582 293v1M582 296v2M582 301v3M586 291v1M586 293v1M588 293v1M588 298v3M588 305v1M590 301v3M592 293v1M596 298v3M598 298v3M598 304v1M602 265v1M604 266v1M606 263v3M608 269v1M608 288v2"/>
<path stroke="#e1ff00" d="M136 245v1M136 247v1M136 256v3M136 264v1M136 280v3M136 289v3M136 304v2M138 248v5M138 276v1M138 283v6M140 295v3M142 157v1M142 169v2M142 239v2M142 247v6M142 259v3M142 268v3M142 283v9M142 298v3M142 326v2M142 334v3M142 355v9M142 373v3M144 154v2M144 166v3M144 170v2M144 199v3M144 205v6M144 213v1M144 220v9M144 235v1M144 259v3M146 233v2M146 244v6M146 262v3M146 280v1M146 295v1M146 298v3M146 319v3M146 328v3M146 346v3M146 370v6M148 57v1M148 213v1M148 232v3M148 264v1M148 281v1M148 294v1M148 301v3M150 256v3M150 270v1M150 274v1M150 277v1M150 284v1M152 226v3M152 271v3M166 361v3M166 373v3M190 391v4M224 400v3M226 403v2M228 285v1M228 289v1M228 292v1M228 330v1M230 229v2M230 238v1M230 241v1M230 245v2M230 253v3M230 265v3M230 304v9M230 316v1M230 332v2M230 403v2M232 231v1M232 277v3M232 282v1M232 301v9M232 328v9M232 346v3M232 355v3M232 379v3M232 394v3M232 400v5M234 235v1M234 253v3M234 273v2M234 296v2M234 335v2M236 291v1M236 376v3M236 388v12M236 403v2M238 313v2M238 325v3M240 319v2M240 343v3M242 331v9M242 350v5M242 394v3M244 327v1M244 346v2M244 352v6M244 361v6M246 331v2M246 343v2M246 367v3M246 388v3M248 394v3M250 370v1M252 337v2M252 376v6M254 336v1M254 340v3M254 400v3M256 322v3M256 328v2M256 332v2M256 346v3M258 316v3M258 370v6M258 388v3M260 307v3M260 328v2M260 382v3M260 394v1M262 283v3M262 316v3M262 379v3M264 290v2M264 308v2M272 295v3M272 313v3M272 328v1M274 295v3M274 301v2M274 310v3M278 288v1M278 291v3M278 299v2M278 304v3M278 329v1M280 294v1M282 298v1M284 287v1M284 292v3M284 313v6M290 313v3M292 286v1M292 300v1M292 321v1M296 288v1M296 301v2M296 313v2M298 286v1M298 297v1M298 304v3M298 310v3M300 304v3M302 300v2M302 310v2M304 298v1M304 301v1M306 284v1M308 303v1M310 284v1M310 303v1M312 300v1M314 285v1M320 296v1M320 298v2M322 280v1M322 300v3M322 307v1M324 280v1M324 299v2M326 282v1M326 298v2M328 285v1M328 294v2M328 299v2M330 281v1M330 299v2M330 302v2M332 295v2M334 292v1M334 298v5M336 293v2M336 298v1M340 297v1M340 301v1M340 310v3M342 286v1M342 291v1M342 304v3M342 313v1M344 283v3M344 295v3M346 279v1M346 286v3M346 297v1M346 300v1M346 307v3M348 279v4M348 289v3M348 295v2M350 295v2M354 272v1M356 275v1M358 280v9M358 290v2M360 275v2M360 280v3M360 289v2M362 280v3M458 319v3M460 317v1M462 317v1M478 349v3M480 301v3M484 291v1M484 312v1M486 290v2M486 298v4M486 310v3M486 314v2M488 295v2M488 309v1M490 283v2M490 287v5M490 297v2M490 309v1M492 283v2M492 289v6M492 298v1M492 307v3M494 304v3M494 312v2M496 279v1M496 298v7M496 307v2M498 255v1M498 274v2M498 278v2M498 298v6M498 307v1M500 255v1M500 274v3M500 307v1M500 311v2M502 254v1M502 312v1M504 272v2M504 280v6M504 298v11M504 310v2M506 298v6M512 304v3M512 316v3M514 290v1M514 327v1M518 295v6M538 247v1M538 253v3M538 257v1M542 245v1M542 248v2M542 256v1M548 256v2M548 301v3M552 246v1M552 256v2M552 304v1M554 253v3M554 295v6M554 304v1M556 318v1M558 313v1M560 289v2M560 329v3M562 304v2M562 307v1M562 316v3M562 322v1M564 305v2M564 308v2M564 324v1M566 308v5M566 319v3M568 323v2M572 313v1M574 290v1M574 316v1M576 295v6M576 304v3M576 311v1M578 298v6M578 305v2M582 294v1M582 306v1M584 301v3M586 294v1M586 298v6M586 305v2M586 309v1M588 294v1M588 304v1M592 294v1M604 265v1M608 268v1M608 290v1M608 304v1"/>
<path stroke="#fffb00" d="M132 322v2M136 246v1M136 248v2M136 259v5M136 286v3M136 292v3M136 298v3M142 158v2M142 253v3M142 271v3M142 280v3M142 301v3M142 364v3M142 370v3M142 376v3M142 382v3M142 391v3M144 156v1M144 169v1M144 202v3M144 217v3M144 232v3M144 236v2M144 244v3M144 280v1M144 295v3M146 253v6M146 278v2M146 281v2M146 301v3M146 334v9M146 361v3M146 379v1M148 55v2M148 214v3M148 256v3M148 265v2M148 279v1M148 282v1M148 293v1M150 271v3M150 285v4M150 290v2M190 395v2M228 286v3M228 388v3M230 231v4M230 242v2M230 256v3M230 277v3M230 298v3M230 313v3M230 337v3M230 352v3M230 361v3M230 382v3M230 388v6M232 283v2M232 294v1M232 343v3M232 352v3M232 361v1M234 250v3M234 275v2M234 295v1M234 316v2M234 346v6M236 280v3M236 286v1M236 289v2M236 296v2M236 310v3M236 322v3M236 373v3M238 271v1M238 274v2M238 291v1M238 298v3M238 310v2M238 315v1M238 322v3M238 331v6M238 382v3M240 321v1M240 334v3M242 340v3M242 361v3M242 397v8M244 331v3M244 348v1M244 370v3M244 376v4M246 333v1M246 345v3M246 352v3M246 358v3M246 376v6M248 376v3M248 382v3M248 397v3M250 340v3M250 349v3M250 371v4M250 382v6M250 400v3M252 397v6M254 337v3M254 385v3M254 394v3M256 316v3M256 330v1M256 337v3M256 352v12M256 367v3M256 400v3M258 340v3M258 394v1M260 330v1M260 376v3M260 395v2M260 400v3M262 280v2M262 394v2M262 397v2M264 292v3M264 307v1M264 322v3M278 294v1M278 298v1M278 328v1M284 288v1M284 310v3M288 292v3M290 285v1M292 298v2M292 302v2M292 307v3M292 320v1M296 296v2M298 292v5M298 302v2M300 285v1M302 285v1M302 289v3M302 299v1M304 284v1M306 285v1M306 300v1M308 283v1M308 300v1M308 302v1M310 285v1M310 302v1M312 285v1M312 299v1M312 301v1M316 285v1M316 300v1M320 285v1M320 295v1M322 281v1M322 298v2M324 281v1M324 298v1M328 293v1M328 298v1M330 282v2M330 296v3M330 301v1M330 306v1M334 293v2M334 297v1M340 292v2M340 295v2M340 299v2M342 287v2M342 295v3M342 299v2M344 289v3M346 283v3M346 295v2M346 298v2M348 283v3M350 285v1M350 289v6M352 274v1M352 304v1M354 273v1M356 276v1M356 281v2M356 292v3M358 274v1M358 289v1M360 283v3M360 288v1M458 328v1M460 328v1M462 318v1M462 325v3M484 307v5M486 307v3M486 313v1M490 285v1M490 295v2M490 313v3M490 319v1M492 285v4M492 297v1M494 280v3M494 301v3M494 310v2M496 280v3M496 295v3M498 276v1M498 292v6M498 305v2M500 280v3M500 286v3M500 306v1M500 310v1M502 255v1M502 309v3M504 289v1M514 291v1M514 325v2M538 248v5M538 256v1M542 246v1M552 253v3M556 319v3M558 314v5M560 291v3M560 328v1M562 306v1M562 308v2M564 322v2M566 313v6M568 307v1M568 310v1M568 320v3M572 310v3M574 291v2M574 304v1M574 315v1M578 304v1M582 298v3M582 305v1M586 295v3M586 304v1M586 308v1M588 295v3M588 301v3M592 295v3M592 305v2M608 259v1M608 267v1M608 291v1"/>
<path stroke="#ffeb00" d="M142 343v6M142 352v3M142 388v3M142 403v2M144 241v3M144 250v3M144 265v4M144 271v3M144 277v3M144 281v2M144 290v2M146 238v6M146 259v3M146 265v1M146 277v1M146 283v2M146 291v1M146 294v1M146 331v3M146 343v3M148 226v3M148 241v3M148 267v3M148 276v3M148 283v2M148 291v2M150 289v1M228 331v3M228 355v3M228 397v3M230 259v6M230 268v3M230 274v3M230 280v1M230 296v2M230 301v3M230 328v3M230 367v3M230 376v3M230 394v3M230 400v3M232 285v1M232 291v3M232 310v3M232 367v3M232 388v3M234 256v3M234 265v2M234 268v2M234 304v3M234 352v3M234 361v3M236 283v1M236 287v2M236 295v1M236 325v1M236 352v6M236 370v3M236 379v3M238 272v2M238 276v1M238 289v2M238 295v3M238 301v3M238 312v1M238 319v3M238 360v10M238 373v3M238 388v9M238 403v2M240 325v3M240 346v1M242 391v3M244 349v2M244 367v3M246 348v1M246 364v3M246 370v3M246 382v3M246 391v3M246 397v2M250 343v3M250 375v4M250 388v3M252 367v3M252 385v3M252 391v3M254 343v2M254 379v6M256 340v6M256 364v3M260 319v3M262 282v1M262 295v6M262 325v3M262 396v1M262 399v1M264 295v3M278 295v3M282 292v3M284 289v3M284 299v2M288 296v2M290 303v4M292 287v1M292 295v3M292 301v1M292 319v1M296 295v1M298 287v1M298 301v1M300 300v1M300 302v2M302 298v1M306 289v3M306 299v1M310 301v1M312 298v1M316 299v1M318 283v1M318 300v1M322 294v1M322 297v1M324 282v1M328 292v1M330 284v1M330 295v1M330 304v2M334 295v2M334 320v2M340 294v1M340 298v1M342 292v3M342 298v1M344 292v3M346 280v3M346 289v3M350 277v1M350 281v4M352 275v1M352 287v2M352 292v3M352 301v3M354 301v3M356 280v1M356 284v2M358 275v2M360 277v1M360 286v2M458 325v3M460 318v4M462 319v1M462 322v3M468 298v3M484 292v1M484 300v1M484 304v3M488 300v1M488 310v3M492 295v2M494 286v12M496 283v9M498 280v12M498 304v1M500 277v2M500 289v3M500 295v3M500 301v5M502 271v2M502 307v2M504 286v3M504 290v4M514 292v1M558 307v3M560 294v1M560 304v1M560 326v2M562 320v2M564 310v3M564 319v3M568 308v2M568 311v9M574 293v1M574 295v1M574 298v6M574 305v3M574 314v1M582 304v1M586 307v1M592 301v4M608 260v1M608 266v1M608 292v1M608 301v3"/>
<path stroke="#ffdb00" d="M136 250v3M142 367v3M144 247v3M144 256v3M144 262v3M144 269v2M144 276v1M144 289v1M144 301v3M146 250v3M146 266v2M146 273v1M146 275v2M146 285v1M146 289v2M146 292v2M146 376v3M148 270v1M148 275v1M148 285v1M148 290v1M228 340v6M228 358v3M228 373v3M230 271v3M230 281v1M230 295v1M230 349v3M230 379v3M230 397v3M232 290v1M234 267v1M234 270v1M234 277v3M234 298v6M234 343v3M236 284v2M236 319v3M236 326v2M236 382v3M238 293v2M238 337v3M238 376v3M238 385v3M240 347v2M244 351v1M246 373v3M246 385v3M248 391v3M250 391v3M250 397v3M250 403v2M252 340v6M252 388v3M256 349v3M260 313v3M262 301v3M262 306v1M284 295v4M288 295v1M290 286v1M290 301v2M290 316v3M292 288v4M298 288v4M300 299v1M300 301v1M304 285v1M306 298v1M308 284v1M308 299v1M308 301v1M312 286v1M314 300v1M318 284v1M318 299v1M320 293v2M322 282v1M322 293v1M322 295v2M324 283v1M324 297v1M326 294v1M326 297v1M330 285v1M334 319v1M346 292v3M348 292v3M350 278v1M350 280v1M352 276v2M352 285v2M352 289v3M354 306v1M356 283v1M356 286v6M360 278v2M462 320v2M484 293v1M484 298v2M484 303v1M486 292v1M486 295v3M488 298v2M494 283v3M496 292v3M500 279v1M500 283v3M500 292v3M500 298v3M502 273v3M502 286v3M502 306v1M504 294v4M514 293v1M514 295v1M518 304v3M542 250v3M558 319v3M560 295v6M560 305v5M560 325v1M562 310v2M562 313v3M562 319v1M564 316v3M574 294v1M574 296v2M574 308v6M580 298v3M592 298v3M608 265v1M608 293v1M608 295v3"/>
<path stroke="#ffcb00" d="M142 328v3M142 379v3M144 238v3M144 253v3M144 274v2M144 283v3M144 292v3M146 268v2M146 271v2M146 274v1M146 400v3M148 274v1M148 289v1M148 403v2M190 397v2M222 382v3M222 400v5M228 337v3M228 349v3M228 361v3M228 370v3M228 376v3M228 385v3M230 247v6M230 282v2M230 294v1M230 340v6M230 358v3M230 364v3M230 373v3M232 286v1M232 289v1M232 337v3M234 280v1M234 294v1M234 355v3M236 364v3M236 385v3M236 400v3M238 280v9M238 292v1M238 370v3M240 337v3M242 358v3M242 388v3M246 394v3M250 379v3M254 364v3M254 376v3M256 403v2M262 286v9M262 304v2M262 403v2M290 289v6M290 296v2M290 300v1M292 292v3M300 298v1M302 286v1M304 286v1M306 297v1M308 298v1M314 292v3M314 297v1M314 299v1M316 298v1M318 297v2M320 292v1M322 283v1M322 292v1M324 284v1M324 295v2M326 283v1M326 291v1M326 293v1M326 295v2M328 286v1M328 291v1M350 279v1M352 278v1M352 284v1M354 274v1M354 287v2M354 293v2M354 298v3M354 305v1M356 277v2M458 322v3M484 301v2M486 293v1M502 276v3M502 280v6M502 289v9M502 304v2M514 296v2M514 304v3M514 310v6M514 324v1M562 312v1M608 261v1M608 294v1M608 298v3"/>
<path stroke="#ffbb00" d="M144 298v3M146 270v1M146 388v3M148 273v1M148 286v1M148 394v3M190 399v1M228 346v3M228 364v3M228 391v6M228 403v2M230 284v2M230 290v2M230 293v1M232 287v2M232 397v3M234 281v3M234 292v2M234 307v3M234 340v3M234 358v3M234 385v3M238 277v2M238 340v6M242 355v3M242 364v2M250 394v3M252 346v4M254 388v3M254 403v2M258 400v3M290 287v1M290 295v1M290 298v2M300 286v1M300 289v6M300 297v1M302 287v1M302 292v3M302 297v1M306 286v1M306 295v2M308 285v2M310 300v1M312 287v1M314 296v1M314 298v1M316 286v1M318 285v1M318 294v1M318 296v1M320 286v1M320 291v1M322 284v1M324 285v1M324 294v1M326 284v1M326 290v1M326 292v1M328 287v2M328 290v1M330 293v2M352 279v1M352 283v1M354 275v1M354 286v1M354 292v1M354 295v3M354 304v1M356 279v1M460 322v6M484 294v4M486 294v1M502 279v1M502 298v6M514 294v1M514 298v3M514 316v3M514 320v4M560 301v3M560 310v6M560 323v2"/>
<path stroke="#ffaa00" d="M146 286v1M148 271v2M148 287v2M148 385v3M222 373v3M222 391v3M222 397v3M228 352v3M228 367v3M228 379v3M230 286v1M230 289v1M230 292v1M234 284v3M234 291v1M234 376v3M238 279v1M238 328v3M238 379v3M238 397v3M254 352v3M254 375v1M290 288v1M300 296v1M302 288v1M302 295v2M304 287v1M304 297v1M306 292v3M310 297v1M312 288v1M314 286v1M314 295v1M316 289v3M316 297v1M318 286v1M318 292v2M318 295v1M320 289v2M322 286v1M322 291v1M324 291v1M324 293v1M326 285v1M326 289v1M328 289v1M330 292v1M354 276v1M354 285v1M514 301v3M514 307v3M514 319v1M560 316v3M560 322v1M608 262v1"/>
<path stroke="#ff9900" d="M144 286v3M146 287v2M146 403v2M148 380v2M148 391v3M222 370v3M222 394v3M228 334v3M228 382v3M230 287v2M234 287v2M234 290v1M234 379v3M236 331v3M254 370v3M256 376v3M258 397v3M258 403v2M300 287v1M300 295v1M304 288v1M304 292v3M304 296v1M306 287v1M308 287v1M308 297v1M310 289v6M310 296v1M310 299v1M312 297v1M316 287v1M316 292v3M316 296v1M320 287v2M322 285v1M322 287v1M322 290v1M324 290v1M324 292v1M330 286v1M330 289v3M352 282v1M354 283v2M354 289v3M608 263v2"/>
<path stroke="#ff8900" d="M146 385v3M148 382v3M148 400v3M222 369v1M222 376v3M222 385v6M228 400v3M234 289v1M234 331v3M236 328v3M236 346v4M240 350v2M240 385v3M254 346v3M256 373v3M256 391v3M300 288v1M304 289v3M304 295v1M306 288v1M308 288v4M308 295v2M310 295v1M310 298v1M312 289v3M312 296v1M314 287v1M314 289v3M316 288v1M316 295v1M318 287v1M318 290v2M322 288v2M324 286v1M324 289v1M326 286v1M330 287v2M352 281v1M354 277v1M560 319v3"/>
<path stroke="#ff7900" d="M146 380v2M146 391v3M146 397v3M222 379v3M232 362v5M234 334v1M234 367v3M234 403v2M236 337v3M236 343v3M242 367v3M242 373v3M242 385v3M244 385v3M244 397v6M252 339v1M254 345v1M254 361v3M256 379v9M256 397v3M258 395v2M310 286v1M312 292v4M314 288v1M318 288v2M324 287v2M326 287v2M352 280v1M354 278v1"/>
<path stroke="#ff6900" d="M148 388v3M236 334v3M238 355v3M240 370v3M240 379v6M240 391v3M242 379v3M244 380v5M244 394v3M244 403v2M246 403v2M254 358v3M256 388v3M310 287v1M354 279v1M354 281v2"/>
<path stroke="#ff5900" d="M146 382v3M234 319v3M234 370v3M234 391v3M234 397v6M238 358v2M240 352v3M240 364v3M240 388v3M240 394v6M242 376v3M242 382v3M244 388v6M246 399v1M254 349v3M254 355v3M254 367v3M256 370v3M256 394v3M308 292v3M310 288v1M354 280v1"/>
<path stroke="#ff4a00" d="M148 397v3M234 318v1M234 325v6M234 373v3M234 394v3M236 340v3M238 346v3M240 400v3M242 370v3M246 400v3"/>
<path stroke="#ff3a00" d="M146 394v3M234 322v3M234 382v3M238 352v3M240 355v9M254 373v2"/>
<path stroke="#ff2e00" d="M238 349v3M240 367v3M240 376v3M240 403v2"/>
<path stroke="#ff2200" d="M234 388v3M242 366v1"/>
<path stroke="#ff1700" d="M240 373v3"/>
<path stroke="#00ffe9" d="M320 429v5"/>
<path stroke="#00ffd4" d="M104 434v11M106 434v11M112 434v11M116 434v11M338 429v5M340 429v5M346 429v5M348 429v5M350 429v5M356 429v5M380 429v5M388 429v5M390 429v5M396 429v5M398 429v5M408 429v5M412 429v5M416 429v5"/>
<path stroke="#00ffbe" d="M98 434v11M100 434v11M108 434v11M110 434v11M114 434v11M118 434v11M120 434v11M314 429v5M316 429v5M322 429v5M324 429v5M328 429v5M330 429v5M332 429v5M334 429v5M336 429v5M342 429v5M344 429v5M352 429v5M354 429v5M358 429v5M368 429v5M374 429v5M378 429v5M384 429v5M386 429v5M394 429v5M400 429v5M410 429v5M418 429v5M420 429v5"/>
<path stroke="#00ffa9" d="M102 434v11M122 434v11M212 429v5M266 429v5M296 434v11M308 429v5M312 429v5M318 429v5M326 429v5M348 434v11M360 429v5M362 429v5M364 429v5M366 429v5M370 429v5M376 429v5M382 429v5M392 429v5M402 429v5M404 429v5M406 429v5M414 429v5M446 429v16M466 429v5M468 429v5M480 429v5M484 429v5M494 429v5M496 429v5M498 429v5M508 429v5"/>
<path stroke="#00ff93" d="M94 434v11M94 465v21M106 445v10M110 465v21M112 445v20M112 476v10M120 429v5M120 455v21M124 434v11M128 429v36M204 429v5M210 429v5M270 429v5M274 429v5M276 434v11M280 434v11M296 429v5M304 434v11M308 434v11M310 429v5M314 434v11M320 434v11M328 434v11M338 434v11M340 434v11M346 434v11M356 434v11M358 434v11M372 429v5M386 434v11M396 434v11M408 434v11M412 434v11M414 434v11M422 429v5M424 429v5M430 434v11M434 429v16M444 434v11M450 429v5M456 429v16M460 434v11M470 429v5M486 429v5M490 429v5M500 429v5M564 429v16M584 429v5"/>
<path stroke="#00ff7e" d="M92 429v26M92 465v21M94 429v5M94 445v20M96 434v11M98 429v5M98 445v41M100 429v5M100 445v31M102 465v11M104 429v5M104 445v41M106 429v5M106 455v31M108 445v41M110 429v5M110 445v10M112 429v5M112 465v11M114 429v5M114 445v41M116 429v5M116 445v41M118 429v5M118 445v41M120 445v10M120 476v10M122 429v5M122 445v41M124 429v5M126 434v11M128 465v11M130 434v11M130 455v21M216 429v5M268 429v5M270 434v11M274 434v11M276 429v5M278 434v11M280 429v5M282 429v5M284 429v16M286 429v5M288 429v5M290 429v16M292 429v5M294 429v16M298 429v16M302 429v5M304 429v5M316 434v11M318 434v11M322 434v11M330 434v11M334 434v11M336 434v11M342 434v11M344 434v11M352 434v11M354 434v11M362 434v11M366 434v11M368 434v11M372 434v11M378 434v11M380 434v11M384 434v11M388 434v11M390 434v11M394 434v11M398 434v11M400 434v11M406 434v11M420 434v11M424 434v11M426 429v16M428 429v16M430 429v5M432 434v11M438 429v5M440 429v16M442 429v16M450 434v11M452 429v5M454 429v16M458 429v5M460 429v5M476 429v5M492 429v5M512 429v5M516 429v5M570 434v11M584 434v11M608 429v5"/>
<path stroke="#00ff68" d="M92 455v10M96 429v5M96 445v41M100 476v10M102 429v5M102 445v20M102 476v10M108 429v5M110 455v10M124 455v21M126 429v5M126 445v31M130 429v5M130 445v10M132 429v5M188 429v5M208 429v5M272 429v16M278 429v5M282 434v11M286 434v11M288 434v11M292 434v11M300 429v16M302 434v11M306 429v5M310 434v11M312 434v11M324 434v11M326 434v11M332 434v11M350 434v11M360 434v11M364 434v11M370 434v11M374 434v11M376 434v11M382 434v11M392 434v11M402 434v11M410 434v11M416 434v11M418 434v11M422 434v11M432 429v5M436 429v16M438 434v11M444 429v5M448 429v16M452 434v11M458 434v11M462 429v5M468 434v11M472 429v5M482 429v5M488 429v5M514 429v5M520 429v5M556 429v5"/>
<path stroke="#02ff53" d="M124 445v10M124 476v10M132 445v10M190 429v5M196 429v5M214 429v5M218 429v5M268 434v11M306 434v11M338 445v10M340 445v10M346 445v10M348 445v10M404 434v11M464 429v5M502 429v5M504 429v5M506 429v5M558 434v11M560 429v5M568 429v16M592 429v5"/>
<path stroke="#04ff3f" d="M104 486v10M112 486v10M120 486v10M126 476v10M128 476v10M132 434v11M132 455v10M134 429v5M266 434v11M294 445v10M296 445v10M314 445v10M318 445v10M320 445v10M328 445v10M342 445v10M344 445v10M380 445v10M386 445v10M388 445v10M390 445v10M396 445v20M408 455v10M410 445v20M420 445v20M424 445v10M434 445v10M446 445v10M466 434v11M478 429v5M498 434v11M524 429v5M552 429v5M554 429v5M556 434v11M570 429v5M572 434v11M578 434v11M580 429v5M582 429v16M588 434v11M604 429v5"/>
<path stroke="#06ff2a" d="M92 486v10M94 486v10M98 486v10M100 486v10M106 486v10M108 486v10M110 486v10M114 486v10M122 486v10M124 486v10M128 486v10M130 476v10M132 465v11M198 429v5M218 434v11M222 429v5M266 445v10M268 445v10M270 445v10M272 445v10M274 445v10M278 445v10M282 445v10M284 445v10M286 445v10M288 445v10M302 445v10M304 445v10M308 445v10M312 445v10M322 445v10M330 445v10M336 445v10M350 445v10M352 445v10M354 445v10M356 445v10M356 465v11M358 445v10M360 445v10M366 455v10M378 445v20M380 455v10M384 445v20M386 455v10M388 455v10M390 455v10M394 445v10M398 445v10M400 445v20M402 455v10M406 445v20M408 445v10M412 445v20M428 445v10M430 445v10M432 445v10M436 445v10M442 445v10M450 445v10M452 445v10M454 445v10M456 445v10M462 434v11M470 434v11M474 429v5M480 434v11M494 434v11M522 429v5M554 434v11M572 429v5M578 429v5M586 429v5M590 429v5M600 429v5"/>
<path stroke="#08ff15" d="M96 486v10M102 486v10M116 486v10M118 486v10M126 486v10M130 486v10M174 429v5M180 429v5M194 429v5M200 429v5M202 429v5M212 434v11M276 445v10M280 445v10M290 445v10M292 445v10M298 445v10M300 445v10M310 445v10M316 445v10M320 455v21M324 445v10M326 445v10M332 445v10M334 445v10M340 465v11M346 455v21M354 465v11M358 455v21M360 455v10M362 445v20M364 445v20M366 445v10M368 445v10M370 455v10M372 445v10M374 445v20M376 445v20M382 445v10M392 445v20M394 455v10M398 455v10M402 445v10M404 455v10M414 445v20M416 445v20M418 445v20M422 445v10M426 445v10M438 445v10M440 445v10M444 445v10M448 445v10M464 434v11M510 429v5M518 429v5M530 429v5M558 429v5M560 434v11M562 429v5M566 429v5M576 429v16M588 429v5"/>
<path stroke="#0aff00" d="M172 429v5M178 429v5M182 429v5M214 434v11M216 434v11M266 455v10M278 455v10M286 455v10M296 455v10M300 455v10M304 455v10M306 445v10M308 455v21M314 465v11M318 455v10M322 465v11M328 465v11M330 455v10M338 455v21M340 455v10M342 455v21M348 455v21M352 465v11M354 455v10M356 455v10M368 455v10M370 445v10M372 455v10M380 465v11M382 455v10M388 465v11M390 465v11M400 465v11M404 445v10M408 465v11M422 455v10M428 455v10M434 455v10M446 455v10M456 455v10M458 445v10M460 445v10M470 445v10M472 434v11M476 434v11M478 434v11M486 434v11M488 434v11M496 434v11M526 429v5M562 434v11M566 434v11M574 429v16M580 434v11M594 429v5M602 429v5"/>
<path stroke="#2cff00" d="M186 429v5M196 434v11M198 434v11M206 429v5M276 455v10M280 455v10M282 455v10M284 455v10M288 455v10M294 455v21M296 465v11M300 465v11M302 465v11M304 465v11M310 455v21M312 455v21M314 455v10M316 465v11M318 465v11M322 455v10M324 455v10M326 465v11M328 455v10M330 465v11M334 455v21M336 455v21M344 455v21M346 476v10M350 455v10M352 455v10M360 465v11M370 465v11M374 465v11M378 465v11M384 465v11M386 465v11M394 465v11M396 465v11M402 465v11M406 465v11M410 465v11M412 465v11M416 465v11M418 465v11M420 465v11M424 455v10M426 455v10M430 455v10M438 455v10M440 455v10M442 455v10M444 455v10M450 455v10M454 455v10M474 434v11M484 434v11M552 434v11M560 445v10M564 445v10M568 445v10M568 465v11M582 445v10M586 434v11M590 434v11M592 434v11M596 429v5M598 429v5M606 429v5"/>
<path stroke="#4fff00" d="M132 476v10M176 429v5M184 429v5M210 434v11M220 429v5M228 434v11M274 455v10M284 465v11M286 465v11M290 455v21M292 455v10M298 455v21M302 455v10M306 455v21M314 476v10M316 455v10M320 476v10M322 476v10M324 465v11M328 476v10M332 455v10M336 476v10M338 476v10M340 476v10M348 476v10M350 465v11M354 476v10M364 465v11M366 465v11M368 465v11M372 465v11M376 465v11M382 465v11M392 465v11M398 465v11M414 465v11M422 465v11M432 455v10M436 455v10M446 465v11M448 455v10M452 455v10M454 465v11M466 445v10M468 445v10M480 445v10M482 434v11M490 434v11M492 434v11M498 455v10M502 434v11M512 434v11M514 434v11M520 434v11M528 429v5M534 429v5M546 429v5M552 445v10M554 445v10M554 465v11M562 445v10M578 445v10M594 434v11M596 434v11M598 434v11M604 434v11"/>
<path stroke="#71ff00" d="M100 496v9M102 496v9M104 496v9M106 496v9M108 496v9M110 496v9M112 496v9M114 496v9M118 496v9M120 496v9M132 486v10M136 429v5M150 429v5M158 429v5M168 429v5M188 434v11M206 434v11M208 434v11M220 434v11M222 434v11M226 434v11M268 455v10M270 455v10M276 465v11M278 465v11M280 465v11M282 465v11M288 465v11M292 465v11M294 476v10M296 476v10M304 476v10M308 476v10M312 476v10M318 476v10M326 455v10M330 476v10M332 465v11M334 476v10M342 476v10M344 476v10M352 476v10M358 476v10M362 465v11M380 476v10M404 465v11M428 465v11M430 465v11M434 465v11M444 465v11M450 465v11M458 455v10M460 455v10M462 445v10M464 445v10M486 445v10M500 434v11M504 434v11M506 434v11M508 434v11M516 434v11M524 434v11M532 429v5M544 429v5M570 455v21M584 445v10"/>
<path stroke="#94ff00" d="M98 496v9M116 496v9M122 496v9M134 434v21M154 429v5M160 429v5M164 429v5M172 434v11M192 429v5M200 434v11M204 434v11M218 445v10M232 465v11M280 476v10M284 476v10M286 476v10M288 476v10M290 476v10M292 476v10M298 476v10M300 476v10M302 476v10M310 476v10M316 476v10M324 476v10M350 476v10M356 476v10M360 476v10M362 476v10M366 476v10M368 476v10M384 476v10M390 476v10M396 476v10M408 476v10M412 476v10M424 465v21M426 465v11M436 465v11M438 465v11M440 465v11M442 465v11M448 465v11M452 465v11M456 465v11M460 465v21M472 445v10M478 445v10M480 465v11M484 445v10M488 445v10M494 445v20M522 434v11M524 455v10M536 429v5M540 429v5M542 429v5M544 434v11M548 429v5M550 429v5M556 445v10M564 465v11M570 445v10M572 465v11M580 465v11M584 455v21M600 434v11M604 445v10M608 434v11"/>
<path stroke="#b7ff00" d="M156 429v5M172 445v20M194 434v11M198 445v10M210 445v10M216 445v10M228 429v5M266 465v11M272 455v10M276 476v10M278 476v10M282 476v10M306 476v10M326 476v10M332 476v10M364 476v10M370 476v10M372 476v10M374 476v10M376 476v10M378 476v10M394 476v10M400 476v10M402 476v10M406 476v10M414 476v10M416 476v10M420 476v10M422 476v10M428 476v10M430 476v10M432 465v21M446 476v10M458 465v11M462 465v11M468 455v10M470 455v21M476 445v10M480 455v10M482 445v10M484 455v10M488 455v10M492 445v10M496 445v20M498 445v10M512 445v20M514 455v10M518 434v11M522 445v10M524 445v10M530 434v11M532 434v11M534 434v11M540 434v11M550 434v11M572 455v10M578 455v10M580 445v10M582 455v21M584 476v10M588 445v10M588 465v11M590 445v10M592 445v10M596 445v10M602 445v10M604 455v21M606 434v11M608 445v10M608 465v11"/>
<path stroke="#e1ff00" d="M94 496v9M96 496v9M124 496v9M128 496v9M134 455v10M158 434v11M168 434v21M176 434v11M180 434v11M186 434v11M196 445v10M202 434v11M214 445v10M228 465v11M232 434v11M268 465v11M270 465v21M274 465v21M382 476v10M386 476v10M388 476v10M398 476v10M410 476v10M418 476v10M434 476v10M436 476v10M438 476v10M440 476v10M442 476v10M450 476v10M454 476v10M464 476v20M466 455v21M468 465v21M470 476v10M472 476v10M482 455v10M486 465v21M490 445v10M494 465v11M506 455v10M508 445v10M510 434v11M514 445v10M514 465v11M516 445v20M520 445v10M538 429v5M546 434v11M552 465v11M558 445v10M564 455v10M566 445v10M568 455v10M572 445v10M574 445v10M576 445v10M578 465v11M586 445v10M586 465v11M592 455v21M602 434v11M608 455v10"/>
<path stroke="#fffb00" d="M92 496v9M126 496v9M130 496v9M134 465v11M136 434v21M154 434v11M156 434v11M162 429v5M170 429v5M176 455v10M192 434v11M212 445v10M222 445v10M224 429v16M228 455v10M272 465v11M346 486v10M392 476v10M404 476v10M426 476v10M444 476v10M452 476v10M456 476v10M458 476v10M462 455v10M464 465v11M466 476v10M470 486v10M476 465v11M478 476v10M480 476v10M484 476v10M486 455v10M496 465v11M500 455v10M502 455v10M506 465v11M518 445v10M522 455v10M524 465v11M526 434v11M528 434v11M536 434v11M542 434v11M556 455v21M560 455v10M562 455v21M568 486v10M570 476v10M574 455v21M576 465v11M580 476v10M586 455v10M588 476v10M590 455v10M596 465v11M598 445v10M602 455v21M606 465v11M608 476v10"/>
<path stroke="#ffeb00" d="M160 434v11M162 434v11M166 429v5M170 445v10M174 434v11M178 434v11M180 445v10M190 434v11M194 445v10M200 445v10M202 445v10M218 476v10M224 445v10M228 445v10M228 476v10M232 455v10M266 476v10M268 476v10M272 476v10M320 486v10M348 486v10M446 486v10M448 476v10M462 476v20M464 455v10M474 465v11M478 455v21M484 465v11M488 465v11M490 465v11M492 455v10M494 476v10M498 465v11M498 486v10M500 445v10M508 455v10M512 465v11M516 465v11M520 455v21M522 465v11M528 445v10M530 445v10M554 486v10M558 455v10M568 476v10M576 455v10M580 455v10M582 476v10M584 486v10M586 476v10M588 455v10M594 445v31M600 445v31M604 476v10"/>
<path stroke="#ffdb00" d="M132 496v9M156 465v11M164 434v11M164 455v10M170 434v11M174 455v10M176 465v11M178 455v10M180 455v10M182 434v11M184 434v11M186 455v21M188 465v11M196 465v11M204 445v10M208 445v10M216 455v10M218 465v11M226 429v5M226 445v10M232 429v5M232 445v10M276 486v10M278 486v10M284 486v10M286 486v10M294 486v10M296 486v10M304 486v10M308 486v10M312 486v10M318 486v10M322 486v10M328 486v10M330 486v10M334 486v10M336 486v10M338 486v10M340 486v10M342 486v10M344 486v10M352 486v10M354 486v10M358 486v10M368 486v10M378 486v10M380 486v10M384 486v10M388 486v10M396 486v10M408 486v10M410 486v10M420 486v10M424 486v10M426 486v10M430 486v10M432 486v10M444 486v10M450 486v10M454 486v10M460 486v10M472 465v11M476 455v10M492 476v10M502 465v11M506 445v10M508 465v11M510 445v10M514 476v10M516 486v10M526 455v10M528 455v21M530 476v20M532 445v10M534 445v10M536 445v10M536 465v11M538 434v11M540 445v10M544 445v10M546 445v10M548 434v11M552 455v10M552 486v10M554 455v10M556 486v10M558 465v11M564 486v10M566 455v10M574 476v10M590 465v11M596 455v10M598 465v11M604 496v9M606 445v10"/>
<path stroke="#ffcb00" d="M148 429v5M152 429v5M154 455v10M156 445v10M164 445v10M166 434v11M182 455v21M184 455v10M188 455v10M190 455v21M196 455v10M210 465v11M218 455v10M226 465v11M230 434v11M236 465v11M280 486v10M282 486v10M288 486v10M290 486v10M300 486v10M302 486v10M310 486v10M314 486v10M316 486v10M332 486v10M356 486v10M360 486v10M362 486v10M364 486v10M370 486v10M372 486v10M374 486v10M376 486v10M382 486v10M386 486v10M390 486v10M392 486v10M394 486v10M398 486v10M400 486v10M402 486v10M404 486v10M406 486v10M414 486v10M416 486v10M418 486v10M428 486v10M434 486v10M436 486v10M438 486v10M440 486v10M442 486v10M452 486v10M456 486v10M458 486v10M466 486v10M472 455v10M474 445v20M474 476v10M476 476v20M480 486v10M482 465v11M490 455v10M490 476v10M492 465v11M498 476v10M504 445v31M512 476v10M514 486v10M518 455v21M524 486v10M528 476v20M530 455v10M532 476v20M534 465v11M542 445v10M544 465v11M554 476v10M556 476v10M558 476v10M560 465v11M562 486v10M570 486v10M598 455v10"/>
<path stroke="#ffbb00" d="M134 496v9M146 429v5M148 434v11M150 465v11M158 445v31M160 455v10M162 465v11M164 465v11M174 445v10M174 465v11M178 465v11M180 465v11M186 445v10M190 445v10M194 465v11M200 465v11M212 455v21M220 445v10M222 455v10M228 486v10M274 486v10M278 496v9M292 486v10M296 496v9M298 486v10M306 486v10M308 496v9M320 496v9M324 486v10M326 486v10M328 496v9M340 496v9M350 486v10M366 486v10M380 496v9M388 496v9M390 496v9M412 486v10M422 486v10M448 486v10M468 486v10M472 486v10M482 476v10M486 486v10M488 476v10M494 486v10M500 465v11M502 445v10M502 476v20M506 486v10M508 476v10M510 455v10M512 486v10M518 486v10M524 476v10M526 445v10M530 465v11M532 455v10M534 476v20M540 455v21M544 455v10M546 455v10M550 445v10M558 486v10M566 465v11M572 476v20M576 486v10M578 476v20M590 476v20M592 476v10M594 476v10M608 496v9"/>
<path stroke="#ffaa00" d="M134 486v10M138 429v5M142 429v16M146 434v11M148 455v10M150 434v11M152 465v11M154 445v10M154 465v11M156 455v10M160 445v10M160 465v11M162 455v10M166 445v10M168 455v21M172 465v11M178 445v10M184 445v10M188 445v10M198 455v21M204 455v10M206 445v10M214 455v10M216 476v10M222 465v21M230 429v5M230 465v11M232 476v10M266 486v10M268 486v10M270 486v10M280 496v9M284 496v9M286 496v9M292 496v9M304 496v9M312 496v9M314 496v9M318 496v9M322 496v9M330 496v9M338 496v9M342 496v9M346 496v9M348 496v9M350 496v9M378 496v9M386 496v9M396 496v9M398 496v9M400 496v9M408 496v9M418 496v9M420 496v9M482 486v10M508 486v10M516 476v10M518 476v10M520 476v10M522 476v10M542 455v31M546 476v10M550 455v10M550 476v10M552 476v10M560 486v10M562 476v10M564 476v10M574 486v10M576 476v10M582 486v10M586 486v10M588 486v10M592 486v19M598 476v10M606 455v10"/>
<path stroke="#ff9900" d="M134 476v10M138 434v11M150 445v20M152 434v11M166 455v10M170 455v10M184 465v11M192 455v10M202 465v11M208 455v21M212 476v10M214 465v11M220 465v21M224 465v21M226 455v10M226 476v10M230 445v10M282 496v9M288 496v9M290 496v9M294 496v9M298 496v9M300 496v9M302 496v9M310 496v9M316 496v9M324 496v9M332 496v9M336 496v9M344 496v9M352 496v9M360 496v9M362 496v9M366 496v9M368 496v9M370 496v9M372 496v9M376 496v9M382 496v9M384 496v9M392 496v9M394 496v9M402 496v9M406 496v9M410 496v9M412 496v9M414 496v9M474 486v10M478 486v10M484 486v10M492 486v10M496 476v10M500 476v20M510 465v11M520 486v10M522 486v10M532 465v11M534 455v10M536 476v10M538 445v10M538 465v11M544 476v10M546 465v11M548 445v10M548 465v11M550 465v11M560 476v10M566 476v10M594 486v10M596 476v10M596 496v9M600 476v10M600 496v9M602 476v10M602 496v9M604 486v10"/>
<path stroke="#ff8900" d="M140 434v11M144 429v16M146 455v10M152 445v10M162 445v10M166 465v11M182 445v10M192 445v10M200 455v10M200 486v10M204 465v11M210 455v10M210 476v10M216 465v11M230 455v10M234 465v11M240 434v11M242 429v5M272 486v10M274 496v9M276 496v9M306 496v9M326 496v9M334 496v9M358 496v9M364 496v9M374 496v9M404 496v9M416 496v9M446 496v9M468 496v9M496 486v10M504 476v10M506 476v10M524 496v9M526 465v11M540 476v10M546 486v10M548 455v10M566 486v10M568 496v9M578 496v9M580 486v19M586 496v9M588 496v9M598 486v19M600 486v10M602 486v10M606 476v20M608 486v10"/>
<path stroke="#ff7900" d="M136 465v31M144 455v10M148 445v10M148 465v11M152 455v10M172 476v10M176 445v10M194 455v10M196 476v10M200 476v10M202 455v10M220 455v10M228 496v9M232 486v10M234 455v10M250 429v5M264 434v11M354 496v9M422 496v9M470 496v9M480 496v9M484 496v9M488 486v10M504 486v10M510 476v20M514 496v9M516 496v9M526 476v20M534 496v9M536 455v10M538 455v10M538 476v20M540 486v10M546 496v9M548 476v10M560 496v9M564 496v9M576 496v9M582 496v9M584 496v9M594 496v9M596 486v10M606 496v9"/>
<path stroke="#ff6900" d="M138 445v10M140 429v5M146 445v10M150 476v10M160 476v10M170 465v11M184 476v10M188 476v10M190 486v10M192 465v11M196 486v10M198 476v10M206 455v10M214 476v10M218 496v9M230 476v10M238 429v5M238 465v11M242 434v11M248 429v5M264 429v5M270 496v9M444 496v9M460 496v9M466 496v9M490 486v10M496 496v9M498 496v9M508 496v9M520 496v9M530 496v9M536 486v10M542 486v10M544 486v10M552 496v9M554 496v9M562 496v9M572 496v9M590 496v9"/>
<path stroke="#ff5900" d="M154 476v10M156 476v10M176 476v10M188 486v10M196 496v9M198 486v10M204 476v10M218 486v10M222 486v10M224 455v10M232 496v9M234 445v10M238 434v11M238 455v10M242 465v11M242 496v9M246 429v5M256 429v5M268 496v9M272 496v9M424 496v9M426 496v9M428 496v9M430 496v9M432 496v9M434 496v9M442 496v9M450 496v9M454 496v9M458 496v9M462 496v9M486 496v9M492 496v9M500 496v9M506 496v9M522 496v9M528 496v9M544 496v9M548 486v10M570 496v9M574 496v9"/>
<path stroke="#ff4a00" d="M136 455v10M144 445v10M144 465v11M146 465v11M162 476v10M174 476v10M176 486v10M180 476v10M194 486v10M206 465v11M212 486v10M216 486v19M226 486v10M230 486v10M234 434v11M236 434v11M236 455v10M240 429v5M248 434v11M250 434v11M260 429v5M264 496v9M266 496v9M356 496v9M436 496v9M440 496v9M448 496v9M452 496v9M456 496v9M488 496v9M490 496v9M494 496v9M502 496v9M512 496v9M532 496v9M538 496v9M550 486v19M558 496v9M566 496v9"/>
<path stroke="#ff3a00" d="M142 455v10M146 476v10M148 476v10M150 486v10M152 476v10M154 486v10M158 476v10M160 486v10M164 476v20M168 476v20M174 486v10M178 476v10M180 486v10M186 476v10M190 476v10M202 476v20M208 476v20M210 486v10M212 496v9M214 486v19M220 486v19M234 476v10M242 486v10M246 434v11M250 465v11M258 429v5M262 429v16M438 496v9M464 496v9M472 496v9M476 496v9M504 496v9M536 496v9M540 496v9M542 496v9M556 496v9"/>
<path stroke="#ff2e00" d="M136 496v9M140 455v10M144 476v20M160 496v9M166 476v10M172 486v10M176 496v9M184 486v10M194 476v10M204 486v10M208 496v9M222 496v9M224 496v9M234 429v5M236 429v5M240 445v20M240 486v10M242 445v20M242 476v10M244 429v5M248 455v10M252 429v5M254 429v5M256 434v11M474 496v9M478 496v9M482 496v9M518 496v9M526 496v9M548 496v9"/>
<path stroke="#ff2200" d="M138 455v21M140 445v10M142 445v10M152 486v10M156 486v10M162 496v9M166 486v10M178 486v10M182 476v20M188 496v9M190 496v9M198 496v9M200 496v9M204 496v9M206 476v10M224 486v10M226 496v9M236 445v10M236 476v10M238 476v29M240 465v21M240 496v9M244 434v11M246 445v10M248 465v11M250 486v10M254 445v20M256 486v19M258 434v11M264 445v10M264 486v10"/>
<path stroke="#ff1700" d="M142 465v21M148 486v19M154 496v9M158 486v10M162 486v10M168 496v9M170 476v10M172 496v9M174 496v9M182 496v9M186 486v10M192 476v20M194 496v9M206 486v10M230 496v9M234 486v10M246 455v10M246 476v10M248 496v9M252 434v11M254 465v11M256 465v11M258 465v11M260 455v10M262 455v10M264 455v10M264 476v10M510 496v9"/>
<path stroke="#ff0b00" d="M138 486v19M142 486v10M146 486v19M150 496v9M152 496v9M156 496v9M158 496v9M178 496v9M180 496v9M184 496v9M202 496v9M238 445v10M244 445v20M246 486v19M248 445v10M248 476v20M250 445v20M250 496v9M254 434v11M258 455v10M258 496v9M260 486v19M262 465v21"/>
<path stroke="#ff0000" d="M138 476v10M140 465v40M142 496v9M144 496v9M164 496v9M166 496v9M170 486v19M186 496v9M192 496v9M206 496v9M210 496v9M234 496v9M236 486v19M244 465v40M246 465v11M250 476v10M252 445v60M254 476v29M256 445v20M256 476v10M258 445v10M258 476v20M260 434v21M260 465v21M262 445v10M262 486v19M264 465v11"/>
</g>
<g shape-rendering="crispEdges"><rect x="410" y="58" width="1" height="9" fill="#20f000"/><rect x="410" y="67" width="1" height="6" fill="#00e0ff"/><rect x="575" y="92" width="3" height="1" fill="#20f000"/><rect x="580" y="92" width="4" height="1" fill="#20f000"/><rect x="582" y="128" width="1" height="44" fill="#0090ff"/><rect x="578" y="96" width="1" height="20" fill="#00b0ff"/><rect x="582" y="96" width="1" height="26" fill="#00c8ff"/><rect x="583" y="176" width="1" height="5" fill="#20f000"/><rect x="579" y="186" width="1" height="14" fill="#00e0a0"/><rect x="583" y="186" width="1" height="12" fill="#00d0ff"/></g>
<rect x="91" y="306" width="518" height="6" fill="#fff"/>
<path fill="#fff" d="M608 52h2v354h-2zM606 52h2v37h-2zM606 140h2v38h-2zM606 229h2v32h-2zM606 312h2v38h-2zM608 428h2v77h-2zM606 455h2v31h-2z"/>
<path fill="#ffc800" d="M608 261.5v7h-6.5z"/><path fill="#30e800" d="M608 356v13h-6z"/>
<path d="M135 52 L141 58.9 L147 65.5 L153 71.8 L159 77.9 L165 83.7 L171 89.3 L177 94.6 L183 99.7 L189 104.6 L195 109.3 L201 113.8 L207 118.2 L213 122.3 L219 126.3 L225 130 L231 133.7 L237 137.2 L243 140.5 L249 143.7 L255 146.8 L261 149.7 L267 152.5 L273 155.2 L279 157.8 L285 160.2 L291 162.6 L297 164.9 L303 167 L309 169.1 L315 171.1 L321 173 L327 174.8 L333 176.5 L339 178.2 L345 179.8 L351 181.3 L357 182.8 L363 184.2 L369 185.5 L375 186.8 L381 188 L387 189.2 L393 190.3 L399 191.3 L405 192.4 L411 193.3 L417 194.3 L423 195.2 L429 196 L435 196.8 L441 197.6 L447 198.3 L453 199.1 L459 199.7 L465 200.4 L471 201 L477 201.6 L483 202.1 L489 202.7 L495 203.2 L501 203.7 L507 204.1 L513 204.6 L519 205 L525 205.4 L531 205.8 L537 206.1 L543 206.5 L545 206.6 L603 207.1" fill="none" stroke="#ff00ff" stroke-width="1.9" stroke-linejoin="round"/>
<text x="278.6" y="31" text-anchor="start" textLength="485.3" lengthAdjust="spacing" style="font-size:13px;" xml:space="preserve">DE 1/PWI-SFC  Spin Plane E-Field Spectra, 200 meter antenna, 104 Hz to 409 kHz</text>
<text x="459.8" y="44.3" text-anchor="start" textLength="124.2" lengthAdjust="spacing" style="font-size:9.2px;font-weight:bold;" xml:space="preserve">(Magenta Line: Fce in Hz)</text>
<text x="281.5" y="418.7" text-anchor="start" textLength="479.9" lengthAdjust="spacing" style="font-size:13px;" xml:space="preserve">DE 1/PWI-LFC  Spin Plane E-Field Spectra, 200 meter antenna, 1.78 Hz to 100 Hz</text>
<rect class="ax" x="90.5" y="51.5" width="863" height="354"/>
<rect class="ax" x="90.5" y="428.5" width="863" height="76"/>
<path class="ax" d="M81 405.5H90M86 376.5H90M86 359.5H90M86 346.5H90M86 337.5H90M86 329.5H90M86 323.5H90M86 317.5H90M86 312.5H90M81 307.5H90M86 278.5H90M86 261.5H90M86 248.5H90M86 239.5H90M86 231.5H90M86 225.5H90M86 219.5H90M86 214.5H90M81 209.5H90M86 180.5H90M86 163.5H90M86 150.5H90M86 141.5H90M86 133.5H90M86 127.5H90M86 121.5H90M86 116.5H90M81 111.5H90M86 82.5H90M86 65.5H90M86 52.5H90"/>
<path class="ax" d="M86 500.5H90M86 493.5H90M86 487.5H90M86 483.5H90M86 480.5H90M86 477.5H90M86 475.5H90M86 473.5H90M81 471.5H90M86 458.5H90M86 451.5H90M86 445.5H90M86 441.5H90M86 438.5H90M86 435.5H90M86 433.5H90M86 430.5H90M81 428.5H90"/>
<path class="ax" d="M116.5 504V509M148.5 504V509M179.5 504V509M210.5 504V514M242.5 504V509M273.5 504V509M305.5 504V509M336.5 504V514M368.5 504V509M399.5 504V509M430.5 504V509M462.5 504V514M493.5 504V509M525.5 504V509M556.5 504V509M588.5 504V514M619.5 504V509M651.5 504V509M682.5 504V509M713.5 504V514M745.5 504V509M776.5 504V509M808.5 504V509M839.5 504V514M871.5 504V509M902.5 504V509M933.5 504V509"/>
<text x="56.2" y="412.8" style="font-size:13px;letter-spacing:-0.3px">10<tspan dx="0" dy="-6.2">2</tspan></text>
<text x="56.2" y="314.8" style="font-size:13px;letter-spacing:-0.3px">10<tspan dx="0" dy="-6.2">3</tspan></text>
<text x="56.2" y="216.8" style="font-size:13px;letter-spacing:-0.3px">10<tspan dx="0" dy="-6.2">4</tspan></text>
<text x="56.2" y="118.8" style="font-size:13px;letter-spacing:-0.3px">10<tspan dx="0" dy="-6.2">5</tspan></text>
<text x="56.2" y="478.8" style="font-size:13px;letter-spacing:-0.3px">10<tspan dx="0" dy="-6.2">1</tspan></text>
<text x="56.2" y="435.8" style="font-size:13px;letter-spacing:-0.3px">10<tspan dx="0" dy="-6.2">2</tspan></text>
<text transform="translate(47,228) rotate(-90)" text-anchor="middle" textLength="88" lengthAdjust="spacing" style="font-size:13px">Frequency (Hz)</text>
<text transform="translate(47,466) rotate(-90)" text-anchor="middle" textLength="53.6" lengthAdjust="spacing" style="font-size:13px">Freq (Hz)</text>
<text x="225.3" y="529.6" text-anchor="end" style="font-size:13px;letter-spacing:-0.12px">16:00</text>
<text x="225.3" y="545.6" text-anchor="end" style="font-size:13px;letter-spacing:-0.12px">2.728</text>
<text x="225.3" y="561.6" text-anchor="end" style="font-size:13px;letter-spacing:-0.12px">86.262</text>
<text x="225.3" y="577.6" text-anchor="end" style="font-size:13px;letter-spacing:-0.12px">11.752</text>
<text x="225.3" y="593.6" text-anchor="end" style="font-size:13px;letter-spacing:-0.12px">-81.253</text>
<text x="351.3" y="529.6" text-anchor="end" style="font-size:13px;letter-spacing:-0.12px">17:00</text>
<text x="351.3" y="545.6" text-anchor="end" style="font-size:13px;letter-spacing:-0.12px">4.016</text>
<text x="351.3" y="561.6" text-anchor="end" style="font-size:13px;letter-spacing:-0.12px">10.597</text>
<text x="351.3" y="577.6" text-anchor="end" style="font-size:13px;letter-spacing:-0.12px">11.118</text>
<text x="351.3" y="593.6" text-anchor="end" style="font-size:13px;letter-spacing:-0.12px">-52.708</text>
<text x="477.3" y="529.6" text-anchor="end" style="font-size:13px;letter-spacing:-0.12px">18:00</text>
<text x="477.3" y="545.6" text-anchor="end" style="font-size:13px;letter-spacing:-0.12px">4.593</text>
<text x="477.3" y="561.6" text-anchor="end" style="font-size:13px;letter-spacing:-0.12px">7.036</text>
<text x="477.3" y="577.6" text-anchor="end" style="font-size:13px;letter-spacing:-0.12px">11.046</text>
<text x="477.3" y="593.6" text-anchor="end" style="font-size:13px;letter-spacing:-0.12px">-36.390</text>
<text x="603.3" y="529.6" text-anchor="end" style="font-size:13px;letter-spacing:-0.12px">19:00</text>
<text x="603.3" y="545.6" text-anchor="end" style="font-size:13px;letter-spacing:-0.12px">4.578</text>
<text x="603.3" y="561.6" text-anchor="end" style="font-size:13px;letter-spacing:-0.12px">5.401</text>
<text x="603.3" y="577.6" text-anchor="end" style="font-size:13px;letter-spacing:-0.12px">10.933</text>
<text x="603.3" y="593.6" text-anchor="end" style="font-size:13px;letter-spacing:-0.12px">-22.835</text>
<text x="728.3" y="529.6" text-anchor="end" style="font-size:13px;letter-spacing:-0.12px">20:00</text>
<text x="854.3" y="529.6" text-anchor="end" style="font-size:13px;letter-spacing:-0.12px">21:00</text>
<text x="59.3" y="544.8" text-anchor="end" style="font-size:13px">R<tspan dy="4" style="font-size:8.2px;letter-spacing:0.25px">e</tspan></text>
<text x="59.0" y="560.8" text-anchor="end" style="font-size:13px">L</text>
<text x="59.0" y="576.8" text-anchor="end" style="font-size:13px">M<tspan dy="4" style="font-size:8.2px;letter-spacing:0.25px">LT</tspan></text>
<text x="59.2" y="592.8" text-anchor="end" style="font-size:13px">M<tspan dy="4" style="font-size:8.2px;letter-spacing:0.25px">LAT</tspan></text>
<text x="429.4" y="612" text-anchor="start" textLength="183.8" lengthAdjust="spacing" style="font-size:13px;" xml:space="preserve">1982-09-25 (268) 15:03 to 21:54</text>
<rect x="966" y="52.7" width="13" height="352.8" fill="url(#cb)"/>
<rect x="966" y="428.5" width="13" height="76.5" fill="url(#cb)"/>
<path class="ax" d="M979.5 52V406M979.5 428V505M979 52.5H989M979 87.5H984M979 122.5H989M979 157.5H984M979 193.5H989M979 228.5H984M979 263.5H989M979 299.5H984M979 334.5H989M979 369.5H984M979 405.5H989M979 428.5H984M979 435.5H984M979 443.5H984M979 450.5H984M979 458.5H989M979 466.5H984M979 473.5H984M979 481.5H984M979 488.5H984M979 496.5H989M979 504.5H984"/>
<text x="992" y="59.8" style="font-size:13px;letter-spacing:-0.3px">10<tspan dx="0" dy="-6.2">-6</tspan></text>
<text x="992" y="129.8" style="font-size:13px;letter-spacing:-0.3px">10<tspan dx="0" dy="-6.2">-8</tspan></text>
<text x="992" y="200.8" style="font-size:13px;letter-spacing:-0.3px">10<tspan dx="0" dy="-6.2">-10</tspan></text>
<text x="992" y="270.8" style="font-size:13px;letter-spacing:-0.3px">10<tspan dx="0" dy="-6.2">-12</tspan></text>
<text x="992" y="341.8" style="font-size:13px;letter-spacing:-0.3px">10<tspan dx="0" dy="-6.2">-14</tspan></text>
<text x="992" y="412.8" style="font-size:13px;letter-spacing:-0.3px">10<tspan dx="0" dy="-6.2">-16</tspan></text>
<text x="992" y="465.8" style="font-size:13px;letter-spacing:-0.3px">10<tspan dx="0" dy="-6.2">-10</tspan></text>
<text x="992" y="503.8" style="font-size:13px;letter-spacing:-0.3px">10<tspan dx="0" dy="-6.2">-15</tspan></text>
<text transform="translate(1049,228) rotate(-90)" text-anchor="middle" textLength="101" lengthAdjust="spacing" style="font-size:13px">Ex (V<tspan dy="-6">2</tspan><tspan dy="6"> m</tspan><tspan dy="-6">-2</tspan><tspan dy="6"> Hz</tspan><tspan dy="-6">-1</tspan><tspan dy="6">)</tspan></text>
<text transform="translate(1042,466) rotate(-90)" text-anchor="middle" textLength="43" lengthAdjust="spacing" style="font-size:13px">LFC Ex</text>
</svg></body></html>
